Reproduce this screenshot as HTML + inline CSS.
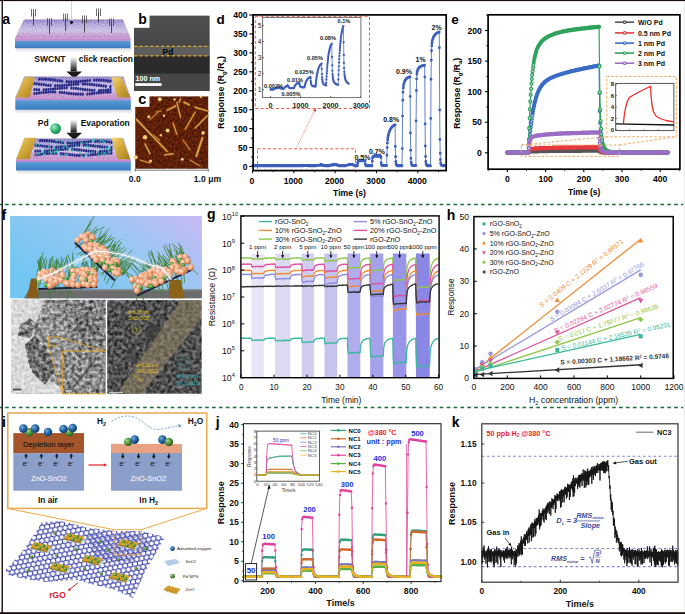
<!DOCTYPE html>
<html><head><meta charset="utf-8"><style>
html,body{margin:0;padding:0;background:#fff;}
svg{display:block;}
text{font-family:"Liberation Sans",sans-serif;}
</style></head><body>
<svg width="685" height="614" viewBox="0 0 685 614">
<defs><filter id="nzl" x="0" y="0" width="1" height="1" color-interpolation-filters="sRGB"><feTurbulence type="fractalNoise" baseFrequency="0.9" numOctaves="1" seed="4" result="n"/><feColorMatrix in="n" result="g" values="0.5 0 0 0 0.25  0.5 0 0 0 0.25  0.5 0 0 0 0.25  0 0 0 0 1"/><feBlend in="g" in2="SourceGraphic" mode="overlay" result="b"/><feComposite in="b" in2="SourceGraphic" operator="in"/></filter><linearGradient id="slabtop" x1="0" y1="0" x2="0" y2="1"><stop offset="0" stop-color="#9686cc"/><stop offset="0.3" stop-color="#b8acdc"/><stop offset="0.6" stop-color="#cec2e6"/><stop offset="0.85" stop-color="#c8a2d4"/><stop offset="1" stop-color="#c690cc"/></linearGradient><linearGradient id="blueface" x1="0" y1="0" x2="0" y2="1"><stop offset="0" stop-color="#5a9ad6"/><stop offset="1" stop-color="#3a7cc0"/></linearGradient><linearGradient id="arrowg" x1="0" y1="0" x2="0" y2="1"><stop offset="0" stop-color="#ffffff"/><stop offset="0.35" stop-color="#b0b0b0"/><stop offset="1" stop-color="#101010"/></linearGradient><linearGradient id="goldg" x1="0" y1="0" x2="1" y2="1"><stop offset="0" stop-color="#f2d878"/><stop offset="0.45" stop-color="#d4aa3c"/><stop offset="1" stop-color="#a88020"/></linearGradient><linearGradient id="shadow" x1="0" y1="0" x2="0" y2="1"><stop offset="0" stop-color="#d8d8de"/><stop offset="1" stop-color="#ffffff"/></linearGradient><radialGradient id="pdball" cx="0.35" cy="0.35" r="0.65"><stop offset="0" stop-color="#a8f0c8"/><stop offset="0.5" stop-color="#40c080"/><stop offset="1" stop-color="#1a8a50"/></radialGradient><radialGradient id="oxball" cx="0.35" cy="0.35" r="0.65"><stop offset="0" stop-color="#7ab0e0"/><stop offset="0.5" stop-color="#2a6aa8"/><stop offset="1" stop-color="#163e70"/></radialGradient><radialGradient id="grball" cx="0.35" cy="0.35" r="0.65"><stop offset="0" stop-color="#a8d890"/><stop offset="0.5" stop-color="#5a9a40"/><stop offset="1" stop-color="#2e5e20"/></radialGradient><radialGradient id="orball" cx="0.35" cy="0.35" r="0.65"><stop offset="0" stop-color="#ffe6d4"/><stop offset="0.55" stop-color="#f4aa80"/><stop offset="1" stop-color="#c87450"/></radialGradient><filter id="nzo" x="0" y="0" width="1" height="1" color-interpolation-filters="sRGB"><feTurbulence type="fractalNoise" baseFrequency="0.7" numOctaves="2" seed="3" result="n"/><feColorMatrix in="n" result="g" values="0.9 0 0 0 0.05  0.9 0 0 0 0.05  0.9 0 0 0 0.05  0 0 0 0 1"/><feBlend in="g" in2="SourceGraphic" mode="overlay" result="b"/><feComposite in="b" in2="SourceGraphic" operator="in"/></filter><filter id="nzs" x="0" y="0" width="1" height="1" color-interpolation-filters="sRGB"><feTurbulence type="fractalNoise" baseFrequency="0.5" numOctaves="3" seed="9" result="n"/><feColorMatrix in="n" result="g" values="0.75 0 0 0 0.12  0.75 0 0 0 0.12  0.75 0 0 0 0.12  0 0 0 0 1"/><feBlend in="g" in2="SourceGraphic" mode="overlay" result="b"/><feComposite in="b" in2="SourceGraphic" operator="in"/></filter><linearGradient id="bgr" x1="0" y1="0" x2="0" y2="1"><stop offset="0" stop-color="#505050"/><stop offset="1" stop-color="#464646"/></linearGradient><filter id="soft" x="-10%" y="-10%" width="120%" height="120%"><feGaussianBlur stdDeviation="0.45"/></filter><linearGradient id="fsky" x1="0" y1="0.6" x2="1" y2="0"><stop offset="0" stop-color="#72c6f2"/><stop offset="0.55" stop-color="#98c8f2"/><stop offset="1" stop-color="#c8b8f4"/></linearGradient><filter id="nzh" x="0" y="0" width="1" height="1" color-interpolation-filters="sRGB"><feTurbulence type="fractalNoise" baseFrequency="0.28" numOctaves="3" seed="5" result="n"/><feColorMatrix in="n" result="g" values="1.1 0 0 0 -0.05  1.1 0 0 0 -0.05  1.1 0 0 0 -0.05  0 0 0 0 1"/><feBlend in="g" in2="SourceGraphic" mode="overlay" result="b"/><feComposite in="b" in2="SourceGraphic" operator="in"/></filter><pattern id="hex" width="5.0" height="8.66" patternUnits="userSpaceOnUse" patternTransform="rotate(-10)"><path d="M0 1.443 L2.5 0 L5 1.443 L5 4.33 L2.5 5.774 L0 4.33 Z M2.5 5.774 L2.5 8.66" fill="none" stroke="#3238a6" stroke-width="1.05"/></pattern></defs>
<text x="216.5" y="24.3" font-size="13.5" font-weight="bold" fill="#000" text-anchor="start" >d</text>
<line x1="249.30" y1="166.50" x2="253.10" y2="166.50" stroke="#000" stroke-width="1.1" />
<text x="247.5" y="169.5" font-size="8.6" font-weight="bold" fill="#000" text-anchor="end" >0</text>
<line x1="249.30" y1="147.56" x2="253.10" y2="147.56" stroke="#000" stroke-width="1.1" />
<text x="247.5" y="150.6" font-size="8.6" font-weight="bold" fill="#000" text-anchor="end" >50</text>
<line x1="249.30" y1="128.62" x2="253.10" y2="128.62" stroke="#000" stroke-width="1.1" />
<text x="247.5" y="131.6" font-size="8.6" font-weight="bold" fill="#000" text-anchor="end" >100</text>
<line x1="249.30" y1="109.69" x2="253.10" y2="109.69" stroke="#000" stroke-width="1.1" />
<text x="247.5" y="112.7" font-size="8.6" font-weight="bold" fill="#000" text-anchor="end" >150</text>
<line x1="249.30" y1="90.75" x2="253.10" y2="90.75" stroke="#000" stroke-width="1.1" />
<text x="247.5" y="93.8" font-size="8.6" font-weight="bold" fill="#000" text-anchor="end" >200</text>
<line x1="249.30" y1="71.81" x2="253.10" y2="71.81" stroke="#000" stroke-width="1.1" />
<text x="247.5" y="74.8" font-size="8.6" font-weight="bold" fill="#000" text-anchor="end" >250</text>
<line x1="249.30" y1="52.88" x2="253.10" y2="52.88" stroke="#000" stroke-width="1.1" />
<text x="247.5" y="55.9" font-size="8.6" font-weight="bold" fill="#000" text-anchor="end" >300</text>
<line x1="249.30" y1="33.94" x2="253.10" y2="33.94" stroke="#000" stroke-width="1.1" />
<text x="247.5" y="36.9" font-size="8.6" font-weight="bold" fill="#000" text-anchor="end" >350</text>
<line x1="249.30" y1="15.00" x2="253.10" y2="15.00" stroke="#000" stroke-width="1.1" />
<text x="247.5" y="18.0" font-size="8.6" font-weight="bold" fill="#000" text-anchor="end" >400</text>
<line x1="251.00" y1="157.03" x2="253.10" y2="157.03" stroke="#000" stroke-width="0.9" />
<line x1="251.00" y1="138.09" x2="253.10" y2="138.09" stroke="#000" stroke-width="0.9" />
<line x1="251.00" y1="119.16" x2="253.10" y2="119.16" stroke="#000" stroke-width="0.9" />
<line x1="251.00" y1="100.22" x2="253.10" y2="100.22" stroke="#000" stroke-width="0.9" />
<line x1="251.00" y1="81.28" x2="253.10" y2="81.28" stroke="#000" stroke-width="0.9" />
<line x1="251.00" y1="62.34" x2="253.10" y2="62.34" stroke="#000" stroke-width="0.9" />
<line x1="251.00" y1="43.41" x2="253.10" y2="43.41" stroke="#000" stroke-width="0.9" />
<line x1="251.00" y1="24.47" x2="253.10" y2="24.47" stroke="#000" stroke-width="0.9" />
<line x1="252.60" y1="170.60" x2="252.60" y2="173.20" stroke="#000" stroke-width="1" />
<text x="252.0" y="183.5" font-size="8.6" font-weight="bold" fill="#000" text-anchor="middle" >0</text>
<line x1="293.90" y1="170.60" x2="293.90" y2="173.20" stroke="#000" stroke-width="1" />
<text x="293.3" y="183.5" font-size="8.6" font-weight="bold" fill="#000" text-anchor="middle" >1000</text>
<line x1="335.20" y1="170.60" x2="335.20" y2="173.20" stroke="#000" stroke-width="1" />
<text x="334.6" y="183.5" font-size="8.6" font-weight="bold" fill="#000" text-anchor="middle" >2000</text>
<line x1="376.50" y1="170.60" x2="376.50" y2="173.20" stroke="#000" stroke-width="1" />
<text x="375.9" y="183.5" font-size="8.6" font-weight="bold" fill="#000" text-anchor="middle" >3000</text>
<line x1="417.80" y1="170.60" x2="417.80" y2="173.20" stroke="#000" stroke-width="1" />
<text x="417.2" y="183.5" font-size="8.6" font-weight="bold" fill="#000" text-anchor="middle" >4000</text>
<line x1="273.25" y1="170.60" x2="273.25" y2="172.10" stroke="#000" stroke-width="0.9" />
<line x1="314.55" y1="170.60" x2="314.55" y2="172.10" stroke="#000" stroke-width="0.9" />
<line x1="355.85" y1="170.60" x2="355.85" y2="172.10" stroke="#000" stroke-width="0.9" />
<line x1="397.15" y1="170.60" x2="397.15" y2="172.10" stroke="#000" stroke-width="0.9" />
<line x1="438.45" y1="170.60" x2="438.45" y2="172.10" stroke="#000" stroke-width="0.9" />
<text x="349.5" y="195.6" font-size="8.6" font-weight="bold" fill="#000" text-anchor="middle" >Time (s)</text>
<text transform="translate(223.6,92.4) rotate(-90)" font-size="8.8" font-weight="bold" fill="#000" text-anchor="middle">Response (R<tspan font-size="6" dy="2">g</tspan><tspan dy="-2">/R</tspan><tspan font-size="6" dy="2">a</tspan><tspan dy="-2">)</tspan></text>
<polyline points="252.6,165.9 252.8,165.9 253.1,165.9 253.3,165.9 253.6,165.9 253.8,165.9 254.1,165.9 254.3,165.9 254.6,165.9 254.8,165.9 255.1,165.9 255.3,165.9 255.6,165.9 255.8,165.9 256.1,165.9 256.3,165.9 256.6,165.9 256.8,165.9 257.1,165.9 257.3,165.9 257.6,165.9 257.8,165.9 258.1,165.9 258.3,165.9 258.5,165.9 258.8,165.9 259.0,165.9 259.3,165.9 259.5,165.9 259.8,165.9 260.0,165.9 260.3,165.9 260.5,165.9 260.8,165.9 261.0,165.9 261.3,165.9 261.5,165.9 261.8,165.9 262.0,165.9 262.3,165.9 262.5,165.9 262.8,165.9 263.0,165.9 263.3,165.9 263.5,165.9 263.8,165.9 264.0,165.9 264.2,165.9 264.5,165.9 264.7,165.8 265.0,165.8 265.2,165.8 265.5,165.8 265.7,165.8 266.0,165.8 266.2,165.8 266.5,165.9 266.7,165.9 267.0,165.9 267.2,165.9 267.5,165.9 267.7,165.9 268.0,165.9 268.2,165.9 268.5,165.9 268.7,165.9 269.0,165.9 269.2,165.9 269.5,165.9 269.7,165.9 269.9,165.9 270.2,165.9 270.4,165.9 270.7,165.9 270.9,165.9 271.2,165.9 271.4,165.9 271.7,165.9 271.9,165.8 272.2,165.8 272.4,165.8 272.7,165.8 272.9,165.8 273.2,165.8 273.4,165.8 273.7,165.8 273.9,165.8 274.2,165.8 274.4,165.8 274.7,165.8 274.9,165.8 275.1,165.8 275.4,165.8 275.6,165.8 275.9,165.8 276.1,165.8 276.4,165.8 276.6,165.8 276.9,165.8 277.1,165.8 277.4,165.8 277.6,165.8 277.9,165.8 278.1,165.8 278.4,165.9 278.6,165.9 278.9,165.9 279.1,165.9 279.4,165.9 279.6,165.9 279.9,165.9 280.1,165.9 280.4,165.9 280.6,165.9 280.8,165.9 281.1,165.9 281.3,165.9 281.6,165.9 281.8,165.9 282.1,165.9 282.3,165.9 282.6,165.9 282.8,165.9 283.1,165.9 283.3,165.9 283.6,165.9 283.8,165.9 284.1,165.9 284.3,165.9 284.6,165.9 284.8,165.9 285.1,165.8 285.3,165.8 285.6,165.8 285.8,165.8 286.1,165.8 286.3,165.8 286.5,165.8 286.8,165.8 287.0,165.8 287.3,165.8 287.5,165.8 287.8,165.8 288.0,165.8 288.3,165.8 288.5,165.8 288.8,165.8 289.0,165.8 289.3,165.7 289.5,165.7 289.8,165.7 290.0,165.7 290.3,165.7 290.5,165.7 290.8,165.7 291.0,165.7 291.3,165.7 291.5,165.7 291.8,165.7 292.0,165.7 292.2,165.7 292.5,165.8 292.7,165.8 293.0,165.8 293.2,165.8 293.5,165.8 293.7,165.8 294.0,165.8 294.2,165.8 294.5,165.8 294.7,165.8 295.0,165.8 295.2,165.8 295.5,165.8 295.7,165.8 296.0,165.8 296.2,165.8 296.5,165.8 296.7,165.8 297.0,165.8 297.2,165.8 297.5,165.8 297.7,165.8 297.9,165.8 298.2,165.8 298.4,165.8 298.7,165.8 298.9,165.8 299.2,165.8 299.4,165.8 299.7,165.8 299.9,165.8 300.2,165.8 300.4,165.8 300.7,165.7 300.9,165.7 301.2,165.7 301.4,165.7 301.7,165.7 301.9,165.7 302.2,165.7 302.4,165.7 302.7,165.7 302.9,165.7 303.2,165.7 303.4,165.6 303.6,165.6 303.9,165.6 304.1,165.6 304.4,165.6 304.6,165.6 304.9,165.6 305.1,165.6 305.4,165.6 305.6,165.6 305.9,165.6 306.1,165.6 306.4,165.6 306.6,165.6 306.9,165.6 307.1,165.6 307.4,165.6 307.6,165.6 307.9,165.7 308.1,165.7 308.4,165.8 308.6,165.8 308.9,165.8 309.1,165.8 309.3,165.8 309.6,165.8 309.8,165.8 310.1,165.8 310.3,165.8 310.6,165.8 310.8,165.8 311.1,165.8 311.3,165.8 311.6,165.8 311.8,165.8 312.1,165.8 312.3,165.8 312.6,165.8 312.8,165.8 313.1,165.8 313.3,165.8 313.6,165.8 313.8,165.8 314.1,165.8 314.3,165.8 314.6,165.8 314.8,165.8 315.0,165.7 315.3,165.7 315.5,165.7 315.8,165.6 316.0,165.6 316.3,165.6 316.5,165.5 316.8,165.5 317.0,165.5 317.3,165.5 317.5,165.5 317.8,165.4 318.0,165.4 318.3,165.4 318.5,165.4 318.8,165.4 319.0,165.4 319.3,165.4 319.5,165.4 319.8,165.3 320.0,165.3 320.2,165.3 320.5,165.3 320.7,165.3 321.0,165.3 321.2,165.3 321.5,165.3 321.7,165.3 322.0,165.3 322.2,165.3 322.5,165.3 322.7,165.3 323.0,165.4 323.2,165.5 323.5,165.6 323.7,165.7 324.0,165.7 324.2,165.7 324.5,165.7 324.7,165.7 325.0,165.7 325.2,165.8 325.5,165.8 325.7,165.8 325.9,165.8 326.2,165.8 326.4,165.8 326.7,165.8 326.9,165.8 327.2,165.8 327.4,165.8 327.7,165.8 327.9,165.8 328.2,165.8 328.4,165.8 328.7,165.8 328.9,165.8 329.2,165.7 329.4,165.7 329.7,165.6 329.9,165.5 330.2,165.4 330.4,165.4 330.7,165.3 330.9,165.3 331.2,165.2 331.4,165.2 331.6,165.2 331.9,165.1 332.1,165.1 332.4,165.1 332.6,165.0 332.9,165.0 333.1,165.0 333.4,165.0 333.6,165.0 333.9,164.9 334.1,164.9 334.4,164.9 334.6,164.9 334.9,164.9 335.1,164.9 335.4,164.9 335.6,164.8 335.9,164.8 336.1,164.8 336.4,164.8 336.6,164.8 336.9,164.8 337.1,165.1 337.3,165.3 337.6,165.4 337.8,165.5 338.1,165.6 338.3,165.6 338.6,165.6 338.8,165.7 339.1,165.7 339.3,165.7 339.6,165.7 339.8,165.7 340.1,165.7 340.3,165.7 340.6,165.7 340.8,165.7 341.1,165.7 341.3,165.7 341.6,165.8 341.8,165.8 342.1,165.8 342.3,165.8 342.6,165.8 342.8,165.8 343.0,165.8 343.3,165.8 343.5,165.8 343.8,165.8 344.0,165.8 344.3,165.8 344.5,165.8 344.8,165.8 345.0,165.8 345.3,165.8 345.5,165.8 345.8,165.7 346.0,165.5 346.3,165.4 346.5,165.3 346.8,165.3 347.0,165.2 347.3,165.1 347.5,165.0 347.8,165.0 348.0,164.9 348.3,164.9 348.5,164.8 348.7,164.8 349.0,164.7 349.2,164.7 349.5,164.7 349.7,164.6 350.0,164.6 350.2,164.6 350.5,164.5 350.7,164.5 351.0,164.5 351.2,164.5 351.5,164.5 351.7,164.4 352.0,164.4 352.2,164.4 352.5,164.4 352.7,164.4 353.0,164.8 353.2,165.1 353.5,165.3 353.7,165.4 354.0,165.5 354.2,165.5 354.4,165.6 354.7,165.6 354.9,165.6 355.2,165.6 355.4,165.7 355.7,165.7 355.9,165.7 356.2,165.7 356.4,165.7 356.7,165.7 356.9,165.7 357.2,165.7 357.4,165.7 357.7,163.3 357.9,161.7 358.2,161.2 358.4,160.9 358.7,160.9 358.9,160.8 359.2,160.8 359.4,160.8 359.6,160.8 359.9,160.8 360.1,160.8 360.4,160.8 360.6,160.8 360.9,160.8 361.1,160.8 361.4,160.8 361.6,160.8 361.9,160.8 362.1,160.8 362.4,160.8 362.6,160.8 362.9,160.8 363.1,160.9 363.4,160.9 363.6,160.9 363.9,160.9 364.1,160.9 364.4,160.9 364.6,160.9 364.9,160.9 365.1,160.9 365.3,164.0 365.6,165.2 365.8,165.6 366.1,165.7 366.3,165.8 366.6,165.8 366.8,165.8 367.1,165.8 367.3,165.8 367.6,165.8 367.8,165.9 368.1,165.9 368.3,165.9 368.6,165.9 368.8,165.9 369.1,165.9 369.3,165.9 369.6,165.9 369.8,165.9 370.1,165.9 370.3,165.9 370.6,165.9 370.8,165.9 371.0,165.8 371.3,165.8 371.5,165.8 371.8,165.8 372.0,165.8 372.3,161.2 372.5,158.2 372.8,157.0 373.0,156.6 373.3,156.4 373.5,156.4 373.8,156.4 374.0,156.3 374.3,156.3 374.5,156.3 374.8,156.3 375.0,156.3 375.3,156.3 375.5,156.3 375.8,156.3 376.0,156.3 376.3,156.3 376.5,156.3 376.7,156.3 377.0,156.3 377.2,156.3 377.5,156.3 377.7,156.3 378.0,156.3 378.2,156.2 378.5,156.2 378.7,156.2 379.0,156.2 379.2,156.2 379.5,156.2 379.7,156.2 380.0,156.2 380.2,156.2 380.5,156.2 380.7,156.2 381.0,157.6 381.2,162.7 381.5,164.6 381.7,165.3 382.0,165.5 382.2,165.6 382.4,165.6 382.7,165.6 382.9,165.6 383.2,165.6 383.4,165.6 383.7,165.6 383.9,165.6 384.2,165.6 384.4,165.6 384.7,165.6 384.9,165.6 385.2,165.6 385.4,165.6 385.7,165.6 385.9,165.6 386.2,165.6 386.4,165.6 386.7,165.6 386.9,155.3 387.2,147.6 387.4,142.9 387.7,139.9 387.9,137.8 388.1,136.3 388.4,135.1 388.6,134.1 388.9,133.2 389.1,132.4 389.4,131.8 389.6,131.1 389.9,130.6 390.1,130.0 390.4,129.5 390.6,129.1 390.9,128.7 391.1,128.3 391.4,127.9 391.6,127.6 391.9,127.3 392.1,127.0 392.4,126.8 392.6,126.5 392.9,126.3 393.1,126.1 393.4,125.9 393.6,125.7 393.8,125.5 394.1,125.4 394.3,125.2 394.6,125.1 394.8,125.0 395.1,124.9 395.3,146.5 395.6,156.7 395.8,161.5 396.1,163.8 396.3,164.9 396.6,165.4 396.8,165.6 397.1,165.7 397.3,165.8 397.6,165.8 397.8,165.8 398.1,165.8 398.3,165.8 398.6,165.8 398.8,165.8 399.0,165.9 399.3,165.9 399.5,165.9 399.8,165.9 400.0,165.9 400.3,165.9 400.5,165.9 400.8,165.9 401.0,165.9 401.3,165.9 401.5,165.9 401.8,165.9 402.0,165.9 402.3,148.6 402.5,116.1 402.8,100.3 403.0,92.3 403.3,88.1 403.5,85.7 403.8,84.2 404.0,83.2 404.3,82.4 404.5,81.8 404.7,81.2 405.0,80.8 405.2,80.3 405.5,80.0 405.7,79.6 406.0,79.3 406.2,79.0 406.5,78.8 406.7,78.5 407.0,78.3 407.2,78.1 407.5,78.0 407.7,77.8 408.0,77.7 408.2,77.5 408.5,77.4 408.7,77.3 409.0,77.2 409.2,77.1 409.5,77.0 409.7,77.0 410.0,76.9 410.2,96.5 410.4,133.0 410.7,150.3 410.9,158.4 411.2,162.2 411.4,164.0 411.7,164.9 411.9,165.3 412.2,165.5 412.4,165.6 412.7,165.6 412.9,165.6 413.2,165.6 413.4,165.6 413.7,165.6 413.9,165.6 414.2,165.6 414.4,165.6 414.7,165.6 414.9,165.6 415.2,165.6 415.4,165.6 415.7,165.6 415.9,165.6 416.1,120.9 416.4,90.5 416.6,78.9 416.9,74.2 417.1,72.1 417.4,70.9 417.6,70.2 417.9,69.6 418.1,69.1 418.4,68.7 418.6,68.4 418.9,68.0 419.1,67.7 419.4,67.5 419.6,67.2 419.9,67.0 420.1,66.8 420.4,66.6 420.6,66.5 420.9,66.3 421.1,66.2 421.4,66.1 421.6,66.0 421.8,65.9 422.1,65.8 422.3,65.7 422.6,65.7 422.8,65.6 423.1,65.6 423.3,65.5 423.6,65.5 423.8,65.4 424.1,65.4 424.3,65.4 424.6,65.3 424.8,77.1 425.1,123.9 425.3,146.0 425.6,156.4 425.8,161.4 426.1,163.7 426.3,164.8 426.6,165.3 426.8,165.6 427.1,165.7 427.3,165.8 427.5,165.8 427.8,165.8 428.0,165.8 428.3,165.8 428.5,165.8 428.8,165.8 429.0,165.8 429.3,165.8 429.5,165.8 429.8,165.8 430.0,165.9 430.3,165.9 430.5,165.9 430.8,118.4 431.0,79.3 431.3,60.3 431.5,50.7 431.8,45.8 432.0,43.0 432.3,41.3 432.5,40.1 432.8,39.3 433.0,38.5 433.2,37.9 433.5,37.3 433.7,36.8 434.0,36.4 434.2,36.0 434.5,35.6 434.7,35.2 435.0,34.9 435.2,34.6 435.5,34.4 435.7,34.1 436.0,33.9 436.2,33.7 436.5,33.5 436.7,33.3 437.0,33.1 437.2,33.0 437.5,32.8 437.7,32.7 438.0,32.6 438.2,32.5 438.5,32.4 438.7,32.3 438.9,32.2 439.2,32.1 439.4,47.8 439.7,110.0 439.9,139.4 440.2,153.3 440.4,159.8 440.7,162.9 440.9,164.4 441.2,165.1 441.4,165.4 441.7,165.6 441.9,165.6 442.2,165.7 442.4,165.7 442.7,165.7 442.9,165.7 443.2,165.7 443.4,165.7 443.7,165.7 443.9,165.7 444.1,165.6 444.4,165.6 444.6,165.6 444.9,165.6" fill="none" stroke="#3d5fba" stroke-width="0.8" stroke-linejoin="round" />
<path d="M252.6 165.9h0M252.8 165.9h0M253.1 165.9h0M253.3 165.9h0M253.6 165.9h0M253.8 165.9h0M254.1 165.9h0M254.3 165.9h0M254.6 165.9h0M254.8 165.9h0M255.1 165.9h0M255.3 165.9h0M255.6 165.9h0M255.8 165.9h0M256.1 165.9h0M256.3 165.9h0M256.6 165.9h0M256.8 165.9h0M257.1 165.9h0M257.3 165.9h0M257.6 165.9h0M257.8 165.9h0M258.1 165.9h0M258.3 165.9h0M258.5 165.9h0M258.8 165.9h0M259.0 165.9h0M259.3 165.9h0M259.5 165.9h0M259.8 165.9h0M260.0 165.9h0M260.3 165.9h0M260.5 165.9h0M260.8 165.9h0M261.0 165.9h0M261.3 165.9h0M261.5 165.9h0M261.8 165.9h0M262.0 165.9h0M262.3 165.9h0M262.5 165.9h0M262.8 165.9h0M263.0 165.9h0M263.3 165.9h0M263.5 165.9h0M263.8 165.9h0M264.0 165.9h0M264.2 165.9h0M264.5 165.9h0M264.7 165.8h0M265.0 165.8h0M265.2 165.8h0M265.5 165.8h0M265.7 165.8h0M266.0 165.8h0M266.2 165.8h0M266.5 165.9h0M266.7 165.9h0M267.0 165.9h0M267.2 165.9h0M267.5 165.9h0M267.7 165.9h0M268.0 165.9h0M268.2 165.9h0M268.5 165.9h0M268.7 165.9h0M269.0 165.9h0M269.2 165.9h0M269.5 165.9h0M269.7 165.9h0M269.9 165.9h0M270.2 165.9h0M270.4 165.9h0M270.7 165.9h0M270.9 165.9h0M271.2 165.9h0M271.4 165.9h0M271.7 165.9h0M271.9 165.8h0M272.2 165.8h0M272.4 165.8h0M272.7 165.8h0M272.9 165.8h0M273.2 165.8h0M273.4 165.8h0M273.7 165.8h0M273.9 165.8h0M274.2 165.8h0M274.4 165.8h0M274.7 165.8h0M274.9 165.8h0M275.1 165.8h0M275.4 165.8h0M275.6 165.8h0M275.9 165.8h0M276.1 165.8h0M276.4 165.8h0M276.6 165.8h0M276.9 165.8h0M277.1 165.8h0M277.4 165.8h0M277.6 165.8h0M277.9 165.8h0M278.1 165.8h0M278.4 165.9h0M278.6 165.9h0M278.9 165.9h0M279.1 165.9h0M279.4 165.9h0M279.6 165.9h0M279.9 165.9h0M280.1 165.9h0M280.4 165.9h0M280.6 165.9h0M280.8 165.9h0M281.1 165.9h0M281.3 165.9h0M281.6 165.9h0M281.8 165.9h0M282.1 165.9h0M282.3 165.9h0M282.6 165.9h0M282.8 165.9h0M283.1 165.9h0M283.3 165.9h0M283.6 165.9h0M283.8 165.9h0M284.1 165.9h0M284.3 165.9h0M284.6 165.9h0M284.8 165.9h0M285.1 165.8h0M285.3 165.8h0M285.6 165.8h0M285.8 165.8h0M286.1 165.8h0M286.3 165.8h0M286.5 165.8h0M286.8 165.8h0M287.0 165.8h0M287.3 165.8h0M287.5 165.8h0M287.8 165.8h0M288.0 165.8h0M288.3 165.8h0M288.5 165.8h0M288.8 165.8h0M289.0 165.8h0M289.3 165.7h0M289.5 165.7h0M289.8 165.7h0M290.0 165.7h0M290.3 165.7h0M290.5 165.7h0M290.8 165.7h0M291.0 165.7h0M291.3 165.7h0M291.5 165.7h0M291.8 165.7h0M292.0 165.7h0M292.2 165.7h0M292.5 165.8h0M292.7 165.8h0M293.0 165.8h0M293.2 165.8h0M293.5 165.8h0M293.7 165.8h0M294.0 165.8h0M294.2 165.8h0M294.5 165.8h0M294.7 165.8h0M295.0 165.8h0M295.2 165.8h0M295.5 165.8h0M295.7 165.8h0M296.0 165.8h0M296.2 165.8h0M296.5 165.8h0M296.7 165.8h0M297.0 165.8h0M297.2 165.8h0M297.5 165.8h0M297.7 165.8h0M297.9 165.8h0M298.2 165.8h0M298.4 165.8h0M298.7 165.8h0M298.9 165.8h0M299.2 165.8h0M299.4 165.8h0M299.7 165.8h0M299.9 165.8h0M300.2 165.8h0M300.4 165.8h0M300.7 165.7h0M300.9 165.7h0M301.2 165.7h0M301.4 165.7h0M301.7 165.7h0M301.9 165.7h0M302.2 165.7h0M302.4 165.7h0M302.7 165.7h0M302.9 165.7h0M303.2 165.7h0M303.4 165.6h0M303.6 165.6h0M303.9 165.6h0M304.1 165.6h0M304.4 165.6h0M304.6 165.6h0M304.9 165.6h0M305.1 165.6h0M305.4 165.6h0M305.6 165.6h0M305.9 165.6h0M306.1 165.6h0M306.4 165.6h0M306.6 165.6h0M306.9 165.6h0M307.1 165.6h0M307.4 165.6h0M307.6 165.6h0M307.9 165.7h0M308.1 165.7h0M308.4 165.8h0M308.6 165.8h0M308.9 165.8h0M309.1 165.8h0M309.3 165.8h0M309.6 165.8h0M309.8 165.8h0M310.1 165.8h0M310.3 165.8h0M310.6 165.8h0M310.8 165.8h0M311.1 165.8h0M311.3 165.8h0M311.6 165.8h0M311.8 165.8h0M312.1 165.8h0M312.3 165.8h0M312.6 165.8h0M312.8 165.8h0M313.1 165.8h0M313.3 165.8h0M313.6 165.8h0M313.8 165.8h0M314.1 165.8h0M314.3 165.8h0M314.6 165.8h0M314.8 165.8h0M315.0 165.7h0M315.3 165.7h0M315.5 165.7h0M315.8 165.6h0M316.0 165.6h0M316.3 165.6h0M316.5 165.5h0M316.8 165.5h0M317.0 165.5h0M317.3 165.5h0M317.5 165.5h0M317.8 165.4h0M318.0 165.4h0M318.3 165.4h0M318.5 165.4h0M318.8 165.4h0M319.0 165.4h0M319.3 165.4h0M319.5 165.4h0M319.8 165.3h0M320.0 165.3h0M320.2 165.3h0M320.5 165.3h0M320.7 165.3h0M321.0 165.3h0M321.2 165.3h0M321.5 165.3h0M321.7 165.3h0M322.0 165.3h0M322.2 165.3h0M322.5 165.3h0M322.7 165.3h0M323.0 165.4h0M323.2 165.5h0M323.5 165.6h0M323.7 165.7h0M324.0 165.7h0M324.2 165.7h0M324.5 165.7h0M324.7 165.7h0M325.0 165.7h0M325.2 165.8h0M325.5 165.8h0M325.7 165.8h0M325.9 165.8h0M326.2 165.8h0M326.4 165.8h0M326.7 165.8h0M326.9 165.8h0M327.2 165.8h0M327.4 165.8h0M327.7 165.8h0M327.9 165.8h0M328.2 165.8h0M328.4 165.8h0M328.7 165.8h0M328.9 165.8h0M329.2 165.7h0M329.4 165.7h0M329.7 165.6h0M329.9 165.5h0M330.2 165.4h0M330.4 165.4h0M330.7 165.3h0M330.9 165.3h0M331.2 165.2h0M331.4 165.2h0M331.6 165.2h0M331.9 165.1h0M332.1 165.1h0M332.4 165.1h0M332.6 165.0h0M332.9 165.0h0M333.1 165.0h0M333.4 165.0h0M333.6 165.0h0M333.9 164.9h0M334.1 164.9h0M334.4 164.9h0M334.6 164.9h0M334.9 164.9h0M335.1 164.9h0M335.4 164.9h0M335.6 164.8h0M335.9 164.8h0M336.1 164.8h0M336.4 164.8h0M336.6 164.8h0M336.9 164.8h0M337.1 165.1h0M337.3 165.3h0M337.6 165.4h0M337.8 165.5h0M338.1 165.6h0M338.3 165.6h0M338.6 165.6h0M338.8 165.7h0M339.1 165.7h0M339.3 165.7h0M339.6 165.7h0M339.8 165.7h0M340.1 165.7h0M340.3 165.7h0M340.6 165.7h0M340.8 165.7h0M341.1 165.7h0M341.3 165.7h0M341.6 165.8h0M341.8 165.8h0M342.1 165.8h0M342.3 165.8h0M342.6 165.8h0M342.8 165.8h0M343.0 165.8h0M343.3 165.8h0M343.5 165.8h0M343.8 165.8h0M344.0 165.8h0M344.3 165.8h0M344.5 165.8h0M344.8 165.8h0M345.0 165.8h0M345.3 165.8h0M345.5 165.8h0M345.8 165.7h0M346.0 165.5h0M346.3 165.4h0M346.5 165.3h0M346.8 165.3h0M347.0 165.2h0M347.3 165.1h0M347.5 165.0h0M347.8 165.0h0M348.0 164.9h0M348.3 164.9h0M348.5 164.8h0M348.7 164.8h0M349.0 164.7h0M349.2 164.7h0M349.5 164.7h0M349.7 164.6h0M350.0 164.6h0M350.2 164.6h0M350.5 164.5h0M350.7 164.5h0M351.0 164.5h0M351.2 164.5h0M351.5 164.5h0M351.7 164.4h0M352.0 164.4h0M352.2 164.4h0M352.5 164.4h0M352.7 164.4h0M353.0 164.8h0M353.2 165.1h0M353.5 165.3h0M353.7 165.4h0M354.0 165.5h0M354.2 165.5h0M354.4 165.6h0M354.7 165.6h0M354.9 165.6h0M355.2 165.6h0M355.4 165.7h0M355.7 165.7h0M355.9 165.7h0M356.2 165.7h0M356.4 165.7h0M356.7 165.7h0M356.9 165.7h0M357.2 165.7h0M357.4 165.7h0M357.7 163.3h0M357.9 161.7h0M358.2 161.2h0M358.4 160.9h0M358.7 160.9h0M358.9 160.8h0M359.2 160.8h0M359.4 160.8h0M359.6 160.8h0M359.9 160.8h0M360.1 160.8h0M360.4 160.8h0M360.6 160.8h0M360.9 160.8h0M361.1 160.8h0M361.4 160.8h0M361.6 160.8h0M361.9 160.8h0M362.1 160.8h0M362.4 160.8h0M362.6 160.8h0M362.9 160.8h0M363.1 160.9h0M363.4 160.9h0M363.6 160.9h0M363.9 160.9h0M364.1 160.9h0M364.4 160.9h0M364.6 160.9h0M364.9 160.9h0M365.1 160.9h0M365.3 164.0h0M365.6 165.2h0M365.8 165.6h0M366.1 165.7h0M366.3 165.8h0M366.6 165.8h0M366.8 165.8h0M367.1 165.8h0M367.3 165.8h0M367.6 165.8h0M367.8 165.9h0M368.1 165.9h0M368.3 165.9h0M368.6 165.9h0M368.8 165.9h0M369.1 165.9h0M369.3 165.9h0M369.6 165.9h0M369.8 165.9h0M370.1 165.9h0M370.3 165.9h0M370.6 165.9h0M370.8 165.9h0M371.0 165.8h0M371.3 165.8h0M371.5 165.8h0M371.8 165.8h0M372.0 165.8h0M372.3 161.2h0M372.5 158.2h0M372.8 157.0h0M373.0 156.6h0M373.3 156.4h0M373.5 156.4h0M373.8 156.4h0M374.0 156.3h0M374.3 156.3h0M374.5 156.3h0M374.8 156.3h0M375.0 156.3h0M375.3 156.3h0M375.5 156.3h0M375.8 156.3h0M376.0 156.3h0M376.3 156.3h0M376.5 156.3h0M376.7 156.3h0M377.0 156.3h0M377.2 156.3h0M377.5 156.3h0M377.7 156.3h0M378.0 156.3h0M378.2 156.2h0M378.5 156.2h0M378.7 156.2h0M379.0 156.2h0M379.2 156.2h0M379.5 156.2h0M379.7 156.2h0M380.0 156.2h0M380.2 156.2h0M380.5 156.2h0M380.7 156.2h0M381.0 157.6h0M381.2 162.7h0M381.5 164.6h0M381.7 165.3h0M382.0 165.5h0M382.2 165.6h0M382.4 165.6h0M382.7 165.6h0M382.9 165.6h0M383.2 165.6h0M383.4 165.6h0M383.7 165.6h0M383.9 165.6h0M384.2 165.6h0M384.4 165.6h0M384.7 165.6h0M384.9 165.6h0M385.2 165.6h0M385.4 165.6h0M385.7 165.6h0M385.9 165.6h0M386.2 165.6h0M386.4 165.6h0M386.7 165.6h0M386.9 155.3h0M387.2 147.6h0M387.4 142.9h0M387.7 139.9h0M387.9 137.8h0M388.1 136.3h0M388.4 135.1h0M388.6 134.1h0M388.9 133.2h0M389.1 132.4h0M389.4 131.8h0M389.6 131.1h0M389.9 130.6h0M390.1 130.0h0M390.4 129.5h0M390.6 129.1h0M390.9 128.7h0M391.1 128.3h0M391.4 127.9h0M391.6 127.6h0M391.9 127.3h0M392.1 127.0h0M392.4 126.8h0M392.6 126.5h0M392.9 126.3h0M393.1 126.1h0M393.4 125.9h0M393.6 125.7h0M393.8 125.5h0M394.1 125.4h0M394.3 125.2h0M394.6 125.1h0M394.8 125.0h0M395.1 124.9h0M395.3 146.5h0M395.6 156.7h0M395.8 161.5h0M396.1 163.8h0M396.3 164.9h0M396.6 165.4h0M396.8 165.6h0M397.1 165.7h0M397.3 165.8h0M397.6 165.8h0M397.8 165.8h0M398.1 165.8h0M398.3 165.8h0M398.6 165.8h0M398.8 165.8h0M399.0 165.9h0M399.3 165.9h0M399.5 165.9h0M399.8 165.9h0M400.0 165.9h0M400.3 165.9h0M400.5 165.9h0M400.8 165.9h0M401.0 165.9h0M401.3 165.9h0M401.5 165.9h0M401.8 165.9h0M402.0 165.9h0M402.3 148.6h0M402.5 116.1h0M402.8 100.3h0M403.0 92.3h0M403.3 88.1h0M403.5 85.7h0M403.8 84.2h0M404.0 83.2h0M404.3 82.4h0M404.5 81.8h0M404.7 81.2h0M405.0 80.8h0M405.2 80.3h0M405.5 80.0h0M405.7 79.6h0M406.0 79.3h0M406.2 79.0h0M406.5 78.8h0M406.7 78.5h0M407.0 78.3h0M407.2 78.1h0M407.5 78.0h0M407.7 77.8h0M408.0 77.7h0M408.2 77.5h0M408.5 77.4h0M408.7 77.3h0M409.0 77.2h0M409.2 77.1h0M409.5 77.0h0M409.7 77.0h0M410.0 76.9h0M410.2 96.5h0M410.4 133.0h0M410.7 150.3h0M410.9 158.4h0M411.2 162.2h0M411.4 164.0h0M411.7 164.9h0M411.9 165.3h0M412.2 165.5h0M412.4 165.6h0M412.7 165.6h0M412.9 165.6h0M413.2 165.6h0M413.4 165.6h0M413.7 165.6h0M413.9 165.6h0M414.2 165.6h0M414.4 165.6h0M414.7 165.6h0M414.9 165.6h0M415.2 165.6h0M415.4 165.6h0M415.7 165.6h0M415.9 165.6h0M416.1 120.9h0M416.4 90.5h0M416.6 78.9h0M416.9 74.2h0M417.1 72.1h0M417.4 70.9h0M417.6 70.2h0M417.9 69.6h0M418.1 69.1h0M418.4 68.7h0M418.6 68.4h0M418.9 68.0h0M419.1 67.7h0M419.4 67.5h0M419.6 67.2h0M419.9 67.0h0M420.1 66.8h0M420.4 66.6h0M420.6 66.5h0M420.9 66.3h0M421.1 66.2h0M421.4 66.1h0M421.6 66.0h0M421.8 65.9h0M422.1 65.8h0M422.3 65.7h0M422.6 65.7h0M422.8 65.6h0M423.1 65.6h0M423.3 65.5h0M423.6 65.5h0M423.8 65.4h0M424.1 65.4h0M424.3 65.4h0M424.6 65.3h0M424.8 77.1h0M425.1 123.9h0M425.3 146.0h0M425.6 156.4h0M425.8 161.4h0M426.1 163.7h0M426.3 164.8h0M426.6 165.3h0M426.8 165.6h0M427.1 165.7h0M427.3 165.8h0M427.5 165.8h0M427.8 165.8h0M428.0 165.8h0M428.3 165.8h0M428.5 165.8h0M428.8 165.8h0M429.0 165.8h0M429.3 165.8h0M429.5 165.8h0M429.8 165.8h0M430.0 165.9h0M430.3 165.9h0M430.5 165.9h0M430.8 118.4h0M431.0 79.3h0M431.3 60.3h0M431.5 50.7h0M431.8 45.8h0M432.0 43.0h0M432.3 41.3h0M432.5 40.1h0M432.8 39.3h0M433.0 38.5h0M433.2 37.9h0M433.5 37.3h0M433.7 36.8h0M434.0 36.4h0M434.2 36.0h0M434.5 35.6h0M434.7 35.2h0M435.0 34.9h0M435.2 34.6h0M435.5 34.4h0M435.7 34.1h0M436.0 33.9h0M436.2 33.7h0M436.5 33.5h0M436.7 33.3h0M437.0 33.1h0M437.2 33.0h0M437.5 32.8h0M437.7 32.7h0M438.0 32.6h0M438.2 32.5h0M438.5 32.4h0M438.7 32.3h0M438.9 32.2h0M439.2 32.1h0M439.4 47.8h0M439.7 110.0h0M439.9 139.4h0M440.2 153.3h0M440.4 159.8h0M440.7 162.9h0M440.9 164.4h0M441.2 165.1h0M441.4 165.4h0M441.7 165.6h0M441.9 165.6h0M442.2 165.7h0M442.4 165.7h0M442.7 165.7h0M442.9 165.7h0M443.2 165.7h0M443.4 165.7h0M443.7 165.7h0M443.9 165.7h0M444.1 165.6h0M444.4 165.6h0M444.6 165.6h0M444.9 165.6h0" stroke="#3d5fba" stroke-width="2.90" stroke-linecap="round" fill="none" />
<text x="354.5" y="160.3" font-size="7" font-weight="bold" fill="#111" text-anchor="start" >0.5%</text>
<text x="369.0" y="154.4" font-size="7" font-weight="bold" fill="#111" text-anchor="start" >0.7%</text>
<text x="383.2" y="121.5" font-size="7" font-weight="bold" fill="#111" text-anchor="start" >0.8%</text>
<text x="396.0" y="73.8" font-size="7" font-weight="bold" fill="#111" text-anchor="start" >0.9%</text>
<text x="415.6" y="62.1" font-size="7" font-weight="bold" fill="#111" text-anchor="start" >1%</text>
<text x="431.5" y="30.0" font-size="7" font-weight="bold" fill="#111" text-anchor="start" >2%</text>
<rect x="257.50" y="148.80" width="97.90" height="21.40" fill="none" stroke="#e8483a" stroke-width="0.9" stroke-dasharray="3 2.2"/>
<rect x="255.30" y="16.70" width="114.20" height="91.80" fill="none" stroke="#e8483a" stroke-width="0.9" stroke-dasharray="3 2.2"/>
<line x1="296.00" y1="148.80" x2="314.60" y2="110.80" stroke="#e8483a" stroke-width="0.9" stroke-dasharray="1 1.5"/>
<polygon points="316.00,108.30 312.80,110.60 315.90,112.00" fill="#e8483a" stroke="none" stroke-width="1" />
<rect x="262.60" y="17.40" width="98.30" height="80.20" fill="#fff" stroke="#666" stroke-width="0.9" />
<line x1="262.60" y1="89.70" x2="264.10" y2="89.70" stroke="#444" stroke-width="0.8" />
<text x="261.6" y="92.1" font-size="6.8" font-weight="normal" fill="#222" text-anchor="end" >1</text>
<line x1="262.60" y1="73.63" x2="264.10" y2="73.63" stroke="#444" stroke-width="0.8" />
<text x="261.6" y="76.0" font-size="6.8" font-weight="normal" fill="#222" text-anchor="end" >2</text>
<line x1="262.60" y1="57.56" x2="264.10" y2="57.56" stroke="#444" stroke-width="0.8" />
<text x="261.6" y="60.0" font-size="6.8" font-weight="normal" fill="#222" text-anchor="end" >3</text>
<line x1="262.60" y1="41.49" x2="264.10" y2="41.49" stroke="#444" stroke-width="0.8" />
<text x="261.6" y="43.9" font-size="6.8" font-weight="normal" fill="#222" text-anchor="end" >4</text>
<line x1="262.60" y1="25.42" x2="264.10" y2="25.42" stroke="#444" stroke-width="0.8" />
<text x="261.6" y="27.8" font-size="6.8" font-weight="normal" fill="#222" text-anchor="end" >5</text>
<line x1="270.50" y1="97.60" x2="270.50" y2="96.10" stroke="#444" stroke-width="0.8" />
<text x="270.5" y="108.3" font-size="7.2" font-weight="bold" fill="#222" text-anchor="middle" >0</text>
<line x1="300.57" y1="97.60" x2="300.57" y2="96.10" stroke="#444" stroke-width="0.8" />
<text x="300.6" y="108.3" font-size="7.2" font-weight="bold" fill="#222" text-anchor="middle" >1000</text>
<line x1="330.64" y1="97.60" x2="330.64" y2="96.10" stroke="#444" stroke-width="0.8" />
<text x="330.6" y="108.3" font-size="7.2" font-weight="bold" fill="#222" text-anchor="middle" >2000</text>
<line x1="360.71" y1="97.60" x2="360.71" y2="96.10" stroke="#444" stroke-width="0.8" />
<text x="360.7" y="108.3" font-size="7.2" font-weight="bold" fill="#222" text-anchor="middle" >3000</text>
<polyline points="270.5,89.7 270.7,89.7 270.9,89.7 271.0,89.7 271.2,89.7 271.4,89.6 271.6,89.6 271.8,89.6 271.9,89.6 272.1,89.6 272.3,89.6 272.5,89.6 272.7,89.6 272.8,89.5 273.0,89.5 273.2,89.5 273.4,89.5 273.6,89.4 273.7,89.3 273.9,89.2 274.1,89.1 274.3,89.0 274.5,88.9 274.6,88.8 274.8,88.7 275.0,88.6 275.2,88.6 275.4,88.5 275.6,88.5 275.7,88.4 275.9,88.4 276.1,88.3 276.3,88.3 276.5,88.2 276.6,88.2 276.8,88.2 277.0,88.1 277.2,88.1 277.4,88.1 277.5,88.0 277.7,88.0 277.9,88.0 278.1,88.0 278.3,87.9 278.4,87.9 278.6,87.9 278.8,87.9 279.0,87.9 279.2,87.9 279.3,87.8 279.5,87.8 279.7,87.8 279.9,87.8 280.1,87.8 280.2,87.8 280.4,87.7 280.6,88.1 280.8,88.4 281.0,88.5 281.1,88.6 281.3,88.7 281.5,88.7 281.7,88.7 281.9,88.8 282.0,88.8 282.2,88.8 282.4,88.8 282.6,88.8 282.8,88.8 282.9,88.8 283.1,88.8 283.3,88.8 283.5,88.8 283.7,88.7 283.9,88.7 284.0,88.7 284.2,88.4 284.4,88.1 284.6,87.8 284.8,87.6 284.9,87.4 285.1,87.2 285.3,87.0 285.5,86.9 285.7,86.7 285.8,86.6 286.0,86.5 286.2,86.4 286.4,86.3 286.6,86.2 286.7,86.2 286.9,86.1 287.1,86.0 287.3,86.0 287.5,85.9 287.6,85.9 287.8,85.8 288.0,85.8 288.2,85.8 288.4,86.4 288.5,87.0 288.7,87.4 288.9,87.6 289.1,87.8 289.3,87.9 289.4,88.0 289.6,88.0 289.8,88.1 290.0,88.1 290.2,88.1 290.3,88.1 290.5,88.1 290.7,88.1 290.9,88.1 291.1,88.1 291.2,88.2 291.4,88.2 291.6,88.1 291.8,88.1 292.0,88.1 292.2,88.1 292.3,88.1 292.5,88.1 292.7,88.1 292.9,88.1 293.1,88.1 293.2,88.1 293.4,88.1 293.6,88.1 293.8,88.1 294.0,88.1 294.1,87.6 294.3,87.2 294.5,86.8 294.7,86.4 294.9,86.1 295.0,85.8 295.2,85.5 295.4,85.2 295.6,85.0 295.8,84.8 295.9,84.6 296.1,84.4 296.3,84.2 296.5,84.0 296.7,83.9 296.8,83.7 297.0,83.6 297.2,83.5 297.4,83.4 297.6,83.3 297.7,83.2 297.9,83.1 298.1,83.0 298.3,82.9 298.5,82.9 298.6,82.8 298.8,82.7 299.0,82.7 299.2,82.6 299.4,82.6 299.5,84.2 299.7,85.2 299.9,85.9 300.1,86.3 300.3,86.6 300.4,86.8 300.6,86.9 300.8,87.0 301.0,87.0 301.2,87.1 301.4,87.1 301.5,87.2 301.7,87.2 301.9,87.2 302.1,87.3 302.3,87.3 302.4,87.3 302.6,87.3 302.8,87.3 303.0,87.3 303.2,87.3 303.3,87.3 303.5,87.3 303.7,87.3 303.9,87.3 304.1,87.3 304.2,87.3 304.4,87.3 304.6,86.7 304.8,86.0 305.0,85.2 305.1,84.6 305.3,83.9 305.5,83.4 305.7,82.8 305.9,82.3 306.0,81.9 306.2,81.5 306.4,81.1 306.6,80.7 306.8,80.4 306.9,80.1 307.1,79.8 307.3,79.5 307.5,79.3 307.7,79.0 307.8,78.8 308.0,78.6 308.2,78.5 308.4,78.3 308.6,78.1 308.7,78.0 308.9,77.8 309.1,77.7 309.3,77.6 309.5,77.5 309.7,77.4 309.8,77.3 310.0,77.2 310.2,77.1 310.4,77.0 310.6,78.2 310.7,80.9 310.9,82.6 311.1,83.7 311.3,84.4 311.5,84.9 311.6,85.2 311.8,85.5 312.0,85.7 312.2,85.8 312.4,85.9 312.5,86.0 312.7,86.1 312.9,86.1 313.1,86.2 313.3,86.2 313.4,86.3 313.6,86.3 313.8,86.3 314.0,86.4 314.2,86.4 314.3,86.4 314.5,86.4 314.7,86.4 314.9,86.4 315.1,86.5 315.2,86.5 315.4,86.5 315.6,86.5 315.8,84.5 316.0,82.7 316.1,81.1 316.3,79.5 316.5,78.1 316.7,76.9 316.9,75.7 317.0,74.6 317.2,73.6 317.4,72.7 317.6,71.9 317.8,71.1 318.0,70.4 318.1,69.7 318.3,69.1 318.5,68.6 318.7,68.1 318.9,67.6 319.0,67.2 319.2,66.8 319.4,66.4 319.6,66.1 319.8,65.8 319.9,65.5 320.1,65.2 320.3,65.0 320.5,64.8 320.7,64.6 320.8,64.4 321.0,64.2 321.2,64.0 321.4,63.9 321.6,63.7 321.7,68.8 321.9,74.1 322.1,77.4 322.3,79.6 322.5,81.0 322.6,81.9 322.8,82.6 323.0,83.1 323.2,83.5 323.4,83.8 323.5,84.1 323.7,84.3 323.9,84.4 324.1,84.6 324.3,84.7 324.4,84.8 324.6,84.9 324.8,85.0 325.0,85.1 325.2,85.2 325.3,85.2 325.5,85.3 325.7,85.3 325.9,85.4 326.1,85.4 326.2,83.0 326.4,79.5 326.6,76.4 326.8,73.5 327.0,70.8 327.2,68.3 327.3,66.1 327.5,64.0 327.7,62.1 327.9,60.4 328.1,58.8 328.2,57.3 328.4,56.0 328.6,54.7 328.8,53.6 329.0,52.5 329.1,51.6 329.3,50.7 329.5,49.9 329.7,49.1 329.9,48.4 330.0,47.8 330.2,47.2 330.4,46.7 330.6,46.2 330.8,45.8 330.9,45.3 331.1,45.0 331.3,44.6 331.5,44.3 331.7,44.0 331.8,43.7 332.0,57.0 332.2,65.4 332.4,70.7 332.6,74.2 332.7,76.5 332.9,78.1 333.1,79.3 333.3,80.1 333.5,80.8 333.6,81.3 333.8,81.8 334.0,82.1 334.2,82.4 334.4,82.7 334.5,83.0 334.7,83.2 334.9,83.4 335.1,83.5 335.3,83.7 335.5,83.8 335.6,84.0 335.8,84.1 336.0,84.2 336.2,84.3 336.4,84.3 336.5,84.4 336.7,84.5 336.9,84.5 337.1,84.6 337.3,84.6 337.4,84.6 337.6,84.7 337.8,84.7 338.0,84.7 338.2,84.8 338.3,79.5 338.5,74.7 338.7,70.3 338.9,66.3 339.1,62.5 339.2,59.1 339.4,56.0 339.6,53.1 339.8,50.5 340.0,48.0 340.1,45.8 340.3,43.8 340.5,41.9 340.7,40.2 340.9,38.6 341.0,37.1 341.2,35.8 341.4,34.6 341.6,33.4 341.8,32.4 341.9,31.4 342.1,30.6 342.3,29.8 342.5,29.0 342.7,28.3 342.8,27.7 343.0,27.1 343.2,26.6 343.4,26.1 343.6,42.2 343.8,54.9 343.9,62.9 344.1,68.2 344.3,71.7 344.5,74.1 344.7,75.8 344.8,77.0 345.0,78.0 345.2,78.8 345.4,79.4 345.6,80.0 345.7,80.4 345.9,80.8 346.1,81.2 346.3,81.5 346.5,81.8 346.6,82.1 346.8,82.3 347.0,82.5 347.2,82.7 347.4,82.9 347.5,83.1 347.7,83.2 347.9,83.3 348.1,83.4 348.3,83.6 348.4,83.6 348.6,83.7" fill="none" stroke="#3d5fba" stroke-width="0.7" stroke-linejoin="round" />
<path d="M270.5 89.7h0M270.7 89.7h0M270.9 89.7h0M271.0 89.7h0M271.2 89.7h0M271.4 89.6h0M271.6 89.6h0M271.8 89.6h0M271.9 89.6h0M272.1 89.6h0M272.3 89.6h0M272.5 89.6h0M272.7 89.6h0M272.8 89.5h0M273.0 89.5h0M273.2 89.5h0M273.4 89.5h0M273.6 89.4h0M273.7 89.3h0M273.9 89.2h0M274.1 89.1h0M274.3 89.0h0M274.5 88.9h0M274.6 88.8h0M274.8 88.7h0M275.0 88.6h0M275.2 88.6h0M275.4 88.5h0M275.6 88.5h0M275.7 88.4h0M275.9 88.4h0M276.1 88.3h0M276.3 88.3h0M276.5 88.2h0M276.6 88.2h0M276.8 88.2h0M277.0 88.1h0M277.2 88.1h0M277.4 88.1h0M277.5 88.0h0M277.7 88.0h0M277.9 88.0h0M278.1 88.0h0M278.3 87.9h0M278.4 87.9h0M278.6 87.9h0M278.8 87.9h0M279.0 87.9h0M279.2 87.9h0M279.3 87.8h0M279.5 87.8h0M279.7 87.8h0M279.9 87.8h0M280.1 87.8h0M280.2 87.8h0M280.4 87.7h0M280.6 88.1h0M280.8 88.4h0M281.0 88.5h0M281.1 88.6h0M281.3 88.7h0M281.5 88.7h0M281.7 88.7h0M281.9 88.8h0M282.0 88.8h0M282.2 88.8h0M282.4 88.8h0M282.6 88.8h0M282.8 88.8h0M282.9 88.8h0M283.1 88.8h0M283.3 88.8h0M283.5 88.8h0M283.7 88.7h0M283.9 88.7h0M284.0 88.7h0M284.2 88.4h0M284.4 88.1h0M284.6 87.8h0M284.8 87.6h0M284.9 87.4h0M285.1 87.2h0M285.3 87.0h0M285.5 86.9h0M285.7 86.7h0M285.8 86.6h0M286.0 86.5h0M286.2 86.4h0M286.4 86.3h0M286.6 86.2h0M286.7 86.2h0M286.9 86.1h0M287.1 86.0h0M287.3 86.0h0M287.5 85.9h0M287.6 85.9h0M287.8 85.8h0M288.0 85.8h0M288.2 85.8h0M288.4 86.4h0M288.5 87.0h0M288.7 87.4h0M288.9 87.6h0M289.1 87.8h0M289.3 87.9h0M289.4 88.0h0M289.6 88.0h0M289.8 88.1h0M290.0 88.1h0M290.2 88.1h0M290.3 88.1h0M290.5 88.1h0M290.7 88.1h0M290.9 88.1h0M291.1 88.1h0M291.2 88.2h0M291.4 88.2h0M291.6 88.1h0M291.8 88.1h0M292.0 88.1h0M292.2 88.1h0M292.3 88.1h0M292.5 88.1h0M292.7 88.1h0M292.9 88.1h0M293.1 88.1h0M293.2 88.1h0M293.4 88.1h0M293.6 88.1h0M293.8 88.1h0M294.0 88.1h0M294.1 87.6h0M294.3 87.2h0M294.5 86.8h0M294.7 86.4h0M294.9 86.1h0M295.0 85.8h0M295.2 85.5h0M295.4 85.2h0M295.6 85.0h0M295.8 84.8h0M295.9 84.6h0M296.1 84.4h0M296.3 84.2h0M296.5 84.0h0M296.7 83.9h0M296.8 83.7h0M297.0 83.6h0M297.2 83.5h0M297.4 83.4h0M297.6 83.3h0M297.7 83.2h0M297.9 83.1h0M298.1 83.0h0M298.3 82.9h0M298.5 82.9h0M298.6 82.8h0M298.8 82.7h0M299.0 82.7h0M299.2 82.6h0M299.4 82.6h0M299.5 84.2h0M299.7 85.2h0M299.9 85.9h0M300.1 86.3h0M300.3 86.6h0M300.4 86.8h0M300.6 86.9h0M300.8 87.0h0M301.0 87.0h0M301.2 87.1h0M301.4 87.1h0M301.5 87.2h0M301.7 87.2h0M301.9 87.2h0M302.1 87.3h0M302.3 87.3h0M302.4 87.3h0M302.6 87.3h0M302.8 87.3h0M303.0 87.3h0M303.2 87.3h0M303.3 87.3h0M303.5 87.3h0M303.7 87.3h0M303.9 87.3h0M304.1 87.3h0M304.2 87.3h0M304.4 87.3h0M304.6 86.7h0M304.8 86.0h0M305.0 85.2h0M305.1 84.6h0M305.3 83.9h0M305.5 83.4h0M305.7 82.8h0M305.9 82.3h0M306.0 81.9h0M306.2 81.5h0M306.4 81.1h0M306.6 80.7h0M306.8 80.4h0M306.9 80.1h0M307.1 79.8h0M307.3 79.5h0M307.5 79.3h0M307.7 79.0h0M307.8 78.8h0M308.0 78.6h0M308.2 78.5h0M308.4 78.3h0M308.6 78.1h0M308.7 78.0h0M308.9 77.8h0M309.1 77.7h0M309.3 77.6h0M309.5 77.5h0M309.7 77.4h0M309.8 77.3h0M310.0 77.2h0M310.2 77.1h0M310.4 77.0h0M310.6 78.2h0M310.7 80.9h0M310.9 82.6h0M311.1 83.7h0M311.3 84.4h0M311.5 84.9h0M311.6 85.2h0M311.8 85.5h0M312.0 85.7h0M312.2 85.8h0M312.4 85.9h0M312.5 86.0h0M312.7 86.1h0M312.9 86.1h0M313.1 86.2h0M313.3 86.2h0M313.4 86.3h0M313.6 86.3h0M313.8 86.3h0M314.0 86.4h0M314.2 86.4h0M314.3 86.4h0M314.5 86.4h0M314.7 86.4h0M314.9 86.4h0M315.1 86.5h0M315.2 86.5h0M315.4 86.5h0M315.6 86.5h0M315.8 84.5h0M316.0 82.7h0M316.1 81.1h0M316.3 79.5h0M316.5 78.1h0M316.7 76.9h0M316.9 75.7h0M317.0 74.6h0M317.2 73.6h0M317.4 72.7h0M317.6 71.9h0M317.8 71.1h0M318.0 70.4h0M318.1 69.7h0M318.3 69.1h0M318.5 68.6h0M318.7 68.1h0M318.9 67.6h0M319.0 67.2h0M319.2 66.8h0M319.4 66.4h0M319.6 66.1h0M319.8 65.8h0M319.9 65.5h0M320.1 65.2h0M320.3 65.0h0M320.5 64.8h0M320.7 64.6h0M320.8 64.4h0M321.0 64.2h0M321.2 64.0h0M321.4 63.9h0M321.6 63.7h0M321.7 68.8h0M321.9 74.1h0M322.1 77.4h0M322.3 79.6h0M322.5 81.0h0M322.6 81.9h0M322.8 82.6h0M323.0 83.1h0M323.2 83.5h0M323.4 83.8h0M323.5 84.1h0M323.7 84.3h0M323.9 84.4h0M324.1 84.6h0M324.3 84.7h0M324.4 84.8h0M324.6 84.9h0M324.8 85.0h0M325.0 85.1h0M325.2 85.2h0M325.3 85.2h0M325.5 85.3h0M325.7 85.3h0M325.9 85.4h0M326.1 85.4h0M326.2 83.0h0M326.4 79.5h0M326.6 76.4h0M326.8 73.5h0M327.0 70.8h0M327.2 68.3h0M327.3 66.1h0M327.5 64.0h0M327.7 62.1h0M327.9 60.4h0M328.1 58.8h0M328.2 57.3h0M328.4 56.0h0M328.6 54.7h0M328.8 53.6h0M329.0 52.5h0M329.1 51.6h0M329.3 50.7h0M329.5 49.9h0M329.7 49.1h0M329.9 48.4h0M330.0 47.8h0M330.2 47.2h0M330.4 46.7h0M330.6 46.2h0M330.8 45.8h0M330.9 45.3h0M331.1 45.0h0M331.3 44.6h0M331.5 44.3h0M331.7 44.0h0M331.8 43.7h0M332.0 57.0h0M332.2 65.4h0M332.4 70.7h0M332.6 74.2h0M332.7 76.5h0M332.9 78.1h0M333.1 79.3h0M333.3 80.1h0M333.5 80.8h0M333.6 81.3h0M333.8 81.8h0M334.0 82.1h0M334.2 82.4h0M334.4 82.7h0M334.5 83.0h0M334.7 83.2h0M334.9 83.4h0M335.1 83.5h0M335.3 83.7h0M335.5 83.8h0M335.6 84.0h0M335.8 84.1h0M336.0 84.2h0M336.2 84.3h0M336.4 84.3h0M336.5 84.4h0M336.7 84.5h0M336.9 84.5h0M337.1 84.6h0M337.3 84.6h0M337.4 84.6h0M337.6 84.7h0M337.8 84.7h0M338.0 84.7h0M338.2 84.8h0M338.3 79.5h0M338.5 74.7h0M338.7 70.3h0M338.9 66.3h0M339.1 62.5h0M339.2 59.1h0M339.4 56.0h0M339.6 53.1h0M339.8 50.5h0M340.0 48.0h0M340.1 45.8h0M340.3 43.8h0M340.5 41.9h0M340.7 40.2h0M340.9 38.6h0M341.0 37.1h0M341.2 35.8h0M341.4 34.6h0M341.6 33.4h0M341.8 32.4h0M341.9 31.4h0M342.1 30.6h0M342.3 29.8h0M342.5 29.0h0M342.7 28.3h0M342.8 27.7h0M343.0 27.1h0M343.2 26.6h0M343.4 26.1h0M343.6 42.2h0M343.8 54.9h0M343.9 62.9h0M344.1 68.2h0M344.3 71.7h0M344.5 74.1h0M344.7 75.8h0M344.8 77.0h0M345.0 78.0h0M345.2 78.8h0M345.4 79.4h0M345.6 80.0h0M345.7 80.4h0M345.9 80.8h0M346.1 81.2h0M346.3 81.5h0M346.5 81.8h0M346.6 82.1h0M346.8 82.3h0M347.0 82.5h0M347.2 82.7h0M347.4 82.9h0M347.5 83.1h0M347.7 83.2h0M347.9 83.3h0M348.1 83.4h0M348.3 83.6h0M348.4 83.6h0M348.6 83.7h0" stroke="#3d5fba" stroke-width="2.30" stroke-linecap="round" fill="none" />
<text x="264.0" y="87.8" font-size="5.6" font-weight="bold" fill="#222" text-anchor="start" >0.002%</text>
<text x="281.5" y="96.1" font-size="5.6" font-weight="bold" fill="#222" text-anchor="start" >0.005%</text>
<text x="287.1" y="82.4" font-size="5.6" font-weight="bold" fill="#222" text-anchor="start" >0.01%</text>
<text x="294.7" y="73.7" font-size="5.6" font-weight="bold" fill="#222" text-anchor="start" >0.025%</text>
<text x="307.0" y="59.7" font-size="5.6" font-weight="bold" fill="#222" text-anchor="start" >0.05%</text>
<text x="320.0" y="40.4" font-size="5.6" font-weight="bold" fill="#222" text-anchor="start" >0.08%</text>
<text x="337.6" y="23.4" font-size="5.6" font-weight="bold" fill="#222" text-anchor="start" >0.1%</text>
<rect x="253.10" y="14.90" width="193.10" height="155.70" fill="none" stroke="#000" stroke-width="1.7" />
<text x="451.2" y="24.3" font-size="13.5" font-weight="bold" fill="#000" text-anchor="start" >e</text>
<line x1="484.90" y1="152.80" x2="488.10" y2="152.80" stroke="#000" stroke-width="1.1" />
<text x="481.8" y="155.8" font-size="8.6" font-weight="bold" fill="#000" text-anchor="end" >0</text>
<line x1="484.90" y1="122.23" x2="488.10" y2="122.23" stroke="#000" stroke-width="1.1" />
<text x="481.8" y="125.2" font-size="8.6" font-weight="bold" fill="#000" text-anchor="end" >50</text>
<line x1="484.90" y1="91.65" x2="488.10" y2="91.65" stroke="#000" stroke-width="1.1" />
<text x="481.8" y="94.7" font-size="8.6" font-weight="bold" fill="#000" text-anchor="end" >100</text>
<line x1="484.90" y1="61.08" x2="488.10" y2="61.08" stroke="#000" stroke-width="1.1" />
<text x="481.8" y="64.1" font-size="8.6" font-weight="bold" fill="#000" text-anchor="end" >150</text>
<line x1="484.90" y1="30.50" x2="488.10" y2="30.50" stroke="#000" stroke-width="1.1" />
<text x="481.8" y="33.5" font-size="8.6" font-weight="bold" fill="#000" text-anchor="end" >200</text>
<line x1="486.30" y1="137.51" x2="488.10" y2="137.51" stroke="#000" stroke-width="0.9" />
<line x1="486.30" y1="106.94" x2="488.10" y2="106.94" stroke="#000" stroke-width="0.9" />
<line x1="486.30" y1="76.36" x2="488.10" y2="76.36" stroke="#000" stroke-width="0.9" />
<line x1="486.30" y1="45.79" x2="488.10" y2="45.79" stroke="#000" stroke-width="0.9" />
<line x1="486.30" y1="15.21" x2="488.10" y2="15.21" stroke="#000" stroke-width="0.9" />
<line x1="507.40" y1="169.20" x2="507.40" y2="172.00" stroke="#000" stroke-width="1.1" />
<text x="507.4" y="182.3" font-size="8.6" font-weight="bold" fill="#000" text-anchor="middle" >0</text>
<line x1="545.60" y1="169.20" x2="545.60" y2="172.00" stroke="#000" stroke-width="1.1" />
<text x="545.6" y="182.3" font-size="8.6" font-weight="bold" fill="#000" text-anchor="middle" >100</text>
<line x1="583.80" y1="169.20" x2="583.80" y2="172.00" stroke="#000" stroke-width="1.1" />
<text x="583.8" y="182.3" font-size="8.6" font-weight="bold" fill="#000" text-anchor="middle" >200</text>
<line x1="622.00" y1="169.20" x2="622.00" y2="172.00" stroke="#000" stroke-width="1.1" />
<text x="622.0" y="182.3" font-size="8.6" font-weight="bold" fill="#000" text-anchor="middle" >300</text>
<line x1="660.20" y1="169.20" x2="660.20" y2="172.00" stroke="#000" stroke-width="1.1" />
<text x="660.2" y="182.3" font-size="8.6" font-weight="bold" fill="#000" text-anchor="middle" >400</text>
<line x1="488.30" y1="169.20" x2="488.30" y2="170.80" stroke="#000" stroke-width="0.9" />
<line x1="526.50" y1="169.20" x2="526.50" y2="170.80" stroke="#000" stroke-width="0.9" />
<line x1="564.70" y1="169.20" x2="564.70" y2="170.80" stroke="#000" stroke-width="0.9" />
<line x1="602.90" y1="169.20" x2="602.90" y2="170.80" stroke="#000" stroke-width="0.9" />
<line x1="641.10" y1="169.20" x2="641.10" y2="170.80" stroke="#000" stroke-width="0.9" />
<line x1="679.30" y1="169.20" x2="679.30" y2="170.80" stroke="#000" stroke-width="0.9" />
<text x="584.2" y="195.3" font-size="8.5" font-weight="bold" fill="#000" text-anchor="middle" >Time (s)</text>
<text transform="translate(460.0,93.3) rotate(-90)" font-size="8.6" font-weight="bold" fill="#000" text-anchor="middle">Response (R<tspan font-size="6" dy="2">g</tspan><tspan dy="-2">/R</tspan><tspan font-size="6" dy="2">a</tspan><tspan dy="-2">)</tspan></text>
<polyline points="507.4,152.6 507.8,152.6 508.2,152.6 508.5,152.6 508.9,152.6 509.3,152.6 509.7,152.6 510.1,152.6 510.5,152.6 510.8,152.6 511.2,152.6 511.6,152.6 512.0,152.6 512.4,152.6 512.7,152.6 513.1,152.6 513.5,152.6 513.9,152.6 514.3,152.6 514.7,152.6 515.0,152.6 515.4,152.6 515.8,152.6 516.2,152.6 516.6,152.6 516.9,152.6 517.3,152.6 517.7,152.6 518.1,152.6 518.5,152.6 518.9,152.6 519.2,152.6 519.6,152.6 520.0,152.6 520.4,152.6 520.8,152.6 521.2,152.6 521.5,152.6 521.9,152.6 522.3,152.6 522.7,152.6 523.1,152.6 523.4,152.6 523.8,152.6 524.2,152.6 524.6,152.6 525.0,152.6 525.4,152.6 525.7,152.6 526.1,152.6 526.5,152.6 526.9,152.6 527.3,152.6 527.6,152.6 528.0,152.6 528.4,152.6 528.8,152.4 529.2,152.2 529.6,152.0 529.9,151.8 530.3,151.7 530.7,151.7 531.1,151.6 531.5,151.5 531.8,151.5 532.2,151.5 532.6,151.5 533.0,151.4 533.4,151.4 533.8,151.4 534.1,151.4 534.5,151.4 534.9,151.4 535.3,151.3 535.7,151.3 536.0,151.3 536.4,151.3 536.8,151.3 537.2,151.3 537.6,151.3 538.0,151.3 538.3,151.3 538.7,151.2 539.1,151.2 539.5,151.2 539.9,151.2 540.3,151.2 540.6,151.2 541.0,151.2 541.4,151.2 541.8,151.2 542.2,151.2 542.5,151.2 542.9,151.1 543.3,151.1 543.7,151.1 544.1,151.1 544.5,151.1 544.8,151.1 545.2,151.1 545.6,151.1 546.0,151.1 546.4,151.1 546.7,151.1 547.1,151.1 547.5,151.1 547.9,151.1 548.3,151.0 548.7,151.0 549.0,151.0 549.4,151.0 549.8,151.0 550.2,151.0 550.6,151.0 550.9,151.0 551.3,151.0 551.7,151.0 552.1,151.0 552.5,151.0 552.9,151.0 553.2,151.0 553.6,151.0 554.0,151.0 554.4,151.0 554.8,151.0 555.1,150.9 555.5,150.9 555.9,150.9 556.3,150.9 556.7,150.9 557.1,150.9 557.4,150.9 557.8,150.9 558.2,150.9 558.6,150.9 559.0,150.9 559.4,150.9 559.7,150.9 560.1,150.9 560.5,150.9 560.9,150.9 561.3,150.9 561.6,150.9 562.0,150.9 562.4,150.9 562.8,150.9 563.2,150.9 563.6,150.9 563.9,150.9 564.3,150.9 564.7,150.8 565.1,150.8 565.5,150.8 565.8,150.8 566.2,150.8 566.6,150.8 567.0,150.8 567.4,150.8 567.8,150.8 568.1,150.8 568.5,150.8 568.9,150.8 569.3,150.8 569.7,150.8 570.0,150.8 570.4,150.8 570.8,150.8 571.2,150.8 571.6,150.8 572.0,150.8 572.3,150.8 572.7,150.8 573.1,150.8 573.5,150.8 573.9,150.8 574.2,150.8 574.6,150.8 575.0,150.8 575.4,150.8 575.8,150.8 576.2,150.8 576.5,150.8 576.9,150.8 577.3,150.8 577.7,150.8 578.1,150.8 578.5,150.8 578.8,150.8 579.2,150.8 579.6,150.8 580.0,150.8 580.4,150.8 580.7,150.8 581.1,150.8 581.5,150.8 581.9,150.7 582.3,150.7 582.7,150.7 583.0,150.7 583.4,150.7 583.8,150.7 584.2,150.7 584.6,150.7 584.9,150.7 585.3,150.7 585.7,150.7 586.1,150.7 586.5,150.7 586.9,150.7 587.2,150.7 587.6,150.7 588.0,150.7 588.4,150.7 588.8,150.7 589.1,150.7 589.5,150.7 589.9,150.7 590.3,150.7 590.7,150.7 591.1,150.7 591.4,150.7 591.8,150.7 592.2,150.7 592.6,150.7 593.0,150.7 593.4,150.7 593.7,150.7 594.1,150.7 594.5,150.7 594.9,150.7 595.3,150.7 595.6,150.7 596.0,150.7 596.4,150.7 596.8,150.7 597.2,150.7 597.6,150.7 597.9,150.7 598.3,150.7 598.7,150.7 599.1,150.7 599.5,151.2 599.8,151.6 600.2,151.9 600.6,152.1 601.0,152.2 601.4,152.3 601.8,152.4 602.1,152.4 602.5,152.5 602.9,152.5 603.3,152.5 603.7,152.5 604.0,152.5 604.4,152.5 604.8,152.6 605.2,152.6 605.6,152.6 606.0,152.6 606.3,152.6 606.7,152.6 607.1,152.6 607.5,152.6 607.9,152.6 608.2,152.6 608.6,152.6 609.0,152.6 609.4,152.6 609.8,152.6 610.2,152.6 610.5,152.6 610.9,152.6 611.3,152.6 611.7,152.6 612.1,152.6 612.4,152.6 612.8,152.6 613.2,152.6 613.6,152.6 614.0,152.6 614.4,152.6 614.7,152.6 615.1,152.6 615.5,152.6 615.9,152.6 616.3,152.6 616.7,152.6 617.0,152.6 617.4,152.6 617.8,152.6 618.2,152.6 618.6,152.6 618.9,152.6 619.3,152.6 619.7,152.6 620.1,152.6 620.5,152.6 620.9,152.6 621.2,152.6 621.6,152.6 622.0,152.6 622.4,152.6 622.8,152.6 623.1,152.6 623.5,152.6 623.9,152.6 624.3,152.6 624.7,152.6 625.1,152.6 625.4,152.6 625.8,152.6 626.2,152.6 626.6,152.6 627.0,152.6 627.3,152.6 627.7,152.6 628.1,152.6 628.5,152.6 628.9,152.6 629.3,152.6 629.6,152.6 630.0,152.6 630.4,152.6 630.8,152.6 631.2,152.6 631.5,152.6 631.9,152.6 632.3,152.6 632.7,152.6 633.1,152.6 633.5,152.6 633.8,152.6 634.2,152.6 634.6,152.6 635.0,152.6 635.4,152.6 635.8,152.6 636.1,152.6 636.5,152.6 636.9,152.6 637.3,152.6 637.7,152.6 638.0,152.6 638.4,152.6 638.8,152.6 639.2,152.6 639.6,152.6 640.0,152.6 640.3,152.6 640.7,152.6 641.1,152.6 641.5,152.6 641.9,152.6 642.2,152.6 642.6,152.6 643.0,152.6 643.4,152.6 643.8,152.6 644.2,152.6 644.5,152.6 644.9,152.6 645.3,152.6 645.7,152.6 646.1,152.6 646.4,152.6 646.8,152.6 647.2,152.6 647.6,152.6 648.0,152.6 648.4,152.6 648.7,152.6 649.1,152.6 649.5,152.6 649.9,152.6 650.3,152.6 650.6,152.6 651.0,152.6 651.4,152.6 651.8,152.6 652.2,152.6 652.6,152.6 652.9,152.6 653.3,152.6 653.7,152.6 654.1,152.6 654.5,152.6 654.9,152.6 655.2,152.6 655.6,152.6 656.0,152.6 656.4,152.6 656.8,152.6 657.1,152.6 657.5,152.6 657.9,152.6 658.3,152.6 658.7,152.6 659.1,152.6 659.4,152.6 659.8,152.6 660.2,152.6 660.6,152.6 661.0,152.6 661.3,152.6 661.7,152.6 662.1,152.6 662.5,152.6 662.9,152.6 663.3,152.6 663.6,152.6 664.0,152.6 664.4,152.6 664.8,152.6 665.2,152.6 665.5,152.6 665.9,152.6 666.3,152.6 666.7,152.6 667.1,152.6 667.5,152.6 667.8,152.6" fill="none" stroke="#555555" stroke-width="1.2" stroke-linejoin="round" />
<path d="M507.4 152.6h0M507.8 152.6h0M508.2 152.6h0M508.5 152.6h0M508.9 152.6h0M509.3 152.6h0M509.7 152.6h0M510.1 152.6h0M510.5 152.6h0M510.8 152.6h0M511.2 152.6h0M511.6 152.6h0M512.0 152.6h0M512.4 152.6h0M512.7 152.6h0M513.1 152.6h0M513.5 152.6h0M513.9 152.6h0M514.3 152.6h0M514.7 152.6h0M515.0 152.6h0M515.4 152.6h0M515.8 152.6h0M516.2 152.6h0M516.6 152.6h0M516.9 152.6h0M517.3 152.6h0M517.7 152.6h0M518.1 152.6h0M518.5 152.6h0M518.9 152.6h0M519.2 152.6h0M519.6 152.6h0M520.0 152.6h0M520.4 152.6h0M520.8 152.6h0M521.2 152.6h0M521.5 152.6h0M521.9 152.6h0M522.3 152.6h0M522.7 152.6h0M523.1 152.6h0M523.4 152.6h0M523.8 152.6h0M524.2 152.6h0M524.6 152.6h0M525.0 152.6h0M525.4 152.6h0M525.7 152.6h0M526.1 152.6h0M526.5 152.6h0M526.9 152.6h0M527.3 152.6h0M527.6 152.6h0M528.0 152.6h0M528.4 152.6h0M528.8 152.4h0M529.2 152.2h0M529.6 152.0h0M529.9 151.8h0M530.3 151.7h0M530.7 151.7h0M531.1 151.6h0M531.5 151.5h0M531.8 151.5h0M532.2 151.5h0M532.6 151.5h0M533.0 151.4h0M533.4 151.4h0M533.8 151.4h0M534.1 151.4h0M534.5 151.4h0M534.9 151.4h0M535.3 151.3h0M535.7 151.3h0M536.0 151.3h0M536.4 151.3h0M536.8 151.3h0M537.2 151.3h0M537.6 151.3h0M538.0 151.3h0M538.3 151.3h0M538.7 151.2h0M539.1 151.2h0M539.5 151.2h0M539.9 151.2h0M540.3 151.2h0M540.6 151.2h0M541.0 151.2h0M541.4 151.2h0M541.8 151.2h0M542.2 151.2h0M542.5 151.2h0M542.9 151.1h0M543.3 151.1h0M543.7 151.1h0M544.1 151.1h0M544.5 151.1h0M544.8 151.1h0M545.2 151.1h0M545.6 151.1h0M546.0 151.1h0M546.4 151.1h0M546.7 151.1h0M547.1 151.1h0M547.5 151.1h0M547.9 151.1h0M548.3 151.0h0M548.7 151.0h0M549.0 151.0h0M549.4 151.0h0M549.8 151.0h0M550.2 151.0h0M550.6 151.0h0M550.9 151.0h0M551.3 151.0h0M551.7 151.0h0M552.1 151.0h0M552.5 151.0h0M552.9 151.0h0M553.2 151.0h0M553.6 151.0h0M554.0 151.0h0M554.4 151.0h0M554.8 151.0h0M555.1 150.9h0M555.5 150.9h0M555.9 150.9h0M556.3 150.9h0M556.7 150.9h0M557.1 150.9h0M557.4 150.9h0M557.8 150.9h0M558.2 150.9h0M558.6 150.9h0M559.0 150.9h0M559.4 150.9h0M559.7 150.9h0M560.1 150.9h0M560.5 150.9h0M560.9 150.9h0M561.3 150.9h0M561.6 150.9h0M562.0 150.9h0M562.4 150.9h0M562.8 150.9h0M563.2 150.9h0M563.6 150.9h0M563.9 150.9h0M564.3 150.9h0M564.7 150.8h0M565.1 150.8h0M565.5 150.8h0M565.8 150.8h0M566.2 150.8h0M566.6 150.8h0M567.0 150.8h0M567.4 150.8h0M567.8 150.8h0M568.1 150.8h0M568.5 150.8h0M568.9 150.8h0M569.3 150.8h0M569.7 150.8h0M570.0 150.8h0M570.4 150.8h0M570.8 150.8h0M571.2 150.8h0M571.6 150.8h0M572.0 150.8h0M572.3 150.8h0M572.7 150.8h0M573.1 150.8h0M573.5 150.8h0M573.9 150.8h0M574.2 150.8h0M574.6 150.8h0M575.0 150.8h0M575.4 150.8h0M575.8 150.8h0M576.2 150.8h0M576.5 150.8h0M576.9 150.8h0M577.3 150.8h0M577.7 150.8h0M578.1 150.8h0M578.5 150.8h0M578.8 150.8h0M579.2 150.8h0M579.6 150.8h0M580.0 150.8h0M580.4 150.8h0M580.7 150.8h0M581.1 150.8h0M581.5 150.8h0M581.9 150.7h0M582.3 150.7h0M582.7 150.7h0M583.0 150.7h0M583.4 150.7h0M583.8 150.7h0M584.2 150.7h0M584.6 150.7h0M584.9 150.7h0M585.3 150.7h0M585.7 150.7h0M586.1 150.7h0M586.5 150.7h0M586.9 150.7h0M587.2 150.7h0M587.6 150.7h0M588.0 150.7h0M588.4 150.7h0M588.8 150.7h0M589.1 150.7h0M589.5 150.7h0M589.9 150.7h0M590.3 150.7h0M590.7 150.7h0M591.1 150.7h0M591.4 150.7h0M591.8 150.7h0M592.2 150.7h0M592.6 150.7h0M593.0 150.7h0M593.4 150.7h0M593.7 150.7h0M594.1 150.7h0M594.5 150.7h0M594.9 150.7h0M595.3 150.7h0M595.6 150.7h0M596.0 150.7h0M596.4 150.7h0M596.8 150.7h0M597.2 150.7h0M597.6 150.7h0M597.9 150.7h0M598.3 150.7h0M598.7 150.7h0M599.1 150.7h0M599.5 151.2h0M599.8 151.6h0M600.2 151.9h0M600.6 152.1h0M601.0 152.2h0M601.4 152.3h0M601.8 152.4h0M602.1 152.4h0M602.5 152.5h0M602.9 152.5h0M603.3 152.5h0M603.7 152.5h0M604.0 152.5h0M604.4 152.5h0M604.8 152.6h0M605.2 152.6h0M605.6 152.6h0M606.0 152.6h0M606.3 152.6h0M606.7 152.6h0M607.1 152.6h0M607.5 152.6h0M607.9 152.6h0M608.2 152.6h0M608.6 152.6h0M609.0 152.6h0M609.4 152.6h0M609.8 152.6h0M610.2 152.6h0M610.5 152.6h0M610.9 152.6h0M611.3 152.6h0M611.7 152.6h0M612.1 152.6h0M612.4 152.6h0M612.8 152.6h0M613.2 152.6h0M613.6 152.6h0M614.0 152.6h0M614.4 152.6h0M614.7 152.6h0M615.1 152.6h0M615.5 152.6h0M615.9 152.6h0M616.3 152.6h0M616.7 152.6h0M617.0 152.6h0M617.4 152.6h0M617.8 152.6h0M618.2 152.6h0M618.6 152.6h0M618.9 152.6h0M619.3 152.6h0M619.7 152.6h0M620.1 152.6h0M620.5 152.6h0M620.9 152.6h0M621.2 152.6h0M621.6 152.6h0M622.0 152.6h0M622.4 152.6h0M622.8 152.6h0M623.1 152.6h0M623.5 152.6h0M623.9 152.6h0M624.3 152.6h0M624.7 152.6h0M625.1 152.6h0M625.4 152.6h0M625.8 152.6h0M626.2 152.6h0M626.6 152.6h0M627.0 152.6h0M627.3 152.6h0M627.7 152.6h0M628.1 152.6h0M628.5 152.6h0M628.9 152.6h0M629.3 152.6h0M629.6 152.6h0M630.0 152.6h0M630.4 152.6h0M630.8 152.6h0M631.2 152.6h0M631.5 152.6h0M631.9 152.6h0M632.3 152.6h0M632.7 152.6h0M633.1 152.6h0M633.5 152.6h0M633.8 152.6h0M634.2 152.6h0M634.6 152.6h0M635.0 152.6h0M635.4 152.6h0M635.8 152.6h0M636.1 152.6h0M636.5 152.6h0M636.9 152.6h0M637.3 152.6h0M637.7 152.6h0M638.0 152.6h0M638.4 152.6h0M638.8 152.6h0M639.2 152.6h0M639.6 152.6h0M640.0 152.6h0M640.3 152.6h0M640.7 152.6h0M641.1 152.6h0M641.5 152.6h0M641.9 152.6h0M642.2 152.6h0M642.6 152.6h0M643.0 152.6h0M643.4 152.6h0M643.8 152.6h0M644.2 152.6h0M644.5 152.6h0M644.9 152.6h0M645.3 152.6h0M645.7 152.6h0M646.1 152.6h0M646.4 152.6h0M646.8 152.6h0M647.2 152.6h0M647.6 152.6h0M648.0 152.6h0M648.4 152.6h0M648.7 152.6h0M649.1 152.6h0M649.5 152.6h0M649.9 152.6h0M650.3 152.6h0M650.6 152.6h0M651.0 152.6h0M651.4 152.6h0M651.8 152.6h0M652.2 152.6h0M652.6 152.6h0M652.9 152.6h0M653.3 152.6h0M653.7 152.6h0M654.1 152.6h0M654.5 152.6h0M654.9 152.6h0M655.2 152.6h0M655.6 152.6h0M656.0 152.6h0M656.4 152.6h0M656.8 152.6h0M657.1 152.6h0M657.5 152.6h0M657.9 152.6h0M658.3 152.6h0M658.7 152.6h0M659.1 152.6h0M659.4 152.6h0M659.8 152.6h0M660.2 152.6h0M660.6 152.6h0M661.0 152.6h0M661.3 152.6h0M661.7 152.6h0M662.1 152.6h0M662.5 152.6h0M662.9 152.6h0M663.3 152.6h0M663.6 152.6h0M664.0 152.6h0M664.4 152.6h0M664.8 152.6h0M665.2 152.6h0M665.5 152.6h0M665.9 152.6h0M666.3 152.6h0M666.7 152.6h0M667.1 152.6h0M667.5 152.6h0M667.8 152.6h0" stroke="#555555" stroke-width="4.20" stroke-linecap="round" fill="none" />
<path d="" stroke="#e4e8e4" stroke-width="1.60" stroke-linecap="round" fill="none" />
<polyline points="507.4,152.6 507.8,152.6 508.2,152.6 508.5,152.6 508.9,152.6 509.3,152.6 509.7,152.6 510.1,152.6 510.5,152.6 510.8,152.6 511.2,152.6 511.6,152.6 512.0,152.6 512.4,152.6 512.7,152.6 513.1,152.6 513.5,152.6 513.9,152.6 514.3,152.6 514.7,152.6 515.0,152.6 515.4,152.6 515.8,152.6 516.2,152.6 516.6,152.6 516.9,152.6 517.3,152.6 517.7,152.6 518.1,152.6 518.5,152.6 518.9,152.6 519.2,152.6 519.6,152.6 520.0,152.6 520.4,152.6 520.8,152.6 521.2,152.6 521.5,152.6 521.9,152.6 522.3,152.6 522.7,152.6 523.1,152.6 523.4,152.6 523.8,152.6 524.2,152.6 524.6,152.6 525.0,152.6 525.4,152.6 525.7,152.6 526.1,152.6 526.5,152.6 526.9,152.6 527.3,152.6 527.6,152.6 528.0,152.6 528.4,152.6 528.8,151.7 529.2,151.0 529.6,150.4 529.9,150.0 530.3,149.7 530.7,149.5 531.1,149.3 531.5,149.2 531.8,149.1 532.2,149.0 532.6,148.9 533.0,148.9 533.4,148.8 533.8,148.8 534.1,148.7 534.5,148.7 534.9,148.7 535.3,148.7 535.7,148.6 536.0,148.6 536.4,148.6 536.8,148.6 537.2,148.5 537.6,148.5 538.0,148.5 538.3,148.5 538.7,148.5 539.1,148.4 539.5,148.4 539.9,148.4 540.3,148.4 540.6,148.4 541.0,148.4 541.4,148.3 541.8,148.3 542.2,148.3 542.5,148.3 542.9,148.3 543.3,148.3 543.7,148.2 544.1,148.2 544.5,148.2 544.8,148.2 545.2,148.2 545.6,148.2 546.0,148.1 546.4,148.1 546.7,148.1 547.1,148.1 547.5,148.1 547.9,148.1 548.3,148.1 548.7,148.1 549.0,148.0 549.4,148.0 549.8,148.0 550.2,148.0 550.6,148.0 550.9,148.0 551.3,148.0 551.7,148.0 552.1,147.9 552.5,147.9 552.9,147.9 553.2,147.9 553.6,147.9 554.0,147.9 554.4,147.9 554.8,147.9 555.1,147.9 555.5,147.9 555.9,147.8 556.3,147.8 556.7,147.8 557.1,147.8 557.4,147.8 557.8,147.8 558.2,147.8 558.6,147.8 559.0,147.8 559.4,147.8 559.7,147.8 560.1,147.8 560.5,147.7 560.9,147.7 561.3,147.7 561.6,147.7 562.0,147.7 562.4,147.7 562.8,147.7 563.2,147.7 563.6,147.7 563.9,147.7 564.3,147.7 564.7,147.7 565.1,147.7 565.5,147.7 565.8,147.7 566.2,147.6 566.6,147.6 567.0,147.6 567.4,147.6 567.8,147.6 568.1,147.6 568.5,147.6 568.9,147.6 569.3,147.6 569.7,147.6 570.0,147.6 570.4,147.6 570.8,147.6 571.2,147.6 571.6,147.6 572.0,147.6 572.3,147.6 572.7,147.6 573.1,147.6 573.5,147.6 573.9,147.5 574.2,147.5 574.6,147.5 575.0,147.5 575.4,147.5 575.8,147.5 576.2,147.5 576.5,147.5 576.9,147.5 577.3,147.5 577.7,147.5 578.1,147.5 578.5,147.5 578.8,147.5 579.2,147.5 579.6,147.5 580.0,147.5 580.4,147.5 580.7,147.5 581.1,147.5 581.5,147.5 581.9,147.5 582.3,147.5 582.7,147.5 583.0,147.5 583.4,147.5 583.8,147.5 584.2,147.5 584.6,147.5 584.9,147.5 585.3,147.4 585.7,147.4 586.1,147.4 586.5,147.4 586.9,147.4 587.2,147.4 587.6,147.4 588.0,147.4 588.4,147.4 588.8,147.4 589.1,147.4 589.5,147.4 589.9,147.4 590.3,147.4 590.7,147.4 591.1,147.4 591.4,147.4 591.8,147.4 592.2,147.4 592.6,147.4 593.0,147.4 593.4,147.4 593.7,147.4 594.1,147.4 594.5,147.4 594.9,147.4 595.3,147.4 595.6,147.4 596.0,147.4 596.4,147.4 596.8,147.4 597.2,147.4 597.6,147.4 597.9,147.4 598.3,147.4 598.7,147.4 599.1,147.4 599.5,148.9 599.8,150.0 600.2,150.8 600.6,151.3 601.0,151.6 601.4,151.8 601.8,152.0 602.1,152.1 602.5,152.2 602.9,152.3 603.3,152.3 603.7,152.4 604.0,152.4 604.4,152.4 604.8,152.4 605.2,152.5 605.6,152.5 606.0,152.5 606.3,152.5 606.7,152.5 607.1,152.5 607.5,152.5 607.9,152.6 608.2,152.6 608.6,152.6 609.0,152.6 609.4,152.6 609.8,152.6 610.2,152.6 610.5,152.6 610.9,152.6 611.3,152.6 611.7,152.6 612.1,152.6 612.4,152.6 612.8,152.6 613.2,152.6 613.6,152.6 614.0,152.6 614.4,152.6 614.7,152.6 615.1,152.6 615.5,152.6 615.9,152.6 616.3,152.6 616.7,152.6 617.0,152.6 617.4,152.6 617.8,152.6 618.2,152.6 618.6,152.6 618.9,152.6 619.3,152.6 619.7,152.6 620.1,152.6 620.5,152.6 620.9,152.6 621.2,152.6 621.6,152.6 622.0,152.6 622.4,152.6 622.8,152.6 623.1,152.6 623.5,152.6 623.9,152.6 624.3,152.6 624.7,152.6 625.1,152.6 625.4,152.6 625.8,152.6 626.2,152.6 626.6,152.6 627.0,152.6 627.3,152.6 627.7,152.6 628.1,152.6 628.5,152.6 628.9,152.6 629.3,152.6 629.6,152.6 630.0,152.6 630.4,152.6 630.8,152.6 631.2,152.6 631.5,152.6 631.9,152.6 632.3,152.6 632.7,152.6 633.1,152.6 633.5,152.6 633.8,152.6 634.2,152.6 634.6,152.6 635.0,152.6 635.4,152.6 635.8,152.6 636.1,152.6 636.5,152.6 636.9,152.6 637.3,152.6 637.7,152.6 638.0,152.6 638.4,152.6 638.8,152.6 639.2,152.6 639.6,152.6 640.0,152.6 640.3,152.6 640.7,152.6 641.1,152.6 641.5,152.6 641.9,152.6 642.2,152.6 642.6,152.6 643.0,152.6 643.4,152.6 643.8,152.6 644.2,152.6 644.5,152.6 644.9,152.6 645.3,152.6 645.7,152.6 646.1,152.6 646.4,152.6 646.8,152.6 647.2,152.6 647.6,152.6 648.0,152.6 648.4,152.6 648.7,152.6 649.1,152.6 649.5,152.6 649.9,152.6 650.3,152.6 650.6,152.6 651.0,152.6 651.4,152.6 651.8,152.6 652.2,152.6 652.6,152.6 652.9,152.6 653.3,152.6 653.7,152.6 654.1,152.6 654.5,152.6 654.9,152.6 655.2,152.6 655.6,152.6 656.0,152.6 656.4,152.6 656.8,152.6 657.1,152.6 657.5,152.6 657.9,152.6 658.3,152.6 658.7,152.6 659.1,152.6 659.4,152.6 659.8,152.6 660.2,152.6 660.6,152.6 661.0,152.6 661.3,152.6 661.7,152.6 662.1,152.6 662.5,152.6 662.9,152.6 663.3,152.6 663.6,152.6 664.0,152.6 664.4,152.6 664.8,152.6 665.2,152.6 665.5,152.6 665.9,152.6 666.3,152.6 666.7,152.6 667.1,152.6 667.5,152.6 667.8,152.6" fill="none" stroke="#e83a3e" stroke-width="1.2" stroke-linejoin="round" />
<path d="M507.4 152.6h0M507.8 152.6h0M508.2 152.6h0M508.5 152.6h0M508.9 152.6h0M509.3 152.6h0M509.7 152.6h0M510.1 152.6h0M510.5 152.6h0M510.8 152.6h0M511.2 152.6h0M511.6 152.6h0M512.0 152.6h0M512.4 152.6h0M512.7 152.6h0M513.1 152.6h0M513.5 152.6h0M513.9 152.6h0M514.3 152.6h0M514.7 152.6h0M515.0 152.6h0M515.4 152.6h0M515.8 152.6h0M516.2 152.6h0M516.6 152.6h0M516.9 152.6h0M517.3 152.6h0M517.7 152.6h0M518.1 152.6h0M518.5 152.6h0M518.9 152.6h0M519.2 152.6h0M519.6 152.6h0M520.0 152.6h0M520.4 152.6h0M520.8 152.6h0M521.2 152.6h0M521.5 152.6h0M521.9 152.6h0M522.3 152.6h0M522.7 152.6h0M523.1 152.6h0M523.4 152.6h0M523.8 152.6h0M524.2 152.6h0M524.6 152.6h0M525.0 152.6h0M525.4 152.6h0M525.7 152.6h0M526.1 152.6h0M526.5 152.6h0M526.9 152.6h0M527.3 152.6h0M527.6 152.6h0M528.0 152.6h0M528.4 152.6h0M528.8 151.7h0M529.2 151.0h0M529.6 150.4h0M529.9 150.0h0M530.3 149.7h0M530.7 149.5h0M531.1 149.3h0M531.5 149.2h0M531.8 149.1h0M532.2 149.0h0M532.6 148.9h0M533.0 148.9h0M533.4 148.8h0M533.8 148.8h0M534.1 148.7h0M534.5 148.7h0M534.9 148.7h0M535.3 148.7h0M535.7 148.6h0M536.0 148.6h0M536.4 148.6h0M536.8 148.6h0M537.2 148.5h0M537.6 148.5h0M538.0 148.5h0M538.3 148.5h0M538.7 148.5h0M539.1 148.4h0M539.5 148.4h0M539.9 148.4h0M540.3 148.4h0M540.6 148.4h0M541.0 148.4h0M541.4 148.3h0M541.8 148.3h0M542.2 148.3h0M542.5 148.3h0M542.9 148.3h0M543.3 148.3h0M543.7 148.2h0M544.1 148.2h0M544.5 148.2h0M544.8 148.2h0M545.2 148.2h0M545.6 148.2h0M546.0 148.1h0M546.4 148.1h0M546.7 148.1h0M547.1 148.1h0M547.5 148.1h0M547.9 148.1h0M548.3 148.1h0M548.7 148.1h0M549.0 148.0h0M549.4 148.0h0M549.8 148.0h0M550.2 148.0h0M550.6 148.0h0M550.9 148.0h0M551.3 148.0h0M551.7 148.0h0M552.1 147.9h0M552.5 147.9h0M552.9 147.9h0M553.2 147.9h0M553.6 147.9h0M554.0 147.9h0M554.4 147.9h0M554.8 147.9h0M555.1 147.9h0M555.5 147.9h0M555.9 147.8h0M556.3 147.8h0M556.7 147.8h0M557.1 147.8h0M557.4 147.8h0M557.8 147.8h0M558.2 147.8h0M558.6 147.8h0M559.0 147.8h0M559.4 147.8h0M559.7 147.8h0M560.1 147.8h0M560.5 147.7h0M560.9 147.7h0M561.3 147.7h0M561.6 147.7h0M562.0 147.7h0M562.4 147.7h0M562.8 147.7h0M563.2 147.7h0M563.6 147.7h0M563.9 147.7h0M564.3 147.7h0M564.7 147.7h0M565.1 147.7h0M565.5 147.7h0M565.8 147.7h0M566.2 147.6h0M566.6 147.6h0M567.0 147.6h0M567.4 147.6h0M567.8 147.6h0M568.1 147.6h0M568.5 147.6h0M568.9 147.6h0M569.3 147.6h0M569.7 147.6h0M570.0 147.6h0M570.4 147.6h0M570.8 147.6h0M571.2 147.6h0M571.6 147.6h0M572.0 147.6h0M572.3 147.6h0M572.7 147.6h0M573.1 147.6h0M573.5 147.6h0M573.9 147.5h0M574.2 147.5h0M574.6 147.5h0M575.0 147.5h0M575.4 147.5h0M575.8 147.5h0M576.2 147.5h0M576.5 147.5h0M576.9 147.5h0M577.3 147.5h0M577.7 147.5h0M578.1 147.5h0M578.5 147.5h0M578.8 147.5h0M579.2 147.5h0M579.6 147.5h0M580.0 147.5h0M580.4 147.5h0M580.7 147.5h0M581.1 147.5h0M581.5 147.5h0M581.9 147.5h0M582.3 147.5h0M582.7 147.5h0M583.0 147.5h0M583.4 147.5h0M583.8 147.5h0M584.2 147.5h0M584.6 147.5h0M584.9 147.5h0M585.3 147.4h0M585.7 147.4h0M586.1 147.4h0M586.5 147.4h0M586.9 147.4h0M587.2 147.4h0M587.6 147.4h0M588.0 147.4h0M588.4 147.4h0M588.8 147.4h0M589.1 147.4h0M589.5 147.4h0M589.9 147.4h0M590.3 147.4h0M590.7 147.4h0M591.1 147.4h0M591.4 147.4h0M591.8 147.4h0M592.2 147.4h0M592.6 147.4h0M593.0 147.4h0M593.4 147.4h0M593.7 147.4h0M594.1 147.4h0M594.5 147.4h0M594.9 147.4h0M595.3 147.4h0M595.6 147.4h0M596.0 147.4h0M596.4 147.4h0M596.8 147.4h0M597.2 147.4h0M597.6 147.4h0M597.9 147.4h0M598.3 147.4h0M598.7 147.4h0M599.1 147.4h0M599.5 148.9h0M599.8 150.0h0M600.2 150.8h0M600.6 151.3h0M601.0 151.6h0M601.4 151.8h0M601.8 152.0h0M602.1 152.1h0M602.5 152.2h0M602.9 152.3h0M603.3 152.3h0M603.7 152.4h0M604.0 152.4h0M604.4 152.4h0M604.8 152.4h0M605.2 152.5h0M605.6 152.5h0M606.0 152.5h0M606.3 152.5h0M606.7 152.5h0M607.1 152.5h0M607.5 152.5h0M607.9 152.6h0M608.2 152.6h0M608.6 152.6h0M609.0 152.6h0M609.4 152.6h0M609.8 152.6h0M610.2 152.6h0M610.5 152.6h0M610.9 152.6h0M611.3 152.6h0M611.7 152.6h0M612.1 152.6h0M612.4 152.6h0M612.8 152.6h0M613.2 152.6h0M613.6 152.6h0M614.0 152.6h0M614.4 152.6h0M614.7 152.6h0M615.1 152.6h0M615.5 152.6h0M615.9 152.6h0M616.3 152.6h0M616.7 152.6h0M617.0 152.6h0M617.4 152.6h0M617.8 152.6h0M618.2 152.6h0M618.6 152.6h0M618.9 152.6h0M619.3 152.6h0M619.7 152.6h0M620.1 152.6h0M620.5 152.6h0M620.9 152.6h0M621.2 152.6h0M621.6 152.6h0M622.0 152.6h0M622.4 152.6h0M622.8 152.6h0M623.1 152.6h0M623.5 152.6h0M623.9 152.6h0M624.3 152.6h0M624.7 152.6h0M625.1 152.6h0M625.4 152.6h0M625.8 152.6h0M626.2 152.6h0M626.6 152.6h0M627.0 152.6h0M627.3 152.6h0M627.7 152.6h0M628.1 152.6h0M628.5 152.6h0M628.9 152.6h0M629.3 152.6h0M629.6 152.6h0M630.0 152.6h0M630.4 152.6h0M630.8 152.6h0M631.2 152.6h0M631.5 152.6h0M631.9 152.6h0M632.3 152.6h0M632.7 152.6h0M633.1 152.6h0M633.5 152.6h0M633.8 152.6h0M634.2 152.6h0M634.6 152.6h0M635.0 152.6h0M635.4 152.6h0M635.8 152.6h0M636.1 152.6h0M636.5 152.6h0M636.9 152.6h0M637.3 152.6h0M637.7 152.6h0M638.0 152.6h0M638.4 152.6h0M638.8 152.6h0M639.2 152.6h0M639.6 152.6h0M640.0 152.6h0M640.3 152.6h0M640.7 152.6h0M641.1 152.6h0M641.5 152.6h0M641.9 152.6h0M642.2 152.6h0M642.6 152.6h0M643.0 152.6h0M643.4 152.6h0M643.8 152.6h0M644.2 152.6h0M644.5 152.6h0M644.9 152.6h0M645.3 152.6h0M645.7 152.6h0M646.1 152.6h0M646.4 152.6h0M646.8 152.6h0M647.2 152.6h0M647.6 152.6h0M648.0 152.6h0M648.4 152.6h0M648.7 152.6h0M649.1 152.6h0M649.5 152.6h0M649.9 152.6h0M650.3 152.6h0M650.6 152.6h0M651.0 152.6h0M651.4 152.6h0M651.8 152.6h0M652.2 152.6h0M652.6 152.6h0M652.9 152.6h0M653.3 152.6h0M653.7 152.6h0M654.1 152.6h0M654.5 152.6h0M654.9 152.6h0M655.2 152.6h0M655.6 152.6h0M656.0 152.6h0M656.4 152.6h0M656.8 152.6h0M657.1 152.6h0M657.5 152.6h0M657.9 152.6h0M658.3 152.6h0M658.7 152.6h0M659.1 152.6h0M659.4 152.6h0M659.8 152.6h0M660.2 152.6h0M660.6 152.6h0M661.0 152.6h0M661.3 152.6h0M661.7 152.6h0M662.1 152.6h0M662.5 152.6h0M662.9 152.6h0M663.3 152.6h0M663.6 152.6h0M664.0 152.6h0M664.4 152.6h0M664.8 152.6h0M665.2 152.6h0M665.5 152.6h0M665.9 152.6h0M666.3 152.6h0M666.7 152.6h0M667.1 152.6h0M667.5 152.6h0M667.8 152.6h0" stroke="#e83a3e" stroke-width="4.20" stroke-linecap="round" fill="none" />
<path d="" stroke="#e4e8e4" stroke-width="1.60" stroke-linecap="round" fill="none" />
<polyline points="507.4,152.6 507.8,152.6 508.2,152.6 508.5,152.6 508.9,152.6 509.3,152.6 509.7,152.6 510.1,152.6 510.5,152.6 510.8,152.6 511.2,152.6 511.6,152.6 512.0,152.6 512.4,152.6 512.7,152.6 513.1,152.6 513.5,152.6 513.9,152.6 514.3,152.6 514.7,152.6 515.0,152.6 515.4,152.6 515.8,152.6 516.2,152.6 516.6,152.6 516.9,152.6 517.3,152.6 517.7,152.6 518.1,152.6 518.5,152.6 518.9,152.6 519.2,152.6 519.6,152.6 520.0,152.6 520.4,152.6 520.8,152.6 521.2,152.6 521.5,152.6 521.9,152.6 522.3,152.6 522.7,152.6 523.1,152.6 523.4,152.6 523.8,152.6 524.2,152.6 524.6,152.6 525.0,152.6 525.4,152.6 525.7,152.6 526.1,152.6 526.5,152.6 526.9,152.6 527.3,152.6 527.6,152.6 528.0,152.6 528.4,152.6 528.8,147.8 529.2,143.1 529.6,138.8 529.9,134.8 530.3,131.0 530.7,127.5 531.1,124.3 531.5,121.3 531.8,118.5 532.2,115.9 532.6,113.4 533.0,111.2 533.4,109.0 533.8,107.1 534.1,105.2 534.5,103.5 534.9,101.9 535.3,100.4 535.7,99.0 536.0,97.7 536.4,96.5 536.8,95.3 537.2,94.2 537.6,93.2 538.0,92.3 538.3,91.4 538.7,90.6 539.1,89.8 539.5,89.0 539.9,88.3 540.3,87.7 540.6,87.1 541.0,86.5 541.4,85.9 541.8,85.4 542.2,84.9 542.5,84.4 542.9,84.0 543.3,83.6 543.7,83.2 544.1,82.8 544.5,82.4 544.8,82.1 545.2,81.7 545.6,81.4 546.0,81.1 546.4,80.8 546.7,80.5 547.1,80.3 547.5,80.0 547.9,79.7 548.3,79.5 548.7,79.3 549.0,79.0 549.4,78.8 549.8,78.6 550.2,78.4 550.6,78.2 550.9,78.0 551.3,77.8 551.7,77.6 552.1,77.5 552.5,77.3 552.9,77.1 553.2,77.0 553.6,76.8 554.0,76.6 554.4,76.5 554.8,76.3 555.1,76.2 555.5,76.0 555.9,75.9 556.3,75.8 556.7,75.6 557.1,75.5 557.4,75.3 557.8,75.2 558.2,75.1 558.6,75.0 559.0,74.8 559.4,74.7 559.7,74.6 560.1,74.5 560.5,74.3 560.9,74.2 561.3,74.1 561.6,74.0 562.0,73.9 562.4,73.8 562.8,73.7 563.2,73.5 563.6,73.4 563.9,73.3 564.3,73.2 564.7,73.1 565.1,73.0 565.5,72.9 565.8,72.8 566.2,72.7 566.6,72.6 567.0,72.5 567.4,72.4 567.8,72.3 568.1,72.2 568.5,72.1 568.9,72.0 569.3,71.9 569.7,71.8 570.0,71.7 570.4,71.6 570.8,71.5 571.2,71.4 571.6,71.3 572.0,71.2 572.3,71.1 572.7,71.0 573.1,71.0 573.5,70.9 573.9,70.8 574.2,70.7 574.6,70.6 575.0,70.5 575.4,70.4 575.8,70.3 576.2,70.2 576.5,70.2 576.9,70.1 577.3,70.0 577.7,69.9 578.1,69.8 578.5,69.7 578.8,69.6 579.2,69.6 579.6,69.5 580.0,69.4 580.4,69.3 580.7,69.2 581.1,69.2 581.5,69.1 581.9,69.0 582.3,68.9 582.7,68.8 583.0,68.7 583.4,68.7 583.8,68.6 584.2,68.5 584.6,68.4 584.9,68.4 585.3,68.3 585.7,68.2 586.1,68.1 586.5,68.0 586.9,68.0 587.2,67.9 587.6,67.8 588.0,67.7 588.4,67.7 588.8,67.6 589.1,67.5 589.5,67.4 589.9,67.4 590.3,67.3 590.7,67.2 591.1,67.1 591.4,67.1 591.8,67.0 592.2,66.9 592.6,66.8 593.0,66.8 593.4,66.7 593.7,66.6 594.1,66.5 594.5,66.5 594.9,66.4 595.3,66.3 595.6,66.3 596.0,66.2 596.4,66.1 596.8,66.0 597.2,66.0 597.6,65.9 597.9,65.8 598.3,65.8 598.7,65.7 599.1,65.6 599.5,93.0 599.8,110.9 600.2,122.8 600.6,130.7 601.0,136.1 601.4,139.8 601.8,142.5 602.1,144.4 602.5,145.8 602.9,146.9 603.3,147.7 603.7,148.4 604.0,149.0 604.4,149.5 604.8,149.9 605.2,150.2 605.6,150.5 606.0,150.8 606.3,151.0 606.7,151.2 607.1,151.3 607.5,151.5 607.9,151.6 608.2,151.7 608.6,151.8 609.0,151.9 609.4,152.0 609.8,152.1 610.2,152.2 610.5,152.2 610.9,152.3 611.3,152.3 611.7,152.3 612.1,152.4 612.4,152.4 612.8,152.4 613.2,152.4 613.6,152.5 614.0,152.5 614.4,152.5 614.7,152.5 615.1,152.5 615.5,152.5 615.9,152.5 616.3,152.6 616.7,152.6 617.0,152.6 617.4,152.6 617.8,152.6 618.2,152.6 618.6,152.6 618.9,152.6 619.3,152.6 619.7,152.6 620.1,152.6 620.5,152.6 620.9,152.6 621.2,152.6 621.6,152.6 622.0,152.6 622.4,152.6 622.8,152.6 623.1,152.6 623.5,152.6 623.9,152.6 624.3,152.6 624.7,152.6 625.1,152.6 625.4,152.6 625.8,152.6 626.2,152.6 626.6,152.6 627.0,152.6 627.3,152.6 627.7,152.6 628.1,152.6 628.5,152.6 628.9,152.6 629.3,152.6 629.6,152.6 630.0,152.6 630.4,152.6 630.8,152.6 631.2,152.6 631.5,152.6 631.9,152.6 632.3,152.6 632.7,152.6 633.1,152.6 633.5,152.6 633.8,152.6 634.2,152.6 634.6,152.6 635.0,152.6 635.4,152.6 635.8,152.6 636.1,152.6 636.5,152.6 636.9,152.6 637.3,152.6 637.7,152.6 638.0,152.6 638.4,152.6 638.8,152.6 639.2,152.6 639.6,152.6 640.0,152.6 640.3,152.6 640.7,152.6 641.1,152.6 641.5,152.6 641.9,152.6 642.2,152.6 642.6,152.6 643.0,152.6 643.4,152.6 643.8,152.6 644.2,152.6 644.5,152.6 644.9,152.6 645.3,152.6 645.7,152.6 646.1,152.6 646.4,152.6 646.8,152.6 647.2,152.6 647.6,152.6 648.0,152.6 648.4,152.6 648.7,152.6 649.1,152.6 649.5,152.6 649.9,152.6 650.3,152.6 650.6,152.6 651.0,152.6 651.4,152.6 651.8,152.6 652.2,152.6 652.6,152.6 652.9,152.6 653.3,152.6 653.7,152.6 654.1,152.6 654.5,152.6 654.9,152.6 655.2,152.6 655.6,152.6 656.0,152.6 656.4,152.6 656.8,152.6 657.1,152.6 657.5,152.6 657.9,152.6 658.3,152.6 658.7,152.6 659.1,152.6 659.4,152.6 659.8,152.6 660.2,152.6 660.6,152.6 661.0,152.6 661.3,152.6 661.7,152.6 662.1,152.6 662.5,152.6 662.9,152.6 663.3,152.6 663.6,152.6 664.0,152.6 664.4,152.6 664.8,152.6 665.2,152.6 665.5,152.6 665.9,152.6 666.3,152.6 666.7,152.6 667.1,152.6 667.5,152.6 667.8,152.6" fill="none" stroke="#3a6cc6" stroke-width="1.2" stroke-linejoin="round" />
<path d="M507.4 152.6h0M507.8 152.6h0M508.2 152.6h0M508.5 152.6h0M508.9 152.6h0M509.3 152.6h0M509.7 152.6h0M510.1 152.6h0M510.5 152.6h0M510.8 152.6h0M511.2 152.6h0M511.6 152.6h0M512.0 152.6h0M512.4 152.6h0M512.7 152.6h0M513.1 152.6h0M513.5 152.6h0M513.9 152.6h0M514.3 152.6h0M514.7 152.6h0M515.0 152.6h0M515.4 152.6h0M515.8 152.6h0M516.2 152.6h0M516.6 152.6h0M516.9 152.6h0M517.3 152.6h0M517.7 152.6h0M518.1 152.6h0M518.5 152.6h0M518.9 152.6h0M519.2 152.6h0M519.6 152.6h0M520.0 152.6h0M520.4 152.6h0M520.8 152.6h0M521.2 152.6h0M521.5 152.6h0M521.9 152.6h0M522.3 152.6h0M522.7 152.6h0M523.1 152.6h0M523.4 152.6h0M523.8 152.6h0M524.2 152.6h0M524.6 152.6h0M525.0 152.6h0M525.4 152.6h0M525.7 152.6h0M526.1 152.6h0M526.5 152.6h0M526.9 152.6h0M527.3 152.6h0M527.6 152.6h0M528.0 152.6h0M528.4 152.6h0M528.8 147.8h0M529.2 143.1h0M529.6 138.8h0M529.9 134.8h0M530.3 131.0h0M530.7 127.5h0M531.1 124.3h0M531.5 121.3h0M531.8 118.5h0M532.2 115.9h0M532.6 113.4h0M533.0 111.2h0M533.4 109.0h0M533.8 107.1h0M534.1 105.2h0M534.5 103.5h0M534.9 101.9h0M535.3 100.4h0M535.7 99.0h0M536.0 97.7h0M536.4 96.5h0M536.8 95.3h0M537.2 94.2h0M537.6 93.2h0M538.0 92.3h0M538.3 91.4h0M538.7 90.6h0M539.1 89.8h0M539.5 89.0h0M539.9 88.3h0M540.3 87.7h0M540.6 87.1h0M541.0 86.5h0M541.4 85.9h0M541.8 85.4h0M542.2 84.9h0M542.5 84.4h0M542.9 84.0h0M543.3 83.6h0M543.7 83.2h0M544.1 82.8h0M544.5 82.4h0M544.8 82.1h0M545.2 81.7h0M545.6 81.4h0M546.0 81.1h0M546.4 80.8h0M546.7 80.5h0M547.1 80.3h0M547.5 80.0h0M547.9 79.7h0M548.3 79.5h0M548.7 79.3h0M549.0 79.0h0M549.4 78.8h0M549.8 78.6h0M550.2 78.4h0M550.6 78.2h0M550.9 78.0h0M551.3 77.8h0M551.7 77.6h0M552.1 77.5h0M552.5 77.3h0M552.9 77.1h0M553.2 77.0h0M553.6 76.8h0M554.0 76.6h0M554.4 76.5h0M554.8 76.3h0M555.1 76.2h0M555.5 76.0h0M555.9 75.9h0M556.3 75.8h0M556.7 75.6h0M557.1 75.5h0M557.4 75.3h0M557.8 75.2h0M558.2 75.1h0M558.6 75.0h0M559.0 74.8h0M559.4 74.7h0M559.7 74.6h0M560.1 74.5h0M560.5 74.3h0M560.9 74.2h0M561.3 74.1h0M561.6 74.0h0M562.0 73.9h0M562.4 73.8h0M562.8 73.7h0M563.2 73.5h0M563.6 73.4h0M563.9 73.3h0M564.3 73.2h0M564.7 73.1h0M565.1 73.0h0M565.5 72.9h0M565.8 72.8h0M566.2 72.7h0M566.6 72.6h0M567.0 72.5h0M567.4 72.4h0M567.8 72.3h0M568.1 72.2h0M568.5 72.1h0M568.9 72.0h0M569.3 71.9h0M569.7 71.8h0M570.0 71.7h0M570.4 71.6h0M570.8 71.5h0M571.2 71.4h0M571.6 71.3h0M572.0 71.2h0M572.3 71.1h0M572.7 71.0h0M573.1 71.0h0M573.5 70.9h0M573.9 70.8h0M574.2 70.7h0M574.6 70.6h0M575.0 70.5h0M575.4 70.4h0M575.8 70.3h0M576.2 70.2h0M576.5 70.2h0M576.9 70.1h0M577.3 70.0h0M577.7 69.9h0M578.1 69.8h0M578.5 69.7h0M578.8 69.6h0M579.2 69.6h0M579.6 69.5h0M580.0 69.4h0M580.4 69.3h0M580.7 69.2h0M581.1 69.2h0M581.5 69.1h0M581.9 69.0h0M582.3 68.9h0M582.7 68.8h0M583.0 68.7h0M583.4 68.7h0M583.8 68.6h0M584.2 68.5h0M584.6 68.4h0M584.9 68.4h0M585.3 68.3h0M585.7 68.2h0M586.1 68.1h0M586.5 68.0h0M586.9 68.0h0M587.2 67.9h0M587.6 67.8h0M588.0 67.7h0M588.4 67.7h0M588.8 67.6h0M589.1 67.5h0M589.5 67.4h0M589.9 67.4h0M590.3 67.3h0M590.7 67.2h0M591.1 67.1h0M591.4 67.1h0M591.8 67.0h0M592.2 66.9h0M592.6 66.8h0M593.0 66.8h0M593.4 66.7h0M593.7 66.6h0M594.1 66.5h0M594.5 66.5h0M594.9 66.4h0M595.3 66.3h0M595.6 66.3h0M596.0 66.2h0M596.4 66.1h0M596.8 66.0h0M597.2 66.0h0M597.6 65.9h0M597.9 65.8h0M598.3 65.8h0M598.7 65.7h0M599.1 65.6h0M599.5 93.0h0M599.8 110.9h0M600.2 122.8h0M600.6 130.7h0M601.0 136.1h0M601.4 139.8h0M601.8 142.5h0M602.1 144.4h0M602.5 145.8h0M602.9 146.9h0M603.3 147.7h0M603.7 148.4h0M604.0 149.0h0M604.4 149.5h0M604.8 149.9h0M605.2 150.2h0M605.6 150.5h0M606.0 150.8h0M606.3 151.0h0M606.7 151.2h0M607.1 151.3h0M607.5 151.5h0M607.9 151.6h0M608.2 151.7h0M608.6 151.8h0M609.0 151.9h0M609.4 152.0h0M609.8 152.1h0M610.2 152.2h0M610.5 152.2h0M610.9 152.3h0M611.3 152.3h0M611.7 152.3h0M612.1 152.4h0M612.4 152.4h0M612.8 152.4h0M613.2 152.4h0M613.6 152.5h0M614.0 152.5h0M614.4 152.5h0M614.7 152.5h0M615.1 152.5h0M615.5 152.5h0M615.9 152.5h0M616.3 152.6h0M616.7 152.6h0M617.0 152.6h0M617.4 152.6h0M617.8 152.6h0M618.2 152.6h0M618.6 152.6h0M618.9 152.6h0M619.3 152.6h0M619.7 152.6h0M620.1 152.6h0M620.5 152.6h0M620.9 152.6h0M621.2 152.6h0M621.6 152.6h0M622.0 152.6h0M622.4 152.6h0M622.8 152.6h0M623.1 152.6h0M623.5 152.6h0M623.9 152.6h0M624.3 152.6h0M624.7 152.6h0M625.1 152.6h0M625.4 152.6h0M625.8 152.6h0M626.2 152.6h0M626.6 152.6h0M627.0 152.6h0M627.3 152.6h0M627.7 152.6h0M628.1 152.6h0M628.5 152.6h0M628.9 152.6h0M629.3 152.6h0M629.6 152.6h0M630.0 152.6h0M630.4 152.6h0M630.8 152.6h0M631.2 152.6h0M631.5 152.6h0M631.9 152.6h0M632.3 152.6h0M632.7 152.6h0M633.1 152.6h0M633.5 152.6h0M633.8 152.6h0M634.2 152.6h0M634.6 152.6h0M635.0 152.6h0M635.4 152.6h0M635.8 152.6h0M636.1 152.6h0M636.5 152.6h0M636.9 152.6h0M637.3 152.6h0M637.7 152.6h0M638.0 152.6h0M638.4 152.6h0M638.8 152.6h0M639.2 152.6h0M639.6 152.6h0M640.0 152.6h0M640.3 152.6h0M640.7 152.6h0M641.1 152.6h0M641.5 152.6h0M641.9 152.6h0M642.2 152.6h0M642.6 152.6h0M643.0 152.6h0M643.4 152.6h0M643.8 152.6h0M644.2 152.6h0M644.5 152.6h0M644.9 152.6h0M645.3 152.6h0M645.7 152.6h0M646.1 152.6h0M646.4 152.6h0M646.8 152.6h0M647.2 152.6h0M647.6 152.6h0M648.0 152.6h0M648.4 152.6h0M648.7 152.6h0M649.1 152.6h0M649.5 152.6h0M649.9 152.6h0M650.3 152.6h0M650.6 152.6h0M651.0 152.6h0M651.4 152.6h0M651.8 152.6h0M652.2 152.6h0M652.6 152.6h0M652.9 152.6h0M653.3 152.6h0M653.7 152.6h0M654.1 152.6h0M654.5 152.6h0M654.9 152.6h0M655.2 152.6h0M655.6 152.6h0M656.0 152.6h0M656.4 152.6h0M656.8 152.6h0M657.1 152.6h0M657.5 152.6h0M657.9 152.6h0M658.3 152.6h0M658.7 152.6h0M659.1 152.6h0M659.4 152.6h0M659.8 152.6h0M660.2 152.6h0M660.6 152.6h0M661.0 152.6h0M661.3 152.6h0M661.7 152.6h0M662.1 152.6h0M662.5 152.6h0M662.9 152.6h0M663.3 152.6h0M663.6 152.6h0M664.0 152.6h0M664.4 152.6h0M664.8 152.6h0M665.2 152.6h0M665.5 152.6h0M665.9 152.6h0M666.3 152.6h0M666.7 152.6h0M667.1 152.6h0M667.5 152.6h0M667.8 152.6h0" stroke="#3a6cc6" stroke-width="4.20" stroke-linecap="round" fill="none" />
<path d="M528.8 147.8h0M529.2 143.1h0M529.6 138.8h0M529.9 134.8h0M530.3 131.0h0M530.7 127.5h0M531.1 124.3h0M531.5 121.3h0M531.8 118.5h0M532.2 115.9h0M599.5 93.0h0M599.8 110.9h0M600.2 122.8h0M600.6 130.7h0M601.0 136.1h0M601.4 139.8h0M601.8 142.5h0" stroke="#e4e8e4" stroke-width="1.60" stroke-linecap="round" fill="none" />
<polyline points="507.4,152.6 507.8,152.6 508.2,152.6 508.5,152.6 508.9,152.6 509.3,152.6 509.7,152.6 510.1,152.6 510.5,152.6 510.8,152.6 511.2,152.6 511.6,152.6 512.0,152.6 512.4,152.6 512.7,152.6 513.1,152.6 513.5,152.6 513.9,152.6 514.3,152.6 514.7,152.6 515.0,152.6 515.4,152.6 515.8,152.6 516.2,152.6 516.6,152.6 516.9,152.6 517.3,152.6 517.7,152.6 518.1,152.6 518.5,152.6 518.9,152.6 519.2,152.6 519.6,152.6 520.0,152.6 520.4,152.6 520.8,152.6 521.2,152.6 521.5,152.6 521.9,152.6 522.3,152.6 522.7,152.6 523.1,152.6 523.4,152.6 523.8,152.6 524.2,152.6 524.6,152.6 525.0,152.6 525.4,152.6 525.7,152.6 526.1,152.6 526.5,152.6 526.9,152.6 527.3,152.6 527.6,152.6 528.0,152.6 528.4,152.6 528.8,139.7 529.2,128.2 529.6,118.1 529.9,109.3 530.3,101.6 530.7,94.8 531.1,88.8 531.5,83.6 531.8,79.0 532.2,74.9 532.6,71.3 533.0,68.1 533.4,65.2 533.8,62.7 534.1,60.5 534.5,58.4 534.9,56.6 535.3,55.0 535.7,53.5 536.0,52.2 536.4,51.0 536.8,49.9 537.2,48.9 537.6,48.0 538.0,47.2 538.3,46.4 538.7,45.7 539.1,45.0 539.5,44.4 539.9,43.8 540.3,43.3 540.6,42.8 541.0,42.3 541.4,41.9 541.8,41.5 542.2,41.1 542.5,40.7 542.9,40.3 543.3,40.0 543.7,39.6 544.1,39.3 544.5,39.0 544.8,38.7 545.2,38.5 545.6,38.2 546.0,37.9 546.4,37.7 546.7,37.4 547.1,37.2 547.5,37.0 547.9,36.8 548.3,36.6 548.7,36.4 549.0,36.2 549.4,36.0 549.8,35.8 550.2,35.6 550.6,35.4 550.9,35.3 551.3,35.1 551.7,34.9 552.1,34.8 552.5,34.6 552.9,34.5 553.2,34.3 553.6,34.2 554.0,34.1 554.4,33.9 554.8,33.8 555.1,33.7 555.5,33.5 555.9,33.4 556.3,33.3 556.7,33.2 557.1,33.1 557.4,33.0 557.8,32.8 558.2,32.7 558.6,32.6 559.0,32.5 559.4,32.4 559.7,32.3 560.1,32.2 560.5,32.1 560.9,32.1 561.3,32.0 561.6,31.9 562.0,31.8 562.4,31.7 562.8,31.6 563.2,31.5 563.6,31.5 563.9,31.4 564.3,31.3 564.7,31.2 565.1,31.2 565.5,31.1 565.8,31.0 566.2,30.9 566.6,30.9 567.0,30.8 567.4,30.7 567.8,30.7 568.1,30.6 568.5,30.5 568.9,30.5 569.3,30.4 569.7,30.3 570.0,30.3 570.4,30.2 570.8,30.2 571.2,30.1 571.6,30.0 572.0,30.0 572.3,29.9 572.7,29.9 573.1,29.8 573.5,29.8 573.9,29.7 574.2,29.7 574.6,29.6 575.0,29.6 575.4,29.5 575.8,29.4 576.2,29.4 576.5,29.3 576.9,29.3 577.3,29.2 577.7,29.2 578.1,29.1 578.5,29.1 578.8,29.1 579.2,29.0 579.6,29.0 580.0,28.9 580.4,28.9 580.7,28.8 581.1,28.8 581.5,28.7 581.9,28.7 582.3,28.6 582.7,28.6 583.0,28.5 583.4,28.5 583.8,28.5 584.2,28.4 584.6,28.4 584.9,28.3 585.3,28.3 585.7,28.2 586.1,28.2 586.5,28.2 586.9,28.1 587.2,28.1 587.6,28.0 588.0,28.0 588.4,27.9 588.8,27.9 589.1,27.9 589.5,27.8 589.9,27.8 590.3,27.7 590.7,27.7 591.1,27.7 591.4,27.6 591.8,27.6 592.2,27.5 592.6,27.5 593.0,27.5 593.4,27.4 593.7,27.4 594.1,27.3 594.5,27.3 594.9,27.3 595.3,27.2 595.6,27.2 596.0,27.1 596.4,27.1 596.8,27.1 597.2,27.0 597.6,27.0 597.9,26.9 598.3,26.9 598.7,26.9 599.1,26.8 599.5,66.4 599.8,92.4 600.2,109.5 600.6,121.0 601.0,128.7 601.4,134.1 601.8,137.9 602.1,140.7 602.5,142.8 602.9,144.3 603.3,145.6 603.7,146.6 604.0,147.4 604.4,148.1 604.8,148.6 605.2,149.1 605.6,149.6 606.0,149.9 606.3,150.3 606.7,150.5 607.1,150.8 607.5,151.0 607.9,151.2 608.2,151.4 608.6,151.5 609.0,151.6 609.4,151.8 609.8,151.9 610.2,151.9 610.5,152.0 610.9,152.1 611.3,152.2 611.7,152.2 612.1,152.3 612.4,152.3 612.8,152.3 613.2,152.4 613.6,152.4 614.0,152.4 614.4,152.4 614.7,152.5 615.1,152.5 615.5,152.5 615.9,152.5 616.3,152.5 616.7,152.5 617.0,152.5 617.4,152.6 617.8,152.6 618.2,152.6 618.6,152.6 618.9,152.6 619.3,152.6 619.7,152.6 620.1,152.6 620.5,152.6 620.9,152.6 621.2,152.6 621.6,152.6 622.0,152.6 622.4,152.6 622.8,152.6 623.1,152.6 623.5,152.6 623.9,152.6 624.3,152.6 624.7,152.6 625.1,152.6 625.4,152.6 625.8,152.6 626.2,152.6 626.6,152.6 627.0,152.6 627.3,152.6 627.7,152.6 628.1,152.6 628.5,152.6 628.9,152.6 629.3,152.6 629.6,152.6 630.0,152.6 630.4,152.6 630.8,152.6 631.2,152.6 631.5,152.6 631.9,152.6 632.3,152.6 632.7,152.6 633.1,152.6 633.5,152.6 633.8,152.6 634.2,152.6 634.6,152.6 635.0,152.6 635.4,152.6 635.8,152.6 636.1,152.6 636.5,152.6 636.9,152.6 637.3,152.6 637.7,152.6 638.0,152.6 638.4,152.6 638.8,152.6 639.2,152.6 639.6,152.6 640.0,152.6 640.3,152.6 640.7,152.6 641.1,152.6 641.5,152.6 641.9,152.6 642.2,152.6 642.6,152.6 643.0,152.6 643.4,152.6 643.8,152.6 644.2,152.6 644.5,152.6 644.9,152.6 645.3,152.6 645.7,152.6 646.1,152.6 646.4,152.6 646.8,152.6 647.2,152.6 647.6,152.6 648.0,152.6 648.4,152.6 648.7,152.6 649.1,152.6 649.5,152.6 649.9,152.6 650.3,152.6 650.6,152.6 651.0,152.6 651.4,152.6 651.8,152.6 652.2,152.6 652.6,152.6 652.9,152.6 653.3,152.6 653.7,152.6 654.1,152.6 654.5,152.6 654.9,152.6 655.2,152.6 655.6,152.6 656.0,152.6 656.4,152.6 656.8,152.6 657.1,152.6 657.5,152.6 657.9,152.6 658.3,152.6 658.7,152.6 659.1,152.6 659.4,152.6 659.8,152.6 660.2,152.6 660.6,152.6 661.0,152.6 661.3,152.6 661.7,152.6 662.1,152.6 662.5,152.6 662.9,152.6 663.3,152.6 663.6,152.6 664.0,152.6 664.4,152.6 664.8,152.6 665.2,152.6 665.5,152.6 665.9,152.6 666.3,152.6 666.7,152.6 667.1,152.6 667.5,152.6 667.8,152.6" fill="none" stroke="#2fa35e" stroke-width="1.2" stroke-linejoin="round" />
<path d="M507.4 152.6h0M507.8 152.6h0M508.2 152.6h0M508.5 152.6h0M508.9 152.6h0M509.3 152.6h0M509.7 152.6h0M510.1 152.6h0M510.5 152.6h0M510.8 152.6h0M511.2 152.6h0M511.6 152.6h0M512.0 152.6h0M512.4 152.6h0M512.7 152.6h0M513.1 152.6h0M513.5 152.6h0M513.9 152.6h0M514.3 152.6h0M514.7 152.6h0M515.0 152.6h0M515.4 152.6h0M515.8 152.6h0M516.2 152.6h0M516.6 152.6h0M516.9 152.6h0M517.3 152.6h0M517.7 152.6h0M518.1 152.6h0M518.5 152.6h0M518.9 152.6h0M519.2 152.6h0M519.6 152.6h0M520.0 152.6h0M520.4 152.6h0M520.8 152.6h0M521.2 152.6h0M521.5 152.6h0M521.9 152.6h0M522.3 152.6h0M522.7 152.6h0M523.1 152.6h0M523.4 152.6h0M523.8 152.6h0M524.2 152.6h0M524.6 152.6h0M525.0 152.6h0M525.4 152.6h0M525.7 152.6h0M526.1 152.6h0M526.5 152.6h0M526.9 152.6h0M527.3 152.6h0M527.6 152.6h0M528.0 152.6h0M528.4 152.6h0M528.8 139.7h0M529.2 128.2h0M529.6 118.1h0M529.9 109.3h0M530.3 101.6h0M530.7 94.8h0M531.1 88.8h0M531.5 83.6h0M531.8 79.0h0M532.2 74.9h0M532.6 71.3h0M533.0 68.1h0M533.4 65.2h0M533.8 62.7h0M534.1 60.5h0M534.5 58.4h0M534.9 56.6h0M535.3 55.0h0M535.7 53.5h0M536.0 52.2h0M536.4 51.0h0M536.8 49.9h0M537.2 48.9h0M537.6 48.0h0M538.0 47.2h0M538.3 46.4h0M538.7 45.7h0M539.1 45.0h0M539.5 44.4h0M539.9 43.8h0M540.3 43.3h0M540.6 42.8h0M541.0 42.3h0M541.4 41.9h0M541.8 41.5h0M542.2 41.1h0M542.5 40.7h0M542.9 40.3h0M543.3 40.0h0M543.7 39.6h0M544.1 39.3h0M544.5 39.0h0M544.8 38.7h0M545.2 38.5h0M545.6 38.2h0M546.0 37.9h0M546.4 37.7h0M546.7 37.4h0M547.1 37.2h0M547.5 37.0h0M547.9 36.8h0M548.3 36.6h0M548.7 36.4h0M549.0 36.2h0M549.4 36.0h0M549.8 35.8h0M550.2 35.6h0M550.6 35.4h0M550.9 35.3h0M551.3 35.1h0M551.7 34.9h0M552.1 34.8h0M552.5 34.6h0M552.9 34.5h0M553.2 34.3h0M553.6 34.2h0M554.0 34.1h0M554.4 33.9h0M554.8 33.8h0M555.1 33.7h0M555.5 33.5h0M555.9 33.4h0M556.3 33.3h0M556.7 33.2h0M557.1 33.1h0M557.4 33.0h0M557.8 32.8h0M558.2 32.7h0M558.6 32.6h0M559.0 32.5h0M559.4 32.4h0M559.7 32.3h0M560.1 32.2h0M560.5 32.1h0M560.9 32.1h0M561.3 32.0h0M561.6 31.9h0M562.0 31.8h0M562.4 31.7h0M562.8 31.6h0M563.2 31.5h0M563.6 31.5h0M563.9 31.4h0M564.3 31.3h0M564.7 31.2h0M565.1 31.2h0M565.5 31.1h0M565.8 31.0h0M566.2 30.9h0M566.6 30.9h0M567.0 30.8h0M567.4 30.7h0M567.8 30.7h0M568.1 30.6h0M568.5 30.5h0M568.9 30.5h0M569.3 30.4h0M569.7 30.3h0M570.0 30.3h0M570.4 30.2h0M570.8 30.2h0M571.2 30.1h0M571.6 30.0h0M572.0 30.0h0M572.3 29.9h0M572.7 29.9h0M573.1 29.8h0M573.5 29.8h0M573.9 29.7h0M574.2 29.7h0M574.6 29.6h0M575.0 29.6h0M575.4 29.5h0M575.8 29.4h0M576.2 29.4h0M576.5 29.3h0M576.9 29.3h0M577.3 29.2h0M577.7 29.2h0M578.1 29.1h0M578.5 29.1h0M578.8 29.1h0M579.2 29.0h0M579.6 29.0h0M580.0 28.9h0M580.4 28.9h0M580.7 28.8h0M581.1 28.8h0M581.5 28.7h0M581.9 28.7h0M582.3 28.6h0M582.7 28.6h0M583.0 28.5h0M583.4 28.5h0M583.8 28.5h0M584.2 28.4h0M584.6 28.4h0M584.9 28.3h0M585.3 28.3h0M585.7 28.2h0M586.1 28.2h0M586.5 28.2h0M586.9 28.1h0M587.2 28.1h0M587.6 28.0h0M588.0 28.0h0M588.4 27.9h0M588.8 27.9h0M589.1 27.9h0M589.5 27.8h0M589.9 27.8h0M590.3 27.7h0M590.7 27.7h0M591.1 27.7h0M591.4 27.6h0M591.8 27.6h0M592.2 27.5h0M592.6 27.5h0M593.0 27.5h0M593.4 27.4h0M593.7 27.4h0M594.1 27.3h0M594.5 27.3h0M594.9 27.3h0M595.3 27.2h0M595.6 27.2h0M596.0 27.1h0M596.4 27.1h0M596.8 27.1h0M597.2 27.0h0M597.6 27.0h0M597.9 26.9h0M598.3 26.9h0M598.7 26.9h0M599.1 26.8h0M599.5 66.4h0M599.8 92.4h0M600.2 109.5h0M600.6 121.0h0M601.0 128.7h0M601.4 134.1h0M601.8 137.9h0M602.1 140.7h0M602.5 142.8h0M602.9 144.3h0M603.3 145.6h0M603.7 146.6h0M604.0 147.4h0M604.4 148.1h0M604.8 148.6h0M605.2 149.1h0M605.6 149.6h0M606.0 149.9h0M606.3 150.3h0M606.7 150.5h0M607.1 150.8h0M607.5 151.0h0M607.9 151.2h0M608.2 151.4h0M608.6 151.5h0M609.0 151.6h0M609.4 151.8h0M609.8 151.9h0M610.2 151.9h0M610.5 152.0h0M610.9 152.1h0M611.3 152.2h0M611.7 152.2h0M612.1 152.3h0M612.4 152.3h0M612.8 152.3h0M613.2 152.4h0M613.6 152.4h0M614.0 152.4h0M614.4 152.4h0M614.7 152.5h0M615.1 152.5h0M615.5 152.5h0M615.9 152.5h0M616.3 152.5h0M616.7 152.5h0M617.0 152.5h0M617.4 152.6h0M617.8 152.6h0M618.2 152.6h0M618.6 152.6h0M618.9 152.6h0M619.3 152.6h0M619.7 152.6h0M620.1 152.6h0M620.5 152.6h0M620.9 152.6h0M621.2 152.6h0M621.6 152.6h0M622.0 152.6h0M622.4 152.6h0M622.8 152.6h0M623.1 152.6h0M623.5 152.6h0M623.9 152.6h0M624.3 152.6h0M624.7 152.6h0M625.1 152.6h0M625.4 152.6h0M625.8 152.6h0M626.2 152.6h0M626.6 152.6h0M627.0 152.6h0M627.3 152.6h0M627.7 152.6h0M628.1 152.6h0M628.5 152.6h0M628.9 152.6h0M629.3 152.6h0M629.6 152.6h0M630.0 152.6h0M630.4 152.6h0M630.8 152.6h0M631.2 152.6h0M631.5 152.6h0M631.9 152.6h0M632.3 152.6h0M632.7 152.6h0M633.1 152.6h0M633.5 152.6h0M633.8 152.6h0M634.2 152.6h0M634.6 152.6h0M635.0 152.6h0M635.4 152.6h0M635.8 152.6h0M636.1 152.6h0M636.5 152.6h0M636.9 152.6h0M637.3 152.6h0M637.7 152.6h0M638.0 152.6h0M638.4 152.6h0M638.8 152.6h0M639.2 152.6h0M639.6 152.6h0M640.0 152.6h0M640.3 152.6h0M640.7 152.6h0M641.1 152.6h0M641.5 152.6h0M641.9 152.6h0M642.2 152.6h0M642.6 152.6h0M643.0 152.6h0M643.4 152.6h0M643.8 152.6h0M644.2 152.6h0M644.5 152.6h0M644.9 152.6h0M645.3 152.6h0M645.7 152.6h0M646.1 152.6h0M646.4 152.6h0M646.8 152.6h0M647.2 152.6h0M647.6 152.6h0M648.0 152.6h0M648.4 152.6h0M648.7 152.6h0M649.1 152.6h0M649.5 152.6h0M649.9 152.6h0M650.3 152.6h0M650.6 152.6h0M651.0 152.6h0M651.4 152.6h0M651.8 152.6h0M652.2 152.6h0M652.6 152.6h0M652.9 152.6h0M653.3 152.6h0M653.7 152.6h0M654.1 152.6h0M654.5 152.6h0M654.9 152.6h0M655.2 152.6h0M655.6 152.6h0M656.0 152.6h0M656.4 152.6h0M656.8 152.6h0M657.1 152.6h0M657.5 152.6h0M657.9 152.6h0M658.3 152.6h0M658.7 152.6h0M659.1 152.6h0M659.4 152.6h0M659.8 152.6h0M660.2 152.6h0M660.6 152.6h0M661.0 152.6h0M661.3 152.6h0M661.7 152.6h0M662.1 152.6h0M662.5 152.6h0M662.9 152.6h0M663.3 152.6h0M663.6 152.6h0M664.0 152.6h0M664.4 152.6h0M664.8 152.6h0M665.2 152.6h0M665.5 152.6h0M665.9 152.6h0M666.3 152.6h0M666.7 152.6h0M667.1 152.6h0M667.5 152.6h0M667.8 152.6h0" stroke="#2fa35e" stroke-width="4.20" stroke-linecap="round" fill="none" />
<path d="M528.8 139.7h0M529.2 128.2h0M529.6 118.1h0M529.9 109.3h0M530.3 101.6h0M530.7 94.8h0M531.1 88.8h0M531.5 83.6h0M531.8 79.0h0M532.2 74.9h0M532.6 71.3h0M533.0 68.1h0M533.4 65.2h0M599.5 66.4h0M599.8 92.4h0M600.2 109.5h0M600.6 121.0h0M601.0 128.7h0M601.4 134.1h0M601.8 137.9h0M602.1 140.7h0" stroke="#e4e8e4" stroke-width="1.60" stroke-linecap="round" fill="none" />
<polyline points="507.4,152.6 507.8,152.6 508.2,152.6 508.5,152.6 508.9,152.6 509.3,152.6 509.7,152.6 510.1,152.6 510.5,152.6 510.8,152.6 511.2,152.6 511.6,152.6 512.0,152.6 512.4,152.6 512.7,152.6 513.1,152.6 513.5,152.6 513.9,152.6 514.3,152.6 514.7,152.6 515.0,152.6 515.4,152.6 515.8,152.6 516.2,152.6 516.6,152.6 516.9,152.6 517.3,152.6 517.7,152.6 518.1,152.6 518.5,152.6 518.9,152.6 519.2,152.6 519.6,152.6 520.0,152.6 520.4,152.6 520.8,152.6 521.2,152.6 521.5,152.6 521.9,152.6 522.3,152.6 522.7,152.6 523.1,152.6 523.4,152.6 523.8,152.6 524.2,152.6 524.6,152.6 525.0,152.6 525.4,152.6 525.7,152.6 526.1,152.6 526.5,152.6 526.9,152.6 527.3,152.6 527.6,152.6 528.0,152.6 528.4,152.6 528.8,148.4 529.2,145.2 529.6,142.8 529.9,141.2 530.3,139.9 530.7,139.0 531.1,138.4 531.5,137.9 531.8,137.5 532.2,137.2 532.6,136.9 533.0,136.8 533.4,136.6 533.8,136.5 534.1,136.4 534.5,136.3 534.9,136.2 535.3,136.1 535.7,136.0 536.0,135.9 536.4,135.9 536.8,135.8 537.2,135.7 537.6,135.7 538.0,135.6 538.3,135.6 538.7,135.5 539.1,135.5 539.5,135.4 539.9,135.4 540.3,135.3 540.6,135.3 541.0,135.2 541.4,135.2 541.8,135.1 542.2,135.1 542.5,135.0 542.9,135.0 543.3,134.9 543.7,134.9 544.1,134.9 544.5,134.8 544.8,134.8 545.2,134.7 545.6,134.7 546.0,134.7 546.4,134.6 546.7,134.6 547.1,134.6 547.5,134.5 547.9,134.5 548.3,134.5 548.7,134.4 549.0,134.4 549.4,134.4 549.8,134.3 550.2,134.3 550.6,134.3 550.9,134.2 551.3,134.2 551.7,134.2 552.1,134.2 552.5,134.1 552.9,134.1 553.2,134.1 553.6,134.1 554.0,134.0 554.4,134.0 554.8,134.0 555.1,134.0 555.5,133.9 555.9,133.9 556.3,133.9 556.7,133.9 557.1,133.9 557.4,133.8 557.8,133.8 558.2,133.8 558.6,133.8 559.0,133.8 559.4,133.7 559.7,133.7 560.1,133.7 560.5,133.7 560.9,133.7 561.3,133.6 561.6,133.6 562.0,133.6 562.4,133.6 562.8,133.6 563.2,133.6 563.6,133.5 563.9,133.5 564.3,133.5 564.7,133.5 565.1,133.5 565.5,133.5 565.8,133.4 566.2,133.4 566.6,133.4 567.0,133.4 567.4,133.4 567.8,133.4 568.1,133.4 568.5,133.3 568.9,133.3 569.3,133.3 569.7,133.3 570.0,133.3 570.4,133.3 570.8,133.3 571.2,133.2 571.6,133.2 572.0,133.2 572.3,133.2 572.7,133.2 573.1,133.2 573.5,133.2 573.9,133.2 574.2,133.1 574.6,133.1 575.0,133.1 575.4,133.1 575.8,133.1 576.2,133.1 576.5,133.1 576.9,133.1 577.3,133.1 577.7,133.0 578.1,133.0 578.5,133.0 578.8,133.0 579.2,133.0 579.6,133.0 580.0,133.0 580.4,133.0 580.7,133.0 581.1,132.9 581.5,132.9 581.9,132.9 582.3,132.9 582.7,132.9 583.0,132.9 583.4,132.9 583.8,132.9 584.2,132.9 584.6,132.9 584.9,132.8 585.3,132.8 585.7,132.8 586.1,132.8 586.5,132.8 586.9,132.8 587.2,132.8 587.6,132.8 588.0,132.8 588.4,132.8 588.8,132.8 589.1,132.7 589.5,132.7 589.9,132.7 590.3,132.7 590.7,132.7 591.1,132.7 591.4,132.7 591.8,132.7 592.2,132.7 592.6,132.7 593.0,132.7 593.4,132.6 593.7,132.6 594.1,132.6 594.5,132.6 594.9,132.6 595.3,132.6 595.6,132.6 596.0,132.6 596.4,132.6 596.8,132.6 597.2,132.6 597.6,132.6 597.9,132.5 598.3,132.5 598.7,132.5 599.1,132.5 599.5,138.7 599.8,142.9 600.2,145.7 600.6,147.5 601.0,148.8 601.4,149.6 601.8,150.3 602.1,150.7 602.5,151.0 602.9,151.3 603.3,151.5 603.7,151.6 604.0,151.8 604.4,151.9 604.8,152.0 605.2,152.1 605.6,152.1 606.0,152.2 606.3,152.2 606.7,152.3 607.1,152.3 607.5,152.4 607.9,152.4 608.2,152.4 608.6,152.4 609.0,152.5 609.4,152.5 609.8,152.5 610.2,152.5 610.5,152.5 610.9,152.5 611.3,152.5 611.7,152.6 612.1,152.6 612.4,152.6 612.8,152.6 613.2,152.6 613.6,152.6 614.0,152.6 614.4,152.6 614.7,152.6 615.1,152.6 615.5,152.6 615.9,152.6 616.3,152.6 616.7,152.6 617.0,152.6 617.4,152.6 617.8,152.6 618.2,152.6 618.6,152.6 618.9,152.6 619.3,152.6 619.7,152.6 620.1,152.6 620.5,152.6 620.9,152.6 621.2,152.6 621.6,152.6 622.0,152.6 622.4,152.6 622.8,152.6 623.1,152.6 623.5,152.6 623.9,152.6 624.3,152.6 624.7,152.6 625.1,152.6 625.4,152.6 625.8,152.6 626.2,152.6 626.6,152.6 627.0,152.6 627.3,152.6 627.7,152.6 628.1,152.6 628.5,152.6 628.9,152.6 629.3,152.6 629.6,152.6 630.0,152.6 630.4,152.6 630.8,152.6 631.2,152.6 631.5,152.6 631.9,152.6 632.3,152.6 632.7,152.6 633.1,152.6 633.5,152.6 633.8,152.6 634.2,152.6 634.6,152.6 635.0,152.6 635.4,152.6 635.8,152.6 636.1,152.6 636.5,152.6 636.9,152.6 637.3,152.6 637.7,152.6 638.0,152.6 638.4,152.6 638.8,152.6 639.2,152.6 639.6,152.6 640.0,152.6 640.3,152.6 640.7,152.6 641.1,152.6 641.5,152.6 641.9,152.6 642.2,152.6 642.6,152.6 643.0,152.6 643.4,152.6 643.8,152.6 644.2,152.6 644.5,152.6 644.9,152.6 645.3,152.6 645.7,152.6 646.1,152.6 646.4,152.6 646.8,152.6 647.2,152.6 647.6,152.6 648.0,152.6 648.4,152.6 648.7,152.6 649.1,152.6 649.5,152.6 649.9,152.6 650.3,152.6 650.6,152.6 651.0,152.6 651.4,152.6 651.8,152.6 652.2,152.6 652.6,152.6 652.9,152.6 653.3,152.6 653.7,152.6 654.1,152.6 654.5,152.6 654.9,152.6 655.2,152.6 655.6,152.6 656.0,152.6 656.4,152.6 656.8,152.6 657.1,152.6 657.5,152.6 657.9,152.6 658.3,152.6 658.7,152.6 659.1,152.6 659.4,152.6 659.8,152.6 660.2,152.6 660.6,152.6 661.0,152.6 661.3,152.6 661.7,152.6 662.1,152.6 662.5,152.6 662.9,152.6 663.3,152.6 663.6,152.6 664.0,152.6 664.4,152.6 664.8,152.6 665.2,152.6 665.5,152.6 665.9,152.6 666.3,152.6 666.7,152.6 667.1,152.6 667.5,152.6 667.8,152.6" fill="none" stroke="#9b6dc4" stroke-width="1.2" stroke-linejoin="round" />
<path d="M507.4 152.6h0M507.8 152.6h0M508.2 152.6h0M508.5 152.6h0M508.9 152.6h0M509.3 152.6h0M509.7 152.6h0M510.1 152.6h0M510.5 152.6h0M510.8 152.6h0M511.2 152.6h0M511.6 152.6h0M512.0 152.6h0M512.4 152.6h0M512.7 152.6h0M513.1 152.6h0M513.5 152.6h0M513.9 152.6h0M514.3 152.6h0M514.7 152.6h0M515.0 152.6h0M515.4 152.6h0M515.8 152.6h0M516.2 152.6h0M516.6 152.6h0M516.9 152.6h0M517.3 152.6h0M517.7 152.6h0M518.1 152.6h0M518.5 152.6h0M518.9 152.6h0M519.2 152.6h0M519.6 152.6h0M520.0 152.6h0M520.4 152.6h0M520.8 152.6h0M521.2 152.6h0M521.5 152.6h0M521.9 152.6h0M522.3 152.6h0M522.7 152.6h0M523.1 152.6h0M523.4 152.6h0M523.8 152.6h0M524.2 152.6h0M524.6 152.6h0M525.0 152.6h0M525.4 152.6h0M525.7 152.6h0M526.1 152.6h0M526.5 152.6h0M526.9 152.6h0M527.3 152.6h0M527.6 152.6h0M528.0 152.6h0M528.4 152.6h0M528.8 148.4h0M529.2 145.2h0M529.6 142.8h0M529.9 141.2h0M530.3 139.9h0M530.7 139.0h0M531.1 138.4h0M531.5 137.9h0M531.8 137.5h0M532.2 137.2h0M532.6 136.9h0M533.0 136.8h0M533.4 136.6h0M533.8 136.5h0M534.1 136.4h0M534.5 136.3h0M534.9 136.2h0M535.3 136.1h0M535.7 136.0h0M536.0 135.9h0M536.4 135.9h0M536.8 135.8h0M537.2 135.7h0M537.6 135.7h0M538.0 135.6h0M538.3 135.6h0M538.7 135.5h0M539.1 135.5h0M539.5 135.4h0M539.9 135.4h0M540.3 135.3h0M540.6 135.3h0M541.0 135.2h0M541.4 135.2h0M541.8 135.1h0M542.2 135.1h0M542.5 135.0h0M542.9 135.0h0M543.3 134.9h0M543.7 134.9h0M544.1 134.9h0M544.5 134.8h0M544.8 134.8h0M545.2 134.7h0M545.6 134.7h0M546.0 134.7h0M546.4 134.6h0M546.7 134.6h0M547.1 134.6h0M547.5 134.5h0M547.9 134.5h0M548.3 134.5h0M548.7 134.4h0M549.0 134.4h0M549.4 134.4h0M549.8 134.3h0M550.2 134.3h0M550.6 134.3h0M550.9 134.2h0M551.3 134.2h0M551.7 134.2h0M552.1 134.2h0M552.5 134.1h0M552.9 134.1h0M553.2 134.1h0M553.6 134.1h0M554.0 134.0h0M554.4 134.0h0M554.8 134.0h0M555.1 134.0h0M555.5 133.9h0M555.9 133.9h0M556.3 133.9h0M556.7 133.9h0M557.1 133.9h0M557.4 133.8h0M557.8 133.8h0M558.2 133.8h0M558.6 133.8h0M559.0 133.8h0M559.4 133.7h0M559.7 133.7h0M560.1 133.7h0M560.5 133.7h0M560.9 133.7h0M561.3 133.6h0M561.6 133.6h0M562.0 133.6h0M562.4 133.6h0M562.8 133.6h0M563.2 133.6h0M563.6 133.5h0M563.9 133.5h0M564.3 133.5h0M564.7 133.5h0M565.1 133.5h0M565.5 133.5h0M565.8 133.4h0M566.2 133.4h0M566.6 133.4h0M567.0 133.4h0M567.4 133.4h0M567.8 133.4h0M568.1 133.4h0M568.5 133.3h0M568.9 133.3h0M569.3 133.3h0M569.7 133.3h0M570.0 133.3h0M570.4 133.3h0M570.8 133.3h0M571.2 133.2h0M571.6 133.2h0M572.0 133.2h0M572.3 133.2h0M572.7 133.2h0M573.1 133.2h0M573.5 133.2h0M573.9 133.2h0M574.2 133.1h0M574.6 133.1h0M575.0 133.1h0M575.4 133.1h0M575.8 133.1h0M576.2 133.1h0M576.5 133.1h0M576.9 133.1h0M577.3 133.1h0M577.7 133.0h0M578.1 133.0h0M578.5 133.0h0M578.8 133.0h0M579.2 133.0h0M579.6 133.0h0M580.0 133.0h0M580.4 133.0h0M580.7 133.0h0M581.1 132.9h0M581.5 132.9h0M581.9 132.9h0M582.3 132.9h0M582.7 132.9h0M583.0 132.9h0M583.4 132.9h0M583.8 132.9h0M584.2 132.9h0M584.6 132.9h0M584.9 132.8h0M585.3 132.8h0M585.7 132.8h0M586.1 132.8h0M586.5 132.8h0M586.9 132.8h0M587.2 132.8h0M587.6 132.8h0M588.0 132.8h0M588.4 132.8h0M588.8 132.8h0M589.1 132.7h0M589.5 132.7h0M589.9 132.7h0M590.3 132.7h0M590.7 132.7h0M591.1 132.7h0M591.4 132.7h0M591.8 132.7h0M592.2 132.7h0M592.6 132.7h0M593.0 132.7h0M593.4 132.6h0M593.7 132.6h0M594.1 132.6h0M594.5 132.6h0M594.9 132.6h0M595.3 132.6h0M595.6 132.6h0M596.0 132.6h0M596.4 132.6h0M596.8 132.6h0M597.2 132.6h0M597.6 132.6h0M597.9 132.5h0M598.3 132.5h0M598.7 132.5h0M599.1 132.5h0M599.5 138.7h0M599.8 142.9h0M600.2 145.7h0M600.6 147.5h0M601.0 148.8h0M601.4 149.6h0M601.8 150.3h0M602.1 150.7h0M602.5 151.0h0M602.9 151.3h0M603.3 151.5h0M603.7 151.6h0M604.0 151.8h0M604.4 151.9h0M604.8 152.0h0M605.2 152.1h0M605.6 152.1h0M606.0 152.2h0M606.3 152.2h0M606.7 152.3h0M607.1 152.3h0M607.5 152.4h0M607.9 152.4h0M608.2 152.4h0M608.6 152.4h0M609.0 152.5h0M609.4 152.5h0M609.8 152.5h0M610.2 152.5h0M610.5 152.5h0M610.9 152.5h0M611.3 152.5h0M611.7 152.6h0M612.1 152.6h0M612.4 152.6h0M612.8 152.6h0M613.2 152.6h0M613.6 152.6h0M614.0 152.6h0M614.4 152.6h0M614.7 152.6h0M615.1 152.6h0M615.5 152.6h0M615.9 152.6h0M616.3 152.6h0M616.7 152.6h0M617.0 152.6h0M617.4 152.6h0M617.8 152.6h0M618.2 152.6h0M618.6 152.6h0M618.9 152.6h0M619.3 152.6h0M619.7 152.6h0M620.1 152.6h0M620.5 152.6h0M620.9 152.6h0M621.2 152.6h0M621.6 152.6h0M622.0 152.6h0M622.4 152.6h0M622.8 152.6h0M623.1 152.6h0M623.5 152.6h0M623.9 152.6h0M624.3 152.6h0M624.7 152.6h0M625.1 152.6h0M625.4 152.6h0M625.8 152.6h0M626.2 152.6h0M626.6 152.6h0M627.0 152.6h0M627.3 152.6h0M627.7 152.6h0M628.1 152.6h0M628.5 152.6h0M628.9 152.6h0M629.3 152.6h0M629.6 152.6h0M630.0 152.6h0M630.4 152.6h0M630.8 152.6h0M631.2 152.6h0M631.5 152.6h0M631.9 152.6h0M632.3 152.6h0M632.7 152.6h0M633.1 152.6h0M633.5 152.6h0M633.8 152.6h0M634.2 152.6h0M634.6 152.6h0M635.0 152.6h0M635.4 152.6h0M635.8 152.6h0M636.1 152.6h0M636.5 152.6h0M636.9 152.6h0M637.3 152.6h0M637.7 152.6h0M638.0 152.6h0M638.4 152.6h0M638.8 152.6h0M639.2 152.6h0M639.6 152.6h0M640.0 152.6h0M640.3 152.6h0M640.7 152.6h0M641.1 152.6h0M641.5 152.6h0M641.9 152.6h0M642.2 152.6h0M642.6 152.6h0M643.0 152.6h0M643.4 152.6h0M643.8 152.6h0M644.2 152.6h0M644.5 152.6h0M644.9 152.6h0M645.3 152.6h0M645.7 152.6h0M646.1 152.6h0M646.4 152.6h0M646.8 152.6h0M647.2 152.6h0M647.6 152.6h0M648.0 152.6h0M648.4 152.6h0M648.7 152.6h0M649.1 152.6h0M649.5 152.6h0M649.9 152.6h0M650.3 152.6h0M650.6 152.6h0M651.0 152.6h0M651.4 152.6h0M651.8 152.6h0M652.2 152.6h0M652.6 152.6h0M652.9 152.6h0M653.3 152.6h0M653.7 152.6h0M654.1 152.6h0M654.5 152.6h0M654.9 152.6h0M655.2 152.6h0M655.6 152.6h0M656.0 152.6h0M656.4 152.6h0M656.8 152.6h0M657.1 152.6h0M657.5 152.6h0M657.9 152.6h0M658.3 152.6h0M658.7 152.6h0M659.1 152.6h0M659.4 152.6h0M659.8 152.6h0M660.2 152.6h0M660.6 152.6h0M661.0 152.6h0M661.3 152.6h0M661.7 152.6h0M662.1 152.6h0M662.5 152.6h0M662.9 152.6h0M663.3 152.6h0M663.6 152.6h0M664.0 152.6h0M664.4 152.6h0M664.8 152.6h0M665.2 152.6h0M665.5 152.6h0M665.9 152.6h0M666.3 152.6h0M666.7 152.6h0M667.1 152.6h0M667.5 152.6h0M667.8 152.6h0" stroke="#9b6dc4" stroke-width="4.20" stroke-linecap="round" fill="none" />
<path d="M528.8 148.4h0M529.2 145.2h0M599.5 138.7h0M599.8 142.9h0M600.2 145.7h0" stroke="#e4e8e4" stroke-width="1.60" stroke-linecap="round" fill="none" />
<rect x="521.30" y="145.00" width="98.20" height="11.40" fill="none" stroke="#f0a050" stroke-width="0.9" stroke-dasharray="2.6 1.8"/>
<line x1="521.30" y1="145.00" x2="606.80" y2="136.80" stroke="#f0a050" stroke-width="0.9" stroke-dasharray="2.6 1.8"/>
<line x1="619.50" y1="145.00" x2="676.40" y2="136.80" stroke="#f0a050" stroke-width="0.9" stroke-dasharray="2.6 1.8"/>
<rect x="606.80" y="76.50" width="69.60" height="60.30" fill="#fff" stroke="#f0a050" stroke-width="0.9" stroke-dasharray="2.6 1.8"/>
<rect x="615.70" y="83.40" width="58.20" height="47.20" fill="#fff" stroke="#444" stroke-width="0.9" />
<text x="614.2" y="132.0" font-size="6" font-weight="bold" fill="#111" text-anchor="end" >0</text>
<line x1="615.70" y1="129.80" x2="617.00" y2="129.80" stroke="#444" stroke-width="0.7" />
<text x="614.2" y="120.6" font-size="6" font-weight="bold" fill="#111" text-anchor="end" >2</text>
<line x1="615.70" y1="118.40" x2="617.00" y2="118.40" stroke="#444" stroke-width="0.7" />
<text x="614.2" y="109.2" font-size="6" font-weight="bold" fill="#111" text-anchor="end" >4</text>
<line x1="615.70" y1="107.00" x2="617.00" y2="107.00" stroke="#444" stroke-width="0.7" />
<text x="614.2" y="97.8" font-size="6" font-weight="bold" fill="#111" text-anchor="end" >6</text>
<line x1="615.70" y1="95.60" x2="617.00" y2="95.60" stroke="#444" stroke-width="0.7" />
<text x="614.2" y="86.4" font-size="6" font-weight="bold" fill="#111" text-anchor="end" >8</text>
<line x1="615.70" y1="84.20" x2="617.00" y2="84.20" stroke="#444" stroke-width="0.7" />
<line x1="629.50" y1="130.60" x2="629.50" y2="129.30" stroke="#444" stroke-width="0.7" />
<line x1="643.50" y1="130.60" x2="643.50" y2="129.30" stroke="#444" stroke-width="0.7" />
<line x1="658.00" y1="130.60" x2="658.00" y2="129.30" stroke="#444" stroke-width="0.7" />
<polyline points="623.4,123.6 624.2,116.0 625.5,108.0 627.5,101.0 629.5,97.5 633.0,95.3 640.0,91.5 646.0,88.5 650.6,86.3 651.0,95.0 652.0,105.0 653.5,112.0 656.0,116.0 660.0,118.5 666.0,120.5 673.5,121.8" fill="none" stroke="#ee2a2a" stroke-width="1.3" stroke-linejoin="round" />
<line x1="615.70" y1="123.80" x2="673.90" y2="125.00" stroke="#111" stroke-width="1.3" />
<line x1="615.00" y1="22.20" x2="634.10" y2="22.20" stroke="#555555" stroke-width="1.6" />
<circle cx="624.70" cy="22.20" r="1.90" fill="#555555" stroke="none" stroke-width="1" />
<circle cx="624.70" cy="22.20" r="0.80" fill="#eee" stroke="none" stroke-width="1" />
<text x="637.9" y="24.8" font-size="7" font-weight="bold" fill="#111" text-anchor="start" >W/O Pd</text>
<line x1="615.00" y1="32.90" x2="634.10" y2="32.90" stroke="#e83a3e" stroke-width="1.6" />
<circle cx="624.70" cy="32.90" r="1.90" fill="#e83a3e" stroke="none" stroke-width="1" />
<circle cx="624.70" cy="32.90" r="0.80" fill="#eee" stroke="none" stroke-width="1" />
<text x="637.9" y="35.5" font-size="7" font-weight="bold" fill="#111" text-anchor="start" >0.5 nm Pd</text>
<line x1="615.00" y1="43.10" x2="634.10" y2="43.10" stroke="#3a6cc6" stroke-width="1.6" />
<circle cx="624.70" cy="43.10" r="1.90" fill="#3a6cc6" stroke="none" stroke-width="1" />
<circle cx="624.70" cy="43.10" r="0.80" fill="#eee" stroke="none" stroke-width="1" />
<text x="637.9" y="45.7" font-size="7" font-weight="bold" fill="#111" text-anchor="start" >1 nm Pd</text>
<line x1="615.00" y1="53.10" x2="634.10" y2="53.10" stroke="#2fa35e" stroke-width="1.6" />
<circle cx="624.70" cy="53.10" r="1.90" fill="#2fa35e" stroke="none" stroke-width="1" />
<circle cx="624.70" cy="53.10" r="0.80" fill="#eee" stroke="none" stroke-width="1" />
<text x="637.9" y="55.7" font-size="7" font-weight="bold" fill="#111" text-anchor="start" >2 nm Pd</text>
<line x1="615.00" y1="63.20" x2="634.10" y2="63.20" stroke="#9b6dc4" stroke-width="1.6" />
<circle cx="624.70" cy="63.20" r="1.90" fill="#9b6dc4" stroke="none" stroke-width="1" />
<circle cx="624.70" cy="63.20" r="0.80" fill="#eee" stroke="none" stroke-width="1" />
<text x="637.9" y="65.8" font-size="7" font-weight="bold" fill="#111" text-anchor="start" >3 nm Pd</text>
<rect x="488.10" y="14.80" width="191.80" height="154.40" fill="none" stroke="#000" stroke-width="1.7" />
<text x="207.0" y="219.4" font-size="14" font-weight="bold" fill="#000" text-anchor="start" >g</text>
<rect x="251.40" y="253.50" width="12.50" height="124.20" fill="#e8e6f6" stroke="none" stroke-width="1" />
<rect x="275.09" y="253.50" width="15.13" height="124.20" fill="#dcdaf3" stroke="none" stroke-width="1" />
<rect x="301.74" y="253.50" width="12.17" height="124.20" fill="#d0cdf1" stroke="none" stroke-width="1" />
<rect x="324.44" y="253.50" width="12.83" height="124.20" fill="#c6c3ef" stroke="none" stroke-width="1" />
<rect x="347.47" y="253.50" width="12.83" height="124.20" fill="#b1adec" stroke="none" stroke-width="1" />
<rect x="370.17" y="253.50" width="13.16" height="124.20" fill="#a5a1ea" stroke="none" stroke-width="1" />
<rect x="392.87" y="253.50" width="13.49" height="124.20" fill="#9995e9" stroke="none" stroke-width="1" />
<rect x="415.90" y="253.50" width="13.82" height="124.20" fill="#8a86e6" stroke="none" stroke-width="1" />
<polyline points="241.2,258.1 241.6,258.0 242.0,258.1 242.4,257.9 242.8,257.9 243.2,258.2 243.6,258.3 244.0,257.8 244.4,258.1 244.8,258.1 245.1,257.7 245.5,258.0 245.9,257.8 246.3,258.0 246.7,257.9 247.1,258.2 247.5,257.9 247.9,257.8 248.3,258.0 248.7,257.9 249.1,257.9 249.5,258.2 249.9,257.9 250.3,257.9 250.7,258.1 251.1,258.2 251.5,258.1 251.9,259.0 252.3,259.0 252.6,258.9 253.0,259.0 253.4,258.8 253.8,259.1 254.2,258.9 254.6,259.0 255.0,258.8 255.4,258.8 255.8,259.2 256.2,259.2 256.6,259.1 257.0,258.7 257.4,259.0 257.8,258.9 258.2,259.1 258.6,259.0 259.0,259.0 259.4,259.0 259.8,258.9 260.2,258.9 260.5,258.7 260.9,258.9 261.3,258.7 261.7,258.8 262.1,258.7 262.5,258.9 262.9,259.1 263.3,258.8 263.7,258.7 264.1,258.4 264.5,258.4 264.9,258.2 265.3,258.4 265.7,258.0 266.1,258.1 266.5,258.3 266.9,258.4 267.3,257.9 267.7,257.8 268.0,258.3 268.4,257.9 268.8,258.1 269.2,258.2 269.6,258.1 270.0,257.9 270.4,257.8 270.8,258.3 271.2,258.0 271.6,258.3 272.0,257.9 272.4,258.1 272.8,257.8 273.2,257.7 273.6,258.0 274.0,257.7 274.4,258.1 274.8,258.2 275.2,258.3 275.5,259.5 275.9,259.5 276.3,259.4 276.7,259.3 277.1,259.5 277.5,259.5 277.9,259.0 278.3,259.3 278.7,259.0 279.1,259.0 279.5,259.3 279.9,259.2 280.3,259.2 280.7,259.1 281.1,259.1 281.5,259.1 281.9,259.1 282.3,258.9 282.7,259.2 283.0,259.2 283.4,259.0 283.8,259.3 284.2,259.3 284.6,258.9 285.0,259.1 285.4,259.1 285.8,259.4 286.2,259.2 286.6,259.1 287.0,259.4 287.4,259.1 287.8,259.1 288.2,259.4 288.6,259.1 289.0,259.2 289.4,259.1 289.8,259.2 290.2,259.0 290.5,258.5 290.9,258.7 291.3,258.6 291.7,258.2 292.1,258.0 292.5,258.3 292.9,258.2 293.3,258.1 293.7,258.2 294.1,258.2 294.5,258.2 294.9,258.1 295.3,258.0 295.7,258.2 296.1,258.1 296.5,257.9 296.9,258.3 297.3,258.0 297.7,257.9 298.1,258.1 298.4,258.2 298.8,257.8 299.2,258.1 299.6,258.2 300.0,258.0 300.4,257.9 300.8,258.2 301.2,258.1 301.6,258.1 302.0,259.3 302.4,260.0 302.8,259.9 303.2,260.2 303.6,260.0 304.0,259.8 304.4,259.7 304.8,259.9 305.2,260.0 305.6,260.0 305.9,259.8 306.3,259.9 306.7,259.6 307.1,259.6 307.5,259.9 307.9,259.9 308.3,259.6 308.7,259.7 309.1,259.6 309.5,259.8 309.9,259.9 310.3,259.9 310.7,259.6 311.1,259.9 311.5,259.8 311.9,259.8 312.3,259.8 312.7,259.8 313.1,259.5 313.4,259.9 313.8,260.0 314.2,258.8 314.6,258.5 315.0,258.3 315.4,258.5 315.8,258.1 316.2,258.1 316.6,258.4 317.0,258.1 317.4,258.0 317.8,258.1 318.2,258.1 318.6,258.2 319.0,258.2 319.4,258.2 319.8,258.3 320.2,258.0 320.6,258.2 320.9,257.9 321.3,258.3 321.7,257.8 322.1,257.9 322.5,257.8 322.9,257.8 323.3,257.8 323.7,258.0 324.1,258.3 324.5,258.7 324.9,261.1 325.3,261.3 325.7,261.1 326.1,261.1 326.5,261.1 326.9,260.7 327.3,260.8 327.7,260.9 328.1,261.0 328.5,260.6 328.8,260.8 329.2,260.6 329.6,260.8 330.0,260.9 330.4,260.7 330.8,260.6 331.2,260.9 331.6,260.6 332.0,260.5 332.4,260.5 332.8,260.5 333.2,261.0 333.6,260.6 334.0,260.5 334.4,260.9 334.8,260.8 335.2,260.8 335.6,260.7 336.0,260.7 336.3,260.7 336.7,260.6 337.1,261.0 337.5,259.9 337.9,259.4 338.3,259.1 338.7,258.9 339.1,258.3 339.5,258.3 339.9,258.7 340.3,258.4 340.7,258.4 341.1,258.4 341.5,258.3 341.9,258.1 342.3,258.1 342.7,258.2 343.1,258.3 343.5,258.2 343.8,258.3 344.2,258.0 344.6,257.9 345.0,258.1 345.4,258.3 345.8,258.2 346.2,258.1 346.6,258.0 347.0,257.9 347.4,258.1 347.8,265.4 348.2,267.6 348.6,268.1 349.0,268.1 349.4,268.0 349.8,267.8 350.2,267.9 350.6,267.7 351.0,267.8 351.3,267.9 351.7,267.7 352.1,267.6 352.5,268.0 352.9,267.8 353.3,267.7 353.7,267.5 354.1,267.5 354.5,267.8 354.9,267.5 355.3,267.5 355.7,267.8 356.1,267.7 356.5,267.9 356.9,267.5 357.3,267.6 357.7,267.5 358.1,267.5 358.5,267.6 358.9,267.6 359.2,267.6 359.6,267.9 360.0,267.6 360.4,265.6 360.8,263.0 361.2,261.5 361.6,261.1 362.0,260.7 362.4,260.3 362.8,259.6 363.2,259.7 363.6,259.6 364.0,258.9 364.4,259.2 364.8,258.6 365.2,258.6 365.6,258.4 366.0,258.3 366.4,258.4 366.7,258.2 367.1,258.6 367.5,258.1 367.9,258.2 368.3,258.1 368.7,258.4 369.1,258.0 369.5,257.9 369.9,258.3 370.3,263.4 370.7,269.3 371.1,270.3 371.5,270.8 371.9,270.8 372.3,270.6 372.7,270.3 373.1,270.2 373.5,270.3 373.9,270.3 374.2,270.3 374.6,270.3 375.0,270.2 375.4,270.4 375.8,270.1 376.2,269.9 376.6,270.2 377.0,270.0 377.4,270.3 377.8,270.0 378.2,270.0 378.6,270.0 379.0,270.1 379.4,270.1 379.8,270.0 380.2,269.9 380.6,270.3 381.0,270.3 381.4,270.0 381.7,269.9 382.1,270.1 382.5,270.1 382.9,270.0 383.3,270.3 383.7,265.0 384.1,263.1 384.5,261.8 384.9,261.3 385.3,260.9 385.7,260.2 386.1,259.8 386.5,259.8 386.9,259.4 387.3,259.3 387.7,258.9 388.1,258.9 388.5,258.9 388.9,258.8 389.2,258.8 389.6,258.5 390.0,258.5 390.4,258.5 390.8,258.4 391.2,258.3 391.6,258.1 392.0,258.4 392.4,257.9 392.8,258.1 393.2,275.0 393.6,279.9 394.0,280.6 394.4,280.5 394.8,280.5 395.2,280.4 395.6,280.2 396.0,280.0 396.4,280.1 396.8,279.9 397.1,279.7 397.5,279.9 397.9,280.0 398.3,280.0 398.7,279.7 399.1,279.7 399.5,279.6 399.9,279.6 400.3,279.9 400.7,280.0 401.1,279.9 401.5,280.0 401.9,279.7 402.3,279.6 402.7,279.6 403.1,279.9 403.5,279.6 403.9,279.9 404.3,279.8 404.6,279.7 405.0,280.0 405.4,280.0 405.8,279.6 406.2,279.9 406.6,272.2 407.0,267.7 407.4,265.4 407.8,264.4 408.2,263.3 408.6,262.5 409.0,261.8 409.4,261.4 409.8,260.8 410.2,260.2 410.6,260.1 411.0,259.7 411.4,259.7 411.8,259.4 412.1,259.0 412.5,259.1 412.9,258.6 413.3,258.4 413.7,258.8 414.1,258.2 414.5,258.5 414.9,258.2 415.3,258.1 415.7,258.3 416.1,274.9 416.5,286.1 416.9,288.0 417.3,288.5 417.7,288.0 418.1,287.7 418.5,287.7 418.9,287.6 419.3,287.7 419.6,287.4 420.0,287.4 420.4,287.1 420.8,287.1 421.2,287.1 421.6,287.3 422.0,287.0 422.4,287.0 422.8,287.2 423.2,286.9 423.6,287.0 424.0,287.2 424.4,286.8 424.8,287.2 425.2,287.1 425.6,286.9 426.0,287.0 426.4,287.0 426.8,287.0 427.2,287.1 427.5,287.1 427.9,287.2 428.3,287.3 428.7,286.9 429.1,286.9 429.5,287.0 429.9,278.3 430.3,271.8 430.7,268.5 431.1,266.5 431.5,264.9 431.9,264.3 432.3,263.2 432.7,262.6 433.1,261.7 433.5,261.4 433.9,260.9 434.3,260.5 434.7,260.0 435.0,259.6 435.4,259.6 435.8,259.1 436.2,259.3 436.6,259.0 437.0,259.0 437.4,258.8 437.8,258.4 438.2,258.3 438.6,258.5" fill="none" stroke="#8dc74a" stroke-width="1.3" stroke-linejoin="round" />
<polyline points="241.2,264.3 241.6,264.4 242.0,264.2 242.4,264.4 242.8,264.4 243.2,264.2 243.6,264.0 244.0,264.0 244.4,264.0 244.8,264.3 245.1,264.2 245.5,264.3 245.9,264.4 246.3,264.4 246.7,264.3 247.1,264.0 247.5,264.0 247.9,264.0 248.3,264.0 248.7,264.3 249.1,264.3 249.5,264.1 249.9,264.1 250.3,264.0 250.7,264.0 251.1,264.4 251.5,264.8 251.9,266.6 252.3,266.9 252.6,267.1 253.0,266.8 253.4,267.0 253.8,266.5 254.2,266.5 254.6,266.6 255.0,266.7 255.4,266.4 255.8,266.5 256.2,266.3 256.6,266.4 257.0,266.5 257.4,266.6 257.8,266.5 258.2,266.6 258.6,266.7 259.0,266.6 259.4,266.3 259.8,266.8 260.2,266.8 260.5,266.4 260.9,266.6 261.3,266.5 261.7,266.5 262.1,266.6 262.5,266.2 262.9,266.7 263.3,266.6 263.7,266.7 264.1,265.7 264.5,265.4 264.9,265.0 265.3,264.7 265.7,264.8 266.1,264.6 266.5,264.3 266.9,264.7 267.3,264.7 267.7,264.6 268.0,264.2 268.4,264.3 268.8,264.5 269.2,264.4 269.6,264.5 270.0,264.3 270.4,264.5 270.8,264.1 271.2,264.0 271.6,264.0 272.0,264.1 272.4,264.0 272.8,264.5 273.2,264.3 273.6,263.9 274.0,264.0 274.4,264.2 274.8,263.9 275.2,265.0 275.5,267.1 275.9,267.7 276.3,267.8 276.7,267.5 277.1,267.6 277.5,267.4 277.9,267.0 278.3,267.3 278.7,267.5 279.1,267.4 279.5,267.3 279.9,267.0 280.3,267.2 280.7,267.2 281.1,267.3 281.5,266.8 281.9,267.1 282.3,267.3 282.7,267.3 283.0,267.3 283.4,267.3 283.8,267.0 284.2,267.3 284.6,267.3 285.0,267.1 285.4,267.2 285.8,266.8 286.2,267.3 286.6,267.1 287.0,266.9 287.4,267.1 287.8,266.8 288.2,267.1 288.6,267.2 289.0,267.1 289.4,267.3 289.8,267.1 290.2,267.2 290.5,265.7 290.9,265.2 291.3,265.1 291.7,265.2 292.1,264.9 292.5,264.9 292.9,264.8 293.3,264.7 293.7,264.3 294.1,264.7 294.5,264.7 294.9,264.2 295.3,264.3 295.7,264.1 296.1,264.4 296.5,264.1 296.9,264.2 297.3,264.1 297.7,264.1 298.1,264.2 298.4,264.4 298.8,264.4 299.2,264.0 299.6,264.0 300.0,264.0 300.4,264.3 300.8,264.1 301.2,264.0 301.6,264.1 302.0,268.9 302.4,270.9 302.8,271.0 303.2,270.8 303.6,270.8 304.0,270.3 304.4,270.2 304.8,270.6 305.2,270.0 305.6,270.0 305.9,270.1 306.3,270.4 306.7,269.9 307.1,270.3 307.5,269.8 307.9,270.0 308.3,270.3 308.7,270.2 309.1,269.9 309.5,270.0 309.9,269.9 310.3,269.8 310.7,270.2 311.1,270.3 311.5,269.8 311.9,270.3 312.3,269.8 312.7,270.2 313.1,269.8 313.4,269.8 313.8,269.8 314.2,267.5 314.6,266.3 315.0,266.2 315.4,265.6 315.8,265.5 316.2,265.0 316.6,264.9 317.0,265.0 317.4,264.8 317.8,265.0 318.2,264.9 318.6,264.5 319.0,264.5 319.4,264.3 319.8,264.4 320.2,264.6 320.6,264.4 320.9,264.2 321.3,264.3 321.7,264.5 322.1,264.1 322.5,264.1 322.9,264.5 323.3,264.2 323.7,264.3 324.1,264.0 324.5,266.4 324.9,271.6 325.3,272.2 325.7,271.9 326.1,272.1 326.5,271.9 326.9,271.5 327.3,271.2 327.7,271.3 328.1,271.3 328.5,271.0 328.8,271.0 329.2,271.3 329.6,270.9 330.0,271.2 330.4,271.1 330.8,270.8 331.2,271.0 331.6,270.8 332.0,271.2 332.4,270.8 332.8,271.1 333.2,271.2 333.6,271.0 334.0,271.0 334.4,270.9 334.8,270.7 335.2,270.8 335.6,271.2 336.0,271.1 336.3,270.9 336.7,271.0 337.1,270.8 337.5,268.4 337.9,267.3 338.3,266.5 338.7,265.8 339.1,265.8 339.5,265.3 339.9,265.0 340.3,265.0 340.7,264.9 341.1,264.8 341.5,264.9 341.9,264.4 342.3,264.6 342.7,264.3 343.1,264.6 343.5,264.2 343.8,264.2 344.2,264.3 344.6,264.4 345.0,264.5 345.4,264.1 345.8,264.3 346.2,264.2 346.6,264.4 347.0,264.4 347.4,264.4 347.8,275.3 348.2,278.9 348.6,279.1 349.0,279.4 349.4,279.2 349.8,279.2 350.2,278.9 350.6,279.2 351.0,278.9 351.3,278.6 351.7,279.0 352.1,278.7 352.5,278.9 352.9,278.9 353.3,279.0 353.7,279.0 354.1,278.5 354.5,278.5 354.9,278.6 355.3,278.5 355.7,278.5 356.1,278.9 356.5,278.7 356.9,278.7 357.3,278.7 357.7,278.5 358.1,278.6 358.5,278.5 358.9,278.9 359.2,278.6 359.6,278.6 360.0,278.6 360.4,275.2 360.8,271.2 361.2,269.7 361.6,268.3 362.0,267.9 362.4,267.2 362.8,266.6 363.2,266.4 363.6,266.2 364.0,266.0 364.4,265.7 364.8,265.4 365.2,265.0 365.6,264.9 366.0,265.0 366.4,264.9 366.7,264.6 367.1,264.8 367.5,264.6 367.9,264.8 368.3,264.6 368.7,264.4 369.1,264.3 369.5,264.3 369.9,264.4 370.3,272.4 370.7,282.3 371.1,284.4 371.5,284.7 371.9,284.1 372.3,283.9 372.7,283.8 373.1,283.9 373.5,283.9 373.9,284.0 374.2,283.9 374.6,283.8 375.0,283.4 375.4,283.4 375.8,283.5 376.2,283.8 376.6,283.7 377.0,283.7 377.4,283.3 377.8,283.7 378.2,283.4 378.6,283.5 379.0,283.5 379.4,283.3 379.8,283.7 380.2,283.5 380.6,283.7 381.0,283.8 381.4,283.8 381.7,283.6 382.1,283.7 382.5,283.8 382.9,283.3 383.3,283.7 383.7,274.9 384.1,271.9 384.5,270.3 384.9,269.3 385.3,268.3 385.7,267.7 386.1,267.3 386.5,266.9 386.9,266.4 387.3,266.1 387.7,265.9 388.1,265.7 388.5,265.6 388.9,265.1 389.2,265.1 389.6,265.2 390.0,265.0 390.4,264.5 390.8,264.8 391.2,264.6 391.6,264.4 392.0,264.3 392.4,264.5 392.8,264.4 393.2,288.9 393.6,296.1 394.0,296.8 394.4,297.3 394.8,296.5 395.2,296.7 395.6,296.5 396.0,296.0 396.4,295.9 396.8,296.1 397.1,295.9 397.5,295.9 397.9,295.7 398.3,295.9 398.7,295.6 399.1,295.4 399.5,295.6 399.9,295.5 400.3,295.4 400.7,295.7 401.1,295.5 401.5,295.5 401.9,295.6 402.3,295.9 402.7,295.6 403.1,295.4 403.5,295.7 403.9,295.6 404.3,295.4 404.6,295.6 405.0,295.9 405.4,295.6 405.8,295.8 406.2,295.5 406.6,284.5 407.0,278.4 407.4,274.8 407.8,273.0 408.2,271.8 408.6,270.4 409.0,269.5 409.4,268.7 409.8,268.0 410.2,267.6 410.6,267.1 411.0,266.7 411.4,266.3 411.8,265.8 412.1,265.8 412.5,265.7 412.9,265.2 413.3,265.1 413.7,265.0 414.1,264.8 414.5,264.9 414.9,264.8 415.3,264.8 415.7,264.3 416.1,285.3 416.5,299.3 416.9,302.2 417.3,301.9 417.7,301.7 418.1,301.6 418.5,301.7 418.9,301.0 419.3,301.0 419.6,300.8 420.0,301.1 420.4,300.6 420.8,300.9 421.2,300.6 421.6,300.8 422.0,300.6 422.4,300.3 422.8,300.4 423.2,300.3 423.6,300.6 424.0,300.6 424.4,300.4 424.8,300.7 425.2,300.5 425.6,300.2 426.0,300.3 426.4,300.3 426.8,300.6 427.2,300.4 427.5,300.3 427.9,300.4 428.3,300.5 428.7,300.7 429.1,300.7 429.5,300.3 429.9,289.4 430.3,281.4 430.7,277.0 431.1,274.8 431.5,273.0 431.9,271.6 432.3,270.8 432.7,269.7 433.1,269.1 433.5,268.3 433.9,268.0 434.3,267.3 434.7,266.9 435.0,266.2 435.4,266.3 435.8,265.6 436.2,265.7 436.6,265.1 437.0,265.3 437.4,265.2 437.8,265.0 438.2,264.5 438.6,264.5" fill="none" stroke="#dd4fa0" stroke-width="1.3" stroke-linejoin="round" />
<polyline points="241.2,270.3 241.6,270.2 242.0,270.2 242.4,270.1 242.8,270.2 243.2,270.1 243.6,270.6 244.0,270.4 244.4,270.1 244.8,270.3 245.1,270.2 245.5,270.6 245.9,270.4 246.3,270.5 246.7,270.3 247.1,270.3 247.5,270.6 247.9,270.5 248.3,270.5 248.7,270.1 249.1,270.2 249.5,270.6 249.9,270.2 250.3,270.6 250.7,270.3 251.1,270.6 251.5,271.6 251.9,273.5 252.3,274.2 252.6,274.2 253.0,273.6 253.4,273.6 253.8,273.9 254.2,273.4 254.6,273.6 255.0,273.5 255.4,273.7 255.8,273.3 256.2,273.4 256.6,273.3 257.0,273.3 257.4,273.6 257.8,273.6 258.2,273.7 258.6,273.7 259.0,273.7 259.4,273.6 259.8,273.4 260.2,273.7 260.5,273.4 260.9,273.6 261.3,273.6 261.7,273.3 262.1,273.5 262.5,273.6 262.9,273.5 263.3,273.4 263.7,273.7 264.1,272.2 264.5,272.0 264.9,271.3 265.3,271.0 265.7,271.3 266.1,270.8 266.5,271.0 266.9,270.8 267.3,271.0 267.7,270.9 268.0,270.8 268.4,270.4 268.8,270.7 269.2,270.4 269.6,270.3 270.0,270.2 270.4,270.5 270.8,270.5 271.2,270.4 271.6,270.3 272.0,270.6 272.4,270.3 272.8,270.2 273.2,270.2 273.6,270.6 274.0,270.1 274.4,270.6 274.8,270.5 275.2,271.3 275.5,273.7 275.9,274.4 276.3,274.0 276.7,274.1 277.1,274.1 277.5,274.0 277.9,274.1 278.3,274.1 278.7,274.0 279.1,273.7 279.5,273.5 279.9,273.9 280.3,274.0 280.7,273.4 281.1,273.7 281.5,273.7 281.9,273.8 282.3,273.6 282.7,273.5 283.0,273.7 283.4,273.7 283.8,273.9 284.2,273.4 284.6,273.9 285.0,273.7 285.4,273.5 285.8,273.9 286.2,273.5 286.6,273.4 287.0,273.6 287.4,273.5 287.8,273.9 288.2,273.7 288.6,273.8 289.0,273.5 289.4,273.8 289.8,273.7 290.2,273.4 290.5,272.1 290.9,271.5 291.3,271.4 291.7,271.2 292.1,271.0 292.5,271.0 292.9,271.0 293.3,270.9 293.7,270.9 294.1,270.8 294.5,270.4 294.9,270.4 295.3,270.5 295.7,270.5 296.1,270.6 296.5,270.7 296.9,270.6 297.3,270.3 297.7,270.2 298.1,270.5 298.4,270.3 298.8,270.3 299.2,270.3 299.6,270.3 300.0,270.2 300.4,270.5 300.8,270.3 301.2,270.5 301.6,270.4 302.0,275.1 302.4,277.0 302.8,277.4 303.2,276.8 303.6,276.8 304.0,276.7 304.4,276.9 304.8,276.5 305.2,276.6 305.6,276.3 305.9,276.4 306.3,276.1 306.7,276.2 307.1,276.1 307.5,276.3 307.9,276.1 308.3,276.1 308.7,276.0 309.1,276.3 309.5,276.0 309.9,276.0 310.3,276.1 310.7,275.9 311.1,275.9 311.5,276.2 311.9,276.2 312.3,276.4 312.7,276.0 313.1,275.9 313.4,276.2 313.8,276.1 314.2,273.6 314.6,272.6 315.0,272.4 315.4,271.7 315.8,271.6 316.2,271.3 316.6,271.3 317.0,271.1 317.4,270.9 317.8,270.9 318.2,270.7 318.6,271.0 319.0,270.9 319.4,270.7 319.8,270.5 320.2,270.7 320.6,270.4 320.9,270.4 321.3,270.7 321.7,270.5 322.1,270.6 322.5,270.7 322.9,270.6 323.3,270.5 323.7,270.6 324.1,270.6 324.5,272.7 324.9,277.6 325.3,278.5 325.7,278.3 326.1,278.1 326.5,278.0 326.9,277.5 327.3,277.9 327.7,277.6 328.1,277.5 328.5,277.4 328.8,277.5 329.2,277.1 329.6,277.3 330.0,277.5 330.4,277.1 330.8,277.4 331.2,277.2 331.6,277.3 332.0,277.1 332.4,276.9 332.8,277.0 333.2,277.2 333.6,277.0 334.0,277.1 334.4,277.2 334.8,277.3 335.2,277.1 335.6,277.1 336.0,276.9 336.3,276.9 336.7,277.1 337.1,277.2 337.5,274.4 337.9,273.5 338.3,272.8 338.7,272.1 339.1,271.8 339.5,271.8 339.9,271.4 340.3,271.1 340.7,271.2 341.1,271.1 341.5,271.1 341.9,271.0 342.3,270.5 342.7,270.8 343.1,270.4 343.5,270.4 343.8,270.5 344.2,270.7 344.6,270.2 345.0,270.5 345.4,270.5 345.8,270.5 346.2,270.2 346.6,270.4 347.0,270.5 347.4,270.4 347.8,282.8 348.2,286.1 348.6,286.8 349.0,286.9 349.4,286.5 349.8,286.4 350.2,286.7 350.6,286.3 351.0,286.4 351.3,286.0 351.7,286.1 352.1,286.3 352.5,286.3 352.9,286.3 353.3,285.9 353.7,286.2 354.1,286.1 354.5,286.1 354.9,286.0 355.3,286.1 355.7,286.0 356.1,286.3 356.5,286.0 356.9,286.2 357.3,286.1 357.7,286.2 358.1,286.2 358.5,286.1 358.9,286.1 359.2,286.2 359.6,286.0 360.0,286.1 360.4,282.6 360.8,278.4 361.2,276.3 361.6,274.9 362.0,274.1 362.4,273.7 362.8,273.5 363.2,272.7 363.6,272.5 364.0,272.2 364.4,271.8 364.8,271.6 365.2,271.5 365.6,271.1 366.0,271.3 366.4,271.1 366.7,270.8 367.1,271.0 367.5,270.9 367.9,270.5 368.3,270.9 368.7,270.4 369.1,270.5 369.5,270.6 369.9,270.6 370.3,279.3 370.7,289.5 371.1,291.9 371.5,291.9 371.9,291.7 372.3,291.6 372.7,291.6 373.1,291.5 373.5,291.2 373.9,291.0 374.2,291.4 374.6,291.2 375.0,290.9 375.4,290.9 375.8,290.9 376.2,291.2 376.6,290.9 377.0,290.7 377.4,290.7 377.8,290.8 378.2,291.2 378.6,290.8 379.0,291.1 379.4,290.9 379.8,290.7 380.2,290.8 380.6,291.1 381.0,291.0 381.4,290.7 381.7,291.1 382.1,290.9 382.5,291.0 382.9,291.1 383.3,290.9 383.7,282.2 384.1,278.9 384.5,277.0 384.9,276.1 385.3,275.2 385.7,274.3 386.1,273.6 386.5,273.1 386.9,273.1 387.3,272.6 387.7,272.3 388.1,271.9 388.5,271.7 388.9,271.3 389.2,271.4 389.6,271.4 390.0,271.0 390.4,271.1 390.8,270.8 391.2,270.8 391.6,270.5 392.0,270.6 392.4,270.5 392.8,270.7 393.2,300.6 393.6,309.5 394.0,310.7 394.4,310.8 394.8,310.7 395.2,310.3 395.6,310.0 396.0,309.7 396.4,309.8 396.8,309.4 397.1,309.3 397.5,309.6 397.9,309.2 398.3,309.5 398.7,309.4 399.1,309.1 399.5,309.3 399.9,308.9 400.3,309.1 400.7,309.2 401.1,309.0 401.5,309.4 401.9,309.0 402.3,309.3 402.7,309.3 403.1,308.9 403.5,309.0 403.9,309.2 404.3,309.3 404.6,308.8 405.0,309.0 405.4,308.9 405.8,309.3 406.2,309.0 406.6,295.6 407.0,287.8 407.4,283.8 407.8,281.2 408.2,279.7 408.6,278.3 409.0,277.3 409.4,276.0 409.8,275.3 410.2,274.5 410.6,274.1 411.0,273.3 411.4,273.0 411.8,272.6 412.1,272.3 412.5,271.9 412.9,271.8 413.3,271.8 413.7,271.6 414.1,271.4 414.5,271.3 414.9,270.7 415.3,270.9 415.7,270.6 416.1,296.2 416.5,312.6 416.9,315.5 417.3,315.9 417.7,315.7 418.1,315.3 418.5,315.2 418.9,315.0 419.3,314.8 419.6,314.5 420.0,314.4 420.4,314.0 420.8,314.4 421.2,314.2 421.6,314.2 422.0,314.2 422.4,314.1 422.8,314.1 423.2,314.0 423.6,314.2 424.0,313.7 424.4,314.0 424.8,313.7 425.2,313.8 425.6,313.8 426.0,313.9 426.4,313.7 426.8,314.1 427.2,313.8 427.5,314.0 427.9,313.8 428.3,313.8 428.7,314.1 429.1,314.1 429.5,314.2 429.9,301.1 430.3,291.1 430.7,286.0 431.1,282.8 431.5,281.1 431.9,279.6 432.3,278.2 432.7,277.2 433.1,276.0 433.5,275.2 433.9,274.8 434.3,274.1 434.7,273.4 435.0,272.8 435.4,272.5 435.8,272.3 436.2,271.7 436.6,272.0 437.0,271.8 437.4,271.2 437.8,271.2 438.2,271.3 438.6,270.9" fill="none" stroke="#f08c34" stroke-width="1.3" stroke-linejoin="round" />
<polyline points="241.2,274.2 241.6,274.2 242.0,274.4 242.4,274.5 242.8,274.7 243.2,274.3 243.6,274.4 244.0,274.3 244.4,274.5 244.8,274.3 245.1,274.5 245.5,274.2 245.9,274.3 246.3,274.5 246.7,274.4 247.1,274.3 247.5,274.6 247.9,274.4 248.3,274.2 248.7,274.5 249.1,274.2 249.5,274.3 249.9,274.2 250.3,274.5 250.7,274.6 251.1,274.2 251.5,275.3 251.9,278.2 252.3,278.7 252.6,278.7 253.0,278.3 253.4,278.4 253.8,278.0 254.2,278.1 254.6,278.2 255.0,278.0 255.4,278.1 255.8,277.8 256.2,277.7 256.6,277.9 257.0,277.9 257.4,277.8 257.8,277.8 258.2,277.7 258.6,278.2 259.0,278.0 259.4,277.8 259.8,278.0 260.2,277.8 260.5,278.1 260.9,277.7 261.3,277.9 261.7,278.1 262.1,277.8 262.5,278.0 262.9,278.1 263.3,277.9 263.7,278.1 264.1,276.9 264.5,275.8 264.9,275.5 265.3,275.6 265.7,275.1 266.1,275.3 266.5,275.1 266.9,274.7 267.3,274.8 267.7,274.9 268.0,274.8 268.4,274.7 268.8,274.8 269.2,274.3 269.6,274.8 270.0,274.6 270.4,274.4 270.8,274.5 271.2,274.2 271.6,274.6 272.0,274.2 272.4,274.2 272.8,274.3 273.2,274.2 273.6,274.5 274.0,274.2 274.4,274.3 274.8,274.4 275.2,275.7 275.5,278.8 275.9,279.5 276.3,279.6 276.7,279.1 277.1,279.3 277.5,279.0 277.9,278.8 278.3,279.1 278.7,279.1 279.1,279.0 279.5,278.7 279.9,278.8 280.3,278.9 280.7,278.7 281.1,278.5 281.5,278.8 281.9,278.7 282.3,278.5 282.7,278.6 283.0,278.8 283.4,278.7 283.8,278.7 284.2,278.9 284.6,278.7 285.0,278.8 285.4,278.5 285.8,278.8 286.2,278.6 286.6,278.4 287.0,278.4 287.4,278.7 287.8,278.6 288.2,278.8 288.6,278.7 289.0,278.7 289.4,278.5 289.8,278.4 290.2,278.8 290.5,277.2 290.9,276.2 291.3,276.0 291.7,275.8 292.1,275.2 292.5,275.4 292.9,275.0 293.3,275.0 293.7,274.7 294.1,274.6 294.5,275.0 294.9,274.9 295.3,274.4 295.7,274.6 296.1,274.6 296.5,274.4 296.9,274.4 297.3,274.5 297.7,274.5 298.1,274.7 298.4,274.5 298.8,274.6 299.2,274.4 299.6,274.4 300.0,274.6 300.4,274.3 300.8,274.6 301.2,274.6 301.6,274.3 302.0,280.3 302.4,282.3 302.8,282.6 303.2,282.4 303.6,282.4 304.0,281.9 304.4,282.1 304.8,281.7 305.2,281.5 305.6,281.4 305.9,281.4 306.3,281.6 306.7,281.4 307.1,281.3 307.5,281.6 307.9,281.2 308.3,281.2 308.7,281.4 309.1,281.3 309.5,281.4 309.9,281.5 310.3,281.3 310.7,281.6 311.1,281.2 311.5,281.1 311.9,281.5 312.3,281.1 312.7,281.6 313.1,281.2 313.4,281.5 313.8,281.1 314.2,278.5 314.6,277.0 315.0,276.8 315.4,276.4 315.8,275.7 316.2,275.6 316.6,275.5 317.0,275.6 317.4,275.4 317.8,275.2 318.2,275.2 318.6,274.6 319.0,274.7 319.4,274.5 319.8,274.6 320.2,274.7 320.6,274.8 320.9,274.4 321.3,274.8 321.7,274.5 322.1,274.5 322.5,274.5 322.9,274.7 323.3,274.7 323.7,274.4 324.1,274.7 324.5,277.1 324.9,283.9 325.3,284.8 325.7,284.8 326.1,284.3 326.5,284.2 326.9,284.0 327.3,283.9 327.7,283.6 328.1,283.3 328.5,283.4 328.8,283.5 329.2,283.4 329.6,283.4 330.0,283.2 330.4,283.0 330.8,283.1 331.2,283.3 331.6,283.2 332.0,283.2 332.4,283.2 332.8,283.2 333.2,282.9 333.6,283.1 334.0,283.0 334.4,283.0 334.8,283.0 335.2,283.0 335.6,283.2 336.0,283.0 336.3,282.9 336.7,283.3 337.1,283.0 337.5,279.9 337.9,278.4 338.3,277.5 338.7,276.6 339.1,276.6 339.5,275.9 339.9,276.0 340.3,275.7 340.7,275.7 341.1,275.3 341.5,275.0 341.9,275.2 342.3,274.9 342.7,274.6 343.1,274.9 343.5,274.7 343.8,274.5 344.2,274.4 344.6,274.8 345.0,274.5 345.4,274.7 345.8,274.7 346.2,274.2 346.6,274.7 347.0,274.2 347.4,274.3 347.8,287.5 348.2,291.3 348.6,292.0 349.0,292.2 349.4,292.0 349.8,292.0 350.2,291.5 350.6,291.5 351.0,291.4 351.3,291.7 351.7,291.4 352.1,291.6 352.5,291.3 352.9,291.3 353.3,291.1 353.7,291.3 354.1,291.3 354.5,291.2 354.9,291.6 355.3,291.3 355.7,291.6 356.1,291.4 356.5,291.6 356.9,291.1 357.3,291.6 357.7,291.1 358.1,291.1 358.5,291.4 358.9,291.2 359.2,291.6 359.6,291.5 360.0,291.6 360.4,287.5 360.8,283.1 361.2,280.5 361.6,279.7 362.0,278.6 362.4,278.2 362.8,277.7 363.2,277.1 363.6,276.9 364.0,276.1 364.4,276.2 364.8,275.8 365.2,275.6 365.6,275.4 366.0,275.3 366.4,275.3 366.7,275.2 367.1,274.7 367.5,275.0 367.9,274.8 368.3,274.6 368.7,274.6 369.1,274.4 369.5,274.4 369.9,274.5 370.3,284.2 370.7,294.8 371.1,297.0 371.5,297.0 371.9,297.0 372.3,296.8 372.7,296.6 373.1,296.6 373.5,296.3 373.9,296.2 374.2,296.6 374.6,296.1 375.0,296.1 375.4,296.1 375.8,296.3 376.2,296.4 376.6,296.4 377.0,296.3 377.4,296.0 377.8,296.3 378.2,296.5 378.6,296.3 379.0,296.4 379.4,296.1 379.8,296.0 380.2,296.0 380.6,296.4 381.0,296.2 381.4,296.4 381.7,296.0 382.1,296.0 382.5,296.2 382.9,295.9 383.3,296.2 383.7,286.6 384.1,283.3 384.5,281.5 384.9,279.9 385.3,279.1 385.7,278.6 386.1,277.8 386.5,277.4 386.9,276.9 387.3,276.9 387.7,276.6 388.1,276.3 388.5,275.8 388.9,275.5 389.2,275.6 389.6,275.3 390.0,275.4 390.4,274.9 390.8,274.8 391.2,275.1 391.6,274.5 392.0,274.6 392.4,274.9 392.8,274.7 393.2,299.3 393.6,306.0 394.0,307.1 394.4,307.4 394.8,307.2 395.2,306.7 395.6,306.4 396.0,306.3 396.4,306.3 396.8,306.4 397.1,306.1 397.5,306.1 397.9,305.9 398.3,305.9 398.7,305.8 399.1,305.7 399.5,305.8 399.9,305.7 400.3,306.0 400.7,306.2 401.1,305.7 401.5,306.1 401.9,305.6 402.3,305.9 402.7,306.1 403.1,306.0 403.5,305.7 403.9,305.9 404.3,305.8 404.6,306.1 405.0,305.7 405.4,305.9 405.8,305.7 406.2,306.1 406.6,294.8 407.0,288.5 407.4,285.3 407.8,283.5 408.2,281.9 408.6,280.6 409.0,280.1 409.4,279.1 409.8,278.7 410.2,277.6 410.6,277.1 411.0,276.9 411.4,276.6 411.8,276.5 412.1,276.2 412.5,275.6 412.9,275.4 413.3,275.1 413.7,275.0 414.1,275.1 414.5,275.1 414.9,274.8 415.3,274.9 415.7,274.7 416.1,295.5 416.5,309.6 416.9,311.9 417.3,312.3 417.7,312.4 418.1,311.7 418.5,311.5 418.9,311.4 419.3,311.5 419.6,310.9 420.0,311.0 420.4,310.9 420.8,311.1 421.2,311.1 421.6,311.1 422.0,310.9 422.4,310.9 422.8,310.9 423.2,311.0 423.6,310.6 424.0,310.6 424.4,310.5 424.8,310.9 425.2,310.6 425.6,310.6 426.0,310.9 426.4,310.5 426.8,310.8 427.2,310.9 427.5,310.9 427.9,310.5 428.3,310.8 428.7,310.8 429.1,310.7 429.5,310.8 429.9,299.8 430.3,291.7 430.7,287.4 431.1,284.9 431.5,283.2 431.9,281.9 432.3,281.0 432.7,279.9 433.1,278.9 433.5,278.5 433.9,277.8 434.3,277.2 434.7,277.1 435.0,276.7 435.4,276.0 435.8,276.1 436.2,275.8 436.6,275.6 437.0,275.1 437.4,275.2 437.8,274.9 438.2,275.1 438.6,275.0" fill="none" stroke="#8c8ce0" stroke-width="1.3" stroke-linejoin="round" />
<polyline points="241.2,286.9 241.6,287.0 242.0,286.7 242.4,287.0 242.8,286.7 243.2,286.8 243.6,287.0 244.0,286.7 244.4,287.0 244.8,286.8 245.1,286.9 245.5,286.9 245.9,286.7 246.3,286.5 246.7,286.9 247.1,286.8 247.5,286.6 247.9,286.4 248.3,286.6 248.7,286.7 249.1,286.4 249.5,286.9 249.9,286.4 250.3,286.7 250.7,286.8 251.1,286.8 251.5,286.7 251.9,286.4 252.3,286.8 252.6,286.5 253.0,286.5 253.4,286.6 253.8,286.5 254.2,286.8 254.6,286.8 255.0,286.7 255.4,286.4 255.8,286.6 256.2,286.6 256.6,286.5 257.0,286.5 257.4,286.6 257.8,286.3 258.2,286.4 258.6,286.6 259.0,286.4 259.4,286.5 259.8,286.3 260.2,286.3 260.5,286.6 260.9,286.2 261.3,286.7 261.7,286.5 262.1,286.3 262.5,286.6 262.9,286.4 263.3,286.7 263.7,286.3 264.1,286.3 264.5,286.4 264.9,286.2 265.3,286.5 265.7,286.3 266.1,286.3 266.5,286.3 266.9,286.4 267.3,286.2 267.7,286.1 268.0,286.4 268.4,286.2 268.8,286.6 269.2,286.2 269.6,286.2 270.0,286.0 270.4,286.1 270.8,286.4 271.2,286.3 271.6,286.2 272.0,286.5 272.4,286.3 272.8,286.4 273.2,286.5 273.6,286.5 274.0,286.1 274.4,286.4 274.8,286.4 275.2,286.3 275.5,286.0 275.9,286.4 276.3,286.2 276.7,286.2 277.1,286.0 277.5,286.0 277.9,286.0 278.3,286.3 278.7,286.2 279.1,286.2 279.5,285.9 279.9,285.9 280.3,286.3 280.7,286.3 281.1,286.3 281.5,286.3 281.9,286.1 282.3,286.1 282.7,286.2 283.0,286.4 283.4,286.1 283.8,286.2 284.2,286.0 284.6,285.8 285.0,286.0 285.4,286.0 285.8,286.0 286.2,285.9 286.6,286.3 287.0,285.8 287.4,285.9 287.8,285.8 288.2,285.8 288.6,286.1 289.0,286.1 289.4,286.2 289.8,285.9 290.2,286.2 290.5,286.2 290.9,286.1 291.3,286.1 291.7,286.0 292.1,286.2 292.5,286.2 292.9,286.1 293.3,286.1 293.7,286.0 294.1,286.2 294.5,285.7 294.9,285.8 295.3,286.1 295.7,286.0 296.1,286.0 296.5,285.9 296.9,286.1 297.3,285.7 297.7,285.6 298.1,285.9 298.4,285.9 298.8,286.1 299.2,286.0 299.6,285.9 300.0,285.9 300.4,285.6 300.8,286.0 301.2,286.1 301.6,285.5 302.0,286.1 302.4,286.4 302.8,286.2 303.2,286.5 303.6,286.2 304.0,285.9 304.4,286.0 304.8,286.0 305.2,286.3 305.6,286.2 305.9,286.3 306.3,286.0 306.7,286.1 307.1,285.9 307.5,286.2 307.9,286.2 308.3,285.9 308.7,285.8 309.1,285.9 309.5,285.9 309.9,285.9 310.3,285.9 310.7,286.2 311.1,286.0 311.5,286.1 311.9,286.3 312.3,286.3 312.7,286.1 313.1,286.1 313.4,285.9 313.8,285.7 314.2,285.8 314.6,285.5 315.0,285.4 315.4,285.4 315.8,285.7 316.2,285.8 316.6,285.8 317.0,285.8 317.4,285.7 317.8,285.5 318.2,285.3 318.6,285.4 319.0,285.5 319.4,285.4 319.8,285.3 320.2,285.7 320.6,285.4 320.9,285.3 321.3,285.3 321.7,285.3 322.1,285.5 322.5,285.6 322.9,285.3 323.3,285.5 323.7,285.3 324.1,285.2 324.5,285.8 324.9,286.5 325.3,286.3 325.7,286.4 326.1,286.7 326.5,286.7 326.9,286.6 327.3,286.2 327.7,286.2 328.1,286.6 328.5,286.2 328.8,286.1 329.2,286.2 329.6,286.4 330.0,286.3 330.4,286.5 330.8,286.5 331.2,286.0 331.6,286.2 332.0,286.3 332.4,286.0 332.8,286.3 333.2,286.0 333.6,286.1 334.0,286.4 334.4,286.4 334.8,286.3 335.2,286.3 335.6,286.2 336.0,286.3 336.3,286.2 336.7,286.4 337.1,286.0 337.5,285.9 337.9,285.6 338.3,285.5 338.7,285.2 339.1,285.4 339.5,285.1 339.9,285.3 340.3,285.3 340.7,285.3 341.1,285.5 341.5,285.3 341.9,285.4 342.3,285.5 342.7,285.0 343.1,285.3 343.5,285.2 343.8,285.0 344.2,285.1 344.6,285.2 345.0,285.1 345.4,285.1 345.8,284.9 346.2,285.3 346.6,285.0 347.0,285.2 347.4,285.2 347.8,290.5 348.2,292.3 348.6,292.6 349.0,292.4 349.4,292.3 349.8,292.5 350.2,292.4 350.6,292.4 351.0,292.3 351.3,292.2 351.7,292.3 352.1,292.3 352.5,292.3 352.9,292.0 353.3,292.1 353.7,292.0 354.1,292.0 354.5,292.3 354.9,292.2 355.3,291.9 355.7,292.0 356.1,292.4 356.5,292.4 356.9,292.2 357.3,292.4 357.7,292.3 358.1,292.4 358.5,292.0 358.9,292.0 359.2,291.9 359.6,292.3 360.0,292.0 360.4,290.3 360.8,288.6 361.2,287.3 361.6,286.7 362.0,286.8 362.4,286.1 362.8,286.2 363.2,285.9 363.6,285.5 364.0,285.4 364.4,285.7 364.8,285.4 365.2,285.3 365.6,285.3 366.0,285.3 366.4,285.2 366.7,284.9 367.1,285.2 367.5,284.9 367.9,284.9 368.3,285.1 368.7,284.9 369.1,284.7 369.5,284.8 369.9,285.0 370.3,288.7 370.7,293.6 371.1,294.4 371.5,295.0 371.9,294.8 372.3,294.9 372.7,294.4 373.1,294.6 373.5,294.6 373.9,294.4 374.2,294.2 374.6,294.2 375.0,294.5 375.4,294.5 375.8,294.1 376.2,294.2 376.6,294.2 377.0,294.5 377.4,294.5 377.8,294.1 378.2,294.3 378.6,294.4 379.0,294.0 379.4,294.1 379.8,294.0 380.2,294.4 380.6,294.0 381.0,294.4 381.4,294.0 381.7,294.2 382.1,294.2 382.5,294.1 382.9,293.9 383.3,294.3 383.7,290.1 384.1,288.4 384.5,287.7 384.9,287.2 385.3,286.8 385.7,286.5 386.1,286.2 386.5,285.9 386.9,285.7 387.3,285.3 387.7,285.4 388.1,285.1 388.5,285.2 388.9,285.0 389.2,285.1 389.6,284.9 390.0,284.9 390.4,284.5 390.8,284.5 391.2,284.7 391.6,284.5 392.0,284.2 392.4,284.6 392.8,284.2 393.2,299.5 393.6,303.8 394.0,304.3 394.4,304.5 394.8,304.3 395.2,304.1 395.6,303.8 396.0,304.0 396.4,303.7 396.8,303.7 397.1,303.7 397.5,303.8 397.9,303.8 398.3,303.9 398.7,303.8 399.1,303.8 399.5,303.5 399.9,303.7 400.3,303.7 400.7,303.8 401.1,303.4 401.5,303.3 401.9,303.4 402.3,303.6 402.7,303.6 403.1,303.6 403.5,303.5 403.9,303.7 404.3,303.5 404.6,303.6 405.0,303.2 405.4,303.2 405.8,303.4 406.2,303.6 406.6,296.4 407.0,292.8 407.4,290.8 407.8,289.8 408.2,288.7 408.6,288.0 409.0,287.4 409.4,287.1 409.8,286.5 410.2,286.4 410.6,286.0 411.0,285.8 411.4,285.4 411.8,285.4 412.1,285.2 412.5,284.9 412.9,284.8 413.3,284.5 413.7,284.4 414.1,284.2 414.5,284.2 414.9,284.1 415.3,284.0 415.7,284.2 416.1,294.7 416.5,301.3 416.9,303.0 417.3,302.8 417.7,302.7 418.1,302.9 418.5,302.3 418.9,302.2 419.3,302.2 419.6,302.1 420.0,302.0 420.4,302.3 420.8,302.1 421.2,302.1 421.6,301.9 422.0,301.8 422.4,301.8 422.8,301.9 423.2,301.8 423.6,301.9 424.0,301.8 424.4,302.1 424.8,302.2 425.2,302.1 425.6,302.0 426.0,302.1 426.4,301.7 426.8,301.9 427.2,301.8 427.5,301.8 427.9,301.8 428.3,301.9 428.7,302.1 429.1,301.7 429.5,301.7 429.9,296.4 430.3,292.2 430.7,290.1 431.1,289.2 431.5,288.0 431.9,287.6 432.3,287.1 432.7,286.6 433.1,285.9 433.5,285.8 433.9,285.3 434.3,284.9 434.7,284.9 435.0,284.8 435.4,284.5 435.8,284.3 436.2,284.1 436.6,284.1 437.0,284.0 437.4,284.2 437.8,284.1 438.2,284.0 438.6,283.6" fill="none" stroke="#333333" stroke-width="1.3" stroke-linejoin="round" />
<polyline points="241.2,338.3 241.6,337.9 242.0,338.4 242.4,338.0 242.8,338.4 243.2,338.3 243.6,337.9 244.0,338.3 244.4,338.1 244.8,338.2 245.1,338.2 245.5,338.2 245.9,338.3 246.3,338.0 246.7,338.4 247.1,338.3 247.5,338.4 247.9,338.3 248.3,338.2 248.7,337.9 249.1,338.2 249.5,338.4 249.9,338.3 250.3,337.9 250.7,338.4 251.1,338.1 251.5,338.8 251.9,340.1 252.3,340.5 252.6,340.3 253.0,340.4 253.4,340.2 253.8,340.0 254.2,340.2 254.6,340.4 255.0,340.4 255.4,339.9 255.8,340.2 256.2,340.3 256.6,339.9 257.0,340.1 257.4,340.0 257.8,339.9 258.2,340.2 258.6,340.2 259.0,339.9 259.4,340.3 259.8,340.0 260.2,340.3 260.5,340.0 260.9,340.0 261.3,339.9 261.7,339.9 262.1,340.1 262.5,340.3 262.9,340.3 263.3,340.1 263.7,340.1 264.1,339.7 264.5,338.8 264.9,338.8 265.3,338.6 265.7,338.8 266.1,338.7 266.5,338.7 266.9,338.5 267.3,338.5 267.7,338.4 268.0,338.4 268.4,338.1 268.8,338.1 269.2,338.4 269.6,338.3 270.0,338.4 270.4,338.1 270.8,338.0 271.2,338.4 271.6,338.0 272.0,338.3 272.4,338.4 272.8,338.0 273.2,338.3 273.6,338.3 274.0,338.2 274.4,338.3 274.8,338.2 275.2,338.9 275.5,340.7 275.9,340.9 276.3,341.0 276.7,341.0 277.1,341.0 277.5,340.9 277.9,340.6 278.3,340.7 278.7,340.4 279.1,340.6 279.5,340.4 279.9,340.3 280.3,340.8 280.7,340.8 281.1,340.7 281.5,340.6 281.9,340.5 282.3,340.4 282.7,340.6 283.0,340.2 283.4,340.8 283.8,340.3 284.2,340.6 284.6,340.3 285.0,340.7 285.4,340.2 285.8,340.3 286.2,340.2 286.6,340.4 287.0,340.7 287.4,340.2 287.8,340.5 288.2,340.7 288.6,340.4 289.0,340.5 289.4,340.5 289.8,340.7 290.2,340.7 290.5,339.5 290.9,339.1 291.3,339.1 291.7,338.8 292.1,338.5 292.5,338.5 292.9,338.5 293.3,338.5 293.7,338.5 294.1,338.5 294.5,338.5 294.9,338.3 295.3,338.5 295.7,338.2 296.1,338.1 296.5,338.2 296.9,338.5 297.3,338.3 297.7,338.2 298.1,338.4 298.4,337.9 298.8,338.0 299.2,338.2 299.6,338.1 300.0,338.3 300.4,338.3 300.8,338.1 301.2,338.0 301.6,338.1 302.0,341.7 302.4,342.6 302.8,342.5 303.2,342.5 303.6,342.3 304.0,342.2 304.4,342.5 304.8,342.4 305.2,342.2 305.6,341.9 305.9,342.2 306.3,341.9 306.7,341.9 307.1,342.1 307.5,342.0 307.9,341.8 308.3,341.9 308.7,342.2 309.1,341.9 309.5,342.2 309.9,342.1 310.3,341.8 310.7,341.8 311.1,342.1 311.5,342.1 311.9,342.0 312.3,341.8 312.7,341.9 313.1,341.8 313.4,341.9 313.8,341.9 314.2,340.4 314.6,339.8 315.0,339.4 315.4,339.2 315.8,339.0 316.2,338.7 316.6,338.9 317.0,338.9 317.4,338.5 317.8,338.7 318.2,338.5 318.6,338.6 319.0,338.2 319.4,338.5 319.8,338.4 320.2,338.1 320.6,338.3 320.9,338.4 321.3,338.0 321.7,338.3 322.1,338.3 322.5,337.9 322.9,338.0 323.3,338.0 323.7,338.3 324.1,338.0 324.5,339.6 324.9,343.2 325.3,344.0 325.7,343.7 326.1,343.5 326.5,343.6 326.9,343.3 327.3,343.2 327.7,343.0 328.1,343.0 328.5,343.0 328.8,343.3 329.2,343.0 329.6,343.0 330.0,343.3 330.4,343.1 330.8,342.8 331.2,342.8 331.6,342.8 332.0,343.2 332.4,343.0 332.8,342.8 333.2,342.9 333.6,343.1 334.0,343.2 334.4,342.8 334.8,342.8 335.2,342.9 335.6,343.1 336.0,342.8 336.3,342.8 336.7,342.9 337.1,342.9 337.5,341.3 337.9,340.3 338.3,339.8 338.7,339.5 339.1,339.2 339.5,339.3 339.9,338.8 340.3,338.9 340.7,338.9 341.1,338.8 341.5,338.6 341.9,338.5 342.3,338.3 342.7,338.6 343.1,338.5 343.5,338.4 343.8,338.5 344.2,338.1 344.6,338.5 345.0,338.5 345.4,338.2 345.8,338.1 346.2,338.0 346.6,338.2 347.0,338.3 347.4,338.0 347.8,349.3 348.2,352.7 348.6,353.3 349.0,353.0 349.4,352.9 349.8,352.8 350.2,353.2 350.6,353.0 351.0,352.9 351.3,353.0 351.7,352.7 352.1,353.0 352.5,352.5 352.9,352.7 353.3,352.7 353.7,352.8 354.1,352.5 354.5,352.7 354.9,352.5 355.3,352.5 355.7,352.6 356.1,352.4 356.5,352.7 356.9,352.8 357.3,352.5 357.7,352.7 358.1,352.8 358.5,352.6 358.9,352.7 359.2,352.9 359.6,352.5 360.0,352.7 360.4,349.0 360.8,345.4 361.2,343.3 361.6,342.6 362.0,342.0 362.4,341.3 362.8,340.7 363.2,340.3 363.6,340.0 364.0,340.0 364.4,339.7 364.8,339.6 365.2,339.3 365.6,338.8 366.0,339.0 366.4,338.7 366.7,338.6 367.1,338.8 367.5,338.4 367.9,338.7 368.3,338.6 368.7,338.3 369.1,338.5 369.5,338.1 369.9,338.3 370.3,346.1 370.7,355.0 371.1,357.2 371.5,356.9 371.9,357.3 372.3,356.8 372.7,356.7 373.1,356.4 373.5,356.7 373.9,356.3 374.2,356.4 374.6,356.5 375.0,356.6 375.4,356.5 375.8,356.4 376.2,356.4 376.6,356.4 377.0,356.2 377.4,356.4 377.8,356.2 378.2,356.6 378.6,356.5 379.0,356.2 379.4,356.1 379.8,356.4 380.2,356.6 380.6,356.4 381.0,356.4 381.4,356.4 381.7,356.3 382.1,356.4 382.5,356.2 382.9,356.2 383.3,356.2 383.7,348.3 384.1,345.5 384.5,344.1 384.9,342.8 385.3,342.4 385.7,341.5 386.1,341.2 386.5,340.7 386.9,340.4 387.3,340.0 387.7,339.9 388.1,339.5 388.5,339.2 388.9,339.2 389.2,339.0 389.6,338.9 390.0,338.8 390.4,338.7 390.8,338.6 391.2,338.4 391.6,338.6 392.0,338.6 392.4,338.2 392.8,338.5 393.2,357.0 393.6,362.4 394.0,363.6 394.4,363.4 394.8,363.4 395.2,362.9 395.6,363.1 396.0,363.0 396.4,362.9 396.8,362.5 397.1,362.7 397.5,362.6 397.9,362.2 398.3,362.3 398.7,362.3 399.1,362.4 399.5,362.3 399.9,362.6 400.3,362.2 400.7,362.5 401.1,362.2 401.5,362.4 401.9,362.1 402.3,362.6 402.7,362.1 403.1,362.6 403.5,362.3 403.9,362.4 404.3,362.1 404.6,362.2 405.0,362.1 405.4,362.1 405.8,362.4 406.2,362.5 406.6,354.1 407.0,348.9 407.4,346.3 407.8,344.9 408.2,344.0 408.6,343.0 409.0,342.3 409.4,341.9 409.8,341.2 410.2,341.0 410.6,340.7 411.0,340.4 411.4,339.8 411.8,339.5 412.1,339.5 412.5,339.2 412.9,338.9 413.3,339.0 413.7,338.8 414.1,338.6 414.5,338.6 414.9,338.7 415.3,338.3 415.7,338.3 416.1,354.7 416.5,365.0 416.9,367.0 417.3,367.1 417.7,366.9 418.1,366.9 418.5,366.6 418.9,366.6 419.3,366.3 419.6,366.5 420.0,366.3 420.4,366.2 420.8,365.9 421.2,366.0 421.6,365.9 422.0,365.9 422.4,365.8 422.8,366.0 423.2,365.9 423.6,366.0 424.0,366.1 424.4,365.8 424.8,365.9 425.2,366.2 425.6,366.1 426.0,366.1 426.4,365.9 426.8,365.9 427.2,366.1 427.5,365.9 427.9,365.9 428.3,366.1 428.7,366.0 429.1,365.7 429.5,366.2 429.9,357.8 430.3,351.2 430.7,347.9 431.1,346.0 431.5,345.0 431.9,343.8 432.3,343.3 432.7,342.5 433.1,341.6 433.5,341.2 433.9,340.9 434.3,340.4 434.7,340.1 435.0,339.8 435.4,339.4 435.8,339.1 436.2,339.3 436.6,338.9 437.0,338.7 437.4,338.7 437.8,338.7 438.2,338.7 438.6,338.5" fill="none" stroke="#3ab8a0" stroke-width="1.3" stroke-linejoin="round" />
<text x="257.6" y="249.4" font-size="6.2" font-weight="normal" fill="#111" text-anchor="middle" >1 ppm</text>
<line x1="257.65" y1="251.00" x2="257.65" y2="256.50" stroke="#000" stroke-width="0.8" />
<polygon points="256.15,255.30 259.15,255.30 257.65,258.20" fill="#000" stroke="none" stroke-width="1" />
<text x="282.7" y="249.4" font-size="6.2" font-weight="normal" fill="#111" text-anchor="middle" >2 ppm</text>
<line x1="282.65" y1="251.00" x2="282.65" y2="256.50" stroke="#000" stroke-width="0.8" />
<polygon points="281.15,255.30 284.15,255.30 282.65,258.20" fill="#000" stroke="none" stroke-width="1" />
<text x="307.8" y="249.4" font-size="6.2" font-weight="normal" fill="#111" text-anchor="middle" >5 ppm</text>
<line x1="307.82" y1="251.00" x2="307.82" y2="256.50" stroke="#000" stroke-width="0.8" />
<polygon points="306.32,255.30 309.32,255.30 307.82,258.20" fill="#000" stroke="none" stroke-width="1" />
<text x="330.9" y="249.4" font-size="6.2" font-weight="normal" fill="#111" text-anchor="middle" >10 ppm</text>
<line x1="330.85" y1="251.00" x2="330.85" y2="256.50" stroke="#000" stroke-width="0.8" />
<polygon points="329.35,255.30 332.35,255.30 330.85,258.20" fill="#000" stroke="none" stroke-width="1" />
<text x="353.9" y="249.4" font-size="6.2" font-weight="normal" fill="#111" text-anchor="middle" >50 ppm</text>
<line x1="353.88" y1="251.00" x2="353.88" y2="256.50" stroke="#000" stroke-width="0.8" />
<polygon points="352.38,255.30 355.38,255.30 353.88,258.20" fill="#000" stroke="none" stroke-width="1" />
<text x="376.7" y="249.4" font-size="6.2" font-weight="normal" fill="#111" text-anchor="middle" >100 ppm</text>
<line x1="376.75" y1="251.00" x2="376.75" y2="256.50" stroke="#000" stroke-width="0.8" />
<polygon points="375.25,255.30 378.25,255.30 376.75,258.20" fill="#000" stroke="none" stroke-width="1" />
<text x="399.6" y="249.4" font-size="6.2" font-weight="normal" fill="#111" text-anchor="middle" >500 ppm</text>
<line x1="399.61" y1="251.00" x2="399.61" y2="256.50" stroke="#000" stroke-width="0.8" />
<polygon points="398.11,255.30 401.11,255.30 399.61,258.20" fill="#000" stroke="none" stroke-width="1" />
<text x="422.8" y="249.4" font-size="6.2" font-weight="normal" fill="#111" text-anchor="middle" >1000 ppm</text>
<line x1="422.81" y1="251.00" x2="422.81" y2="256.50" stroke="#000" stroke-width="0.8" />
<polygon points="421.31,255.30 424.31,255.30 422.81,258.20" fill="#000" stroke="none" stroke-width="1" />
<line x1="240.90" y1="377.70" x2="244.20" y2="377.70" stroke="#000" stroke-width="1" />
<text x="231.6" y="381.0" font-size="8.7" font-weight="normal" fill="#111" text-anchor="end" >10</text>
<text x="231.8" y="377.3" font-size="5.6" font-weight="normal" fill="#111" text-anchor="start" >4</text>
<line x1="240.90" y1="350.80" x2="244.20" y2="350.80" stroke="#000" stroke-width="1" />
<text x="231.6" y="354.1" font-size="8.7" font-weight="normal" fill="#111" text-anchor="end" >10</text>
<text x="231.8" y="350.4" font-size="5.6" font-weight="normal" fill="#111" text-anchor="start" >5</text>
<line x1="240.90" y1="323.90" x2="244.20" y2="323.90" stroke="#000" stroke-width="1" />
<text x="231.6" y="327.2" font-size="8.7" font-weight="normal" fill="#111" text-anchor="end" >10</text>
<text x="231.8" y="323.5" font-size="5.6" font-weight="normal" fill="#111" text-anchor="start" >6</text>
<line x1="240.90" y1="297.00" x2="244.20" y2="297.00" stroke="#000" stroke-width="1" />
<text x="231.6" y="300.3" font-size="8.7" font-weight="normal" fill="#111" text-anchor="end" >10</text>
<text x="231.8" y="296.6" font-size="5.6" font-weight="normal" fill="#111" text-anchor="start" >7</text>
<line x1="240.90" y1="270.10" x2="244.20" y2="270.10" stroke="#000" stroke-width="1" />
<text x="231.6" y="273.4" font-size="8.7" font-weight="normal" fill="#111" text-anchor="end" >10</text>
<text x="231.8" y="269.7" font-size="5.6" font-weight="normal" fill="#111" text-anchor="start" >8</text>
<line x1="240.90" y1="243.20" x2="244.20" y2="243.20" stroke="#000" stroke-width="1" />
<text x="231.6" y="246.5" font-size="8.7" font-weight="normal" fill="#111" text-anchor="end" >10</text>
<text x="231.8" y="242.8" font-size="5.6" font-weight="normal" fill="#111" text-anchor="start" >9</text>
<line x1="240.90" y1="216.30" x2="244.20" y2="216.30" stroke="#000" stroke-width="1" />
<text x="231.6" y="219.6" font-size="8.7" font-weight="normal" fill="#111" text-anchor="end" >10</text>
<text x="231.8" y="215.9" font-size="5.6" font-weight="normal" fill="#111" text-anchor="start" >10</text>
<line x1="241.20" y1="377.70" x2="241.20" y2="374.70" stroke="#000" stroke-width="1" />
<text x="241.2" y="389.7" font-size="8.2" font-weight="normal" fill="#111" text-anchor="middle" >0</text>
<line x1="274.10" y1="377.70" x2="274.10" y2="374.70" stroke="#000" stroke-width="1" />
<text x="274.1" y="389.7" font-size="8.2" font-weight="normal" fill="#111" text-anchor="middle" >10</text>
<line x1="307.00" y1="377.70" x2="307.00" y2="374.70" stroke="#000" stroke-width="1" />
<text x="307.0" y="389.7" font-size="8.2" font-weight="normal" fill="#111" text-anchor="middle" >20</text>
<line x1="339.90" y1="377.70" x2="339.90" y2="374.70" stroke="#000" stroke-width="1" />
<text x="339.9" y="389.7" font-size="8.2" font-weight="normal" fill="#111" text-anchor="middle" >30</text>
<line x1="372.80" y1="377.70" x2="372.80" y2="374.70" stroke="#000" stroke-width="1" />
<text x="372.8" y="389.7" font-size="8.2" font-weight="normal" fill="#111" text-anchor="middle" >40</text>
<line x1="405.70" y1="377.70" x2="405.70" y2="374.70" stroke="#000" stroke-width="1" />
<text x="405.7" y="389.7" font-size="8.2" font-weight="normal" fill="#111" text-anchor="middle" >50</text>
<line x1="438.60" y1="377.70" x2="438.60" y2="374.70" stroke="#000" stroke-width="1" />
<text x="438.6" y="389.7" font-size="8.2" font-weight="normal" fill="#111" text-anchor="middle" >60</text>
<text x="341.3" y="403.3" font-size="8.5" font-weight="normal" fill="#111" text-anchor="middle" >Time (min)</text>
<text transform="translate(214.7,297.1) rotate(-90)" font-size="8.8" fill="#111" text-anchor="middle">Resistance (Ω)</text>
<line x1="258.80" y1="221.60" x2="272.10" y2="221.60" stroke="#3ab8a0" stroke-width="1.4" />
<text x="275.0" y="224.2" font-size="7.3" font-weight="normal" fill="#111" text-anchor="start" >rGO-SnO<tspan font-size="4.5" dy="1.5">2</tspan></text>
<line x1="258.80" y1="230.40" x2="272.10" y2="230.40" stroke="#f08c34" stroke-width="1.4" />
<text x="275.0" y="233.0" font-size="7.3" font-weight="normal" fill="#111" text-anchor="start" >10% rGO-SnO<tspan font-size="4.5" dy="1.5">2</tspan><tspan dy="-1.5">-ZnO</tspan></text>
<line x1="258.80" y1="239.10" x2="272.10" y2="239.10" stroke="#8dc74a" stroke-width="1.4" />
<text x="275.0" y="241.7" font-size="7.3" font-weight="normal" fill="#111" text-anchor="start" >30% rGO-SnO<tspan font-size="4.5" dy="1.5">2</tspan><tspan dy="-1.5">-ZnO</tspan></text>
<line x1="353.70" y1="221.60" x2="367.00" y2="221.60" stroke="#8c8ce0" stroke-width="1.4" />
<text x="369.9" y="224.2" font-size="7.3" font-weight="normal" fill="#111" text-anchor="start" >5% rGO-SnO<tspan font-size="4.5" dy="1.5">2</tspan><tspan dy="-1.5">-ZnO</tspan></text>
<line x1="353.70" y1="230.40" x2="367.00" y2="230.40" stroke="#dd4fa0" stroke-width="1.4" />
<text x="369.9" y="233.0" font-size="7.3" font-weight="normal" fill="#111" text-anchor="start" >20% rGO-SnO<tspan font-size="4.5" dy="1.5">2</tspan><tspan dy="-1.5">-ZnO</tspan></text>
<line x1="353.70" y1="239.10" x2="367.00" y2="239.10" stroke="#333333" stroke-width="1.4" />
<text x="369.9" y="241.7" font-size="7.3" font-weight="normal" fill="#111" text-anchor="start" >rGO-ZnO</text>
<rect x="240.90" y="215.90" width="198.20" height="161.80" fill="none" stroke="#000" stroke-width="1.4" />
<text x="446.8" y="220.3" font-size="14" font-weight="bold" fill="#000" text-anchor="start" >h</text>
<line x1="473.90" y1="378.40" x2="476.90" y2="378.40" stroke="#000" stroke-width="1" />
<text x="469.0" y="381.4" font-size="8.5" font-weight="normal" fill="#111" text-anchor="end" >0</text>
<line x1="473.90" y1="346.04" x2="476.90" y2="346.04" stroke="#000" stroke-width="1" />
<text x="469.0" y="349.0" font-size="8.5" font-weight="normal" fill="#111" text-anchor="end" >10</text>
<line x1="473.90" y1="313.68" x2="476.90" y2="313.68" stroke="#000" stroke-width="1" />
<text x="469.0" y="316.7" font-size="8.5" font-weight="normal" fill="#111" text-anchor="end" >20</text>
<line x1="473.90" y1="281.32" x2="476.90" y2="281.32" stroke="#000" stroke-width="1" />
<text x="469.0" y="284.3" font-size="8.5" font-weight="normal" fill="#111" text-anchor="end" >30</text>
<line x1="473.90" y1="248.96" x2="476.90" y2="248.96" stroke="#000" stroke-width="1" />
<text x="469.0" y="252.0" font-size="8.5" font-weight="normal" fill="#111" text-anchor="end" >40</text>
<line x1="473.90" y1="216.60" x2="476.90" y2="216.60" stroke="#000" stroke-width="1" />
<text x="469.0" y="219.6" font-size="8.5" font-weight="normal" fill="#111" text-anchor="end" >50</text>
<line x1="473.90" y1="378.40" x2="473.90" y2="375.40" stroke="#000" stroke-width="1" />
<text x="473.9" y="390.0" font-size="8.5" font-weight="normal" fill="#111" text-anchor="middle" >0</text>
<line x1="507.26" y1="378.40" x2="507.26" y2="375.40" stroke="#000" stroke-width="1" />
<text x="507.3" y="390.0" font-size="8.5" font-weight="normal" fill="#111" text-anchor="middle" >200</text>
<line x1="540.62" y1="378.40" x2="540.62" y2="375.40" stroke="#000" stroke-width="1" />
<text x="540.6" y="390.0" font-size="8.5" font-weight="normal" fill="#111" text-anchor="middle" >400</text>
<line x1="573.98" y1="378.40" x2="573.98" y2="375.40" stroke="#000" stroke-width="1" />
<text x="574.0" y="390.0" font-size="8.5" font-weight="normal" fill="#111" text-anchor="middle" >600</text>
<line x1="607.34" y1="378.40" x2="607.34" y2="375.40" stroke="#000" stroke-width="1" />
<text x="607.3" y="390.0" font-size="8.5" font-weight="normal" fill="#111" text-anchor="middle" >800</text>
<line x1="640.70" y1="378.40" x2="640.70" y2="375.40" stroke="#000" stroke-width="1" />
<text x="640.7" y="390.0" font-size="8.5" font-weight="normal" fill="#111" text-anchor="middle" >1000</text>
<line x1="674.06" y1="378.40" x2="674.06" y2="375.40" stroke="#000" stroke-width="1" />
<text x="674.1" y="390.0" font-size="8.5" font-weight="normal" fill="#111" text-anchor="middle" >1200</text>
<text x="573.6" y="403.4" font-size="8.7" fill="#111" text-anchor="middle">H<tspan font-size="5.5" dy="1.7">2</tspan><tspan dy="-1.7"> concentration (ppm)</tspan></text>
<text transform="translate(454.3,297) rotate(-90)" font-size="8.2" fill="#111" text-anchor="middle">Response</text>
<line x1="473.90" y1="371.53" x2="640.70" y2="239.18" stroke="#f08c34" stroke-width="1.3" />
<polygon points="472.93,372.23 478.21,372.23 475.57,367.67" fill="#f08c34" stroke="none" stroke-width="1" />
<polygon points="479.60,365.76 484.88,365.76 482.24,361.20" fill="#f08c34" stroke="none" stroke-width="1" />
<polygon points="487.94,359.61 493.22,359.61 490.58,355.05" fill="#f08c34" stroke="none" stroke-width="1" />
<polygon points="554.66,302.01 559.94,302.01 557.30,297.45" fill="#f08c34" stroke="none" stroke-width="1" />
<polygon points="638.06,242.47 643.34,242.47 640.70,237.91" fill="#f08c34" stroke="none" stroke-width="1" />
<text transform="translate(541.6,307.5) rotate(-38.4)" font-size="6.5" font-weight="normal" fill="#f08c34">S = 0.0409 C + 2.1229 R<tspan font-size="4" dy="-2.5">2</tspan><tspan dy="2.5"> = 0.99571</tspan></text>
<line x1="473.90" y1="369.97" x2="640.70" y2="269.85" stroke="#9a98d8" stroke-width="1.3" />
<circle cx="475.57" cy="369.34" r="2.28" fill="#9a98d8" stroke="none" stroke-width="1" />
<circle cx="482.24" cy="362.22" r="2.28" fill="#9a98d8" stroke="none" stroke-width="1" />
<circle cx="490.58" cy="353.81" r="2.28" fill="#9a98d8" stroke="none" stroke-width="1" />
<circle cx="557.30" cy="311.74" r="2.28" fill="#9a98d8" stroke="none" stroke-width="1" />
<circle cx="640.70" cy="274.85" r="2.28" fill="#9a98d8" stroke="none" stroke-width="1" />
<text transform="translate(551.5,321.5) rotate(-31.0)" font-size="6.5" font-weight="normal" fill="#9a98d8">S = 0.03094 C + 2.6037 R<tspan font-size="4" dy="-2.5">2</tspan><tspan dy="2.5"> = 0.97768</tspan></text>
<line x1="473.90" y1="371.84" x2="640.70" y2="297.60" stroke="#e0559a" stroke-width="1.3" />
<polygon points="472.93,369.36 478.21,369.36 475.57,373.92" fill="#e0559a" stroke="none" stroke-width="1" />
<polygon points="479.60,362.89 484.88,362.89 482.24,367.45" fill="#e0559a" stroke="none" stroke-width="1" />
<polygon points="487.94,358.68 493.22,358.68 490.58,363.24" fill="#e0559a" stroke="none" stroke-width="1" />
<polygon points="554.66,330.53 559.94,330.53 557.30,335.09" fill="#e0559a" stroke="none" stroke-width="1" />
<polygon points="638.06,298.82 643.34,298.82 640.70,303.38" fill="#e0559a" stroke="none" stroke-width="1" />
<text transform="translate(555.4,333.0) rotate(-24.0)" font-size="6.5" font-weight="normal" fill="#e0559a">S = 0.02294 C + 2.02774 R<tspan font-size="4" dy="-2.5">2</tspan><tspan dy="2.5"> = 0.98559</tspan></text>
<line x1="473.90" y1="372.73" x2="640.70" y2="317.72" stroke="#8dc74a" stroke-width="1.3" />
<polygon points="472.93,371.93 475.57,369.29 478.21,371.93 475.57,374.57" fill="#8dc74a" stroke="none" stroke-width="1" />
<polygon points="479.60,367.07 482.24,364.43 484.88,367.07 482.24,369.71" fill="#8dc74a" stroke="none" stroke-width="1" />
<polygon points="487.94,363.84 490.58,361.20 493.22,363.84 490.58,366.48" fill="#8dc74a" stroke="none" stroke-width="1" />
<polygon points="554.66,342.16 557.30,339.52 559.94,342.16 557.30,344.80" fill="#8dc74a" stroke="none" stroke-width="1" />
<polygon points="638.06,319.50 640.70,316.86 643.34,319.50 640.70,322.14" fill="#8dc74a" stroke="none" stroke-width="1" />
<text transform="translate(559.0,341.3) rotate(-18.3)" font-size="6.5" font-weight="normal" fill="#8dc74a">S = 0.017 C + 1.75077 R<tspan font-size="4" dy="-2.5">2</tspan><tspan dy="2.5"> = 0.98635</tspan></text>
<line x1="473.90" y1="371.39" x2="640.70" y2="334.37" stroke="#3ab89a" stroke-width="1.3" />
<rect x="473.53" y="369.89" width="4.08" height="4.08" fill="#3ab89a" stroke="none" stroke-width="1" />
<rect x="480.20" y="366.65" width="4.08" height="4.08" fill="#3ab89a" stroke="none" stroke-width="1" />
<rect x="488.54" y="364.06" width="4.08" height="4.08" fill="#3ab89a" stroke="none" stroke-width="1" />
<rect x="555.26" y="347.88" width="4.08" height="4.08" fill="#3ab89a" stroke="none" stroke-width="1" />
<rect x="638.66" y="334.29" width="4.08" height="4.08" fill="#3ab89a" stroke="none" stroke-width="1" />
<text transform="translate(561.7,350.6) rotate(-12.5)" font-size="6.5" font-weight="normal" fill="#3ab89a">S = 0.01144 C + 2.16535 R<tspan font-size="4" dy="-2.5">2</tspan><tspan dy="2.5"> = 0.95231</tspan></text>
<line x1="473.90" y1="374.55" x2="640.70" y2="364.75" stroke="#333333" stroke-width="1.3" />
<polygon points="477.49,372.52 477.49,377.80 472.93,375.16" fill="#333333" stroke="none" stroke-width="1" />
<polygon points="484.16,371.88 484.16,377.16 479.60,374.52" fill="#333333" stroke="none" stroke-width="1" />
<polygon points="492.50,370.91 492.50,376.19 487.94,373.55" fill="#333333" stroke="none" stroke-width="1" />
<polygon points="559.22,367.35 559.22,372.63 554.66,369.99" fill="#333333" stroke="none" stroke-width="1" />
<polygon points="642.62,362.82 642.62,368.10 638.06,365.46" fill="#333333" stroke="none" stroke-width="1" />
<text transform="translate(560.6,364.6) rotate(-3.4)" font-size="6.5" font-weight="bold" fill="#333333">S = 0.00303 C + 1.18662 R<tspan font-size="4" dy="-2.5">2</tspan><tspan dy="2.5"> = 0.9746</tspan></text>
<rect x="482.37" y="222.37" width="3.06" height="3.06" fill="#3ab89a" stroke="none" stroke-width="1" />
<text x="489.7" y="226.4" font-size="7" font-weight="normal" fill="#111" text-anchor="start" >rGO-SnO<tspan font-size="4.5" dy="1.5">2</tspan></text>
<circle cx="483.90" cy="233.50" r="1.71" fill="#9a98d8" stroke="none" stroke-width="1" />
<text x="489.7" y="236.0" font-size="7" font-weight="normal" fill="#111" text-anchor="start" >5% rGO-SnO<tspan font-size="4.5" dy="1.5">2</tspan><tspan dy="-1.5">-ZnO</tspan></text>
<polygon points="481.92,244.54 485.88,244.54 483.90,241.12" fill="#f08c34" stroke="none" stroke-width="1" />
<text x="489.7" y="245.6" font-size="7" font-weight="normal" fill="#111" text-anchor="start" >10% rGO-SnO<tspan font-size="4.5" dy="1.5">2</tspan><tspan dy="-1.5">-ZnO</tspan></text>
<polygon points="481.92,251.26 485.88,251.26 483.90,254.68" fill="#e0559a" stroke="none" stroke-width="1" />
<text x="489.7" y="255.2" font-size="7" font-weight="normal" fill="#111" text-anchor="start" >20% rGO-SnO<tspan font-size="4.5" dy="1.5">2</tspan><tspan dy="-1.5">-ZnO</tspan></text>
<polygon points="481.92,262.30 483.90,260.32 485.88,262.30 483.90,264.28" fill="#8dc74a" stroke="none" stroke-width="1" />
<text x="489.7" y="264.8" font-size="7" font-weight="normal" fill="#111" text-anchor="start" >30% rGO-SnO<tspan font-size="4.5" dy="1.5">2</tspan><tspan dy="-1.5">-ZnO</tspan></text>
<polygon points="485.34,269.92 485.34,273.88 481.92,271.90" fill="#333333" stroke="none" stroke-width="1" />
<text x="489.7" y="274.4" font-size="7" font-weight="normal" fill="#111" text-anchor="start" >rGO-ZnO</text>
<rect x="473.90" y="216.60" width="199.30" height="161.80" fill="none" stroke="#000" stroke-width="1.5" />
<text x="215.8" y="427.3" font-size="14" font-weight="bold" fill="#000" text-anchor="start" >j</text>
<line x1="241.30" y1="580.80" x2="243.50" y2="580.80" stroke="#222" stroke-width="1" />
<text x="238.8" y="583.9" font-size="8.7" font-weight="bold" fill="#111" text-anchor="end" >0</text>
<line x1="241.30" y1="561.27" x2="243.50" y2="561.27" stroke="#222" stroke-width="1" />
<text x="238.8" y="564.4" font-size="8.7" font-weight="bold" fill="#111" text-anchor="end" >5</text>
<line x1="241.30" y1="541.75" x2="243.50" y2="541.75" stroke="#222" stroke-width="1" />
<text x="238.8" y="544.9" font-size="8.7" font-weight="bold" fill="#111" text-anchor="end" >10</text>
<line x1="241.30" y1="522.22" x2="243.50" y2="522.22" stroke="#222" stroke-width="1" />
<text x="238.8" y="525.3" font-size="8.7" font-weight="bold" fill="#111" text-anchor="end" >15</text>
<line x1="241.30" y1="502.70" x2="243.50" y2="502.70" stroke="#222" stroke-width="1" />
<text x="238.8" y="505.8" font-size="8.7" font-weight="bold" fill="#111" text-anchor="end" >20</text>
<line x1="241.30" y1="483.17" x2="243.50" y2="483.17" stroke="#222" stroke-width="1" />
<text x="238.8" y="486.3" font-size="8.7" font-weight="bold" fill="#111" text-anchor="end" >25</text>
<line x1="241.30" y1="463.65" x2="243.50" y2="463.65" stroke="#222" stroke-width="1" />
<text x="238.8" y="466.8" font-size="8.7" font-weight="bold" fill="#111" text-anchor="end" >30</text>
<line x1="241.30" y1="444.12" x2="243.50" y2="444.12" stroke="#222" stroke-width="1" />
<text x="238.8" y="447.2" font-size="8.7" font-weight="bold" fill="#111" text-anchor="end" >35</text>
<line x1="241.30" y1="424.60" x2="243.50" y2="424.60" stroke="#222" stroke-width="1" />
<text x="238.8" y="427.7" font-size="8.7" font-weight="bold" fill="#111" text-anchor="end" >40</text>
<line x1="242.20" y1="571.04" x2="243.50" y2="571.04" stroke="#222" stroke-width="0.8" />
<line x1="242.20" y1="551.51" x2="243.50" y2="551.51" stroke="#222" stroke-width="0.8" />
<line x1="242.20" y1="531.99" x2="243.50" y2="531.99" stroke="#222" stroke-width="0.8" />
<line x1="242.20" y1="512.46" x2="243.50" y2="512.46" stroke="#222" stroke-width="0.8" />
<line x1="242.20" y1="492.94" x2="243.50" y2="492.94" stroke="#222" stroke-width="0.8" />
<line x1="242.20" y1="473.41" x2="243.50" y2="473.41" stroke="#222" stroke-width="0.8" />
<line x1="242.20" y1="453.89" x2="243.50" y2="453.89" stroke="#222" stroke-width="0.8" />
<line x1="242.20" y1="434.36" x2="243.50" y2="434.36" stroke="#222" stroke-width="0.8" />
<line x1="267.54" y1="581.60" x2="267.54" y2="583.80" stroke="#222" stroke-width="1" />
<text x="267.5" y="594.4" font-size="8.7" font-weight="bold" fill="#111" text-anchor="middle" >200</text>
<line x1="315.38" y1="581.60" x2="315.38" y2="583.80" stroke="#222" stroke-width="1" />
<text x="315.4" y="594.4" font-size="8.7" font-weight="bold" fill="#111" text-anchor="middle" >400</text>
<line x1="363.22" y1="581.60" x2="363.22" y2="583.80" stroke="#222" stroke-width="1" />
<text x="363.2" y="594.4" font-size="8.7" font-weight="bold" fill="#111" text-anchor="middle" >600</text>
<line x1="411.06" y1="581.60" x2="411.06" y2="583.80" stroke="#222" stroke-width="1" />
<text x="411.1" y="594.4" font-size="8.7" font-weight="bold" fill="#111" text-anchor="middle" >800</text>
<line x1="243.62" y1="581.60" x2="243.62" y2="582.90" stroke="#222" stroke-width="0.8" />
<line x1="291.46" y1="581.60" x2="291.46" y2="582.90" stroke="#222" stroke-width="0.8" />
<line x1="339.30" y1="581.60" x2="339.30" y2="582.90" stroke="#222" stroke-width="0.8" />
<line x1="387.14" y1="581.60" x2="387.14" y2="582.90" stroke="#222" stroke-width="0.8" />
<line x1="434.98" y1="581.60" x2="434.98" y2="582.90" stroke="#222" stroke-width="0.8" />
<text x="340.5" y="606.2" font-size="9" font-weight="bold" fill="#111" text-anchor="middle" >Time/s</text>
<text transform="translate(223.6,502.7) rotate(-90)" font-size="9" font-weight="bold" fill="#111" text-anchor="middle">Response</text>
<polyline points="243.6,576.9 244.2,576.9 244.8,576.9 245.4,576.9 246.0,576.9 246.6,576.9 247.2,576.9 247.8,576.9 248.4,576.9 249.0,576.9 249.6,576.9 250.2,576.9 250.8,576.9 251.4,576.9 252.0,576.9 252.6,576.9 253.2,576.9 253.8,576.9 254.4,576.9 255.0,576.9 255.6,576.9 256.2,576.9 256.8,576.9 257.4,576.9 258.0,576.9 258.6,576.9 259.2,576.9 259.8,576.9 260.4,576.9 261.0,576.9 261.6,576.9 262.2,561.3 262.8,558.1 263.4,557.4 264.0,557.3 264.6,557.3 265.1,557.3 265.7,557.3 266.3,557.3 266.9,557.3 267.5,557.3 268.1,557.4 268.7,557.4 269.3,557.4 269.9,557.4 270.5,557.4 271.1,557.4 271.7,557.5 272.3,557.5 272.9,557.5 273.5,557.5 274.1,557.5 274.7,557.6 275.3,561.2 275.9,571.1 276.5,574.8 277.1,576.1 277.7,576.6 278.3,576.8 278.9,576.9 279.5,576.9 280.1,576.9 280.7,576.9 281.3,576.9 281.9,576.9 282.5,576.9 283.1,576.9 283.7,576.9 284.3,576.9 284.9,576.9 285.5,576.9 286.1,576.9 286.7,576.9 287.3,576.9 287.9,576.9 288.5,576.9 289.1,576.9 289.7,576.9 290.3,576.9 290.9,576.9 291.5,576.9 292.1,576.9 292.7,576.9 293.3,576.9 293.9,576.9 294.4,576.9 295.0,576.9 295.6,576.9 296.2,576.9 296.8,576.9 297.4,576.9 298.0,576.9 298.6,576.9 299.2,576.9 299.8,576.9 300.4,576.9 301.0,576.9 301.6,555.1 302.2,550.6 302.8,549.6 303.4,549.5 304.0,549.4 304.6,549.5 305.2,549.5 305.8,549.5 306.4,549.5 307.0,549.6 307.6,549.6 308.2,549.6 308.8,549.7 309.4,549.7 310.0,549.7 310.6,549.7 311.2,549.8 311.8,549.8 312.4,549.8 313.0,564.9 313.6,572.5 314.2,575.3 314.8,576.3 315.4,576.7 316.0,576.8 316.6,576.9 317.2,576.9 317.8,576.9 318.4,576.9 319.0,576.9 319.6,576.9 320.2,576.9 320.8,576.9 321.4,576.9 322.0,576.9 322.6,576.9 323.2,576.9 323.8,576.9 324.3,576.9 324.9,576.9 325.5,576.9 326.1,576.9 326.7,576.9 327.3,576.9 327.9,576.9 328.5,576.9 329.1,576.9 329.7,576.9 330.3,576.9 330.9,576.9 331.5,576.9 332.1,576.9 332.7,576.9 333.3,576.9 333.9,576.9 334.5,576.9 335.1,576.9 335.7,576.9 336.3,576.9 336.9,576.9 337.5,576.9 338.1,576.9 338.7,576.9 339.3,550.2 339.9,541.7 340.5,540.0 341.1,539.7 341.7,539.6 342.3,539.6 342.9,539.7 343.5,539.7 344.1,539.7 344.7,539.8 345.3,539.8 345.9,539.8 346.5,539.9 347.1,539.9 347.7,539.9 348.3,540.0 348.9,540.0 349.5,540.0 350.1,540.1 350.7,540.1 351.3,540.1 351.9,547.1 352.5,565.9 353.1,572.9 353.7,575.4 354.2,576.3 354.8,576.7 355.4,576.8 356.0,576.9 356.6,576.9 357.2,576.9 357.8,576.9 358.4,576.9 359.0,576.9 359.6,576.9 360.2,576.9 360.8,576.9 361.4,576.9 362.0,576.9 362.6,576.9 363.2,576.9 363.8,576.9 364.4,576.9 365.0,576.9 365.6,576.9 366.2,576.9 366.8,576.9 367.4,576.9 368.0,576.9 368.6,576.9 369.2,576.9 369.8,576.9 370.4,576.9 371.0,576.9 371.6,576.9 372.2,551.0 372.8,537.8 373.4,535.1 374.0,534.6 374.6,534.5 375.2,534.5 375.8,534.5 376.4,534.6 377.0,534.6 377.6,534.6 378.2,534.7 378.8,534.7 379.4,534.8 380.0,534.8 380.6,534.8 381.2,534.9 381.8,534.9 382.4,534.9 383.0,535.0 383.6,535.0 384.1,535.0 384.7,535.1 385.3,535.1 385.9,549.2 386.5,566.7 387.1,573.1 387.7,575.5 388.3,576.4 388.9,576.7 389.5,576.8 390.1,576.9 390.7,576.9 391.3,576.9 391.9,576.9 392.5,576.9 393.1,576.9 393.7,576.9 394.3,576.9 394.9,576.9 395.5,576.9 396.1,576.9 396.7,576.9 397.3,576.9 397.9,576.9 398.5,576.9 399.1,576.9 399.7,576.9 400.3,576.9 400.9,576.9 401.5,576.9 402.1,576.9 402.7,576.9 403.3,576.9 403.9,576.9 404.5,576.9 405.1,576.9 405.7,576.9 406.3,576.9 406.9,576.9 407.5,576.9 408.1,576.9 408.7,576.9 409.3,576.9 409.9,576.9 410.5,548.6 411.1,534.2 411.7,531.2 412.3,530.6 412.9,530.5 413.5,530.6 414.0,530.6 414.6,530.6 415.2,530.6 415.8,530.7 416.4,530.7 417.0,530.7 417.6,530.8 418.2,530.8 418.8,530.8 419.4,530.9 420.0,530.9 420.6,531.0 421.2,531.0 421.8,531.0 422.4,531.1 423.0,531.1 423.6,531.1 424.2,531.2 424.8,531.2 425.4,531.2 426.0,531.3 426.6,546.6 427.2,565.8 427.8,572.8 428.4,575.4 429.0,576.3 429.6,576.7 430.2,576.8 430.8,576.9 431.4,576.9 432.0,576.9 432.6,576.9 433.2,576.9 433.8,576.9 434.4,576.9 435.0,576.9 435.6,576.9 436.2,576.9 436.8,576.9 437.4,576.9 438.0,576.9 438.6,576.9 439.2,576.9 439.8,576.9 440.4,576.9 441.0,576.9" fill="none" stroke="#2fa27e" stroke-width="0.8" stroke-linejoin="round" />
<path d="M243.6 576.9h0M244.2 576.9h0M244.8 576.9h0M245.4 576.9h0M246.0 576.9h0M246.6 576.9h0M247.2 576.9h0M247.8 576.9h0M248.4 576.9h0M249.0 576.9h0M249.6 576.9h0M250.2 576.9h0M250.8 576.9h0M251.4 576.9h0M252.0 576.9h0M252.6 576.9h0M253.2 576.9h0M253.8 576.9h0M254.4 576.9h0M255.0 576.9h0M255.6 576.9h0M256.2 576.9h0M256.8 576.9h0M257.4 576.9h0M258.0 576.9h0M258.6 576.9h0M259.2 576.9h0M259.8 576.9h0M260.4 576.9h0M261.0 576.9h0M261.6 576.9h0M262.2 561.3h0M262.8 558.1h0M263.4 557.4h0M264.0 557.3h0M264.6 557.3h0M265.1 557.3h0M265.7 557.3h0M266.3 557.3h0M266.9 557.3h0M267.5 557.3h0M268.1 557.4h0M268.7 557.4h0M269.3 557.4h0M269.9 557.4h0M270.5 557.4h0M271.1 557.4h0M271.7 557.5h0M272.3 557.5h0M272.9 557.5h0M273.5 557.5h0M274.1 557.5h0M274.7 557.6h0M275.3 561.2h0M275.9 571.1h0M276.5 574.8h0M277.1 576.1h0M277.7 576.6h0M278.3 576.8h0M278.9 576.9h0M279.5 576.9h0M280.1 576.9h0M280.7 576.9h0M281.3 576.9h0M281.9 576.9h0M282.5 576.9h0M283.1 576.9h0M283.7 576.9h0M284.3 576.9h0M284.9 576.9h0M285.5 576.9h0M286.1 576.9h0M286.7 576.9h0M287.3 576.9h0M287.9 576.9h0M288.5 576.9h0M289.1 576.9h0M289.7 576.9h0M290.3 576.9h0M290.9 576.9h0M291.5 576.9h0M292.1 576.9h0M292.7 576.9h0M293.3 576.9h0M293.9 576.9h0M294.4 576.9h0M295.0 576.9h0M295.6 576.9h0M296.2 576.9h0M296.8 576.9h0M297.4 576.9h0M298.0 576.9h0M298.6 576.9h0M299.2 576.9h0M299.8 576.9h0M300.4 576.9h0M301.0 576.9h0M301.6 555.1h0M302.2 550.6h0M302.8 549.6h0M303.4 549.5h0M304.0 549.4h0M304.6 549.5h0M305.2 549.5h0M305.8 549.5h0M306.4 549.5h0M307.0 549.6h0M307.6 549.6h0M308.2 549.6h0M308.8 549.7h0M309.4 549.7h0M310.0 549.7h0M310.6 549.7h0M311.2 549.8h0M311.8 549.8h0M312.4 549.8h0M313.0 564.9h0M313.6 572.5h0M314.2 575.3h0M314.8 576.3h0M315.4 576.7h0M316.0 576.8h0M316.6 576.9h0M317.2 576.9h0M317.8 576.9h0M318.4 576.9h0M319.0 576.9h0M319.6 576.9h0M320.2 576.9h0M320.8 576.9h0M321.4 576.9h0M322.0 576.9h0M322.6 576.9h0M323.2 576.9h0M323.8 576.9h0M324.3 576.9h0M324.9 576.9h0M325.5 576.9h0M326.1 576.9h0M326.7 576.9h0M327.3 576.9h0M327.9 576.9h0M328.5 576.9h0M329.1 576.9h0M329.7 576.9h0M330.3 576.9h0M330.9 576.9h0M331.5 576.9h0M332.1 576.9h0M332.7 576.9h0M333.3 576.9h0M333.9 576.9h0M334.5 576.9h0M335.1 576.9h0M335.7 576.9h0M336.3 576.9h0M336.9 576.9h0M337.5 576.9h0M338.1 576.9h0M338.7 576.9h0M339.3 550.2h0M339.9 541.7h0M340.5 540.0h0M341.1 539.7h0M341.7 539.6h0M342.3 539.6h0M342.9 539.7h0M343.5 539.7h0M344.1 539.7h0M344.7 539.8h0M345.3 539.8h0M345.9 539.8h0M346.5 539.9h0M347.1 539.9h0M347.7 539.9h0M348.3 540.0h0M348.9 540.0h0M349.5 540.0h0M350.1 540.1h0M350.7 540.1h0M351.3 540.1h0M351.9 547.1h0M352.5 565.9h0M353.1 572.9h0M353.7 575.4h0M354.2 576.3h0M354.8 576.7h0M355.4 576.8h0M356.0 576.9h0M356.6 576.9h0M357.2 576.9h0M357.8 576.9h0M358.4 576.9h0M359.0 576.9h0M359.6 576.9h0M360.2 576.9h0M360.8 576.9h0M361.4 576.9h0M362.0 576.9h0M362.6 576.9h0M363.2 576.9h0M363.8 576.9h0M364.4 576.9h0M365.0 576.9h0M365.6 576.9h0M366.2 576.9h0M366.8 576.9h0M367.4 576.9h0M368.0 576.9h0M368.6 576.9h0M369.2 576.9h0M369.8 576.9h0M370.4 576.9h0M371.0 576.9h0M371.6 576.9h0M372.2 551.0h0M372.8 537.8h0M373.4 535.1h0M374.0 534.6h0M374.6 534.5h0M375.2 534.5h0M375.8 534.5h0M376.4 534.6h0M377.0 534.6h0M377.6 534.6h0M378.2 534.7h0M378.8 534.7h0M379.4 534.8h0M380.0 534.8h0M380.6 534.8h0M381.2 534.9h0M381.8 534.9h0M382.4 534.9h0M383.0 535.0h0M383.6 535.0h0M384.1 535.0h0M384.7 535.1h0M385.3 535.1h0M385.9 549.2h0M386.5 566.7h0M387.1 573.1h0M387.7 575.5h0M388.3 576.4h0M388.9 576.7h0M389.5 576.8h0M390.1 576.9h0M390.7 576.9h0M391.3 576.9h0M391.9 576.9h0M392.5 576.9h0M393.1 576.9h0M393.7 576.9h0M394.3 576.9h0M394.9 576.9h0M395.5 576.9h0M396.1 576.9h0M396.7 576.9h0M397.3 576.9h0M397.9 576.9h0M398.5 576.9h0M399.1 576.9h0M399.7 576.9h0M400.3 576.9h0M400.9 576.9h0M401.5 576.9h0M402.1 576.9h0M402.7 576.9h0M403.3 576.9h0M403.9 576.9h0M404.5 576.9h0M405.1 576.9h0M405.7 576.9h0M406.3 576.9h0M406.9 576.9h0M407.5 576.9h0M408.1 576.9h0M408.7 576.9h0M409.3 576.9h0M409.9 576.9h0M410.5 548.6h0M411.1 534.2h0M411.7 531.2h0M412.3 530.6h0M412.9 530.5h0M413.5 530.6h0M414.0 530.6h0M414.6 530.6h0M415.2 530.6h0M415.8 530.7h0M416.4 530.7h0M417.0 530.7h0M417.6 530.8h0M418.2 530.8h0M418.8 530.8h0M419.4 530.9h0M420.0 530.9h0M420.6 531.0h0M421.2 531.0h0M421.8 531.0h0M422.4 531.1h0M423.0 531.1h0M423.6 531.1h0M424.2 531.2h0M424.8 531.2h0M425.4 531.2h0M426.0 531.3h0M426.6 546.6h0M427.2 565.8h0M427.8 572.8h0M428.4 575.4h0M429.0 576.3h0M429.6 576.7h0M430.2 576.8h0M430.8 576.9h0M431.4 576.9h0M432.0 576.9h0M432.6 576.9h0M433.2 576.9h0M433.8 576.9h0M434.4 576.9h0M435.0 576.9h0M435.6 576.9h0M436.2 576.9h0M436.8 576.9h0M437.4 576.9h0M438.0 576.9h0M438.6 576.9h0M439.2 576.9h0M439.8 576.9h0M440.4 576.9h0M441.0 576.9h0" stroke="#2fa27e" stroke-width="2.40" stroke-linecap="round" fill="none" />
<polyline points="243.6,576.9 244.2,576.9 244.8,576.9 245.4,576.9 246.0,576.9 246.6,576.9 247.2,576.9 247.8,576.9 248.4,576.9 249.0,576.9 249.6,576.9 250.2,576.9 250.8,576.9 251.4,576.9 252.0,576.9 252.6,576.9 253.2,576.9 253.8,576.9 254.4,576.9 255.0,576.9 255.6,576.9 256.2,576.9 256.8,576.9 257.4,576.9 258.0,576.9 258.6,576.9 259.2,576.9 259.8,576.9 260.4,576.9 261.0,576.9 261.6,576.9 262.2,570.4 262.8,569.0 263.4,568.7 264.0,568.7 264.6,568.7 265.1,568.7 265.7,568.7 266.3,568.7 266.9,568.7 267.5,568.7 268.1,568.7 268.7,568.7 269.3,568.7 269.9,568.7 270.5,568.7 271.1,568.7 271.7,568.7 272.3,568.7 272.9,568.7 273.5,568.8 274.1,568.8 274.7,568.8 275.3,570.3 275.9,574.5 276.5,576.0 277.1,576.6 277.7,576.8 278.3,576.9 278.9,576.9 279.5,576.9 280.1,576.9 280.7,576.9 281.3,576.9 281.9,576.9 282.5,576.9 283.1,576.9 283.7,576.9 284.3,576.9 284.9,576.9 285.5,576.9 286.1,576.9 286.7,576.9 287.3,576.9 287.9,576.9 288.5,576.9 289.1,576.9 289.7,576.9 290.3,576.9 290.9,576.9 291.5,576.9 292.1,576.9 292.7,576.9 293.3,576.9 293.9,576.9 294.4,576.9 295.0,576.9 295.6,576.9 296.2,576.9 296.8,576.9 297.4,576.9 298.0,576.9 298.6,576.9 299.2,576.9 299.8,576.9 300.4,576.9 301.0,576.9 301.6,562.9 302.2,560.0 302.8,559.4 303.4,559.3 304.0,559.2 304.6,559.3 305.2,559.3 305.8,559.3 306.4,559.3 307.0,559.3 307.6,559.3 308.2,559.4 308.8,559.4 309.4,559.4 310.0,559.4 310.6,559.4 311.2,559.5 311.8,559.5 312.4,559.5 313.0,569.2 313.6,574.0 314.2,575.8 314.8,576.5 315.4,576.8 316.0,576.8 316.6,576.9 317.2,576.9 317.8,576.9 318.4,576.9 319.0,576.9 319.6,576.9 320.2,576.9 320.8,576.9 321.4,576.9 322.0,576.9 322.6,576.9 323.2,576.9 323.8,576.9 324.3,576.9 324.9,576.9 325.5,576.9 326.1,576.9 326.7,576.9 327.3,576.9 327.9,576.9 328.5,576.9 329.1,576.9 329.7,576.9 330.3,576.9 330.9,576.9 331.5,576.9 332.1,576.9 332.7,576.9 333.3,576.9 333.9,576.9 334.5,576.9 335.1,576.9 335.7,576.9 336.3,576.9 336.9,576.9 337.5,576.9 338.1,576.9 338.7,576.9 339.3,557.2 339.9,551.0 340.5,549.7 341.1,549.5 341.7,549.4 342.3,549.4 342.9,549.5 343.5,549.5 344.1,549.5 344.7,549.5 345.3,549.6 345.9,549.6 346.5,549.6 347.1,549.6 347.7,549.7 348.3,549.7 348.9,549.7 349.5,549.7 350.1,549.8 350.7,549.8 351.3,549.8 351.9,555.0 352.5,568.8 353.1,573.9 353.7,575.8 354.2,576.5 354.8,576.7 355.4,576.8 356.0,576.9 356.6,576.9 357.2,576.9 357.8,576.9 358.4,576.9 359.0,576.9 359.6,576.9 360.2,576.9 360.8,576.9 361.4,576.9 362.0,576.9 362.6,576.9 363.2,576.9 363.8,576.9 364.4,576.9 365.0,576.9 365.6,576.9 366.2,576.9 366.8,576.9 367.4,576.9 368.0,576.9 368.6,576.9 369.2,576.9 369.8,576.9 370.4,576.9 371.0,576.9 371.6,576.9 372.2,554.1 372.8,542.5 373.4,540.2 374.0,539.7 374.6,539.6 375.2,539.6 375.8,539.6 376.4,539.7 377.0,539.7 377.6,539.7 378.2,539.8 378.8,539.8 379.4,539.8 380.0,539.9 380.6,539.9 381.2,539.9 381.8,540.0 382.4,540.0 383.0,540.0 383.6,540.1 384.1,540.1 384.7,540.1 385.3,540.1 385.9,552.5 386.5,567.9 387.1,573.6 387.7,575.7 388.3,576.4 388.9,576.7 389.5,576.8 390.1,576.9 390.7,576.9 391.3,576.9 391.9,576.9 392.5,576.9 393.1,576.9 393.7,576.9 394.3,576.9 394.9,576.9 395.5,576.9 396.1,576.9 396.7,576.9 397.3,576.9 397.9,576.9 398.5,576.9 399.1,576.9 399.7,576.9 400.3,576.9 400.9,576.9 401.5,576.9 402.1,576.9 402.7,576.9 403.3,576.9 403.9,576.9 404.5,576.9 405.1,576.9 405.7,576.9 406.3,576.9 406.9,576.9 407.5,576.9 408.1,576.9 408.7,576.9 409.3,576.9 409.9,576.9 410.5,549.3 411.1,535.3 411.7,532.4 412.3,531.8 412.9,531.7 413.5,531.7 414.0,531.8 414.6,531.8 415.2,531.8 415.8,531.9 416.4,531.9 417.0,531.9 417.6,532.0 418.2,532.0 418.8,532.0 419.4,532.1 420.0,532.1 420.6,532.1 421.2,532.2 421.8,532.2 422.4,532.2 423.0,532.3 423.6,532.3 424.2,532.3 424.8,532.4 425.4,532.4 426.0,532.4 426.6,547.4 427.2,566.0 427.8,572.9 428.4,575.4 429.0,576.4 429.6,576.7 430.2,576.8 430.8,576.9 431.4,576.9 432.0,576.9 432.6,576.9 433.2,576.9 433.8,576.9 434.4,576.9 435.0,576.9 435.6,576.9 436.2,576.9 436.8,576.9 437.4,576.9 438.0,576.9 438.6,576.9 439.2,576.9 439.8,576.9 440.4,576.9 441.0,576.9" fill="none" stroke="#d2682a" stroke-width="0.8" stroke-linejoin="round" />
<path d="M243.6 576.9h0M244.2 576.9h0M244.8 576.9h0M245.4 576.9h0M246.0 576.9h0M246.6 576.9h0M247.2 576.9h0M247.8 576.9h0M248.4 576.9h0M249.0 576.9h0M249.6 576.9h0M250.2 576.9h0M250.8 576.9h0M251.4 576.9h0M252.0 576.9h0M252.6 576.9h0M253.2 576.9h0M253.8 576.9h0M254.4 576.9h0M255.0 576.9h0M255.6 576.9h0M256.2 576.9h0M256.8 576.9h0M257.4 576.9h0M258.0 576.9h0M258.6 576.9h0M259.2 576.9h0M259.8 576.9h0M260.4 576.9h0M261.0 576.9h0M261.6 576.9h0M262.2 570.4h0M262.8 569.0h0M263.4 568.7h0M264.0 568.7h0M264.6 568.7h0M265.1 568.7h0M265.7 568.7h0M266.3 568.7h0M266.9 568.7h0M267.5 568.7h0M268.1 568.7h0M268.7 568.7h0M269.3 568.7h0M269.9 568.7h0M270.5 568.7h0M271.1 568.7h0M271.7 568.7h0M272.3 568.7h0M272.9 568.7h0M273.5 568.8h0M274.1 568.8h0M274.7 568.8h0M275.3 570.3h0M275.9 574.5h0M276.5 576.0h0M277.1 576.6h0M277.7 576.8h0M278.3 576.9h0M278.9 576.9h0M279.5 576.9h0M280.1 576.9h0M280.7 576.9h0M281.3 576.9h0M281.9 576.9h0M282.5 576.9h0M283.1 576.9h0M283.7 576.9h0M284.3 576.9h0M284.9 576.9h0M285.5 576.9h0M286.1 576.9h0M286.7 576.9h0M287.3 576.9h0M287.9 576.9h0M288.5 576.9h0M289.1 576.9h0M289.7 576.9h0M290.3 576.9h0M290.9 576.9h0M291.5 576.9h0M292.1 576.9h0M292.7 576.9h0M293.3 576.9h0M293.9 576.9h0M294.4 576.9h0M295.0 576.9h0M295.6 576.9h0M296.2 576.9h0M296.8 576.9h0M297.4 576.9h0M298.0 576.9h0M298.6 576.9h0M299.2 576.9h0M299.8 576.9h0M300.4 576.9h0M301.0 576.9h0M301.6 562.9h0M302.2 560.0h0M302.8 559.4h0M303.4 559.3h0M304.0 559.2h0M304.6 559.3h0M305.2 559.3h0M305.8 559.3h0M306.4 559.3h0M307.0 559.3h0M307.6 559.3h0M308.2 559.4h0M308.8 559.4h0M309.4 559.4h0M310.0 559.4h0M310.6 559.4h0M311.2 559.5h0M311.8 559.5h0M312.4 559.5h0M313.0 569.2h0M313.6 574.0h0M314.2 575.8h0M314.8 576.5h0M315.4 576.8h0M316.0 576.8h0M316.6 576.9h0M317.2 576.9h0M317.8 576.9h0M318.4 576.9h0M319.0 576.9h0M319.6 576.9h0M320.2 576.9h0M320.8 576.9h0M321.4 576.9h0M322.0 576.9h0M322.6 576.9h0M323.2 576.9h0M323.8 576.9h0M324.3 576.9h0M324.9 576.9h0M325.5 576.9h0M326.1 576.9h0M326.7 576.9h0M327.3 576.9h0M327.9 576.9h0M328.5 576.9h0M329.1 576.9h0M329.7 576.9h0M330.3 576.9h0M330.9 576.9h0M331.5 576.9h0M332.1 576.9h0M332.7 576.9h0M333.3 576.9h0M333.9 576.9h0M334.5 576.9h0M335.1 576.9h0M335.7 576.9h0M336.3 576.9h0M336.9 576.9h0M337.5 576.9h0M338.1 576.9h0M338.7 576.9h0M339.3 557.2h0M339.9 551.0h0M340.5 549.7h0M341.1 549.5h0M341.7 549.4h0M342.3 549.4h0M342.9 549.5h0M343.5 549.5h0M344.1 549.5h0M344.7 549.5h0M345.3 549.6h0M345.9 549.6h0M346.5 549.6h0M347.1 549.6h0M347.7 549.7h0M348.3 549.7h0M348.9 549.7h0M349.5 549.7h0M350.1 549.8h0M350.7 549.8h0M351.3 549.8h0M351.9 555.0h0M352.5 568.8h0M353.1 573.9h0M353.7 575.8h0M354.2 576.5h0M354.8 576.7h0M355.4 576.8h0M356.0 576.9h0M356.6 576.9h0M357.2 576.9h0M357.8 576.9h0M358.4 576.9h0M359.0 576.9h0M359.6 576.9h0M360.2 576.9h0M360.8 576.9h0M361.4 576.9h0M362.0 576.9h0M362.6 576.9h0M363.2 576.9h0M363.8 576.9h0M364.4 576.9h0M365.0 576.9h0M365.6 576.9h0M366.2 576.9h0M366.8 576.9h0M367.4 576.9h0M368.0 576.9h0M368.6 576.9h0M369.2 576.9h0M369.8 576.9h0M370.4 576.9h0M371.0 576.9h0M371.6 576.9h0M372.2 554.1h0M372.8 542.5h0M373.4 540.2h0M374.0 539.7h0M374.6 539.6h0M375.2 539.6h0M375.8 539.6h0M376.4 539.7h0M377.0 539.7h0M377.6 539.7h0M378.2 539.8h0M378.8 539.8h0M379.4 539.8h0M380.0 539.9h0M380.6 539.9h0M381.2 539.9h0M381.8 540.0h0M382.4 540.0h0M383.0 540.0h0M383.6 540.1h0M384.1 540.1h0M384.7 540.1h0M385.3 540.1h0M385.9 552.5h0M386.5 567.9h0M387.1 573.6h0M387.7 575.7h0M388.3 576.4h0M388.9 576.7h0M389.5 576.8h0M390.1 576.9h0M390.7 576.9h0M391.3 576.9h0M391.9 576.9h0M392.5 576.9h0M393.1 576.9h0M393.7 576.9h0M394.3 576.9h0M394.9 576.9h0M395.5 576.9h0M396.1 576.9h0M396.7 576.9h0M397.3 576.9h0M397.9 576.9h0M398.5 576.9h0M399.1 576.9h0M399.7 576.9h0M400.3 576.9h0M400.9 576.9h0M401.5 576.9h0M402.1 576.9h0M402.7 576.9h0M403.3 576.9h0M403.9 576.9h0M404.5 576.9h0M405.1 576.9h0M405.7 576.9h0M406.3 576.9h0M406.9 576.9h0M407.5 576.9h0M408.1 576.9h0M408.7 576.9h0M409.3 576.9h0M409.9 576.9h0M410.5 549.3h0M411.1 535.3h0M411.7 532.4h0M412.3 531.8h0M412.9 531.7h0M413.5 531.7h0M414.0 531.8h0M414.6 531.8h0M415.2 531.8h0M415.8 531.9h0M416.4 531.9h0M417.0 531.9h0M417.6 532.0h0M418.2 532.0h0M418.8 532.0h0M419.4 532.1h0M420.0 532.1h0M420.6 532.1h0M421.2 532.2h0M421.8 532.2h0M422.4 532.2h0M423.0 532.3h0M423.6 532.3h0M424.2 532.3h0M424.8 532.4h0M425.4 532.4h0M426.0 532.4h0M426.6 547.4h0M427.2 566.0h0M427.8 572.9h0M428.4 575.4h0M429.0 576.4h0M429.6 576.7h0M430.2 576.8h0M430.8 576.9h0M431.4 576.9h0M432.0 576.9h0M432.6 576.9h0M433.2 576.9h0M433.8 576.9h0M434.4 576.9h0M435.0 576.9h0M435.6 576.9h0M436.2 576.9h0M436.8 576.9h0M437.4 576.9h0M438.0 576.9h0M438.6 576.9h0M439.2 576.9h0M439.8 576.9h0M440.4 576.9h0M441.0 576.9h0" stroke="#d2682a" stroke-width="2.40" stroke-linecap="round" fill="none" />
<polyline points="243.6,576.9 244.2,576.9 244.8,576.9 245.4,576.9 246.0,576.9 246.6,576.9 247.2,576.9 247.8,576.9 248.4,576.9 249.0,576.9 249.6,576.9 250.2,576.9 250.8,576.9 251.4,576.9 252.0,576.9 252.6,576.9 253.2,576.9 253.8,576.9 254.4,576.9 255.0,576.9 255.6,576.9 256.2,576.9 256.8,576.9 257.4,576.9 258.0,576.9 258.6,576.9 259.2,576.9 259.8,576.9 260.4,576.9 261.0,576.9 261.6,576.9 262.2,571.9 262.8,570.9 263.4,570.7 264.0,570.6 264.6,570.6 265.1,570.6 265.7,570.6 266.3,570.6 266.9,570.6 267.5,570.6 268.1,570.6 268.7,570.7 269.3,570.7 269.9,570.7 270.5,570.7 271.1,570.7 271.7,570.7 272.3,570.7 272.9,570.7 273.5,570.7 274.1,570.7 274.7,570.7 275.3,571.4 275.9,573.5 276.5,574.6 277.1,575.2 277.7,575.6 278.3,575.8 278.9,576.0 279.5,576.1 280.1,576.3 280.7,576.4 281.3,576.4 281.9,576.5 282.5,576.6 283.1,576.6 283.7,576.7 284.3,576.7 284.9,576.7 285.5,576.8 286.1,576.8 286.7,576.8 287.3,576.8 287.9,576.8 288.5,576.8 289.1,576.8 289.7,576.9 290.3,576.9 290.9,576.9 291.5,576.9 292.1,576.9 292.7,576.9 293.3,576.9 293.9,576.9 294.4,576.9 295.0,576.9 295.6,576.9 296.2,576.9 296.8,576.9 297.4,576.9 298.0,576.9 298.6,576.9 299.2,576.9 299.8,576.9 300.4,576.9 301.0,576.9 301.6,569.4 302.2,567.9 302.8,567.5 303.4,567.5 304.0,567.5 304.6,567.5 305.2,567.5 305.8,567.5 306.4,567.5 307.0,567.5 307.6,567.5 308.2,567.5 308.8,567.6 309.4,567.6 310.0,567.6 310.6,567.6 311.2,567.6 311.8,567.6 312.4,567.6 313.0,570.9 313.6,572.9 314.2,574.1 314.8,574.7 315.4,575.1 316.0,575.5 316.6,575.7 317.2,575.9 317.8,576.0 318.4,576.2 319.0,576.3 319.6,576.4 320.2,576.5 320.8,576.5 321.4,576.6 322.0,576.6 322.6,576.7 323.2,576.7 323.8,576.7 324.3,576.8 324.9,576.8 325.5,576.8 326.1,576.8 326.7,576.8 327.3,576.9 327.9,576.9 328.5,576.9 329.1,576.9 329.7,576.9 330.3,576.9 330.9,576.9 331.5,576.9 332.1,576.9 332.7,576.9 333.3,576.9 333.9,576.9 334.5,576.9 335.1,576.9 335.7,576.9 336.3,576.9 336.9,576.9 337.5,576.9 338.1,576.9 338.7,576.9 339.3,567.9 339.9,565.1 340.5,564.5 341.1,564.4 341.7,564.3 342.3,564.3 342.9,564.4 343.5,564.4 344.1,564.4 344.7,564.4 345.3,564.4 345.9,564.4 346.5,564.4 347.1,564.4 347.7,564.4 348.3,564.5 348.9,564.5 349.5,564.5 350.1,564.5 350.7,564.5 351.3,564.5 351.9,565.9 352.5,570.2 353.1,572.3 353.7,573.5 354.2,574.2 354.8,574.7 355.4,575.1 356.0,575.4 356.6,575.6 357.2,575.8 357.8,576.0 358.4,576.1 359.0,576.3 359.6,576.4 360.2,576.4 360.8,576.5 361.4,576.6 362.0,576.6 362.6,576.7 363.2,576.7 363.8,576.7 364.4,576.8 365.0,576.8 365.6,576.8 366.2,576.9 366.8,576.9 367.4,576.9 368.0,576.9 368.6,576.9 369.2,576.9 369.8,576.9 370.4,576.9 371.0,576.9 371.6,576.9 372.2,567.8 372.8,563.2 373.4,562.2 374.0,562.0 374.6,562.0 375.2,562.0 375.8,562.0 376.4,562.0 377.0,562.0 377.6,562.0 378.2,562.0 378.8,562.1 379.4,562.1 380.0,562.1 380.6,562.1 381.2,562.1 381.8,562.1 382.4,562.1 383.0,562.1 383.6,562.2 384.1,562.2 384.7,562.2 385.3,562.2 385.9,565.2 386.5,569.6 387.1,571.8 387.7,573.1 388.3,573.9 388.9,574.4 389.5,574.9 390.1,575.2 390.7,575.5 391.3,575.7 391.9,575.9 392.5,576.0 393.1,576.2 393.7,576.3 394.3,576.4 394.9,576.4 395.5,576.5 396.1,576.6 396.7,576.6 397.3,576.7 397.9,576.7 398.5,576.7 399.1,576.8 399.7,576.8 400.3,576.9 400.9,576.9 401.5,576.9 402.1,576.9 402.7,576.9 403.3,576.9 403.9,576.9 404.5,576.9 405.1,576.9 405.7,576.9 406.3,576.9 406.9,576.9 407.5,576.9 408.1,576.9 408.7,576.9 409.3,576.9 409.9,576.9 410.5,566.8 411.1,561.7 411.7,560.6 412.3,560.4 412.9,560.4 413.5,560.4 414.0,560.4 414.6,560.4 415.2,560.4 415.8,560.4 416.4,560.5 417.0,560.5 417.6,560.5 418.2,560.5 418.8,560.5 419.4,560.5 420.0,560.5 420.6,560.5 421.2,560.6 421.8,560.6 422.4,560.6 423.0,560.6 423.6,560.6 424.2,560.6 424.8,560.6 425.4,560.6 426.0,560.7 426.6,564.0 427.2,568.8 427.8,571.3 428.4,572.7 429.0,573.6 429.6,574.2 430.2,574.6 430.8,575.0 431.4,575.3 432.0,575.5 432.6,575.8 433.2,575.9 433.8,576.1 434.4,576.2 435.0,576.3 435.6,576.4 436.2,576.5 436.8,576.5 437.4,576.6 438.0,576.6 438.6,576.7 439.2,576.7 439.8,576.7 440.4,576.8 441.0,576.9" fill="none" stroke="#7b78b8" stroke-width="0.8" stroke-linejoin="round" />
<path d="M243.6 576.9h0M244.2 576.9h0M244.8 576.9h0M245.4 576.9h0M246.0 576.9h0M246.6 576.9h0M247.2 576.9h0M247.8 576.9h0M248.4 576.9h0M249.0 576.9h0M249.6 576.9h0M250.2 576.9h0M250.8 576.9h0M251.4 576.9h0M252.0 576.9h0M252.6 576.9h0M253.2 576.9h0M253.8 576.9h0M254.4 576.9h0M255.0 576.9h0M255.6 576.9h0M256.2 576.9h0M256.8 576.9h0M257.4 576.9h0M258.0 576.9h0M258.6 576.9h0M259.2 576.9h0M259.8 576.9h0M260.4 576.9h0M261.0 576.9h0M261.6 576.9h0M262.2 571.9h0M262.8 570.9h0M263.4 570.7h0M264.0 570.6h0M264.6 570.6h0M265.1 570.6h0M265.7 570.6h0M266.3 570.6h0M266.9 570.6h0M267.5 570.6h0M268.1 570.6h0M268.7 570.7h0M269.3 570.7h0M269.9 570.7h0M270.5 570.7h0M271.1 570.7h0M271.7 570.7h0M272.3 570.7h0M272.9 570.7h0M273.5 570.7h0M274.1 570.7h0M274.7 570.7h0M275.3 571.4h0M275.9 573.5h0M276.5 574.6h0M277.1 575.2h0M277.7 575.6h0M278.3 575.8h0M278.9 576.0h0M279.5 576.1h0M280.1 576.3h0M280.7 576.4h0M281.3 576.4h0M281.9 576.5h0M282.5 576.6h0M283.1 576.6h0M283.7 576.7h0M284.3 576.7h0M284.9 576.7h0M285.5 576.8h0M286.1 576.8h0M286.7 576.8h0M287.3 576.8h0M287.9 576.8h0M288.5 576.8h0M289.1 576.8h0M289.7 576.9h0M290.3 576.9h0M290.9 576.9h0M291.5 576.9h0M292.1 576.9h0M292.7 576.9h0M293.3 576.9h0M293.9 576.9h0M294.4 576.9h0M295.0 576.9h0M295.6 576.9h0M296.2 576.9h0M296.8 576.9h0M297.4 576.9h0M298.0 576.9h0M298.6 576.9h0M299.2 576.9h0M299.8 576.9h0M300.4 576.9h0M301.0 576.9h0M301.6 569.4h0M302.2 567.9h0M302.8 567.5h0M303.4 567.5h0M304.0 567.5h0M304.6 567.5h0M305.2 567.5h0M305.8 567.5h0M306.4 567.5h0M307.0 567.5h0M307.6 567.5h0M308.2 567.5h0M308.8 567.6h0M309.4 567.6h0M310.0 567.6h0M310.6 567.6h0M311.2 567.6h0M311.8 567.6h0M312.4 567.6h0M313.0 570.9h0M313.6 572.9h0M314.2 574.1h0M314.8 574.7h0M315.4 575.1h0M316.0 575.5h0M316.6 575.7h0M317.2 575.9h0M317.8 576.0h0M318.4 576.2h0M319.0 576.3h0M319.6 576.4h0M320.2 576.5h0M320.8 576.5h0M321.4 576.6h0M322.0 576.6h0M322.6 576.7h0M323.2 576.7h0M323.8 576.7h0M324.3 576.8h0M324.9 576.8h0M325.5 576.8h0M326.1 576.8h0M326.7 576.8h0M327.3 576.9h0M327.9 576.9h0M328.5 576.9h0M329.1 576.9h0M329.7 576.9h0M330.3 576.9h0M330.9 576.9h0M331.5 576.9h0M332.1 576.9h0M332.7 576.9h0M333.3 576.9h0M333.9 576.9h0M334.5 576.9h0M335.1 576.9h0M335.7 576.9h0M336.3 576.9h0M336.9 576.9h0M337.5 576.9h0M338.1 576.9h0M338.7 576.9h0M339.3 567.9h0M339.9 565.1h0M340.5 564.5h0M341.1 564.4h0M341.7 564.3h0M342.3 564.3h0M342.9 564.4h0M343.5 564.4h0M344.1 564.4h0M344.7 564.4h0M345.3 564.4h0M345.9 564.4h0M346.5 564.4h0M347.1 564.4h0M347.7 564.4h0M348.3 564.5h0M348.9 564.5h0M349.5 564.5h0M350.1 564.5h0M350.7 564.5h0M351.3 564.5h0M351.9 565.9h0M352.5 570.2h0M353.1 572.3h0M353.7 573.5h0M354.2 574.2h0M354.8 574.7h0M355.4 575.1h0M356.0 575.4h0M356.6 575.6h0M357.2 575.8h0M357.8 576.0h0M358.4 576.1h0M359.0 576.3h0M359.6 576.4h0M360.2 576.4h0M360.8 576.5h0M361.4 576.6h0M362.0 576.6h0M362.6 576.7h0M363.2 576.7h0M363.8 576.7h0M364.4 576.8h0M365.0 576.8h0M365.6 576.8h0M366.2 576.9h0M366.8 576.9h0M367.4 576.9h0M368.0 576.9h0M368.6 576.9h0M369.2 576.9h0M369.8 576.9h0M370.4 576.9h0M371.0 576.9h0M371.6 576.9h0M372.2 567.8h0M372.8 563.2h0M373.4 562.2h0M374.0 562.0h0M374.6 562.0h0M375.2 562.0h0M375.8 562.0h0M376.4 562.0h0M377.0 562.0h0M377.6 562.0h0M378.2 562.0h0M378.8 562.1h0M379.4 562.1h0M380.0 562.1h0M380.6 562.1h0M381.2 562.1h0M381.8 562.1h0M382.4 562.1h0M383.0 562.1h0M383.6 562.2h0M384.1 562.2h0M384.7 562.2h0M385.3 562.2h0M385.9 565.2h0M386.5 569.6h0M387.1 571.8h0M387.7 573.1h0M388.3 573.9h0M388.9 574.4h0M389.5 574.9h0M390.1 575.2h0M390.7 575.5h0M391.3 575.7h0M391.9 575.9h0M392.5 576.0h0M393.1 576.2h0M393.7 576.3h0M394.3 576.4h0M394.9 576.4h0M395.5 576.5h0M396.1 576.6h0M396.7 576.6h0M397.3 576.7h0M397.9 576.7h0M398.5 576.7h0M399.1 576.8h0M399.7 576.8h0M400.3 576.9h0M400.9 576.9h0M401.5 576.9h0M402.1 576.9h0M402.7 576.9h0M403.3 576.9h0M403.9 576.9h0M404.5 576.9h0M405.1 576.9h0M405.7 576.9h0M406.3 576.9h0M406.9 576.9h0M407.5 576.9h0M408.1 576.9h0M408.7 576.9h0M409.3 576.9h0M409.9 576.9h0M410.5 566.8h0M411.1 561.7h0M411.7 560.6h0M412.3 560.4h0M412.9 560.4h0M413.5 560.4h0M414.0 560.4h0M414.6 560.4h0M415.2 560.4h0M415.8 560.4h0M416.4 560.5h0M417.0 560.5h0M417.6 560.5h0M418.2 560.5h0M418.8 560.5h0M419.4 560.5h0M420.0 560.5h0M420.6 560.5h0M421.2 560.6h0M421.8 560.6h0M422.4 560.6h0M423.0 560.6h0M423.6 560.6h0M424.2 560.6h0M424.8 560.6h0M425.4 560.6h0M426.0 560.7h0M426.6 564.0h0M427.2 568.8h0M427.8 571.3h0M428.4 572.7h0M429.0 573.6h0M429.6 574.2h0M430.2 574.6h0M430.8 575.0h0M431.4 575.3h0M432.0 575.5h0M432.6 575.8h0M433.2 575.9h0M433.8 576.1h0M434.4 576.2h0M435.0 576.3h0M435.6 576.4h0M436.2 576.5h0M436.8 576.5h0M437.4 576.6h0M438.0 576.6h0M438.6 576.7h0M439.2 576.7h0M439.8 576.7h0M440.4 576.8h0M441.0 576.9h0" stroke="#7b78b8" stroke-width="2.40" stroke-linecap="round" fill="none" />
<polyline points="243.6,576.9 244.2,576.9 244.8,576.9 245.4,576.9 246.0,576.9 246.6,576.9 247.2,576.9 247.8,576.9 248.4,576.9 249.0,576.9 249.6,576.9 250.2,576.9 250.8,576.9 251.4,576.9 252.0,576.9 252.6,576.9 253.2,576.9 253.8,576.9 254.4,576.9 255.0,576.9 255.6,576.9 256.2,576.9 256.8,576.9 257.4,576.9 258.0,576.9 258.6,576.9 259.2,576.9 259.8,576.9 260.4,576.9 261.0,576.9 261.6,576.9 262.2,550.7 262.8,545.3 263.4,544.2 264.0,543.9 264.6,543.9 265.1,543.9 265.7,544.0 266.3,544.0 266.9,544.0 267.5,544.1 268.1,544.1 268.7,544.1 269.3,544.1 269.9,544.2 270.5,544.2 271.1,544.2 271.7,544.3 272.3,544.3 272.9,544.3 273.5,544.3 274.1,544.4 274.7,544.4 275.3,550.6 275.9,567.2 276.5,573.3 277.1,575.6 277.7,576.4 278.3,576.7 278.9,576.8 279.5,576.9 280.1,576.9 280.7,576.9 281.3,576.9 281.9,576.9 282.5,576.9 283.1,576.9 283.7,576.9 284.3,576.9 284.9,576.9 285.5,576.9 286.1,576.9 286.7,576.9 287.3,576.9 287.9,576.9 288.5,576.9 289.1,576.9 289.7,576.9 290.3,576.9 290.9,576.9 291.5,576.9 292.1,576.9 292.7,576.9 293.3,576.9 293.9,576.9 294.4,576.9 295.0,576.9 295.6,576.9 296.2,576.9 296.8,576.9 297.4,576.9 298.0,576.9 298.6,576.9 299.2,576.9 299.8,576.9 300.4,576.9 301.0,576.9 301.6,529.2 302.2,519.3 302.8,517.3 303.4,516.9 304.0,516.9 304.6,516.9 305.2,517.0 305.8,517.0 306.4,517.1 307.0,517.2 307.6,517.2 308.2,517.3 308.8,517.4 309.4,517.4 310.0,517.5 310.6,517.5 311.2,517.6 311.8,517.7 312.4,517.7 313.0,550.6 313.6,567.2 314.2,573.3 314.8,575.6 315.4,576.4 316.0,576.7 316.6,576.8 317.2,576.9 317.8,576.9 318.4,576.9 319.0,576.9 319.6,576.9 320.2,576.9 320.8,576.9 321.4,576.9 322.0,576.9 322.6,576.9 323.2,576.9 323.8,576.9 324.3,576.9 324.9,576.9 325.5,576.9 326.1,576.9 326.7,576.9 327.3,576.9 327.9,576.9 328.5,576.9 329.1,576.9 329.7,576.9 330.3,576.9 330.9,576.9 331.5,576.9 332.1,576.9 332.7,576.9 333.3,576.9 333.9,576.9 334.5,576.9 335.1,576.9 335.7,576.9 336.3,576.9 336.9,576.9 337.5,576.9 338.1,576.9 338.7,576.9 339.3,514.7 339.9,495.1 340.5,491.0 341.1,490.3 341.7,490.2 342.3,490.2 342.9,490.3 343.5,490.4 344.1,490.4 344.7,490.5 345.3,490.6 345.9,490.7 346.5,490.8 347.1,490.8 347.7,490.9 348.3,491.0 348.9,491.1 349.5,491.2 350.1,491.2 350.7,491.3 351.3,491.4 351.9,507.7 352.5,551.4 353.1,567.5 353.7,573.4 354.2,575.6 354.8,576.4 355.4,576.7 356.0,576.8 356.6,576.9 357.2,576.9 357.8,576.9 358.4,576.9 359.0,576.9 359.6,576.9 360.2,576.9 360.8,576.9 361.4,576.9 362.0,576.9 362.6,576.9 363.2,576.9 363.8,576.9 364.4,576.9 365.0,576.9 365.6,576.9 366.2,576.9 366.8,576.9 367.4,576.9 368.0,576.9 368.6,576.9 369.2,576.9 369.8,576.9 370.4,576.9 371.0,576.9 371.6,576.9 372.2,508.3 372.8,473.5 373.4,466.3 374.0,464.8 374.6,464.6 375.2,464.7 375.8,464.7 376.4,464.8 377.0,464.9 377.6,465.0 378.2,465.1 378.8,465.2 379.4,465.3 380.0,465.4 380.6,465.5 381.2,465.6 381.8,465.7 382.4,465.8 383.0,465.9 383.6,466.0 384.1,466.1 384.7,466.2 385.3,466.3 385.9,503.5 386.5,549.9 387.1,567.0 387.7,573.2 388.3,575.6 388.9,576.4 389.5,576.7 390.1,576.8 390.7,576.9 391.3,576.9 391.9,576.9 392.5,576.9 393.1,576.9 393.7,576.9 394.3,576.9 394.9,576.9 395.5,576.9 396.1,576.9 396.7,576.9 397.3,576.9 397.9,576.9 398.5,576.9 399.1,576.9 399.7,576.9 400.3,576.9 400.9,576.9 401.5,576.9 402.1,576.9 402.7,576.9 403.3,576.9 403.9,576.9 404.5,576.9 405.1,576.9 405.7,576.9 406.3,576.9 406.9,576.9 407.5,512.8 408.1,454.4 408.7,442.3 409.3,439.8 409.9,439.4 410.5,439.3 411.1,439.4 411.7,439.5 412.3,439.6 412.9,439.7 413.5,439.7 414.0,439.8 414.6,439.9 415.2,440.0 415.8,440.1 416.4,440.2 417.0,440.3 417.6,440.3 418.2,440.4 418.8,440.5 419.4,440.6 420.0,440.7 420.6,440.8 421.2,440.9 421.8,440.9 422.4,441.0 423.0,441.1 423.6,441.2 424.2,441.3 424.8,441.4 425.4,441.5 426.0,441.5 426.6,487.1 427.2,543.9 427.8,564.7 428.4,572.4 429.0,575.3 429.6,576.3 430.2,576.7 430.8,576.8 431.4,576.9 432.0,576.9 432.6,576.9 433.2,576.9 433.8,576.9 434.4,576.9 435.0,576.9 435.6,576.9 436.2,576.9 436.8,576.9 437.4,576.9 438.0,576.9 438.6,576.9 439.2,576.9 439.8,576.9 440.4,576.9 441.0,576.9" fill="none" stroke="#e0409c" stroke-width="0.8" stroke-linejoin="round" />
<path d="M243.6 576.9h0M244.2 576.9h0M244.8 576.9h0M245.4 576.9h0M246.0 576.9h0M246.6 576.9h0M247.2 576.9h0M247.8 576.9h0M248.4 576.9h0M249.0 576.9h0M249.6 576.9h0M250.2 576.9h0M250.8 576.9h0M251.4 576.9h0M252.0 576.9h0M252.6 576.9h0M253.2 576.9h0M253.8 576.9h0M254.4 576.9h0M255.0 576.9h0M255.6 576.9h0M256.2 576.9h0M256.8 576.9h0M257.4 576.9h0M258.0 576.9h0M258.6 576.9h0M259.2 576.9h0M259.8 576.9h0M260.4 576.9h0M261.0 576.9h0M261.6 576.9h0M262.2 550.7h0M262.8 545.3h0M263.4 544.2h0M264.0 543.9h0M264.6 543.9h0M265.1 543.9h0M265.7 544.0h0M266.3 544.0h0M266.9 544.0h0M267.5 544.1h0M268.1 544.1h0M268.7 544.1h0M269.3 544.1h0M269.9 544.2h0M270.5 544.2h0M271.1 544.2h0M271.7 544.3h0M272.3 544.3h0M272.9 544.3h0M273.5 544.3h0M274.1 544.4h0M274.7 544.4h0M275.3 550.6h0M275.9 567.2h0M276.5 573.3h0M277.1 575.6h0M277.7 576.4h0M278.3 576.7h0M278.9 576.8h0M279.5 576.9h0M280.1 576.9h0M280.7 576.9h0M281.3 576.9h0M281.9 576.9h0M282.5 576.9h0M283.1 576.9h0M283.7 576.9h0M284.3 576.9h0M284.9 576.9h0M285.5 576.9h0M286.1 576.9h0M286.7 576.9h0M287.3 576.9h0M287.9 576.9h0M288.5 576.9h0M289.1 576.9h0M289.7 576.9h0M290.3 576.9h0M290.9 576.9h0M291.5 576.9h0M292.1 576.9h0M292.7 576.9h0M293.3 576.9h0M293.9 576.9h0M294.4 576.9h0M295.0 576.9h0M295.6 576.9h0M296.2 576.9h0M296.8 576.9h0M297.4 576.9h0M298.0 576.9h0M298.6 576.9h0M299.2 576.9h0M299.8 576.9h0M300.4 576.9h0M301.0 576.9h0M301.6 529.2h0M302.2 519.3h0M302.8 517.3h0M303.4 516.9h0M304.0 516.9h0M304.6 516.9h0M305.2 517.0h0M305.8 517.0h0M306.4 517.1h0M307.0 517.2h0M307.6 517.2h0M308.2 517.3h0M308.8 517.4h0M309.4 517.4h0M310.0 517.5h0M310.6 517.5h0M311.2 517.6h0M311.8 517.7h0M312.4 517.7h0M313.0 550.6h0M313.6 567.2h0M314.2 573.3h0M314.8 575.6h0M315.4 576.4h0M316.0 576.7h0M316.6 576.8h0M317.2 576.9h0M317.8 576.9h0M318.4 576.9h0M319.0 576.9h0M319.6 576.9h0M320.2 576.9h0M320.8 576.9h0M321.4 576.9h0M322.0 576.9h0M322.6 576.9h0M323.2 576.9h0M323.8 576.9h0M324.3 576.9h0M324.9 576.9h0M325.5 576.9h0M326.1 576.9h0M326.7 576.9h0M327.3 576.9h0M327.9 576.9h0M328.5 576.9h0M329.1 576.9h0M329.7 576.9h0M330.3 576.9h0M330.9 576.9h0M331.5 576.9h0M332.1 576.9h0M332.7 576.9h0M333.3 576.9h0M333.9 576.9h0M334.5 576.9h0M335.1 576.9h0M335.7 576.9h0M336.3 576.9h0M336.9 576.9h0M337.5 576.9h0M338.1 576.9h0M338.7 576.9h0M339.3 514.7h0M339.9 495.1h0M340.5 491.0h0M341.1 490.3h0M341.7 490.2h0M342.3 490.2h0M342.9 490.3h0M343.5 490.4h0M344.1 490.4h0M344.7 490.5h0M345.3 490.6h0M345.9 490.7h0M346.5 490.8h0M347.1 490.8h0M347.7 490.9h0M348.3 491.0h0M348.9 491.1h0M349.5 491.2h0M350.1 491.2h0M350.7 491.3h0M351.3 491.4h0M351.9 507.7h0M352.5 551.4h0M353.1 567.5h0M353.7 573.4h0M354.2 575.6h0M354.8 576.4h0M355.4 576.7h0M356.0 576.8h0M356.6 576.9h0M357.2 576.9h0M357.8 576.9h0M358.4 576.9h0M359.0 576.9h0M359.6 576.9h0M360.2 576.9h0M360.8 576.9h0M361.4 576.9h0M362.0 576.9h0M362.6 576.9h0M363.2 576.9h0M363.8 576.9h0M364.4 576.9h0M365.0 576.9h0M365.6 576.9h0M366.2 576.9h0M366.8 576.9h0M367.4 576.9h0M368.0 576.9h0M368.6 576.9h0M369.2 576.9h0M369.8 576.9h0M370.4 576.9h0M371.0 576.9h0M371.6 576.9h0M372.2 508.3h0M372.8 473.5h0M373.4 466.3h0M374.0 464.8h0M374.6 464.6h0M375.2 464.7h0M375.8 464.7h0M376.4 464.8h0M377.0 464.9h0M377.6 465.0h0M378.2 465.1h0M378.8 465.2h0M379.4 465.3h0M380.0 465.4h0M380.6 465.5h0M381.2 465.6h0M381.8 465.7h0M382.4 465.8h0M383.0 465.9h0M383.6 466.0h0M384.1 466.1h0M384.7 466.2h0M385.3 466.3h0M385.9 503.5h0M386.5 549.9h0M387.1 567.0h0M387.7 573.2h0M388.3 575.6h0M388.9 576.4h0M389.5 576.7h0M390.1 576.8h0M390.7 576.9h0M391.3 576.9h0M391.9 576.9h0M392.5 576.9h0M393.1 576.9h0M393.7 576.9h0M394.3 576.9h0M394.9 576.9h0M395.5 576.9h0M396.1 576.9h0M396.7 576.9h0M397.3 576.9h0M397.9 576.9h0M398.5 576.9h0M399.1 576.9h0M399.7 576.9h0M400.3 576.9h0M400.9 576.9h0M401.5 576.9h0M402.1 576.9h0M402.7 576.9h0M403.3 576.9h0M403.9 576.9h0M404.5 576.9h0M405.1 576.9h0M405.7 576.9h0M406.3 576.9h0M406.9 576.9h0M407.5 512.8h0M408.1 454.4h0M408.7 442.3h0M409.3 439.8h0M409.9 439.4h0M410.5 439.3h0M411.1 439.4h0M411.7 439.5h0M412.3 439.6h0M412.9 439.7h0M413.5 439.7h0M414.0 439.8h0M414.6 439.9h0M415.2 440.0h0M415.8 440.1h0M416.4 440.2h0M417.0 440.3h0M417.6 440.3h0M418.2 440.4h0M418.8 440.5h0M419.4 440.6h0M420.0 440.7h0M420.6 440.8h0M421.2 440.9h0M421.8 440.9h0M422.4 441.0h0M423.0 441.1h0M423.6 441.2h0M424.2 441.3h0M424.8 441.4h0M425.4 441.5h0M426.0 441.5h0M426.6 487.1h0M427.2 543.9h0M427.8 564.7h0M428.4 572.4h0M429.0 575.3h0M429.6 576.3h0M430.2 576.7h0M430.8 576.8h0M431.4 576.9h0M432.0 576.9h0M432.6 576.9h0M433.2 576.9h0M433.8 576.9h0M434.4 576.9h0M435.0 576.9h0M435.6 576.9h0M436.2 576.9h0M436.8 576.9h0M437.4 576.9h0M438.0 576.9h0M438.6 576.9h0M439.2 576.9h0M439.8 576.9h0M440.4 576.9h0M441.0 576.9h0" stroke="#e0409c" stroke-width="2.40" stroke-linecap="round" fill="none" />
<polyline points="243.6,576.9 244.2,576.9 244.8,576.9 245.4,576.9 246.0,576.9 246.6,576.9 247.2,576.9 247.8,576.9 248.4,576.9 249.0,576.9 249.6,576.9 250.2,576.9 250.8,576.9 251.4,576.9 252.0,576.9 252.6,576.9 253.2,576.9 253.8,576.9 254.4,576.9 255.0,576.9 255.6,576.9 256.2,576.9 256.8,576.9 257.4,576.9 258.0,576.9 258.6,576.9 259.2,576.9 259.8,576.9 260.4,576.9 261.0,576.9 261.6,576.9 262.2,574.1 262.8,573.5 263.4,573.4 264.0,573.4 264.6,573.4 265.1,573.4 265.7,573.4 266.3,573.4 266.9,573.4 267.5,573.4 268.1,573.4 268.7,573.4 269.3,573.4 269.9,573.4 270.5,573.4 271.1,573.4 271.7,573.4 272.3,573.4 272.9,573.4 273.5,573.4 274.1,573.4 274.7,573.4 275.3,573.8 275.9,575.0 276.5,575.6 277.1,575.9 277.7,576.1 278.3,576.3 278.9,576.4 279.5,576.5 280.1,576.5 280.7,576.6 281.3,576.6 281.9,576.7 282.5,576.7 283.1,576.7 283.7,576.8 284.3,576.8 284.9,576.8 285.5,576.8 286.1,576.8 286.7,576.8 287.3,576.8 287.9,576.9 288.5,576.9 289.1,576.9 289.7,576.9 290.3,576.9 290.9,576.9 291.5,576.9 292.1,576.9 292.7,576.9 293.3,576.9 293.9,576.9 294.4,576.9 295.0,576.9 295.6,576.9 296.2,576.9 296.8,576.9 297.4,576.9 298.0,576.9 298.6,576.9 299.2,576.9 299.8,576.9 300.4,576.9 301.0,576.9 301.6,571.9 302.2,570.9 302.8,570.7 303.4,570.6 304.0,570.6 304.6,570.6 305.2,570.6 305.8,570.6 306.4,570.6 307.0,570.6 307.6,570.7 308.2,570.7 308.8,570.7 309.4,570.7 310.0,570.7 310.6,570.7 311.2,570.7 311.8,570.7 312.4,570.7 313.0,572.9 313.6,574.3 314.2,575.0 314.8,575.4 315.4,575.7 316.0,575.9 316.6,576.1 317.2,576.2 317.8,576.3 318.4,576.4 319.0,576.5 319.6,576.6 320.2,576.6 320.8,576.6 321.4,576.7 322.0,576.7 322.6,576.7 323.2,576.8 323.8,576.8 324.3,576.8 324.9,576.8 325.5,576.8 326.1,576.8 326.7,576.8 327.3,576.9 327.9,576.9 328.5,576.9 329.1,576.9 329.7,576.9 330.3,576.9 330.9,576.9 331.5,576.9 332.1,576.9 332.7,576.9 333.3,576.9 333.9,576.9 334.5,576.9 335.1,576.9 335.7,576.9 336.3,576.9 336.9,576.9 337.5,576.9 338.1,576.9 338.7,576.9 339.3,571.3 339.9,569.5 340.5,569.1 341.1,569.1 341.7,569.0 342.3,569.0 342.9,569.1 343.5,569.1 344.1,569.1 344.7,569.1 345.3,569.1 345.9,569.1 346.5,569.1 347.1,569.1 347.7,569.1 348.3,569.1 348.9,569.1 349.5,569.1 350.1,569.1 350.7,569.2 351.3,569.2 351.9,570.0 352.5,572.7 353.1,574.0 353.7,574.8 354.2,575.2 354.8,575.5 355.4,575.8 356.0,576.0 356.6,576.1 357.2,576.2 357.8,576.3 358.4,576.4 359.0,576.5 359.6,576.6 360.2,576.6 360.8,576.7 361.4,576.7 362.0,576.7 362.6,576.7 363.2,576.8 363.8,576.8 364.4,576.8 365.0,576.8 365.6,576.8 366.2,576.9 366.8,576.9 367.4,576.9 368.0,576.9 368.6,576.9 369.2,576.9 369.8,576.9 370.4,576.9 371.0,576.9 371.6,576.9 372.2,570.7 372.8,567.5 373.4,566.8 374.0,566.7 374.6,566.7 375.2,566.7 375.8,566.7 376.4,566.7 377.0,566.7 377.6,566.7 378.2,566.7 378.8,566.7 379.4,566.8 380.0,566.8 380.6,566.8 381.2,566.8 381.8,566.8 382.4,566.8 383.0,566.8 383.6,566.8 384.1,566.8 384.7,566.8 385.3,566.8 385.9,568.9 386.5,571.9 387.1,573.4 387.7,574.3 388.3,574.8 388.9,575.2 389.5,575.5 390.1,575.7 390.7,575.9 391.3,576.1 391.9,576.2 392.5,576.3 393.1,576.4 393.7,576.5 394.3,576.5 394.9,576.6 395.5,576.6 396.1,576.7 396.7,576.7 397.3,576.7 397.9,576.8 398.5,576.8 399.1,576.8 399.7,576.8 400.3,576.9 400.9,576.9 401.5,576.9 402.1,576.9 402.7,576.9 403.3,576.9 403.9,576.9 404.5,576.9 405.1,576.9 405.7,576.9 406.3,576.9 406.9,576.9 407.5,576.9 408.1,576.9 408.7,576.9 409.3,576.9 409.9,576.9 410.5,569.7 411.1,566.0 411.7,565.3 412.3,565.1 412.9,565.1 413.5,565.1 414.0,565.1 414.6,565.1 415.2,565.1 415.8,565.1 416.4,565.2 417.0,565.2 417.6,565.2 418.2,565.2 418.8,565.2 419.4,565.2 420.0,565.2 420.6,565.2 421.2,565.2 421.8,565.2 422.4,565.2 423.0,565.2 423.6,565.3 424.2,565.3 424.8,565.3 425.4,565.3 426.0,565.3 426.6,567.7 427.2,571.1 427.8,572.9 428.4,573.9 429.0,574.5 429.6,575.0 430.2,575.3 430.8,575.5 431.4,575.8 432.0,575.9 432.6,576.1 433.2,576.2 433.8,576.3 434.4,576.4 435.0,576.5 435.6,576.5 436.2,576.6 436.8,576.6 437.4,576.7 438.0,576.7 438.6,576.7 439.2,576.8 439.8,576.8 440.4,576.8 441.0,576.9" fill="none" stroke="#56b048" stroke-width="0.8" stroke-linejoin="round" />
<path d="M243.6 576.9h0M244.2 576.9h0M244.8 576.9h0M245.4 576.9h0M246.0 576.9h0M246.6 576.9h0M247.2 576.9h0M247.8 576.9h0M248.4 576.9h0M249.0 576.9h0M249.6 576.9h0M250.2 576.9h0M250.8 576.9h0M251.4 576.9h0M252.0 576.9h0M252.6 576.9h0M253.2 576.9h0M253.8 576.9h0M254.4 576.9h0M255.0 576.9h0M255.6 576.9h0M256.2 576.9h0M256.8 576.9h0M257.4 576.9h0M258.0 576.9h0M258.6 576.9h0M259.2 576.9h0M259.8 576.9h0M260.4 576.9h0M261.0 576.9h0M261.6 576.9h0M262.2 574.1h0M262.8 573.5h0M263.4 573.4h0M264.0 573.4h0M264.6 573.4h0M265.1 573.4h0M265.7 573.4h0M266.3 573.4h0M266.9 573.4h0M267.5 573.4h0M268.1 573.4h0M268.7 573.4h0M269.3 573.4h0M269.9 573.4h0M270.5 573.4h0M271.1 573.4h0M271.7 573.4h0M272.3 573.4h0M272.9 573.4h0M273.5 573.4h0M274.1 573.4h0M274.7 573.4h0M275.3 573.8h0M275.9 575.0h0M276.5 575.6h0M277.1 575.9h0M277.7 576.1h0M278.3 576.3h0M278.9 576.4h0M279.5 576.5h0M280.1 576.5h0M280.7 576.6h0M281.3 576.6h0M281.9 576.7h0M282.5 576.7h0M283.1 576.7h0M283.7 576.8h0M284.3 576.8h0M284.9 576.8h0M285.5 576.8h0M286.1 576.8h0M286.7 576.8h0M287.3 576.8h0M287.9 576.9h0M288.5 576.9h0M289.1 576.9h0M289.7 576.9h0M290.3 576.9h0M290.9 576.9h0M291.5 576.9h0M292.1 576.9h0M292.7 576.9h0M293.3 576.9h0M293.9 576.9h0M294.4 576.9h0M295.0 576.9h0M295.6 576.9h0M296.2 576.9h0M296.8 576.9h0M297.4 576.9h0M298.0 576.9h0M298.6 576.9h0M299.2 576.9h0M299.8 576.9h0M300.4 576.9h0M301.0 576.9h0M301.6 571.9h0M302.2 570.9h0M302.8 570.7h0M303.4 570.6h0M304.0 570.6h0M304.6 570.6h0M305.2 570.6h0M305.8 570.6h0M306.4 570.6h0M307.0 570.6h0M307.6 570.7h0M308.2 570.7h0M308.8 570.7h0M309.4 570.7h0M310.0 570.7h0M310.6 570.7h0M311.2 570.7h0M311.8 570.7h0M312.4 570.7h0M313.0 572.9h0M313.6 574.3h0M314.2 575.0h0M314.8 575.4h0M315.4 575.7h0M316.0 575.9h0M316.6 576.1h0M317.2 576.2h0M317.8 576.3h0M318.4 576.4h0M319.0 576.5h0M319.6 576.6h0M320.2 576.6h0M320.8 576.6h0M321.4 576.7h0M322.0 576.7h0M322.6 576.7h0M323.2 576.8h0M323.8 576.8h0M324.3 576.8h0M324.9 576.8h0M325.5 576.8h0M326.1 576.8h0M326.7 576.8h0M327.3 576.9h0M327.9 576.9h0M328.5 576.9h0M329.1 576.9h0M329.7 576.9h0M330.3 576.9h0M330.9 576.9h0M331.5 576.9h0M332.1 576.9h0M332.7 576.9h0M333.3 576.9h0M333.9 576.9h0M334.5 576.9h0M335.1 576.9h0M335.7 576.9h0M336.3 576.9h0M336.9 576.9h0M337.5 576.9h0M338.1 576.9h0M338.7 576.9h0M339.3 571.3h0M339.9 569.5h0M340.5 569.1h0M341.1 569.1h0M341.7 569.0h0M342.3 569.0h0M342.9 569.1h0M343.5 569.1h0M344.1 569.1h0M344.7 569.1h0M345.3 569.1h0M345.9 569.1h0M346.5 569.1h0M347.1 569.1h0M347.7 569.1h0M348.3 569.1h0M348.9 569.1h0M349.5 569.1h0M350.1 569.1h0M350.7 569.2h0M351.3 569.2h0M351.9 570.0h0M352.5 572.7h0M353.1 574.0h0M353.7 574.8h0M354.2 575.2h0M354.8 575.5h0M355.4 575.8h0M356.0 576.0h0M356.6 576.1h0M357.2 576.2h0M357.8 576.3h0M358.4 576.4h0M359.0 576.5h0M359.6 576.6h0M360.2 576.6h0M360.8 576.7h0M361.4 576.7h0M362.0 576.7h0M362.6 576.7h0M363.2 576.8h0M363.8 576.8h0M364.4 576.8h0M365.0 576.8h0M365.6 576.8h0M366.2 576.9h0M366.8 576.9h0M367.4 576.9h0M368.0 576.9h0M368.6 576.9h0M369.2 576.9h0M369.8 576.9h0M370.4 576.9h0M371.0 576.9h0M371.6 576.9h0M372.2 570.7h0M372.8 567.5h0M373.4 566.8h0M374.0 566.7h0M374.6 566.7h0M375.2 566.7h0M375.8 566.7h0M376.4 566.7h0M377.0 566.7h0M377.6 566.7h0M378.2 566.7h0M378.8 566.7h0M379.4 566.8h0M380.0 566.8h0M380.6 566.8h0M381.2 566.8h0M381.8 566.8h0M382.4 566.8h0M383.0 566.8h0M383.6 566.8h0M384.1 566.8h0M384.7 566.8h0M385.3 566.8h0M385.9 568.9h0M386.5 571.9h0M387.1 573.4h0M387.7 574.3h0M388.3 574.8h0M388.9 575.2h0M389.5 575.5h0M390.1 575.7h0M390.7 575.9h0M391.3 576.1h0M391.9 576.2h0M392.5 576.3h0M393.1 576.4h0M393.7 576.5h0M394.3 576.5h0M394.9 576.6h0M395.5 576.6h0M396.1 576.7h0M396.7 576.7h0M397.3 576.7h0M397.9 576.8h0M398.5 576.8h0M399.1 576.8h0M399.7 576.8h0M400.3 576.9h0M400.9 576.9h0M401.5 576.9h0M402.1 576.9h0M402.7 576.9h0M403.3 576.9h0M403.9 576.9h0M404.5 576.9h0M405.1 576.9h0M405.7 576.9h0M406.3 576.9h0M406.9 576.9h0M407.5 576.9h0M408.1 576.9h0M408.7 576.9h0M409.3 576.9h0M409.9 576.9h0M410.5 569.7h0M411.1 566.0h0M411.7 565.3h0M412.3 565.1h0M412.9 565.1h0M413.5 565.1h0M414.0 565.1h0M414.6 565.1h0M415.2 565.1h0M415.8 565.1h0M416.4 565.2h0M417.0 565.2h0M417.6 565.2h0M418.2 565.2h0M418.8 565.2h0M419.4 565.2h0M420.0 565.2h0M420.6 565.2h0M421.2 565.2h0M421.8 565.2h0M422.4 565.2h0M423.0 565.2h0M423.6 565.3h0M424.2 565.3h0M424.8 565.3h0M425.4 565.3h0M426.0 565.3h0M426.6 567.7h0M427.2 571.1h0M427.8 572.9h0M428.4 573.9h0M429.0 574.5h0M429.6 575.0h0M430.2 575.3h0M430.8 575.5h0M431.4 575.8h0M432.0 575.9h0M432.6 576.1h0M433.2 576.2h0M433.8 576.3h0M434.4 576.4h0M435.0 576.5h0M435.6 576.5h0M436.2 576.6h0M436.8 576.6h0M437.4 576.7h0M438.0 576.7h0M438.6 576.7h0M439.2 576.8h0M439.8 576.8h0M440.4 576.8h0M441.0 576.9h0" stroke="#56b048" stroke-width="2.40" stroke-linecap="round" fill="none" />
<polyline points="243.6,576.9 244.2,576.9 244.8,576.9 245.4,576.9 246.0,576.9 246.6,576.9 247.2,576.9 247.8,576.9 248.4,576.9 249.0,576.9 249.6,576.9 250.2,576.9 250.8,576.9 251.4,576.9 252.0,576.9 252.6,576.9 253.2,576.9 253.8,576.9 254.4,576.9 255.0,576.9 255.6,576.9 256.2,576.9 256.8,576.9 257.4,576.9 258.0,576.9 258.6,576.9 259.2,576.9 259.8,576.9 260.4,576.9 261.0,576.9 261.6,576.9 262.2,573.2 262.8,572.4 263.4,572.2 264.0,572.2 264.6,572.2 265.1,572.2 265.7,572.2 266.3,572.2 266.9,572.2 267.5,572.2 268.1,572.2 268.7,572.2 269.3,572.2 269.9,572.2 270.5,572.2 271.1,572.2 271.7,572.2 272.3,572.2 272.9,572.2 273.5,572.2 274.1,572.2 274.7,572.3 275.3,572.8 275.9,574.4 276.5,575.2 277.1,575.6 277.7,575.9 278.3,576.1 278.9,576.2 279.5,576.3 280.1,576.4 280.7,576.5 281.3,576.6 281.9,576.6 282.5,576.7 283.1,576.7 283.7,576.7 284.3,576.7 284.9,576.8 285.5,576.8 286.1,576.8 286.7,576.8 287.3,576.8 287.9,576.8 288.5,576.8 289.1,576.9 289.7,576.9 290.3,576.9 290.9,576.9 291.5,576.9 292.1,576.9 292.7,576.9 293.3,576.9 293.9,576.9 294.4,576.9 295.0,576.9 295.6,576.9 296.2,576.9 296.8,576.9 297.4,576.9 298.0,576.9 298.6,576.9 299.2,576.9 299.8,576.9 300.4,576.9 301.0,576.9 301.6,570.7 302.2,569.4 302.8,569.1 303.4,569.1 304.0,569.1 304.6,569.1 305.2,569.1 305.8,569.1 306.4,569.1 307.0,569.1 307.6,569.1 308.2,569.1 308.8,569.1 309.4,569.1 310.0,569.1 310.6,569.1 311.2,569.1 311.8,569.2 312.4,569.2 313.0,571.9 313.6,573.6 314.2,574.5 314.8,575.1 315.4,575.4 316.0,575.7 316.6,575.9 317.2,576.1 317.8,576.2 318.4,576.3 319.0,576.4 319.6,576.5 320.2,576.5 320.8,576.6 321.4,576.6 322.0,576.7 322.6,576.7 323.2,576.7 323.8,576.8 324.3,576.8 324.9,576.8 325.5,576.8 326.1,576.8 326.7,576.8 327.3,576.9 327.9,576.9 328.5,576.9 329.1,576.9 329.7,576.9 330.3,576.9 330.9,576.9 331.5,576.9 332.1,576.9 332.7,576.9 333.3,576.9 333.9,576.9 334.5,576.9 335.1,576.9 335.7,576.9 336.3,576.9 336.9,576.9 337.5,576.9 338.1,576.9 338.7,576.9 339.3,569.6 339.9,567.3 340.5,566.8 341.1,566.7 341.7,566.7 342.3,566.7 342.9,566.7 343.5,566.7 344.1,566.7 344.7,566.7 345.3,566.7 345.9,566.8 346.5,566.8 347.1,566.8 347.7,566.8 348.3,566.8 348.9,566.8 349.5,566.8 350.1,566.8 350.7,566.8 351.3,566.8 351.9,568.0 352.5,571.4 353.1,573.2 353.7,574.1 354.2,574.7 354.8,575.1 355.4,575.4 356.0,575.7 356.6,575.9 357.2,576.0 357.8,576.2 358.4,576.3 359.0,576.4 359.6,576.5 360.2,576.5 360.8,576.6 361.4,576.6 362.0,576.7 362.6,576.7 363.2,576.7 363.8,576.8 364.4,576.8 365.0,576.8 365.6,576.8 366.2,576.9 366.8,576.9 367.4,576.9 368.0,576.9 368.6,576.9 369.2,576.9 369.8,576.9 370.4,576.9 371.0,576.9 371.6,576.9 372.2,569.0 372.8,565.0 373.4,564.1 374.0,564.0 374.6,563.9 375.2,563.9 375.8,564.0 376.4,564.0 377.0,564.0 377.6,564.0 378.2,564.0 378.8,564.0 379.4,564.0 380.0,564.0 380.6,564.0 381.2,564.1 381.8,564.1 382.4,564.1 383.0,564.1 383.6,564.1 384.1,564.1 384.7,564.1 385.3,564.1 385.9,566.7 386.5,570.5 387.1,572.5 387.7,573.6 388.3,574.3 388.9,574.8 389.5,575.1 390.1,575.4 390.7,575.6 391.3,575.8 391.9,576.0 392.5,576.1 393.1,576.3 393.7,576.4 394.3,576.4 394.9,576.5 395.5,576.6 396.1,576.6 396.7,576.7 397.3,576.7 397.9,576.7 398.5,576.8 399.1,576.8 399.7,576.8 400.3,576.9 400.9,576.9 401.5,576.9 402.1,576.9 402.7,576.9 403.3,576.9 403.9,576.9 404.5,576.9 405.1,576.9 405.7,576.9 406.3,576.9 406.9,576.9 407.5,576.9 408.1,576.9 408.7,576.9 409.3,576.9 409.9,576.9 410.5,568.3 411.1,563.9 411.7,563.0 412.3,562.8 412.9,562.8 413.5,562.8 414.0,562.8 414.6,562.8 415.2,562.8 415.8,562.8 416.4,562.8 417.0,562.8 417.6,562.8 418.2,562.8 418.8,562.8 419.4,562.9 420.0,562.9 420.6,562.9 421.2,562.9 421.8,562.9 422.4,562.9 423.0,562.9 423.6,562.9 424.2,562.9 424.8,563.0 425.4,563.0 426.0,563.0 426.6,565.8 427.2,570.0 427.8,572.1 428.4,573.3 429.0,574.0 429.6,574.6 430.2,575.0 430.8,575.3 431.4,575.5 432.0,575.7 432.6,575.9 433.2,576.1 433.8,576.2 434.4,576.3 435.0,576.4 435.6,576.5 436.2,576.5 436.8,576.6 437.4,576.6 438.0,576.7 438.6,576.7 439.2,576.7 439.8,576.8 440.4,576.8 441.0,576.9" fill="none" stroke="#e6b422" stroke-width="0.8" stroke-linejoin="round" />
<path d="M243.6 576.9h0M244.2 576.9h0M244.8 576.9h0M245.4 576.9h0M246.0 576.9h0M246.6 576.9h0M247.2 576.9h0M247.8 576.9h0M248.4 576.9h0M249.0 576.9h0M249.6 576.9h0M250.2 576.9h0M250.8 576.9h0M251.4 576.9h0M252.0 576.9h0M252.6 576.9h0M253.2 576.9h0M253.8 576.9h0M254.4 576.9h0M255.0 576.9h0M255.6 576.9h0M256.2 576.9h0M256.8 576.9h0M257.4 576.9h0M258.0 576.9h0M258.6 576.9h0M259.2 576.9h0M259.8 576.9h0M260.4 576.9h0M261.0 576.9h0M261.6 576.9h0M262.2 573.2h0M262.8 572.4h0M263.4 572.2h0M264.0 572.2h0M264.6 572.2h0M265.1 572.2h0M265.7 572.2h0M266.3 572.2h0M266.9 572.2h0M267.5 572.2h0M268.1 572.2h0M268.7 572.2h0M269.3 572.2h0M269.9 572.2h0M270.5 572.2h0M271.1 572.2h0M271.7 572.2h0M272.3 572.2h0M272.9 572.2h0M273.5 572.2h0M274.1 572.2h0M274.7 572.3h0M275.3 572.8h0M275.9 574.4h0M276.5 575.2h0M277.1 575.6h0M277.7 575.9h0M278.3 576.1h0M278.9 576.2h0M279.5 576.3h0M280.1 576.4h0M280.7 576.5h0M281.3 576.6h0M281.9 576.6h0M282.5 576.7h0M283.1 576.7h0M283.7 576.7h0M284.3 576.7h0M284.9 576.8h0M285.5 576.8h0M286.1 576.8h0M286.7 576.8h0M287.3 576.8h0M287.9 576.8h0M288.5 576.8h0M289.1 576.9h0M289.7 576.9h0M290.3 576.9h0M290.9 576.9h0M291.5 576.9h0M292.1 576.9h0M292.7 576.9h0M293.3 576.9h0M293.9 576.9h0M294.4 576.9h0M295.0 576.9h0M295.6 576.9h0M296.2 576.9h0M296.8 576.9h0M297.4 576.9h0M298.0 576.9h0M298.6 576.9h0M299.2 576.9h0M299.8 576.9h0M300.4 576.9h0M301.0 576.9h0M301.6 570.7h0M302.2 569.4h0M302.8 569.1h0M303.4 569.1h0M304.0 569.1h0M304.6 569.1h0M305.2 569.1h0M305.8 569.1h0M306.4 569.1h0M307.0 569.1h0M307.6 569.1h0M308.2 569.1h0M308.8 569.1h0M309.4 569.1h0M310.0 569.1h0M310.6 569.1h0M311.2 569.1h0M311.8 569.2h0M312.4 569.2h0M313.0 571.9h0M313.6 573.6h0M314.2 574.5h0M314.8 575.1h0M315.4 575.4h0M316.0 575.7h0M316.6 575.9h0M317.2 576.1h0M317.8 576.2h0M318.4 576.3h0M319.0 576.4h0M319.6 576.5h0M320.2 576.5h0M320.8 576.6h0M321.4 576.6h0M322.0 576.7h0M322.6 576.7h0M323.2 576.7h0M323.8 576.8h0M324.3 576.8h0M324.9 576.8h0M325.5 576.8h0M326.1 576.8h0M326.7 576.8h0M327.3 576.9h0M327.9 576.9h0M328.5 576.9h0M329.1 576.9h0M329.7 576.9h0M330.3 576.9h0M330.9 576.9h0M331.5 576.9h0M332.1 576.9h0M332.7 576.9h0M333.3 576.9h0M333.9 576.9h0M334.5 576.9h0M335.1 576.9h0M335.7 576.9h0M336.3 576.9h0M336.9 576.9h0M337.5 576.9h0M338.1 576.9h0M338.7 576.9h0M339.3 569.6h0M339.9 567.3h0M340.5 566.8h0M341.1 566.7h0M341.7 566.7h0M342.3 566.7h0M342.9 566.7h0M343.5 566.7h0M344.1 566.7h0M344.7 566.7h0M345.3 566.7h0M345.9 566.8h0M346.5 566.8h0M347.1 566.8h0M347.7 566.8h0M348.3 566.8h0M348.9 566.8h0M349.5 566.8h0M350.1 566.8h0M350.7 566.8h0M351.3 566.8h0M351.9 568.0h0M352.5 571.4h0M353.1 573.2h0M353.7 574.1h0M354.2 574.7h0M354.8 575.1h0M355.4 575.4h0M356.0 575.7h0M356.6 575.9h0M357.2 576.0h0M357.8 576.2h0M358.4 576.3h0M359.0 576.4h0M359.6 576.5h0M360.2 576.5h0M360.8 576.6h0M361.4 576.6h0M362.0 576.7h0M362.6 576.7h0M363.2 576.7h0M363.8 576.8h0M364.4 576.8h0M365.0 576.8h0M365.6 576.8h0M366.2 576.9h0M366.8 576.9h0M367.4 576.9h0M368.0 576.9h0M368.6 576.9h0M369.2 576.9h0M369.8 576.9h0M370.4 576.9h0M371.0 576.9h0M371.6 576.9h0M372.2 569.0h0M372.8 565.0h0M373.4 564.1h0M374.0 564.0h0M374.6 563.9h0M375.2 563.9h0M375.8 564.0h0M376.4 564.0h0M377.0 564.0h0M377.6 564.0h0M378.2 564.0h0M378.8 564.0h0M379.4 564.0h0M380.0 564.0h0M380.6 564.0h0M381.2 564.1h0M381.8 564.1h0M382.4 564.1h0M383.0 564.1h0M383.6 564.1h0M384.1 564.1h0M384.7 564.1h0M385.3 564.1h0M385.9 566.7h0M386.5 570.5h0M387.1 572.5h0M387.7 573.6h0M388.3 574.3h0M388.9 574.8h0M389.5 575.1h0M390.1 575.4h0M390.7 575.6h0M391.3 575.8h0M391.9 576.0h0M392.5 576.1h0M393.1 576.3h0M393.7 576.4h0M394.3 576.4h0M394.9 576.5h0M395.5 576.6h0M396.1 576.6h0M396.7 576.7h0M397.3 576.7h0M397.9 576.7h0M398.5 576.8h0M399.1 576.8h0M399.7 576.8h0M400.3 576.9h0M400.9 576.9h0M401.5 576.9h0M402.1 576.9h0M402.7 576.9h0M403.3 576.9h0M403.9 576.9h0M404.5 576.9h0M405.1 576.9h0M405.7 576.9h0M406.3 576.9h0M406.9 576.9h0M407.5 576.9h0M408.1 576.9h0M408.7 576.9h0M409.3 576.9h0M409.9 576.9h0M410.5 568.3h0M411.1 563.9h0M411.7 563.0h0M412.3 562.8h0M412.9 562.8h0M413.5 562.8h0M414.0 562.8h0M414.6 562.8h0M415.2 562.8h0M415.8 562.8h0M416.4 562.8h0M417.0 562.8h0M417.6 562.8h0M418.2 562.8h0M418.8 562.8h0M419.4 562.9h0M420.0 562.9h0M420.6 562.9h0M421.2 562.9h0M421.8 562.9h0M422.4 562.9h0M423.0 562.9h0M423.6 562.9h0M424.2 562.9h0M424.8 563.0h0M425.4 563.0h0M426.0 563.0h0M426.6 565.8h0M427.2 570.0h0M427.8 572.1h0M428.4 573.3h0M429.0 574.0h0M429.6 574.6h0M430.2 575.0h0M430.8 575.3h0M431.4 575.5h0M432.0 575.7h0M432.6 575.9h0M433.2 576.1h0M433.8 576.2h0M434.4 576.3h0M435.0 576.4h0M435.6 576.5h0M436.2 576.5h0M436.8 576.6h0M437.4 576.6h0M438.0 576.7h0M438.6 576.7h0M439.2 576.7h0M439.8 576.8h0M440.4 576.8h0M441.0 576.9h0" stroke="#e6b422" stroke-width="2.40" stroke-linecap="round" fill="none" />
<line x1="406.52" y1="576.89" x2="406.52" y2="444.12" stroke="#e0409c" stroke-width="0.7" />
<text x="268.6" y="538.7" font-size="7.6" font-weight="bold" fill="#2030e0" text-anchor="middle" >100</text>
<text x="309.5" y="512.0" font-size="7.6" font-weight="bold" fill="#2030e0" text-anchor="middle" >200</text>
<text x="347.1" y="486.8" font-size="7.6" font-weight="bold" fill="#2030e0" text-anchor="middle" >300</text>
<text x="379.9" y="461.3" font-size="7.6" font-weight="bold" fill="#2030e0" text-anchor="middle" >400</text>
<text x="417.5" y="436.1" font-size="7.6" font-weight="bold" fill="#2030e0" text-anchor="middle" >500</text>
<rect x="245.60" y="563.60" width="11.00" height="16.40" fill="none" stroke="#111" stroke-width="0.9" />
<text x="251.1" y="572.6" font-size="8" font-weight="bold" fill="#2030e0" text-anchor="middle" >50</text>
<line x1="251.20" y1="563.60" x2="269.00" y2="486.80" stroke="#111" stroke-width="0.7" />
<polygon points="269.60,484.30 267.40,488.70 270.50,488.80" fill="#111" stroke="none" stroke-width="1" />
<text x="367.8" y="434.9" font-size="7.1" font-weight="bold" fill="#ee2020" text-anchor="start" >@380 °C</text>
<text x="366.5" y="444.4" font-size="7.25" font-weight="bold" fill="#2030e0" text-anchor="start" >unit : ppm</text>
<line x1="330.70" y1="430.40" x2="346.00" y2="430.40" stroke="#2fa27e" stroke-width="1.2" />
<circle cx="338.30" cy="430.40" r="1.30" fill="#2fa27e" stroke="none" stroke-width="1" />
<text x="348.6" y="432.6" font-size="6.0" font-weight="bold" fill="#111" text-anchor="start" >NC0</text>
<line x1="330.70" y1="438.80" x2="346.00" y2="438.80" stroke="#d2682a" stroke-width="1.2" />
<circle cx="338.30" cy="438.80" r="1.30" fill="#d2682a" stroke="none" stroke-width="1" />
<text x="348.6" y="441.0" font-size="6.0" font-weight="bold" fill="#111" text-anchor="start" >NC1</text>
<line x1="330.70" y1="446.80" x2="346.00" y2="446.80" stroke="#7b78b8" stroke-width="1.2" />
<circle cx="338.30" cy="446.80" r="1.30" fill="#7b78b8" stroke="none" stroke-width="1" />
<text x="348.6" y="449.0" font-size="6.0" font-weight="bold" fill="#111" text-anchor="start" >NC2</text>
<line x1="330.70" y1="455.20" x2="346.00" y2="455.20" stroke="#e0409c" stroke-width="1.2" />
<circle cx="338.30" cy="455.20" r="1.30" fill="#e0409c" stroke="none" stroke-width="1" />
<text x="348.6" y="457.4" font-size="6.0" font-weight="bold" fill="#111" text-anchor="start" >NC3</text>
<line x1="330.70" y1="463.60" x2="346.00" y2="463.60" stroke="#56b048" stroke-width="1.2" />
<circle cx="338.30" cy="463.60" r="1.30" fill="#56b048" stroke="none" stroke-width="1" />
<text x="348.6" y="465.8" font-size="6.0" font-weight="bold" fill="#111" text-anchor="start" >NC4</text>
<line x1="330.70" y1="471.60" x2="346.00" y2="471.60" stroke="#e6b422" stroke-width="1.2" />
<circle cx="338.30" cy="471.60" r="1.30" fill="#e6b422" stroke="none" stroke-width="1" />
<text x="348.6" y="473.8" font-size="6.0" font-weight="bold" fill="#111" text-anchor="start" >NC5</text>
<rect x="256.80" y="431.10" width="62.80" height="50.10" fill="#fff" stroke="#333" stroke-width="0.8" />
<text x="256.0" y="482.7" font-size="4.2" font-weight="normal" fill="#333" text-anchor="end" >0</text>
<line x1="256.80" y1="481.20" x2="257.80" y2="481.20" stroke="#333" stroke-width="0.5" />
<text x="256.0" y="476.4" font-size="4.2" font-weight="normal" fill="#333" text-anchor="end" >1</text>
<line x1="256.80" y1="474.94" x2="257.80" y2="474.94" stroke="#333" stroke-width="0.5" />
<text x="256.0" y="470.2" font-size="4.2" font-weight="normal" fill="#333" text-anchor="end" >2</text>
<line x1="256.80" y1="468.68" x2="257.80" y2="468.68" stroke="#333" stroke-width="0.5" />
<text x="256.0" y="463.9" font-size="4.2" font-weight="normal" fill="#333" text-anchor="end" >3</text>
<line x1="256.80" y1="462.41" x2="257.80" y2="462.41" stroke="#333" stroke-width="0.5" />
<text x="256.0" y="457.6" font-size="4.2" font-weight="normal" fill="#333" text-anchor="end" >4</text>
<line x1="256.80" y1="456.15" x2="257.80" y2="456.15" stroke="#333" stroke-width="0.5" />
<text x="256.0" y="451.4" font-size="4.2" font-weight="normal" fill="#333" text-anchor="end" >5</text>
<line x1="256.80" y1="449.89" x2="257.80" y2="449.89" stroke="#333" stroke-width="0.5" />
<text x="256.0" y="445.1" font-size="4.2" font-weight="normal" fill="#333" text-anchor="end" >6</text>
<line x1="256.80" y1="443.62" x2="257.80" y2="443.62" stroke="#333" stroke-width="0.5" />
<text x="256.0" y="438.9" font-size="4.2" font-weight="normal" fill="#333" text-anchor="end" >7</text>
<line x1="256.80" y1="437.36" x2="257.80" y2="437.36" stroke="#333" stroke-width="0.5" />
<text x="256.0" y="432.6" font-size="4.2" font-weight="normal" fill="#333" text-anchor="end" >8</text>
<line x1="256.80" y1="431.10" x2="257.80" y2="431.10" stroke="#333" stroke-width="0.5" />
<text x="257.4" y="485.8" font-size="4.4" font-weight="normal" fill="#333" text-anchor="middle" >0</text>
<text x="266.2" y="485.8" font-size="4.4" font-weight="normal" fill="#333" text-anchor="middle" >20</text>
<text x="275.0" y="485.8" font-size="4.4" font-weight="normal" fill="#333" text-anchor="middle" >40</text>
<text x="283.8" y="485.8" font-size="4.4" font-weight="normal" fill="#333" text-anchor="middle" >60</text>
<text x="292.6" y="485.8" font-size="4.4" font-weight="normal" fill="#333" text-anchor="middle" >80</text>
<text x="301.4" y="485.8" font-size="4.4" font-weight="normal" fill="#333" text-anchor="middle" >100</text>
<text x="310.2" y="485.8" font-size="4.4" font-weight="normal" fill="#333" text-anchor="middle" >120</text>
<text x="319.0" y="485.8" font-size="4.4" font-weight="normal" fill="#333" text-anchor="middle" >140</text>
<text x="288.5" y="492.0" font-size="4.6" font-weight="normal" fill="#333" text-anchor="middle" >Time/s</text>
<text transform="translate(250.8,456.5) rotate(-90)" font-size="4.6" fill="#333" text-anchor="middle">Response</text>
<polyline points="257.4,474.9 257.8,474.9 258.3,474.9 258.7,474.9 259.2,474.9 259.6,474.9 260.0,474.9 260.5,474.9 260.9,474.9 261.4,474.9 261.8,474.9 262.2,474.9 262.7,474.9 263.1,474.9 263.6,474.9 264.0,474.9 264.4,474.9 264.9,474.9 265.3,474.9 265.8,474.9 266.2,474.9 266.6,465.6 267.1,461.6 267.5,459.7 268.0,458.9 268.4,458.5 268.8,458.3 269.3,458.1 269.7,458.0 270.2,457.9 270.6,457.8 271.0,457.7 271.5,457.7 271.9,457.6 272.4,457.5 272.8,457.4 273.2,457.3 273.7,457.2 274.1,457.2 274.6,457.1 275.0,457.0 275.4,456.9 275.9,456.8 276.3,456.7 276.8,456.7 277.2,456.6 277.6,456.5 278.1,456.4 278.5,456.3 279.0,456.2 279.4,456.2 279.8,456.2 280.3,456.2 280.7,456.2 281.2,456.2 281.6,456.2 282.0,456.2 282.5,456.2 282.9,456.2 283.4,456.2 283.8,456.2 284.2,456.2 284.7,456.2 285.1,456.2 285.6,456.2 286.0,456.1 286.4,456.1 286.9,456.1 287.3,456.1 287.8,456.1 288.2,456.1 288.6,456.1 289.1,456.1 289.5,456.1 290.0,456.1 290.4,456.1 290.8,456.1 291.3,456.1 291.7,456.1 292.2,459.0 292.6,461.5 293.0,463.5 293.5,465.3 293.9,466.8 294.4,468.0 294.8,469.1 295.2,470.0 295.7,470.7 296.1,471.4 296.6,471.9 297.0,472.4 297.4,472.8 297.9,473.1 298.3,473.4 298.8,473.6 299.2,473.8 299.6,474.0 300.1,474.1 300.5,474.3 301.0,474.4 301.4,474.5 301.8,474.5 302.3,474.6 302.7,474.6 303.2,474.7 303.6,474.7 304.0,474.8 304.5,474.8 304.9,474.8 305.4,474.8 305.8,474.8 306.2,474.9 306.7,474.9 307.1,474.9 307.6,474.9 308.0,474.9 308.4,474.9 308.9,474.9 309.3,474.9 309.8,474.9 310.2,474.9 310.6,474.9 311.1,474.9 311.5,474.9 312.0,474.9 312.4,474.9 312.8,474.9 313.3,474.9 313.7,474.9 314.2,474.9 314.6,474.9 315.0,474.9 315.5,474.9 315.9,474.9 316.4,474.9 316.8,474.9 317.2,474.9 317.7,474.9 318.1,474.9 318.6,474.9 319.0,474.9" fill="none" stroke="#2fa27e" stroke-width="0.8" stroke-linejoin="round" />
<path d="M257.4 474.9h0M258.7 474.9h0M260.0 474.9h0M261.4 474.9h0M262.7 474.9h0M264.0 474.9h0M265.3 474.9h0M266.6 465.6h0M268.0 458.9h0M269.3 458.1h0M270.6 457.8h0M271.9 457.6h0M273.2 457.3h0M274.6 457.1h0M275.9 456.8h0M277.2 456.6h0M278.5 456.3h0M279.8 456.2h0M281.2 456.2h0M282.5 456.2h0M283.8 456.2h0M285.1 456.2h0M286.4 456.1h0M287.8 456.1h0M289.1 456.1h0M290.4 456.1h0M291.7 456.1h0M293.0 463.5h0M294.4 468.0h0M295.7 470.7h0M297.0 472.4h0M298.3 473.4h0M299.6 474.0h0M301.0 474.4h0M302.3 474.6h0M303.6 474.7h0M304.9 474.8h0M306.2 474.9h0M307.6 474.9h0M308.9 474.9h0M310.2 474.9h0M311.5 474.9h0M312.8 474.9h0M314.2 474.9h0M315.5 474.9h0M316.8 474.9h0M318.1 474.9h0" stroke="#2fa27e" stroke-width="1.20" stroke-linecap="round" fill="none" />
<polyline points="257.4,474.9 257.8,474.9 258.3,474.9 258.7,474.9 259.2,474.9 259.6,474.9 260.0,474.9 260.5,474.9 260.9,474.9 261.4,474.9 261.8,474.9 262.2,474.9 262.7,474.9 263.1,474.9 263.6,474.9 264.0,474.9 264.4,474.9 264.9,474.9 265.3,474.9 265.8,474.9 266.2,474.9 266.6,472.2 267.1,470.8 267.5,470.1 268.0,469.7 268.4,469.5 268.8,469.4 269.3,469.4 269.7,469.3 270.2,469.3 270.6,469.3 271.0,469.3 271.5,469.3 271.9,469.3 272.4,469.3 272.8,469.3 273.2,469.3 273.7,469.3 274.1,469.3 274.6,469.3 275.0,469.3 275.4,469.3 275.9,469.3 276.3,469.3 276.8,469.3 277.2,469.3 277.6,469.3 278.1,469.3 278.5,469.3 279.0,469.3 279.4,469.3 279.8,469.3 280.3,469.3 280.7,469.3 281.2,469.3 281.6,469.3 282.0,469.3 282.5,469.3 282.9,469.3 283.4,469.3 283.8,469.3 284.2,469.3 284.7,469.3 285.1,469.3 285.6,469.3 286.0,469.3 286.4,469.3 286.9,469.3 287.3,469.3 287.8,469.3 288.2,469.3 288.6,469.3 289.1,469.3 289.5,469.3 290.0,469.3 290.4,469.3 290.8,469.3 291.3,469.3 291.7,469.3 292.2,470.2 292.6,470.9 293.0,471.5 293.5,472.0 293.9,472.5 294.4,472.9 294.8,473.2 295.2,473.5 295.7,473.7 296.1,473.9 296.6,474.0 297.0,474.2 297.4,474.3 297.9,474.4 298.3,474.5 298.8,474.5 299.2,474.6 299.6,474.7 300.1,474.7 300.5,474.7 301.0,474.8 301.4,474.8 301.8,474.8 302.3,474.8 302.7,474.9 303.2,474.9 303.6,474.9 304.0,474.9 304.5,474.9 304.9,474.9 305.4,474.9 305.8,474.9 306.2,474.9 306.7,474.9 307.1,474.9 307.6,474.9 308.0,474.9 308.4,474.9 308.9,474.9 309.3,474.9 309.8,474.9 310.2,474.9 310.6,474.9 311.1,474.9 311.5,474.9 312.0,474.9 312.4,474.9 312.8,474.9 313.3,474.9 313.7,474.9 314.2,474.9 314.6,474.9 315.0,474.9 315.5,474.9 315.9,474.9 316.4,474.9 316.8,474.9 317.2,474.9 317.7,474.9 318.1,474.9 318.6,474.9 319.0,474.9" fill="none" stroke="#d2682a" stroke-width="0.8" stroke-linejoin="round" />
<path d="M257.4 474.9h0M258.7 474.9h0M260.0 474.9h0M261.4 474.9h0M262.7 474.9h0M264.0 474.9h0M265.3 474.9h0M266.6 472.2h0M268.0 469.7h0M269.3 469.4h0M270.6 469.3h0M271.9 469.3h0M273.2 469.3h0M274.6 469.3h0M275.9 469.3h0M277.2 469.3h0M278.5 469.3h0M279.8 469.3h0M281.2 469.3h0M282.5 469.3h0M283.8 469.3h0M285.1 469.3h0M286.4 469.3h0M287.8 469.3h0M289.1 469.3h0M290.4 469.3h0M291.7 469.3h0M293.0 471.5h0M294.4 472.9h0M295.7 473.7h0M297.0 474.2h0M298.3 474.5h0M299.6 474.7h0M301.0 474.8h0M302.3 474.8h0M303.6 474.9h0M304.9 474.9h0M306.2 474.9h0M307.6 474.9h0M308.9 474.9h0M310.2 474.9h0M311.5 474.9h0M312.8 474.9h0M314.2 474.9h0M315.5 474.9h0M316.8 474.9h0M318.1 474.9h0" stroke="#d2682a" stroke-width="1.20" stroke-linecap="round" fill="none" />
<polyline points="257.4,474.9 257.8,474.9 258.3,474.9 258.7,474.9 259.2,474.9 259.6,474.9 260.0,474.9 260.5,474.9 260.9,474.9 261.4,474.9 261.8,474.9 262.2,474.9 262.7,474.9 263.1,474.9 263.6,474.9 264.0,474.9 264.4,474.9 264.9,474.9 265.3,474.9 265.8,474.9 266.2,474.9 266.6,473.6 267.1,472.9 267.5,472.5 268.0,472.3 268.4,472.2 268.8,472.2 269.3,472.1 269.7,472.1 270.2,472.1 270.6,472.1 271.0,472.1 271.5,472.1 271.9,472.1 272.4,472.1 272.8,472.1 273.2,472.1 273.7,472.1 274.1,472.1 274.6,472.1 275.0,472.1 275.4,472.1 275.9,472.1 276.3,472.1 276.8,472.1 277.2,472.1 277.6,472.1 278.1,472.1 278.5,472.1 279.0,472.1 279.4,472.1 279.8,472.1 280.3,472.1 280.7,472.1 281.2,472.1 281.6,472.1 282.0,472.1 282.5,472.1 282.9,472.1 283.4,472.1 283.8,472.1 284.2,472.1 284.7,472.1 285.1,472.1 285.6,472.1 286.0,472.1 286.4,472.1 286.9,472.1 287.3,472.1 287.8,472.1 288.2,472.1 288.6,472.1 289.1,472.1 289.5,472.1 290.0,472.1 290.4,472.1 290.8,472.1 291.3,472.1 291.7,472.1 292.2,472.6 292.6,472.9 293.0,473.2 293.5,473.5 293.9,473.7 294.4,473.9 294.8,474.1 295.2,474.2 295.7,474.3 296.1,474.4 296.6,474.5 297.0,474.6 297.4,474.6 297.9,474.7 298.3,474.7 298.8,474.7 299.2,474.8 299.6,474.8 300.1,474.8 300.5,474.8 301.0,474.9 301.4,474.9 301.8,474.9 302.3,474.9 302.7,474.9 303.2,474.9 303.6,474.9 304.0,474.9 304.5,474.9 304.9,474.9 305.4,474.9 305.8,474.9 306.2,474.9 306.7,474.9 307.1,474.9 307.6,474.9 308.0,474.9 308.4,474.9 308.9,474.9 309.3,474.9 309.8,474.9 310.2,474.9 310.6,474.9 311.1,474.9 311.5,474.9 312.0,474.9 312.4,474.9 312.8,474.9 313.3,474.9 313.7,474.9 314.2,474.9 314.6,474.9 315.0,474.9 315.5,474.9 315.9,474.9 316.4,474.9 316.8,474.9 317.2,474.9 317.7,474.9 318.1,474.9 318.6,474.9 319.0,474.9" fill="none" stroke="#7b78b8" stroke-width="0.8" stroke-linejoin="round" />
<path d="M257.4 474.9h0M258.7 474.9h0M260.0 474.9h0M261.4 474.9h0M262.7 474.9h0M264.0 474.9h0M265.3 474.9h0M266.6 473.6h0M268.0 472.3h0M269.3 472.1h0M270.6 472.1h0M271.9 472.1h0M273.2 472.1h0M274.6 472.1h0M275.9 472.1h0M277.2 472.1h0M278.5 472.1h0M279.8 472.1h0M281.2 472.1h0M282.5 472.1h0M283.8 472.1h0M285.1 472.1h0M286.4 472.1h0M287.8 472.1h0M289.1 472.1h0M290.4 472.1h0M291.7 472.1h0M293.0 473.2h0M294.4 473.9h0M295.7 474.3h0M297.0 474.6h0M298.3 474.7h0M299.6 474.8h0M301.0 474.9h0M302.3 474.9h0M303.6 474.9h0M304.9 474.9h0M306.2 474.9h0M307.6 474.9h0M308.9 474.9h0M310.2 474.9h0M311.5 474.9h0M312.8 474.9h0M314.2 474.9h0M315.5 474.9h0M316.8 474.9h0M318.1 474.9h0" stroke="#7b78b8" stroke-width="1.20" stroke-linecap="round" fill="none" />
<polyline points="257.4,474.9 257.8,474.9 258.3,474.9 258.7,474.9 259.2,474.9 259.6,474.9 260.0,474.9 260.5,474.9 260.9,474.9 261.4,474.9 261.8,474.9 262.2,474.9 262.7,474.9 263.1,474.9 263.6,474.9 264.0,474.9 264.4,474.9 264.9,474.9 265.3,474.9 265.8,474.9 266.2,474.9 266.6,457.1 267.1,449.3 267.5,446.0 268.0,444.6 268.4,444.0 268.8,443.7 269.3,443.6 269.7,443.6 270.2,443.6 270.6,443.6 271.0,443.7 271.5,443.7 271.9,443.7 272.4,443.8 272.8,443.8 273.2,443.8 273.7,443.9 274.1,443.9 274.6,443.9 275.0,444.0 275.4,444.0 275.9,444.0 276.3,444.1 276.8,444.1 277.2,444.1 277.6,444.2 278.1,444.2 278.5,444.2 279.0,444.3 279.4,444.3 279.8,444.3 280.3,444.3 280.7,444.4 281.2,444.4 281.6,444.4 282.0,444.5 282.5,444.5 282.9,444.5 283.4,444.6 283.8,444.6 284.2,444.6 284.7,444.7 285.1,444.7 285.6,444.7 286.0,444.8 286.4,444.8 286.9,444.8 287.3,444.9 287.8,444.9 288.2,444.9 288.6,445.0 289.1,445.0 289.5,445.0 290.0,445.1 290.4,445.1 290.8,445.1 291.3,445.2 291.7,445.2 292.2,451.5 292.6,456.7 293.0,460.7 293.5,463.9 293.9,466.3 294.4,468.2 294.8,469.7 295.2,470.9 295.7,471.8 296.1,472.5 296.6,473.0 297.0,473.4 297.4,473.8 297.9,474.0 298.3,474.2 298.8,474.4 299.2,474.5 299.6,474.6 300.1,474.7 300.5,474.7 301.0,474.8 301.4,474.8 301.8,474.8 302.3,474.9 302.7,474.9 303.2,474.9 303.6,474.9 304.0,474.9 304.5,474.9 304.9,474.9 305.4,474.9 305.8,474.9 306.2,474.9 306.7,474.9 307.1,474.9 307.6,474.9 308.0,474.9 308.4,474.9 308.9,474.9 309.3,474.9 309.8,474.9 310.2,474.9 310.6,474.9 311.1,474.9 311.5,474.9 312.0,474.9 312.4,474.9 312.8,474.9 313.3,474.9 313.7,474.9 314.2,474.9 314.6,474.9 315.0,474.9 315.5,474.9 315.9,474.9 316.4,474.9 316.8,474.9 317.2,474.9 317.7,474.9 318.1,474.9 318.6,474.9 319.0,474.9" fill="none" stroke="#e0409c" stroke-width="0.8" stroke-linejoin="round" />
<path d="M257.4 474.9h0M258.7 474.9h0M260.0 474.9h0M261.4 474.9h0M262.7 474.9h0M264.0 474.9h0M265.3 474.9h0M266.6 457.1h0M268.0 444.6h0M269.3 443.6h0M270.6 443.6h0M271.9 443.7h0M273.2 443.8h0M274.6 443.9h0M275.9 444.0h0M277.2 444.1h0M278.5 444.2h0M279.8 444.3h0M281.2 444.4h0M282.5 444.5h0M283.8 444.6h0M285.1 444.7h0M286.4 444.8h0M287.8 444.9h0M289.1 445.0h0M290.4 445.1h0M291.7 445.2h0M293.0 460.7h0M294.4 468.2h0M295.7 471.8h0M297.0 473.4h0M298.3 474.2h0M299.6 474.6h0M301.0 474.8h0M302.3 474.9h0M303.6 474.9h0M304.9 474.9h0M306.2 474.9h0M307.6 474.9h0M308.9 474.9h0M310.2 474.9h0M311.5 474.9h0M312.8 474.9h0M314.2 474.9h0M315.5 474.9h0M316.8 474.9h0M318.1 474.9h0" stroke="#e0409c" stroke-width="1.20" stroke-linecap="round" fill="none" />
<polyline points="257.4,474.9 257.8,474.9 258.3,474.9 258.7,474.9 259.2,474.9 259.6,474.9 260.0,474.9 260.5,474.9 260.9,474.9 261.4,474.9 261.8,474.9 262.2,474.9 262.7,474.9 263.1,474.9 263.6,474.9 264.0,474.9 264.4,474.9 264.9,474.9 265.3,474.9 265.8,474.9 266.2,474.9 266.6,474.0 267.1,473.6 267.5,473.3 268.0,473.2 268.4,473.1 268.8,473.1 269.3,473.1 269.7,473.1 270.2,473.1 270.6,473.1 271.0,473.1 271.5,473.1 271.9,473.1 272.4,473.1 272.8,473.1 273.2,473.1 273.7,473.1 274.1,473.1 274.6,473.1 275.0,473.1 275.4,473.1 275.9,473.1 276.3,473.1 276.8,473.1 277.2,473.1 277.6,473.1 278.1,473.1 278.5,473.1 279.0,473.1 279.4,473.1 279.8,473.1 280.3,473.1 280.7,473.1 281.2,473.1 281.6,473.1 282.0,473.1 282.5,473.1 282.9,473.1 283.4,473.1 283.8,473.1 284.2,473.1 284.7,473.1 285.1,473.1 285.6,473.1 286.0,473.1 286.4,473.1 286.9,473.1 287.3,473.1 287.8,473.1 288.2,473.1 288.6,473.1 289.1,473.1 289.5,473.1 290.0,473.1 290.4,473.1 290.8,473.1 291.3,473.1 291.7,473.1 292.2,473.3 292.6,473.6 293.0,473.8 293.5,474.0 293.9,474.1 294.4,474.2 294.8,474.4 295.2,474.4 295.7,474.5 296.1,474.6 296.6,474.6 297.0,474.7 297.4,474.7 297.9,474.8 298.3,474.8 298.8,474.8 299.2,474.8 299.6,474.8 300.1,474.9 300.5,474.9 301.0,474.9 301.4,474.9 301.8,474.9 302.3,474.9 302.7,474.9 303.2,474.9 303.6,474.9 304.0,474.9 304.5,474.9 304.9,474.9 305.4,474.9 305.8,474.9 306.2,474.9 306.7,474.9 307.1,474.9 307.6,474.9 308.0,474.9 308.4,474.9 308.9,474.9 309.3,474.9 309.8,474.9 310.2,474.9 310.6,474.9 311.1,474.9 311.5,474.9 312.0,474.9 312.4,474.9 312.8,474.9 313.3,474.9 313.7,474.9 314.2,474.9 314.6,474.9 315.0,474.9 315.5,474.9 315.9,474.9 316.4,474.9 316.8,474.9 317.2,474.9 317.7,474.9 318.1,474.9 318.6,474.9 319.0,474.9" fill="none" stroke="#56b048" stroke-width="0.8" stroke-linejoin="round" />
<path d="M257.4 474.9h0M258.7 474.9h0M260.0 474.9h0M261.4 474.9h0M262.7 474.9h0M264.0 474.9h0M265.3 474.9h0M266.6 474.0h0M268.0 473.2h0M269.3 473.1h0M270.6 473.1h0M271.9 473.1h0M273.2 473.1h0M274.6 473.1h0M275.9 473.1h0M277.2 473.1h0M278.5 473.1h0M279.8 473.1h0M281.2 473.1h0M282.5 473.1h0M283.8 473.1h0M285.1 473.1h0M286.4 473.1h0M287.8 473.1h0M289.1 473.1h0M290.4 473.1h0M291.7 473.1h0M293.0 473.8h0M294.4 474.2h0M295.7 474.5h0M297.0 474.7h0M298.3 474.8h0M299.6 474.8h0M301.0 474.9h0M302.3 474.9h0M303.6 474.9h0M304.9 474.9h0M306.2 474.9h0M307.6 474.9h0M308.9 474.9h0M310.2 474.9h0M311.5 474.9h0M312.8 474.9h0M314.2 474.9h0M315.5 474.9h0M316.8 474.9h0M318.1 474.9h0" stroke="#56b048" stroke-width="1.20" stroke-linecap="round" fill="none" />
<polyline points="257.4,474.9 257.8,474.9 258.3,474.9 258.7,474.9 259.2,474.9 259.6,474.9 260.0,474.9 260.5,474.9 260.9,474.9 261.4,474.9 261.8,474.9 262.2,474.9 262.7,474.9 263.1,474.9 263.6,474.9 264.0,474.9 264.4,474.9 264.9,474.9 265.3,474.9 265.8,474.9 266.2,474.9 266.6,473.4 267.1,472.6 267.5,472.2 268.0,472.0 268.4,471.9 268.8,471.9 269.3,471.8 269.7,471.8 270.2,471.8 270.6,471.8 271.0,471.8 271.5,471.8 271.9,471.8 272.4,471.8 272.8,471.8 273.2,471.8 273.7,471.8 274.1,471.8 274.6,471.8 275.0,471.8 275.4,471.8 275.9,471.8 276.3,471.8 276.8,471.8 277.2,471.8 277.6,471.8 278.1,471.8 278.5,471.8 279.0,471.8 279.4,471.8 279.8,471.8 280.3,471.8 280.7,471.8 281.2,471.8 281.6,471.8 282.0,471.8 282.5,471.8 282.9,471.8 283.4,471.8 283.8,471.8 284.2,471.8 284.7,471.8 285.1,471.8 285.6,471.8 286.0,471.8 286.4,471.8 286.9,471.8 287.3,471.8 287.8,471.8 288.2,471.8 288.6,471.8 289.1,471.8 289.5,471.8 290.0,471.8 290.4,471.8 290.8,471.8 291.3,471.8 291.7,471.8 292.2,472.3 292.6,472.7 293.0,473.0 293.5,473.3 293.9,473.6 294.4,473.8 294.8,474.0 295.2,474.1 295.7,474.2 296.1,474.3 296.6,474.4 297.0,474.5 297.4,474.6 297.9,474.6 298.3,474.7 298.8,474.7 299.2,474.8 299.6,474.8 300.1,474.8 300.5,474.8 301.0,474.8 301.4,474.9 301.8,474.9 302.3,474.9 302.7,474.9 303.2,474.9 303.6,474.9 304.0,474.9 304.5,474.9 304.9,474.9 305.4,474.9 305.8,474.9 306.2,474.9 306.7,474.9 307.1,474.9 307.6,474.9 308.0,474.9 308.4,474.9 308.9,474.9 309.3,474.9 309.8,474.9 310.2,474.9 310.6,474.9 311.1,474.9 311.5,474.9 312.0,474.9 312.4,474.9 312.8,474.9 313.3,474.9 313.7,474.9 314.2,474.9 314.6,474.9 315.0,474.9 315.5,474.9 315.9,474.9 316.4,474.9 316.8,474.9 317.2,474.9 317.7,474.9 318.1,474.9 318.6,474.9 319.0,474.9" fill="none" stroke="#e6b422" stroke-width="0.8" stroke-linejoin="round" />
<path d="M257.4 474.9h0M258.7 474.9h0M260.0 474.9h0M261.4 474.9h0M262.7 474.9h0M264.0 474.9h0M265.3 474.9h0M266.6 473.4h0M268.0 472.0h0M269.3 471.8h0M270.6 471.8h0M271.9 471.8h0M273.2 471.8h0M274.6 471.8h0M275.9 471.8h0M277.2 471.8h0M278.5 471.8h0M279.8 471.8h0M281.2 471.8h0M282.5 471.8h0M283.8 471.8h0M285.1 471.8h0M286.4 471.8h0M287.8 471.8h0M289.1 471.8h0M290.4 471.8h0M291.7 471.8h0M293.0 473.0h0M294.4 473.8h0M295.7 474.2h0M297.0 474.5h0M298.3 474.7h0M299.6 474.8h0M301.0 474.8h0M302.3 474.9h0M303.6 474.9h0M304.9 474.9h0M306.2 474.9h0M307.6 474.9h0M308.9 474.9h0M310.2 474.9h0M311.5 474.9h0M312.8 474.9h0M314.2 474.9h0M315.5 474.9h0M316.8 474.9h0M318.1 474.9h0" stroke="#e6b422" stroke-width="1.20" stroke-linecap="round" fill="none" />
<text x="281.0" y="442.3" font-size="4.8" font-weight="normal" fill="#3030c0" text-anchor="middle" >50 ppm</text>
<line x1="300.50" y1="433.60" x2="306.50" y2="433.60" stroke="#2fa27e" stroke-width="0.7" />
<text x="307.8" y="435.1" font-size="4.4" font-weight="normal" fill="#444" text-anchor="start" >NC0</text>
<line x1="300.50" y1="437.90" x2="306.50" y2="437.90" stroke="#d2682a" stroke-width="0.7" />
<text x="307.8" y="439.4" font-size="4.4" font-weight="normal" fill="#444" text-anchor="start" >NC1</text>
<line x1="300.50" y1="442.20" x2="306.50" y2="442.20" stroke="#7b78b8" stroke-width="0.7" />
<text x="307.8" y="443.7" font-size="4.4" font-weight="normal" fill="#444" text-anchor="start" >NC2</text>
<line x1="300.50" y1="446.50" x2="306.50" y2="446.50" stroke="#e0409c" stroke-width="0.7" />
<text x="307.8" y="448.0" font-size="4.4" font-weight="normal" fill="#444" text-anchor="start" >NC3</text>
<line x1="300.50" y1="450.80" x2="306.50" y2="450.80" stroke="#56b048" stroke-width="0.7" />
<text x="307.8" y="452.3" font-size="4.4" font-weight="normal" fill="#444" text-anchor="start" >NC4</text>
<line x1="300.50" y1="455.10" x2="306.50" y2="455.10" stroke="#e6b422" stroke-width="0.7" />
<text x="307.8" y="456.6" font-size="4.4" font-weight="normal" fill="#444" text-anchor="start" >NC5</text>
<rect x="243.50" y="423.70" width="197.50" height="157.90" fill="none" stroke="#222" stroke-width="1.1" />
<text x="451.8" y="426.8" font-size="14" font-weight="bold" fill="#000" text-anchor="start" >k</text>
<line x1="481.80" y1="561.50" x2="484.30" y2="561.50" stroke="#333" stroke-width="1" />
<text x="476.6" y="564.5" font-size="8.3" font-weight="bold" fill="#111" text-anchor="end" >1.00</text>
<line x1="481.80" y1="522.30" x2="484.30" y2="522.30" stroke="#333" stroke-width="1" />
<text x="476.6" y="525.3" font-size="8.3" font-weight="bold" fill="#111" text-anchor="end" >1.05</text>
<line x1="481.80" y1="483.10" x2="484.30" y2="483.10" stroke="#333" stroke-width="1" />
<text x="476.6" y="486.1" font-size="8.3" font-weight="bold" fill="#111" text-anchor="end" >1.10</text>
<line x1="481.80" y1="443.90" x2="484.30" y2="443.90" stroke="#333" stroke-width="1" />
<text x="476.6" y="446.9" font-size="8.3" font-weight="bold" fill="#111" text-anchor="end" >1.15</text>
<line x1="481.80" y1="582.20" x2="481.80" y2="579.70" stroke="#333" stroke-width="1" />
<text x="481.8" y="594.4" font-size="8.3" font-weight="bold" fill="#111" text-anchor="middle" >0</text>
<line x1="560.30" y1="582.20" x2="560.30" y2="579.70" stroke="#333" stroke-width="1" />
<text x="560.3" y="594.4" font-size="8.3" font-weight="bold" fill="#111" text-anchor="middle" >200</text>
<line x1="638.80" y1="582.20" x2="638.80" y2="579.70" stroke="#333" stroke-width="1" />
<text x="638.8" y="594.4" font-size="8.3" font-weight="bold" fill="#111" text-anchor="middle" >400</text>
<line x1="521.05" y1="582.20" x2="521.05" y2="580.70" stroke="#333" stroke-width="0.8" />
<line x1="599.55" y1="582.20" x2="599.55" y2="580.70" stroke="#333" stroke-width="0.8" />
<text x="579.9" y="606.6" font-size="9" font-weight="bold" fill="#111" text-anchor="middle" >Time/s</text>
<text transform="translate(454.6,503.4) rotate(-90)" font-size="9" font-weight="bold" fill="#111" text-anchor="middle">Response</text>
<line x1="481.80" y1="456.30" x2="678.00" y2="456.30" stroke="#8088d0" stroke-width="1.1" stroke-dasharray="2.7 2.5"/>
<line x1="481.80" y1="548.50" x2="678.00" y2="548.50" stroke="#8088d0" stroke-width="1.1" stroke-dasharray="2.7 2.5"/>
<line x1="481.80" y1="566.60" x2="678.00" y2="566.60" stroke="#8088d0" stroke-width="1.1" stroke-dasharray="2.7 2.5"/>
<polyline points="481.8,550.9 482.2,563.9 482.5,550.4 482.9,557.6 483.3,547.6 483.7,556.0 484.0,545.5 484.4,559.4 484.8,550.3 485.2,555.7 485.5,552.3 485.9,563.6 486.3,550.9 486.6,557.7 487.0,550.7 487.4,567.4 487.8,549.0 488.1,561.9 488.5,546.2 488.9,557.2 489.3,551.1 489.6,561.8 490.0,549.3 490.4,560.8 490.7,550.3 491.1,562.7 491.5,549.1 491.9,561.0 492.2,552.3 492.6,556.3 493.0,550.9 493.4,564.9 493.7,552.1 494.1,567.2 494.5,549.6 494.9,563.1 495.2,549.5 495.6,556.0 496.0,551.7 496.3,562.4 496.7,546.7 497.1,556.6 497.5,551.2 497.8,564.4 498.2,549.4 498.6,556.2 499.0,549.6 499.3,556.4 499.7,549.2 500.1,559.3 500.4,550.4 500.8,567.1 501.2,551.6 501.6,556.6 501.9,550.4 502.3,556.3 502.7,552.2 503.1,557.8 503.4,550.3 503.8,560.4 504.2,551.5 504.5,562.9 504.9,550.5 505.3,557.0 505.7,549.0 506.0,558.3 506.4,548.5 506.8,559.2 507.2,546.6 507.5,557.5 507.9,551.4 508.3,555.9 508.6,549.9 509.0,558.5 509.4,549.7 509.8,557.0 510.1,549.3 510.5,557.3 510.9,549.4 511.3,564.4 511.6,546.6 512.0,559.5 512.4,549.9 512.7,558.5 513.1,550.9 513.5,555.9 513.9,552.4 514.2,565.3 514.6,550.7 515.0,560.4 515.4,551.4 515.7,566.4 516.1,549.2 516.5,563.4 516.9,549.5 517.2,555.8 517.6,545.7 518.0,557.0 518.3,545.8 518.7,553.3 519.1,542.9 519.5,555.4 519.8,544.2 520.2,554.4 520.6,540.7 521.0,551.1 521.3,536.3 521.7,555.3 522.1,541.1 522.4,554.3 522.8,539.2 523.2,542.7 523.6,537.2 523.9,543.9 524.3,534.2 524.7,546.1 525.1,536.4 525.4,545.6 525.8,534.0 526.2,539.8 526.5,531.4 526.9,539.8 527.3,532.6 527.7,543.4 528.0,529.6 528.4,535.9 528.8,527.6 529.2,542.6 529.5,528.9 529.9,535.4 530.3,526.0 530.6,534.6 531.0,524.0 531.4,541.2 531.8,523.3 532.1,537.6 532.5,522.6 532.9,528.0 533.3,524.0 533.6,537.2 534.0,522.7 534.4,527.9 534.7,519.3 535.1,536.3 535.5,520.9 535.9,533.7 536.2,518.0 536.6,526.2 537.0,518.1 537.4,525.2 537.7,517.5 538.1,524.7 538.5,515.3 538.8,522.1 539.2,509.4 539.6,529.4 540.0,513.4 540.3,526.6 540.7,513.0 541.1,525.2 541.5,513.1 541.8,519.4 542.2,511.0 542.6,516.1 543.0,508.5 543.3,520.5 543.7,510.0 544.1,522.6 544.4,509.6 544.8,513.1 545.2,508.2 545.6,519.2 545.9,506.8 546.3,520.1 546.7,505.1 547.1,513.4 547.4,503.5 547.8,512.2 548.2,502.5 548.5,509.7 548.9,504.1 549.3,514.0 549.7,501.5 550.0,507.2 550.4,501.8 550.8,515.5 551.2,502.4 551.5,507.9 551.9,498.3 552.3,506.4 552.6,499.1 553.0,509.1 553.4,500.0 553.8,504.9 554.1,498.9 554.5,502.9 554.9,495.1 555.3,512.8 555.6,496.3 556.0,509.0 556.4,495.6 556.7,500.0 557.1,493.4 557.5,501.0 557.9,494.3 558.2,499.1 558.6,494.9 559.0,500.9 559.4,491.3 559.7,498.7 560.1,491.8 560.5,507.5 560.8,490.3 561.2,506.7 561.6,489.1 562.0,498.0 562.3,490.1 562.7,502.4 563.1,490.9 563.5,496.2 563.8,489.4 564.2,502.4 564.6,487.6 565.0,493.9 565.3,486.7 565.7,494.7 566.1,488.2 566.4,498.7 566.8,487.5 567.2,497.0 567.6,483.9 567.9,491.9 568.3,484.4 568.7,491.8 569.1,485.6 569.4,499.9 569.8,484.7 570.2,497.1 570.5,484.4 570.9,489.1 571.3,481.9 571.7,488.0 572.0,481.5 572.4,491.1 572.8,478.5 573.2,496.8 573.5,475.3 573.9,496.3 574.3,480.3 574.6,493.0 575.0,477.9 575.4,485.9 575.8,477.8 576.1,484.0 576.5,478.5 576.9,483.2 577.3,479.2 577.6,489.0 578.0,477.0 578.4,485.0 578.7,475.0 579.1,486.9 579.5,474.9 579.9,487.5 580.2,475.1 580.6,482.7 581.0,474.3 581.4,480.9 581.7,473.3 582.1,486.0 582.5,474.5 582.8,479.3 583.2,469.5 583.6,480.6 584.0,473.7 584.3,487.9 584.7,470.3 585.1,480.6 585.5,471.4 585.8,487.4 586.2,472.3 586.6,485.1 587.0,470.5 587.3,481.4 587.7,468.5 588.1,485.1 588.4,471.2 588.8,484.5 589.2,471.5 589.6,477.5 589.9,470.3 590.3,475.7 590.7,469.6 591.1,476.6 591.4,467.2 591.8,483.8 592.2,469.0 592.5,474.5 592.9,466.5 593.3,479.8 593.7,467.8 594.0,472.9 594.4,466.0 594.8,475.0 595.2,467.8 595.5,476.2 595.9,466.2 596.3,473.1 596.6,465.3 597.0,470.8 597.4,463.0 597.8,473.0 598.1,466.5 598.5,470.3 598.9,464.1 599.3,470.2 599.6,464.2 600.0,480.5 600.4,463.3 600.7,470.7 601.1,462.8 601.5,469.8 601.9,462.6 602.2,471.0 602.6,461.4 603.0,470.0 603.4,461.7 603.7,472.9 604.1,461.2 604.5,472.9 604.8,462.0 605.2,473.3 605.6,462.7 606.0,471.2 606.3,461.2 606.7,471.2 607.1,461.8 607.5,466.3 607.8,460.0 608.2,471.3 608.6,465.0 609.0,478.2 609.3,476.0 609.7,488.9 610.1,485.4 610.4,500.1 610.8,494.4 611.2,509.7 611.6,499.7 611.9,511.8 612.3,502.4 612.7,515.2 613.1,510.8 613.4,526.0 613.8,517.3 614.2,525.6 614.5,519.1 614.9,537.9 615.3,526.5 615.7,534.7 616.0,529.6 616.4,542.7 616.8,531.3 617.2,539.8 617.5,534.6 617.9,541.7 618.3,537.8 618.6,543.2 619.0,538.4 619.4,551.3 619.8,541.9 620.1,548.0 620.5,542.6 620.9,555.7 621.3,541.9 621.6,556.5 622.0,544.2 622.4,555.2 622.7,544.4 623.1,552.3 623.5,547.9 623.9,559.6 624.2,548.5 624.6,563.3 625.0,549.5 625.4,556.4 625.7,550.2 626.1,560.2 626.5,549.7 626.8,566.1 627.2,547.9 627.6,563.2 628.0,552.2 628.3,557.3 628.7,550.2 629.1,562.7 629.5,547.3 629.8,558.4 630.2,549.7 630.6,562.7 630.9,551.3 631.3,563.9 631.7,549.7 632.1,565.7 632.4,549.3 632.8,557.0 633.2,552.0 633.6,559.5 633.9,550.0 634.3,556.4 634.7,550.3 635.1,564.4 635.4,550.0 635.8,563.6 636.2,552.0 636.5,556.2 636.9,550.6 637.3,566.7 637.7,549.0 638.0,566.1 638.4,551.5 638.8,556.6 639.2,549.6 639.5,560.5 639.9,551.8 640.3,559.3 640.6,551.4 641.0,564.5 641.4,547.9 641.8,563.1 642.1,550.5 642.5,564.3 642.9,551.3 643.3,555.8 643.6,552.0 644.0,563.2 644.4,550.3 644.7,558.6 645.1,550.8 645.5,558.9 645.9,551.0 646.2,557.8 646.6,550.6 647.0,557.3 647.4,546.3 647.7,559.1 648.1,550.4 648.5,556.8 648.8,552.2 649.2,557.4 649.6,546.4 650.0,562.5 650.3,551.1 650.7,555.9 651.1,549.1 651.5,566.0 651.8,551.7 652.2,557.8 652.6,552.1 652.9,556.1 653.3,547.8 653.7,560.8 654.1,549.3 654.4,564.5 654.8,545.7 655.2,566.9 655.6,549.0 655.9,566.8 656.3,549.3 656.7,563.7 657.1,551.9 657.4,564.8 657.8,551.8 658.2,565.4 658.5,551.4 658.9,559.0 659.3,552.0 659.7,560.9 660.0,551.7 660.4,561.6 660.8,551.7 661.2,565.0 661.5,549.4 661.9,566.9 662.3,550.1 662.6,567.3 663.0,550.9 663.4,564.6 663.8,551.5 664.1,562.3 664.5,549.8 664.9,556.7 665.3,551.8 665.6,563.6 666.0,549.8 666.4,561.6 666.7,550.5 667.1,557.0 667.5,549.7 667.9,557.6 668.2,550.1 668.6,565.8 669.0,551.9 669.4,565.8 669.7,549.7 670.1,561.9 670.5,550.4 670.8,555.8 671.2,550.0 671.6,561.4 672.0,552.4 672.3,562.2 672.7,545.7 673.1,557.9 673.5,549.7 673.8,560.6 674.2,551.4 674.6,564.5 674.9,552.2 675.3,561.5 675.7,550.0 676.1,563.2 676.4,551.2 676.8,563.8 677.2,549.8 677.6,565.6 677.9,552.3" fill="none" stroke="#111" stroke-width="0.85" stroke-linejoin="round" />
<text x="486.4" y="435.5" font-size="7.2" font-weight="bold" fill="#ee1c24" text-anchor="start" >50 ppb H<tspan font-size="4.5" dy="1.5">2</tspan><tspan dy="-1.5"> @380 °C</tspan></text>
<line x1="636.00" y1="432.20" x2="653.50" y2="432.20" stroke="#444" stroke-width="0.8" />
<text x="657.0" y="434.8" font-size="7.2" font-weight="bold" fill="#111" text-anchor="start" >NC3</text>
<text x="628.9" y="464.1" font-size="7.5" font-weight="bold" fill="#111" text-anchor="start" >Gas out</text>
<line x1="627.80" y1="461.30" x2="614.50" y2="463.00" stroke="#111" stroke-width="0.7" />
<polygon points="612.50,463.30 616.00,461.50 616.30,464.50" fill="#111" stroke="none" stroke-width="1" />
<text x="486.4" y="534.8" font-size="7.5" font-weight="bold" fill="#111" text-anchor="start" >Gas in</text>
<line x1="505.00" y1="538.00" x2="510.00" y2="544.50" stroke="#111" stroke-width="0.7" />
<polygon points="511.20,546.30 508.20,544.60 510.80,542.90" fill="#111" stroke="none" stroke-width="1" />
<text x="556.3" y="523.0" font-size="7.5" font-weight="bold" font-style="italic" fill="#3a4a98">D<tspan font-size="4.3" dy="1.5">L</tspan><tspan dy="-1.5"> = 3</tspan></text>
<text x="576.4" y="517.8" font-size="7.2" font-weight="bold" font-style="italic" fill="#3a4a98">RMS<tspan font-size="4.3" dy="1.5">noise</tspan></text>
<line x1="576.40" y1="520.90" x2="600.00" y2="520.90" stroke="#3a4a98" stroke-width="0.7" />
<text x="580.5" y="527.8" font-size="7.2" font-weight="bold" font-style="italic" fill="#3a4a98">Slope</text>
<text x="551.0" y="561.2" font-size="7.2" font-weight="bold" font-style="italic" fill="#3a4a98">RMS<tspan font-size="4.3" dy="1.5">noise</tspan><tspan dy="-1.5"> =</tspan></text>
<polyline points="589.0,558.0 590.5,556.8 592.2,563.3 594.8,550.2 601.0,550.2" fill="none" stroke="#3a4a98" stroke-width="0.7" stroke-linejoin="round" />
<text x="595.5" y="556.2" font-size="5.8" font-weight="bold" font-style="italic" fill="#3a4a98">S<tspan font-size="3.5" dy="-2">2</tspan></text>
<line x1="595.00" y1="557.20" x2="600.50" y2="557.20" stroke="#3a4a98" stroke-width="0.5" />
<text x="595.5" y="562.8" font-size="5.8" font-weight="bold" font-style="italic" fill="#3a4a98">N</text>
<rect x="481.80" y="423.80" width="196.20" height="158.40" fill="none" stroke="#333" stroke-width="1.2" />
<rect x="16.00" y="48.20" width="115.50" height="4.00" fill="url(#shadow)" stroke="none" stroke-width="1" />
<polygon points="24.00,19.40 123.00,19.40 130.50,38.30 15.00,38.30" fill="url(#slabtop)" stroke="none" stroke-width="1" filter="url(#nzl)"/>
<rect x="15.00" y="38.30" width="115.50" height="2.60" fill="#c48ad0" stroke="none" stroke-width="1" />
<rect x="15.00" y="40.90" width="115.50" height="7.30" fill="url(#blueface)" stroke="none" stroke-width="1" />
<line x1="71.50" y1="0.00" x2="71.50" y2="22.00" stroke="#aaa" stroke-width="0.5" />
<line x1="31.50" y1="9.00" x2="31.50" y2="16.50" stroke="#3c3c3c" stroke-width="0.75" />
<line x1="33.50" y1="9.00" x2="33.50" y2="16.50" stroke="#3c3c3c" stroke-width="0.75" />
<line x1="35.50" y1="9.00" x2="35.50" y2="16.50" stroke="#3c3c3c" stroke-width="0.75" />
<line x1="33.50" y1="13.00" x2="33.50" y2="25.50" stroke="#3c3c3c" stroke-width="0.9" />
<line x1="47.50" y1="18.20" x2="47.50" y2="25.70" stroke="#3c3c3c" stroke-width="0.75" />
<line x1="49.50" y1="18.20" x2="49.50" y2="25.70" stroke="#3c3c3c" stroke-width="0.75" />
<line x1="51.50" y1="18.20" x2="51.50" y2="25.70" stroke="#3c3c3c" stroke-width="0.75" />
<line x1="49.50" y1="22.20" x2="49.50" y2="34.00" stroke="#3c3c3c" stroke-width="0.9" />
<line x1="63.60" y1="13.50" x2="63.60" y2="21.00" stroke="#3c3c3c" stroke-width="0.75" />
<line x1="65.60" y1="13.50" x2="65.60" y2="21.00" stroke="#3c3c3c" stroke-width="0.75" />
<line x1="67.60" y1="13.50" x2="67.60" y2="21.00" stroke="#3c3c3c" stroke-width="0.75" />
<line x1="65.60" y1="17.50" x2="65.60" y2="31.00" stroke="#3c3c3c" stroke-width="0.9" />
<line x1="82.50" y1="15.50" x2="82.50" y2="23.00" stroke="#3c3c3c" stroke-width="0.75" />
<line x1="84.50" y1="15.50" x2="84.50" y2="23.00" stroke="#3c3c3c" stroke-width="0.75" />
<line x1="86.50" y1="15.50" x2="86.50" y2="23.00" stroke="#3c3c3c" stroke-width="0.75" />
<line x1="84.50" y1="19.50" x2="84.50" y2="32.50" stroke="#3c3c3c" stroke-width="0.9" />
<line x1="96.50" y1="8.50" x2="96.50" y2="16.00" stroke="#3c3c3c" stroke-width="0.75" />
<line x1="98.50" y1="8.50" x2="98.50" y2="16.00" stroke="#3c3c3c" stroke-width="0.75" />
<line x1="100.50" y1="8.50" x2="100.50" y2="16.00" stroke="#3c3c3c" stroke-width="0.75" />
<line x1="98.50" y1="12.50" x2="98.50" y2="22.50" stroke="#3c3c3c" stroke-width="0.9" />
<line x1="109.50" y1="18.50" x2="109.50" y2="26.00" stroke="#3c3c3c" stroke-width="0.75" />
<line x1="111.50" y1="18.50" x2="111.50" y2="26.00" stroke="#3c3c3c" stroke-width="0.75" />
<line x1="113.50" y1="18.50" x2="113.50" y2="26.00" stroke="#3c3c3c" stroke-width="0.75" />
<line x1="111.50" y1="22.50" x2="111.50" y2="33.00" stroke="#3c3c3c" stroke-width="0.9" />
<circle cx="71.50" cy="22.50" r="1.40" fill="#000" stroke="none" stroke-width="1" />
<text x="34.3" y="62.3" font-size="8.5" font-weight="bold" fill="#111" text-anchor="start" >SWCNT</text>
<text x="78.7" y="62.3" font-size="8.5" font-weight="bold" fill="#111" text-anchor="start" >click reaction</text>
<rect x="70.60" y="57.00" width="6.10" height="14.50" fill="url(#arrowg)" stroke="none" stroke-width="1" />
<polygon points="66.30,71.50 82.10,71.50 74.20,78.60" fill="#1a1a1a" stroke="none" stroke-width="1" />
<rect x="16.30" y="109.80" width="115.50" height="4.00" fill="url(#shadow)" stroke="none" stroke-width="1" />
<polygon points="24.30,76.50 123.30,76.50 130.80,97.50 15.30,97.50" fill="url(#slabtop)" stroke="none" stroke-width="1" filter="url(#nzl)"/>
<rect x="15.30" y="97.50" width="115.50" height="2.60" fill="#c48ad0" stroke="none" stroke-width="1" />
<rect x="15.30" y="100.10" width="115.50" height="9.70" fill="url(#blueface)" stroke="none" stroke-width="1" />
<ellipse cx="39.1" cy="79.1" rx="1.1" ry="1.65" fill="#262a84" transform="rotate(20 39.1 79.1)"/>
<ellipse cx="41.4" cy="79.0" rx="1.1" ry="1.65" fill="#262a84" transform="rotate(20 41.4 79.0)"/>
<ellipse cx="43.7" cy="79.1" rx="1.1" ry="1.65" fill="#262a84" transform="rotate(20 43.7 79.1)"/>
<ellipse cx="46.0" cy="79.2" rx="1.1" ry="1.65" fill="#262a84" transform="rotate(20 46.0 79.2)"/>
<ellipse cx="48.3" cy="79.4" rx="1.1" ry="1.65" fill="#262a84" transform="rotate(20 48.3 79.4)"/>
<ellipse cx="50.6" cy="79.6" rx="1.1" ry="1.65" fill="#262a84" transform="rotate(20 50.6 79.6)"/>
<ellipse cx="52.9" cy="79.9" rx="1.1" ry="1.65" fill="#262a84" transform="rotate(20 52.9 79.9)"/>
<ellipse cx="55.2" cy="80.2" rx="1.1" ry="1.65" fill="#262a84" transform="rotate(20 55.2 80.2)"/>
<ellipse cx="57.5" cy="80.6" rx="1.1" ry="1.65" fill="#262a84" transform="rotate(20 57.5 80.6)"/>
<ellipse cx="59.8" cy="80.9" rx="1.1" ry="1.65" fill="#262a84" transform="rotate(20 59.8 80.9)"/>
<ellipse cx="62.1" cy="81.2" rx="1.1" ry="1.65" fill="#262a84" transform="rotate(20 62.1 81.2)"/>
<ellipse cx="66.7" cy="81.6" rx="1.1" ry="1.65" fill="#262a84" transform="rotate(20 66.7 81.6)"/>
<ellipse cx="69.0" cy="81.8" rx="1.1" ry="1.65" fill="#262a84" transform="rotate(20 69.0 81.8)"/>
<ellipse cx="71.3" cy="81.8" rx="1.1" ry="1.65" fill="#262a84" transform="rotate(20 71.3 81.8)"/>
<ellipse cx="73.6" cy="81.8" rx="1.1" ry="1.65" fill="#262a84" transform="rotate(20 73.6 81.8)"/>
<ellipse cx="75.9" cy="81.7" rx="1.1" ry="1.65" fill="#262a84" transform="rotate(20 75.9 81.7)"/>
<ellipse cx="78.2" cy="81.6" rx="1.1" ry="1.65" fill="#262a84" transform="rotate(20 78.2 81.6)"/>
<ellipse cx="80.5" cy="81.4" rx="1.1" ry="1.65" fill="#262a84" transform="rotate(20 80.5 81.4)"/>
<ellipse cx="82.8" cy="81.2" rx="1.1" ry="1.65" fill="#262a84" transform="rotate(20 82.8 81.2)"/>
<ellipse cx="85.1" cy="81.0" rx="1.1" ry="1.65" fill="#262a84" transform="rotate(20 85.1 81.0)"/>
<ellipse cx="87.4" cy="80.7" rx="1.1" ry="1.65" fill="#262a84" transform="rotate(20 87.4 80.7)"/>
<ellipse cx="89.7" cy="80.5" rx="1.1" ry="1.65" fill="#262a84" transform="rotate(20 89.7 80.5)"/>
<ellipse cx="94.3" cy="80.2" rx="1.1" ry="1.65" fill="#262a84" transform="rotate(20 94.3 80.2)"/>
<ellipse cx="96.6" cy="80.1" rx="1.1" ry="1.65" fill="#262a84" transform="rotate(20 96.6 80.1)"/>
<ellipse cx="98.9" cy="80.2" rx="1.1" ry="1.65" fill="#262a84" transform="rotate(20 98.9 80.2)"/>
<ellipse cx="101.2" cy="80.2" rx="1.1" ry="1.65" fill="#262a84" transform="rotate(20 101.2 80.2)"/>
<ellipse cx="103.5" cy="80.4" rx="1.1" ry="1.65" fill="#262a84" transform="rotate(20 103.5 80.4)"/>
<ellipse cx="105.8" cy="80.6" rx="1.1" ry="1.65" fill="#262a84" transform="rotate(20 105.8 80.6)"/>
<ellipse cx="108.1" cy="80.9" rx="1.1" ry="1.65" fill="#262a84" transform="rotate(20 108.1 80.9)"/>
<ellipse cx="110.4" cy="81.2" rx="1.1" ry="1.65" fill="#262a84" transform="rotate(20 110.4 81.2)"/>
<ellipse cx="34.5" cy="83.6" rx="1.1" ry="1.65" fill="#262a84" transform="rotate(20 34.5 83.6)"/>
<ellipse cx="36.8" cy="83.8" rx="1.1" ry="1.65" fill="#262a84" transform="rotate(20 36.8 83.8)"/>
<ellipse cx="39.1" cy="84.1" rx="1.1" ry="1.65" fill="#262a84" transform="rotate(20 39.1 84.1)"/>
<ellipse cx="41.4" cy="84.4" rx="1.1" ry="1.65" fill="#262a84" transform="rotate(20 41.4 84.4)"/>
<ellipse cx="43.7" cy="84.7" rx="1.1" ry="1.65" fill="#262a84" transform="rotate(20 43.7 84.7)"/>
<ellipse cx="46.0" cy="85.0" rx="1.1" ry="1.65" fill="#262a84" transform="rotate(20 46.0 85.0)"/>
<ellipse cx="48.3" cy="85.3" rx="1.1" ry="1.65" fill="#262a84" transform="rotate(20 48.3 85.3)"/>
<ellipse cx="50.6" cy="85.5" rx="1.1" ry="1.65" fill="#262a84" transform="rotate(20 50.6 85.5)"/>
<ellipse cx="55.2" cy="85.7" rx="1.1" ry="1.65" fill="#262a84" transform="rotate(20 55.2 85.7)"/>
<ellipse cx="57.5" cy="85.7" rx="1.1" ry="1.65" fill="#262a84" transform="rotate(20 57.5 85.7)"/>
<ellipse cx="59.8" cy="85.7" rx="1.1" ry="1.65" fill="#262a84" transform="rotate(20 59.8 85.7)"/>
<ellipse cx="62.1" cy="85.5" rx="1.1" ry="1.65" fill="#262a84" transform="rotate(20 62.1 85.5)"/>
<ellipse cx="64.4" cy="85.4" rx="1.1" ry="1.65" fill="#262a84" transform="rotate(20 64.4 85.4)"/>
<ellipse cx="66.7" cy="85.1" rx="1.1" ry="1.65" fill="#262a84" transform="rotate(20 66.7 85.1)"/>
<ellipse cx="69.0" cy="84.9" rx="1.1" ry="1.65" fill="#262a84" transform="rotate(20 69.0 84.9)"/>
<ellipse cx="71.3" cy="84.7" rx="1.1" ry="1.65" fill="#262a84" transform="rotate(20 71.3 84.7)"/>
<ellipse cx="73.6" cy="84.4" rx="1.1" ry="1.65" fill="#262a84" transform="rotate(20 73.6 84.4)"/>
<ellipse cx="75.9" cy="84.2" rx="1.1" ry="1.65" fill="#262a84" transform="rotate(20 75.9 84.2)"/>
<ellipse cx="78.2" cy="84.1" rx="1.1" ry="1.65" fill="#262a84" transform="rotate(20 78.2 84.1)"/>
<ellipse cx="82.8" cy="84.0" rx="1.1" ry="1.65" fill="#262a84" transform="rotate(20 82.8 84.0)"/>
<ellipse cx="85.1" cy="84.0" rx="1.1" ry="1.65" fill="#262a84" transform="rotate(20 85.1 84.0)"/>
<ellipse cx="87.4" cy="84.1" rx="1.1" ry="1.65" fill="#262a84" transform="rotate(20 87.4 84.1)"/>
<ellipse cx="89.7" cy="84.3" rx="1.1" ry="1.65" fill="#262a84" transform="rotate(20 89.7 84.3)"/>
<ellipse cx="92.0" cy="84.5" rx="1.1" ry="1.65" fill="#262a84" transform="rotate(20 92.0 84.5)"/>
<ellipse cx="94.3" cy="84.8" rx="1.1" ry="1.65" fill="#262a84" transform="rotate(20 94.3 84.8)"/>
<ellipse cx="96.6" cy="85.1" rx="1.1" ry="1.65" fill="#262a84" transform="rotate(20 96.6 85.1)"/>
<ellipse cx="98.9" cy="85.4" rx="1.1" ry="1.65" fill="#262a84" transform="rotate(20 98.9 85.4)"/>
<ellipse cx="101.2" cy="85.7" rx="1.1" ry="1.65" fill="#262a84" transform="rotate(20 101.2 85.7)"/>
<ellipse cx="103.5" cy="86.0" rx="1.1" ry="1.65" fill="#262a84" transform="rotate(20 103.5 86.0)"/>
<ellipse cx="105.8" cy="86.3" rx="1.1" ry="1.65" fill="#262a84" transform="rotate(20 105.8 86.3)"/>
<ellipse cx="110.4" cy="86.6" rx="1.1" ry="1.65" fill="#262a84" transform="rotate(20 110.4 86.6)"/>
<ellipse cx="34.5" cy="89.5" rx="1.1" ry="1.65" fill="#262a84" transform="rotate(20 34.5 89.5)"/>
<ellipse cx="36.8" cy="89.7" rx="1.1" ry="1.65" fill="#262a84" transform="rotate(20 36.8 89.7)"/>
<ellipse cx="39.1" cy="89.8" rx="1.1" ry="1.65" fill="#262a84" transform="rotate(20 39.1 89.8)"/>
<ellipse cx="43.7" cy="89.7" rx="1.1" ry="1.65" fill="#262a84" transform="rotate(20 43.7 89.7)"/>
<ellipse cx="46.0" cy="89.6" rx="1.1" ry="1.65" fill="#262a84" transform="rotate(20 46.0 89.6)"/>
<ellipse cx="48.3" cy="89.5" rx="1.1" ry="1.65" fill="#262a84" transform="rotate(20 48.3 89.5)"/>
<ellipse cx="50.6" cy="89.2" rx="1.1" ry="1.65" fill="#262a84" transform="rotate(20 50.6 89.2)"/>
<ellipse cx="52.9" cy="89.0" rx="1.1" ry="1.65" fill="#262a84" transform="rotate(20 52.9 89.0)"/>
<ellipse cx="55.2" cy="88.7" rx="1.1" ry="1.65" fill="#262a84" transform="rotate(20 55.2 88.7)"/>
<ellipse cx="57.5" cy="88.5" rx="1.1" ry="1.65" fill="#262a84" transform="rotate(20 57.5 88.5)"/>
<ellipse cx="59.8" cy="88.3" rx="1.1" ry="1.65" fill="#262a84" transform="rotate(20 59.8 88.3)"/>
<ellipse cx="62.1" cy="88.1" rx="1.1" ry="1.65" fill="#262a84" transform="rotate(20 62.1 88.1)"/>
<ellipse cx="64.4" cy="88.0" rx="1.1" ry="1.65" fill="#262a84" transform="rotate(20 64.4 88.0)"/>
<ellipse cx="66.7" cy="87.9" rx="1.1" ry="1.65" fill="#262a84" transform="rotate(20 66.7 87.9)"/>
<ellipse cx="71.3" cy="88.0" rx="1.1" ry="1.65" fill="#262a84" transform="rotate(20 71.3 88.0)"/>
<ellipse cx="73.6" cy="88.2" rx="1.1" ry="1.65" fill="#262a84" transform="rotate(20 73.6 88.2)"/>
<ellipse cx="75.9" cy="88.4" rx="1.1" ry="1.65" fill="#262a84" transform="rotate(20 75.9 88.4)"/>
<ellipse cx="78.2" cy="88.7" rx="1.1" ry="1.65" fill="#262a84" transform="rotate(20 78.2 88.7)"/>
<ellipse cx="80.5" cy="89.0" rx="1.1" ry="1.65" fill="#262a84" transform="rotate(20 80.5 89.0)"/>
<ellipse cx="82.8" cy="89.3" rx="1.1" ry="1.65" fill="#262a84" transform="rotate(20 82.8 89.3)"/>
<ellipse cx="85.1" cy="89.6" rx="1.1" ry="1.65" fill="#262a84" transform="rotate(20 85.1 89.6)"/>
<ellipse cx="87.4" cy="89.9" rx="1.1" ry="1.65" fill="#262a84" transform="rotate(20 87.4 89.9)"/>
<ellipse cx="89.7" cy="90.1" rx="1.1" ry="1.65" fill="#262a84" transform="rotate(20 89.7 90.1)"/>
<ellipse cx="92.0" cy="90.3" rx="1.1" ry="1.65" fill="#262a84" transform="rotate(20 92.0 90.3)"/>
<ellipse cx="94.3" cy="90.4" rx="1.1" ry="1.65" fill="#262a84" transform="rotate(20 94.3 90.4)"/>
<ellipse cx="98.9" cy="90.5" rx="1.1" ry="1.65" fill="#262a84" transform="rotate(20 98.9 90.5)"/>
<ellipse cx="101.2" cy="90.4" rx="1.1" ry="1.65" fill="#262a84" transform="rotate(20 101.2 90.4)"/>
<ellipse cx="103.5" cy="90.3" rx="1.1" ry="1.65" fill="#262a84" transform="rotate(20 103.5 90.3)"/>
<ellipse cx="105.8" cy="90.1" rx="1.1" ry="1.65" fill="#262a84" transform="rotate(20 105.8 90.1)"/>
<ellipse cx="108.1" cy="89.9" rx="1.1" ry="1.65" fill="#262a84" transform="rotate(20 108.1 89.9)"/>
<ellipse cx="110.4" cy="89.6" rx="1.1" ry="1.65" fill="#262a84" transform="rotate(20 110.4 89.6)"/>
<ellipse cx="34.5" cy="93.5" rx="1.1" ry="1.65" fill="#262a84" transform="rotate(20 34.5 93.5)"/>
<ellipse cx="36.8" cy="93.3" rx="1.1" ry="1.65" fill="#262a84" transform="rotate(20 36.8 93.3)"/>
<ellipse cx="39.1" cy="93.0" rx="1.1" ry="1.65" fill="#262a84" transform="rotate(20 39.1 93.0)"/>
<ellipse cx="41.4" cy="92.7" rx="1.1" ry="1.65" fill="#262a84" transform="rotate(20 41.4 92.7)"/>
<ellipse cx="43.7" cy="92.5" rx="1.1" ry="1.65" fill="#262a84" transform="rotate(20 43.7 92.5)"/>
<ellipse cx="46.0" cy="92.3" rx="1.1" ry="1.65" fill="#262a84" transform="rotate(20 46.0 92.3)"/>
<ellipse cx="48.3" cy="92.1" rx="1.1" ry="1.65" fill="#262a84" transform="rotate(20 48.3 92.1)"/>
<ellipse cx="50.6" cy="92.0" rx="1.1" ry="1.65" fill="#262a84" transform="rotate(20 50.6 92.0)"/>
<ellipse cx="52.9" cy="91.9" rx="1.1" ry="1.65" fill="#262a84" transform="rotate(20 52.9 91.9)"/>
<ellipse cx="55.2" cy="92.0" rx="1.1" ry="1.65" fill="#262a84" transform="rotate(20 55.2 92.0)"/>
<ellipse cx="59.8" cy="92.3" rx="1.1" ry="1.65" fill="#262a84" transform="rotate(20 59.8 92.3)"/>
<ellipse cx="62.1" cy="92.5" rx="1.1" ry="1.65" fill="#262a84" transform="rotate(20 62.1 92.5)"/>
<ellipse cx="64.4" cy="92.7" rx="1.1" ry="1.65" fill="#262a84" transform="rotate(20 64.4 92.7)"/>
<ellipse cx="66.7" cy="93.0" rx="1.1" ry="1.65" fill="#262a84" transform="rotate(20 66.7 93.0)"/>
<ellipse cx="69.0" cy="93.3" rx="1.1" ry="1.65" fill="#262a84" transform="rotate(20 69.0 93.3)"/>
<ellipse cx="71.3" cy="93.6" rx="1.1" ry="1.65" fill="#262a84" transform="rotate(20 71.3 93.6)"/>
<ellipse cx="73.6" cy="93.8" rx="1.1" ry="1.65" fill="#262a84" transform="rotate(20 73.6 93.8)"/>
<ellipse cx="75.9" cy="94.0" rx="1.1" ry="1.65" fill="#262a84" transform="rotate(20 75.9 94.0)"/>
<ellipse cx="78.2" cy="94.1" rx="1.1" ry="1.65" fill="#262a84" transform="rotate(20 78.2 94.1)"/>
<ellipse cx="80.5" cy="94.2" rx="1.1" ry="1.65" fill="#262a84" transform="rotate(20 80.5 94.2)"/>
<ellipse cx="82.8" cy="94.2" rx="1.1" ry="1.65" fill="#262a84" transform="rotate(20 82.8 94.2)"/>
<ellipse cx="87.4" cy="94.0" rx="1.1" ry="1.65" fill="#262a84" transform="rotate(20 87.4 94.0)"/>
<ellipse cx="89.7" cy="93.8" rx="1.1" ry="1.65" fill="#262a84" transform="rotate(20 89.7 93.8)"/>
<ellipse cx="92.0" cy="93.6" rx="1.1" ry="1.65" fill="#262a84" transform="rotate(20 92.0 93.6)"/>
<ellipse cx="94.3" cy="93.3" rx="1.1" ry="1.65" fill="#262a84" transform="rotate(20 94.3 93.3)"/>
<ellipse cx="96.6" cy="93.0" rx="1.1" ry="1.65" fill="#262a84" transform="rotate(20 96.6 93.0)"/>
<ellipse cx="98.9" cy="92.8" rx="1.1" ry="1.65" fill="#262a84" transform="rotate(20 98.9 92.8)"/>
<ellipse cx="101.2" cy="92.5" rx="1.1" ry="1.65" fill="#262a84" transform="rotate(20 101.2 92.5)"/>
<ellipse cx="103.5" cy="92.3" rx="1.1" ry="1.65" fill="#262a84" transform="rotate(20 103.5 92.3)"/>
<ellipse cx="105.8" cy="92.2" rx="1.1" ry="1.65" fill="#262a84" transform="rotate(20 105.8 92.2)"/>
<ellipse cx="108.1" cy="92.1" rx="1.1" ry="1.65" fill="#262a84" transform="rotate(20 108.1 92.1)"/>
<ellipse cx="110.4" cy="92.1" rx="1.1" ry="1.65" fill="#262a84" transform="rotate(20 110.4 92.1)"/>
<polygon points="24.50,77.20 34.60,77.20 29.90,97.60 15.80,97.60" fill="url(#goldg)" stroke="none" stroke-width="1" />
<polygon points="111.40,77.20 121.60,77.20 130.20,97.60 117.50,97.60" fill="url(#goldg)" stroke="none" stroke-width="1" />
<text x="37.8" y="126.2" font-size="8.5" font-weight="bold" fill="#111" text-anchor="start" >Pd</text>
<circle cx="55.60" cy="128.60" r="5.40" fill="url(#pdball)" stroke="none" stroke-width="1" />
<text x="80.7" y="126.0" font-size="8.5" font-weight="bold" fill="#111" text-anchor="start" >Evaporation</text>
<rect x="70.60" y="119.40" width="6.10" height="13.30" fill="url(#arrowg)" stroke="none" stroke-width="1" />
<polygon points="66.30,132.70 82.10,132.70 74.20,139.90" fill="#1a1a1a" stroke="none" stroke-width="1" />
<rect x="17.00" y="170.50" width="114.80" height="4.00" fill="url(#shadow)" stroke="none" stroke-width="1" />
<polygon points="24.50,138.50 123.30,138.50 130.80,159.40 16.00,159.40" fill="url(#slabtop)" stroke="none" stroke-width="1" filter="url(#nzl)"/>
<rect x="16.00" y="159.40" width="114.80" height="2.60" fill="#c48ad0" stroke="none" stroke-width="1" />
<rect x="16.00" y="162.00" width="114.80" height="8.50" fill="url(#blueface)" stroke="none" stroke-width="1" />
<ellipse cx="40.1" cy="140.5" rx="1.1" ry="1.65" fill="#262a84" transform="rotate(20 40.1 140.5)"/>
<ellipse cx="42.4" cy="140.5" rx="1.1" ry="1.65" fill="#262a84" transform="rotate(20 42.4 140.5)"/>
<ellipse cx="44.7" cy="140.6" rx="1.1" ry="1.65" fill="#262a84" transform="rotate(20 44.7 140.6)"/>
<ellipse cx="47.0" cy="140.7" rx="1.1" ry="1.65" fill="#262a84" transform="rotate(20 47.0 140.7)"/>
<ellipse cx="49.3" cy="140.9" rx="1.1" ry="1.65" fill="#262a84" transform="rotate(20 49.3 140.9)"/>
<circle cx="49.23" cy="142.66" r="0.95" fill="#2ac8a8" stroke="none" stroke-width="1" />
<ellipse cx="51.6" cy="141.1" rx="1.1" ry="1.65" fill="#262a84" transform="rotate(20 51.6 141.1)"/>
<ellipse cx="53.9" cy="141.4" rx="1.1" ry="1.65" fill="#262a84" transform="rotate(20 53.9 141.4)"/>
<ellipse cx="56.2" cy="141.7" rx="1.1" ry="1.65" fill="#262a84" transform="rotate(20 56.2 141.7)"/>
<circle cx="56.14" cy="140.71" r="0.95" fill="#2ac8a8" stroke="none" stroke-width="1" />
<ellipse cx="58.5" cy="142.0" rx="1.1" ry="1.65" fill="#262a84" transform="rotate(20 58.5 142.0)"/>
<ellipse cx="60.8" cy="142.3" rx="1.1" ry="1.65" fill="#262a84" transform="rotate(20 60.8 142.3)"/>
<ellipse cx="63.1" cy="142.6" rx="1.1" ry="1.65" fill="#262a84" transform="rotate(20 63.1 142.6)"/>
<circle cx="62.53" cy="141.71" r="0.95" fill="#2ac8a8" stroke="none" stroke-width="1" />
<ellipse cx="67.7" cy="143.0" rx="1.1" ry="1.65" fill="#262a84" transform="rotate(20 67.7 143.0)"/>
<ellipse cx="70.0" cy="143.0" rx="1.1" ry="1.65" fill="#262a84" transform="rotate(20 70.0 143.0)"/>
<circle cx="70.59" cy="141.60" r="0.95" fill="#2ac8a8" stroke="none" stroke-width="1" />
<ellipse cx="72.3" cy="143.1" rx="1.1" ry="1.65" fill="#262a84" transform="rotate(20 72.3 143.1)"/>
<ellipse cx="74.6" cy="143.0" rx="1.1" ry="1.65" fill="#262a84" transform="rotate(20 74.6 143.0)"/>
<circle cx="73.60" cy="144.49" r="0.95" fill="#2ac8a8" stroke="none" stroke-width="1" />
<ellipse cx="76.9" cy="142.9" rx="1.1" ry="1.65" fill="#262a84" transform="rotate(20 76.9 142.9)"/>
<circle cx="76.33" cy="144.82" r="0.95" fill="#2ac8a8" stroke="none" stroke-width="1" />
<ellipse cx="79.2" cy="142.7" rx="1.1" ry="1.65" fill="#262a84" transform="rotate(20 79.2 142.7)"/>
<ellipse cx="81.5" cy="142.5" rx="1.1" ry="1.65" fill="#262a84" transform="rotate(20 81.5 142.5)"/>
<circle cx="82.42" cy="142.65" r="0.95" fill="#2ac8a8" stroke="none" stroke-width="1" />
<ellipse cx="83.8" cy="142.3" rx="1.1" ry="1.65" fill="#262a84" transform="rotate(20 83.8 142.3)"/>
<ellipse cx="86.1" cy="142.0" rx="1.1" ry="1.65" fill="#262a84" transform="rotate(20 86.1 142.0)"/>
<circle cx="86.98" cy="142.76" r="0.95" fill="#2ac8a8" stroke="none" stroke-width="1" />
<ellipse cx="88.4" cy="141.8" rx="1.1" ry="1.65" fill="#262a84" transform="rotate(20 88.4 141.8)"/>
<ellipse cx="90.7" cy="141.5" rx="1.1" ry="1.65" fill="#262a84" transform="rotate(20 90.7 141.5)"/>
<circle cx="92.72" cy="140.04" r="0.95" fill="#2ac8a8" stroke="none" stroke-width="1" />
<ellipse cx="95.3" cy="141.3" rx="1.1" ry="1.65" fill="#262a84" transform="rotate(20 95.3 141.3)"/>
<circle cx="94.43" cy="140.47" r="0.95" fill="#2ac8a8" stroke="none" stroke-width="1" />
<ellipse cx="97.6" cy="141.2" rx="1.1" ry="1.65" fill="#262a84" transform="rotate(20 97.6 141.2)"/>
<ellipse cx="99.9" cy="141.2" rx="1.1" ry="1.65" fill="#262a84" transform="rotate(20 99.9 141.2)"/>
<circle cx="100.26" cy="140.59" r="0.95" fill="#2ac8a8" stroke="none" stroke-width="1" />
<ellipse cx="102.2" cy="141.3" rx="1.1" ry="1.65" fill="#262a84" transform="rotate(20 102.2 141.3)"/>
<circle cx="102.84" cy="141.26" r="0.95" fill="#2ac8a8" stroke="none" stroke-width="1" />
<ellipse cx="104.5" cy="141.5" rx="1.1" ry="1.65" fill="#262a84" transform="rotate(20 104.5 141.5)"/>
<circle cx="104.46" cy="142.32" r="0.95" fill="#2ac8a8" stroke="none" stroke-width="1" />
<ellipse cx="106.8" cy="141.7" rx="1.1" ry="1.65" fill="#262a84" transform="rotate(20 106.8 141.7)"/>
<circle cx="107.75" cy="139.81" r="0.95" fill="#2ac8a8" stroke="none" stroke-width="1" />
<ellipse cx="109.1" cy="142.0" rx="1.1" ry="1.65" fill="#262a84" transform="rotate(20 109.1 142.0)"/>
<ellipse cx="111.4" cy="142.3" rx="1.1" ry="1.65" fill="#262a84" transform="rotate(20 111.4 142.3)"/>
<ellipse cx="35.5" cy="145.1" rx="1.1" ry="1.65" fill="#262a84" transform="rotate(20 35.5 145.1)"/>
<circle cx="36.08" cy="144.61" r="0.95" fill="#2ac8a8" stroke="none" stroke-width="1" />
<ellipse cx="37.8" cy="145.4" rx="1.1" ry="1.65" fill="#262a84" transform="rotate(20 37.8 145.4)"/>
<ellipse cx="40.1" cy="145.7" rx="1.1" ry="1.65" fill="#262a84" transform="rotate(20 40.1 145.7)"/>
<circle cx="39.19" cy="144.43" r="0.95" fill="#2ac8a8" stroke="none" stroke-width="1" />
<ellipse cx="42.4" cy="146.0" rx="1.1" ry="1.65" fill="#262a84" transform="rotate(20 42.4 146.0)"/>
<ellipse cx="44.7" cy="146.3" rx="1.1" ry="1.65" fill="#262a84" transform="rotate(20 44.7 146.3)"/>
<circle cx="45.21" cy="148.01" r="0.95" fill="#2ac8a8" stroke="none" stroke-width="1" />
<ellipse cx="47.0" cy="146.6" rx="1.1" ry="1.65" fill="#262a84" transform="rotate(20 47.0 146.6)"/>
<ellipse cx="49.3" cy="146.8" rx="1.1" ry="1.65" fill="#262a84" transform="rotate(20 49.3 146.8)"/>
<circle cx="49.01" cy="146.88" r="0.95" fill="#2ac8a8" stroke="none" stroke-width="1" />
<ellipse cx="51.6" cy="147.0" rx="1.1" ry="1.65" fill="#262a84" transform="rotate(20 51.6 147.0)"/>
<circle cx="54.40" cy="148.24" r="0.95" fill="#2ac8a8" stroke="none" stroke-width="1" />
<ellipse cx="56.2" cy="147.1" rx="1.1" ry="1.65" fill="#262a84" transform="rotate(20 56.2 147.1)"/>
<ellipse cx="58.5" cy="147.0" rx="1.1" ry="1.65" fill="#262a84" transform="rotate(20 58.5 147.0)"/>
<circle cx="59.39" cy="145.41" r="0.95" fill="#2ac8a8" stroke="none" stroke-width="1" />
<ellipse cx="60.8" cy="146.9" rx="1.1" ry="1.65" fill="#262a84" transform="rotate(20 60.8 146.9)"/>
<circle cx="61.02" cy="148.61" r="0.95" fill="#2ac8a8" stroke="none" stroke-width="1" />
<ellipse cx="63.1" cy="146.8" rx="1.1" ry="1.65" fill="#262a84" transform="rotate(20 63.1 146.8)"/>
<circle cx="63.95" cy="146.95" r="0.95" fill="#2ac8a8" stroke="none" stroke-width="1" />
<ellipse cx="65.4" cy="146.6" rx="1.1" ry="1.65" fill="#262a84" transform="rotate(20 65.4 146.6)"/>
<circle cx="65.03" cy="145.27" r="0.95" fill="#2ac8a8" stroke="none" stroke-width="1" />
<ellipse cx="67.7" cy="146.3" rx="1.1" ry="1.65" fill="#262a84" transform="rotate(20 67.7 146.3)"/>
<circle cx="67.00" cy="147.07" r="0.95" fill="#2ac8a8" stroke="none" stroke-width="1" />
<ellipse cx="70.0" cy="146.1" rx="1.1" ry="1.65" fill="#262a84" transform="rotate(20 70.0 146.1)"/>
<ellipse cx="72.3" cy="145.8" rx="1.1" ry="1.65" fill="#262a84" transform="rotate(20 72.3 145.8)"/>
<circle cx="71.40" cy="147.75" r="0.95" fill="#2ac8a8" stroke="none" stroke-width="1" />
<ellipse cx="74.6" cy="145.6" rx="1.1" ry="1.65" fill="#262a84" transform="rotate(20 74.6 145.6)"/>
<ellipse cx="76.9" cy="145.4" rx="1.1" ry="1.65" fill="#262a84" transform="rotate(20 76.9 145.4)"/>
<circle cx="76.37" cy="145.75" r="0.95" fill="#2ac8a8" stroke="none" stroke-width="1" />
<ellipse cx="79.2" cy="145.2" rx="1.1" ry="1.65" fill="#262a84" transform="rotate(20 79.2 145.2)"/>
<circle cx="81.34" cy="143.37" r="0.95" fill="#2ac8a8" stroke="none" stroke-width="1" />
<ellipse cx="83.8" cy="145.1" rx="1.1" ry="1.65" fill="#262a84" transform="rotate(20 83.8 145.1)"/>
<ellipse cx="86.1" cy="145.2" rx="1.1" ry="1.65" fill="#262a84" transform="rotate(20 86.1 145.2)"/>
<circle cx="86.09" cy="146.55" r="0.95" fill="#2ac8a8" stroke="none" stroke-width="1" />
<ellipse cx="88.4" cy="145.3" rx="1.1" ry="1.65" fill="#262a84" transform="rotate(20 88.4 145.3)"/>
<circle cx="88.86" cy="147.13" r="0.95" fill="#2ac8a8" stroke="none" stroke-width="1" />
<ellipse cx="90.7" cy="145.5" rx="1.1" ry="1.65" fill="#262a84" transform="rotate(20 90.7 145.5)"/>
<ellipse cx="93.0" cy="145.8" rx="1.1" ry="1.65" fill="#262a84" transform="rotate(20 93.0 145.8)"/>
<ellipse cx="95.3" cy="146.0" rx="1.1" ry="1.65" fill="#262a84" transform="rotate(20 95.3 146.0)"/>
<circle cx="95.17" cy="144.64" r="0.95" fill="#2ac8a8" stroke="none" stroke-width="1" />
<ellipse cx="97.6" cy="146.3" rx="1.1" ry="1.65" fill="#262a84" transform="rotate(20 97.6 146.3)"/>
<ellipse cx="99.9" cy="146.6" rx="1.1" ry="1.65" fill="#262a84" transform="rotate(20 99.9 146.6)"/>
<circle cx="99.81" cy="148.64" r="0.95" fill="#2ac8a8" stroke="none" stroke-width="1" />
<ellipse cx="102.2" cy="146.9" rx="1.1" ry="1.65" fill="#262a84" transform="rotate(20 102.2 146.9)"/>
<ellipse cx="104.5" cy="147.2" rx="1.1" ry="1.65" fill="#262a84" transform="rotate(20 104.5 147.2)"/>
<ellipse cx="106.8" cy="147.4" rx="1.1" ry="1.65" fill="#262a84" transform="rotate(20 106.8 147.4)"/>
<circle cx="106.78" cy="148.29" r="0.95" fill="#2ac8a8" stroke="none" stroke-width="1" />
<circle cx="108.68" cy="147.13" r="0.95" fill="#2ac8a8" stroke="none" stroke-width="1" />
<ellipse cx="111.4" cy="147.6" rx="1.1" ry="1.65" fill="#262a84" transform="rotate(20 111.4 147.6)"/>
<circle cx="111.15" cy="149.54" r="0.95" fill="#2ac8a8" stroke="none" stroke-width="1" />
<ellipse cx="35.5" cy="151.1" rx="1.1" ry="1.65" fill="#262a84" transform="rotate(20 35.5 151.1)"/>
<ellipse cx="37.8" cy="151.2" rx="1.1" ry="1.65" fill="#262a84" transform="rotate(20 37.8 151.2)"/>
<ellipse cx="40.1" cy="151.2" rx="1.1" ry="1.65" fill="#262a84" transform="rotate(20 40.1 151.2)"/>
<circle cx="39.78" cy="149.58" r="0.95" fill="#2ac8a8" stroke="none" stroke-width="1" />
<circle cx="42.96" cy="152.67" r="0.95" fill="#2ac8a8" stroke="none" stroke-width="1" />
<ellipse cx="44.7" cy="151.1" rx="1.1" ry="1.65" fill="#262a84" transform="rotate(20 44.7 151.1)"/>
<circle cx="45.27" cy="152.21" r="0.95" fill="#2ac8a8" stroke="none" stroke-width="1" />
<ellipse cx="47.0" cy="151.0" rx="1.1" ry="1.65" fill="#262a84" transform="rotate(20 47.0 151.0)"/>
<ellipse cx="49.3" cy="150.7" rx="1.1" ry="1.65" fill="#262a84" transform="rotate(20 49.3 150.7)"/>
<ellipse cx="51.6" cy="150.5" rx="1.1" ry="1.65" fill="#262a84" transform="rotate(20 51.6 150.5)"/>
<ellipse cx="53.9" cy="150.2" rx="1.1" ry="1.65" fill="#262a84" transform="rotate(20 53.9 150.2)"/>
<circle cx="54.31" cy="149.36" r="0.95" fill="#2ac8a8" stroke="none" stroke-width="1" />
<ellipse cx="56.2" cy="150.0" rx="1.1" ry="1.65" fill="#262a84" transform="rotate(20 56.2 150.0)"/>
<circle cx="56.74" cy="150.73" r="0.95" fill="#2ac8a8" stroke="none" stroke-width="1" />
<ellipse cx="58.5" cy="149.7" rx="1.1" ry="1.65" fill="#262a84" transform="rotate(20 58.5 149.7)"/>
<circle cx="59.39" cy="150.31" r="0.95" fill="#2ac8a8" stroke="none" stroke-width="1" />
<ellipse cx="60.8" cy="149.5" rx="1.1" ry="1.65" fill="#262a84" transform="rotate(20 60.8 149.5)"/>
<ellipse cx="63.1" cy="149.3" rx="1.1" ry="1.65" fill="#262a84" transform="rotate(20 63.1 149.3)"/>
<circle cx="63.19" cy="148.33" r="0.95" fill="#2ac8a8" stroke="none" stroke-width="1" />
<ellipse cx="65.4" cy="149.2" rx="1.1" ry="1.65" fill="#262a84" transform="rotate(20 65.4 149.2)"/>
<ellipse cx="67.7" cy="149.2" rx="1.1" ry="1.65" fill="#262a84" transform="rotate(20 67.7 149.2)"/>
<circle cx="68.33" cy="149.76" r="0.95" fill="#2ac8a8" stroke="none" stroke-width="1" />
<ellipse cx="72.3" cy="149.3" rx="1.1" ry="1.65" fill="#262a84" transform="rotate(20 72.3 149.3)"/>
<circle cx="72.59" cy="150.25" r="0.95" fill="#2ac8a8" stroke="none" stroke-width="1" />
<ellipse cx="74.6" cy="149.5" rx="1.1" ry="1.65" fill="#262a84" transform="rotate(20 74.6 149.5)"/>
<ellipse cx="76.9" cy="149.7" rx="1.1" ry="1.65" fill="#262a84" transform="rotate(20 76.9 149.7)"/>
<circle cx="77.59" cy="151.15" r="0.95" fill="#2ac8a8" stroke="none" stroke-width="1" />
<ellipse cx="79.2" cy="149.9" rx="1.1" ry="1.65" fill="#262a84" transform="rotate(20 79.2 149.9)"/>
<ellipse cx="81.5" cy="150.2" rx="1.1" ry="1.65" fill="#262a84" transform="rotate(20 81.5 150.2)"/>
<ellipse cx="83.8" cy="150.5" rx="1.1" ry="1.65" fill="#262a84" transform="rotate(20 83.8 150.5)"/>
<ellipse cx="86.1" cy="150.8" rx="1.1" ry="1.65" fill="#262a84" transform="rotate(20 86.1 150.8)"/>
<ellipse cx="88.4" cy="151.0" rx="1.1" ry="1.65" fill="#262a84" transform="rotate(20 88.4 151.0)"/>
<ellipse cx="90.7" cy="151.3" rx="1.1" ry="1.65" fill="#262a84" transform="rotate(20 90.7 151.3)"/>
<circle cx="91.37" cy="153.01" r="0.95" fill="#2ac8a8" stroke="none" stroke-width="1" />
<ellipse cx="93.0" cy="151.4" rx="1.1" ry="1.65" fill="#262a84" transform="rotate(20 93.0 151.4)"/>
<circle cx="93.38" cy="152.29" r="0.95" fill="#2ac8a8" stroke="none" stroke-width="1" />
<ellipse cx="95.3" cy="151.5" rx="1.1" ry="1.65" fill="#262a84" transform="rotate(20 95.3 151.5)"/>
<circle cx="98.16" cy="151.84" r="0.95" fill="#2ac8a8" stroke="none" stroke-width="1" />
<ellipse cx="99.9" cy="151.5" rx="1.1" ry="1.65" fill="#262a84" transform="rotate(20 99.9 151.5)"/>
<ellipse cx="102.2" cy="151.3" rx="1.1" ry="1.65" fill="#262a84" transform="rotate(20 102.2 151.3)"/>
<circle cx="102.45" cy="152.44" r="0.95" fill="#2ac8a8" stroke="none" stroke-width="1" />
<ellipse cx="104.5" cy="151.2" rx="1.1" ry="1.65" fill="#262a84" transform="rotate(20 104.5 151.2)"/>
<ellipse cx="106.8" cy="150.9" rx="1.1" ry="1.65" fill="#262a84" transform="rotate(20 106.8 150.9)"/>
<ellipse cx="109.1" cy="150.7" rx="1.1" ry="1.65" fill="#262a84" transform="rotate(20 109.1 150.7)"/>
<circle cx="108.42" cy="150.45" r="0.95" fill="#2ac8a8" stroke="none" stroke-width="1" />
<ellipse cx="111.4" cy="150.4" rx="1.1" ry="1.65" fill="#262a84" transform="rotate(20 111.4 150.4)"/>
<ellipse cx="35.5" cy="154.8" rx="1.1" ry="1.65" fill="#262a84" transform="rotate(20 35.5 154.8)"/>
<circle cx="35.87" cy="155.33" r="0.95" fill="#2ac8a8" stroke="none" stroke-width="1" />
<ellipse cx="37.8" cy="154.5" rx="1.1" ry="1.65" fill="#262a84" transform="rotate(20 37.8 154.5)"/>
<circle cx="37.74" cy="153.44" r="0.95" fill="#2ac8a8" stroke="none" stroke-width="1" />
<ellipse cx="40.1" cy="154.3" rx="1.1" ry="1.65" fill="#262a84" transform="rotate(20 40.1 154.3)"/>
<circle cx="39.37" cy="153.52" r="0.95" fill="#2ac8a8" stroke="none" stroke-width="1" />
<ellipse cx="42.4" cy="154.0" rx="1.1" ry="1.65" fill="#262a84" transform="rotate(20 42.4 154.0)"/>
<circle cx="41.79" cy="152.12" r="0.95" fill="#2ac8a8" stroke="none" stroke-width="1" />
<ellipse cx="44.7" cy="153.7" rx="1.1" ry="1.65" fill="#262a84" transform="rotate(20 44.7 153.7)"/>
<circle cx="44.46" cy="154.18" r="0.95" fill="#2ac8a8" stroke="none" stroke-width="1" />
<ellipse cx="47.0" cy="153.5" rx="1.1" ry="1.65" fill="#262a84" transform="rotate(20 47.0 153.5)"/>
<ellipse cx="49.3" cy="153.4" rx="1.1" ry="1.65" fill="#262a84" transform="rotate(20 49.3 153.4)"/>
<circle cx="50.11" cy="151.38" r="0.95" fill="#2ac8a8" stroke="none" stroke-width="1" />
<ellipse cx="51.6" cy="153.3" rx="1.1" ry="1.65" fill="#262a84" transform="rotate(20 51.6 153.3)"/>
<circle cx="51.16" cy="152.93" r="0.95" fill="#2ac8a8" stroke="none" stroke-width="1" />
<ellipse cx="53.9" cy="153.3" rx="1.1" ry="1.65" fill="#262a84" transform="rotate(20 53.9 153.3)"/>
<circle cx="54.56" cy="152.78" r="0.95" fill="#2ac8a8" stroke="none" stroke-width="1" />
<ellipse cx="56.2" cy="153.3" rx="1.1" ry="1.65" fill="#262a84" transform="rotate(20 56.2 153.3)"/>
<circle cx="56.43" cy="151.72" r="0.95" fill="#2ac8a8" stroke="none" stroke-width="1" />
<ellipse cx="60.8" cy="153.6" rx="1.1" ry="1.65" fill="#262a84" transform="rotate(20 60.8 153.6)"/>
<circle cx="60.96" cy="155.48" r="0.95" fill="#2ac8a8" stroke="none" stroke-width="1" />
<ellipse cx="63.1" cy="153.9" rx="1.1" ry="1.65" fill="#262a84" transform="rotate(20 63.1 153.9)"/>
<ellipse cx="65.4" cy="154.1" rx="1.1" ry="1.65" fill="#262a84" transform="rotate(20 65.4 154.1)"/>
<circle cx="66.03" cy="154.71" r="0.95" fill="#2ac8a8" stroke="none" stroke-width="1" />
<ellipse cx="67.7" cy="154.4" rx="1.1" ry="1.65" fill="#262a84" transform="rotate(20 67.7 154.4)"/>
<circle cx="66.98" cy="154.80" r="0.95" fill="#2ac8a8" stroke="none" stroke-width="1" />
<ellipse cx="70.0" cy="154.7" rx="1.1" ry="1.65" fill="#262a84" transform="rotate(20 70.0 154.7)"/>
<ellipse cx="72.3" cy="154.9" rx="1.1" ry="1.65" fill="#262a84" transform="rotate(20 72.3 154.9)"/>
<ellipse cx="74.6" cy="155.2" rx="1.1" ry="1.65" fill="#262a84" transform="rotate(20 74.6 155.2)"/>
<ellipse cx="76.9" cy="155.3" rx="1.1" ry="1.65" fill="#262a84" transform="rotate(20 76.9 155.3)"/>
<ellipse cx="79.2" cy="155.4" rx="1.1" ry="1.65" fill="#262a84" transform="rotate(20 79.2 155.4)"/>
<circle cx="79.99" cy="153.42" r="0.95" fill="#2ac8a8" stroke="none" stroke-width="1" />
<ellipse cx="81.5" cy="155.4" rx="1.1" ry="1.65" fill="#262a84" transform="rotate(20 81.5 155.4)"/>
<circle cx="81.63" cy="155.90" r="0.95" fill="#2ac8a8" stroke="none" stroke-width="1" />
<ellipse cx="83.8" cy="155.4" rx="1.1" ry="1.65" fill="#262a84" transform="rotate(20 83.8 155.4)"/>
<circle cx="84.06" cy="156.96" r="0.95" fill="#2ac8a8" stroke="none" stroke-width="1" />
<circle cx="85.96" cy="154.19" r="0.95" fill="#2ac8a8" stroke="none" stroke-width="1" />
<ellipse cx="88.4" cy="155.1" rx="1.1" ry="1.65" fill="#262a84" transform="rotate(20 88.4 155.1)"/>
<circle cx="89.34" cy="154.63" r="0.95" fill="#2ac8a8" stroke="none" stroke-width="1" />
<ellipse cx="90.7" cy="154.9" rx="1.1" ry="1.65" fill="#262a84" transform="rotate(20 90.7 154.9)"/>
<ellipse cx="93.0" cy="154.6" rx="1.1" ry="1.65" fill="#262a84" transform="rotate(20 93.0 154.6)"/>
<ellipse cx="95.3" cy="154.3" rx="1.1" ry="1.65" fill="#262a84" transform="rotate(20 95.3 154.3)"/>
<ellipse cx="97.6" cy="154.1" rx="1.1" ry="1.65" fill="#262a84" transform="rotate(20 97.6 154.1)"/>
<circle cx="98.56" cy="154.05" r="0.95" fill="#2ac8a8" stroke="none" stroke-width="1" />
<ellipse cx="99.9" cy="153.8" rx="1.1" ry="1.65" fill="#262a84" transform="rotate(20 99.9 153.8)"/>
<circle cx="99.54" cy="155.73" r="0.95" fill="#2ac8a8" stroke="none" stroke-width="1" />
<ellipse cx="102.2" cy="153.6" rx="1.1" ry="1.65" fill="#262a84" transform="rotate(20 102.2 153.6)"/>
<circle cx="101.77" cy="153.47" r="0.95" fill="#2ac8a8" stroke="none" stroke-width="1" />
<ellipse cx="104.5" cy="153.4" rx="1.1" ry="1.65" fill="#262a84" transform="rotate(20 104.5 153.4)"/>
<circle cx="104.74" cy="153.16" r="0.95" fill="#2ac8a8" stroke="none" stroke-width="1" />
<ellipse cx="106.8" cy="153.3" rx="1.1" ry="1.65" fill="#262a84" transform="rotate(20 106.8 153.3)"/>
<circle cx="107.36" cy="154.57" r="0.95" fill="#2ac8a8" stroke="none" stroke-width="1" />
<ellipse cx="109.1" cy="153.2" rx="1.1" ry="1.65" fill="#262a84" transform="rotate(20 109.1 153.2)"/>
<circle cx="109.17" cy="152.30" r="0.95" fill="#2ac8a8" stroke="none" stroke-width="1" />
<ellipse cx="111.4" cy="153.2" rx="1.1" ry="1.65" fill="#262a84" transform="rotate(20 111.4 153.2)"/>
<polygon points="24.50,137.80 35.80,137.80 29.50,159.30 16.20,159.30" fill="url(#goldg)" stroke="none" stroke-width="1" />
<polygon points="111.40,137.80 122.00,137.80 130.20,159.30 117.50,159.30" fill="url(#goldg)" stroke="none" stroke-width="1" />
<text x="2.2" y="24.2" font-size="14" font-weight="bold" fill="#000" text-anchor="start" >a</text>
<rect x="134.00" y="15.80" width="75.40" height="75.10" fill="#474747" stroke="none" stroke-width="1" />
<rect x="134.00" y="46.30" width="75.40" height="9.80" fill="#6a6a6a" stroke="none" stroke-width="1" />
<rect x="134.00" y="56.10" width="75.40" height="17.60" fill="#2c2c2c" stroke="none" stroke-width="1" />
<rect x="134.00" y="73.70" width="75.40" height="17.20" fill="#4a4a4a" stroke="none" stroke-width="1" />
<rect x="134.00" y="15.80" width="75.40" height="30.50" fill="url(#bgr)" stroke="none" stroke-width="1" />
<rect x="134.00" y="46.30" width="75.40" height="9.80" fill="#5e5e5e" stroke="none" stroke-width="1" />
<rect x="134.00" y="56.10" width="75.40" height="17.60" fill="#2b2b2b" stroke="none" stroke-width="1" />
<rect x="134.00" y="73.70" width="75.40" height="17.20" fill="#474747" stroke="none" stroke-width="1" />
<line x1="134.00" y1="46.30" x2="209.40" y2="46.30" stroke="#e0a828" stroke-width="1.3" stroke-dasharray="3.2 2.2"/>
<line x1="134.00" y1="55.90" x2="209.40" y2="55.90" stroke="#e0a828" stroke-width="1.3" stroke-dasharray="3.2 2.2"/>
<text x="162.6" y="55.3" font-size="8.3" font-weight="bold" fill="#000" text-anchor="start" >Pd</text>
<text x="135.4" y="80.8" font-size="7.2" font-weight="bold" fill="#fff" text-anchor="start" >100 nm</text>
<rect x="135.20" y="83.20" width="26.40" height="2.70" fill="#fff" stroke="none" stroke-width="1" />
<rect x="133.50" y="14.00" width="16.00" height="13.80" fill="#fff" stroke="none" stroke-width="1" />
<text x="138.3" y="24.3" font-size="14" font-weight="bold" fill="#000" text-anchor="start" >b</text>
<rect x="135.20" y="96.30" width="73.10" height="72.50" fill="#5e2008" stroke="none" stroke-width="1" filter="url(#nzs)"/>
<g filter="url(#soft)">
<line x1="136.40" y1="119.40" x2="167.00" y2="151.20" stroke="#8c4410" stroke-width="3.2" stroke-linecap="round" opacity="0.55"/>
<line x1="136.40" y1="119.40" x2="167.00" y2="151.20" stroke="#dca24a" stroke-width="1.6" stroke-linecap="round"/>
<line x1="167.00" y1="110.30" x2="175.60" y2="106.00" stroke="#8c4410" stroke-width="3.1" stroke-linecap="round" opacity="0.55"/>
<line x1="167.00" y1="110.30" x2="175.60" y2="106.00" stroke="#dca24a" stroke-width="1.5" stroke-linecap="round"/>
<line x1="176.80" y1="102.30" x2="180.50" y2="117.00" stroke="#8c4410" stroke-width="2.9000000000000004" stroke-linecap="round" opacity="0.55"/>
<line x1="176.80" y1="102.30" x2="180.50" y2="117.00" stroke="#dca24a" stroke-width="1.3" stroke-linecap="round"/>
<line x1="180.50" y1="98.70" x2="179.20" y2="102.30" stroke="#8c4410" stroke-width="2.9000000000000004" stroke-linecap="round" opacity="0.55"/>
<line x1="180.50" y1="98.70" x2="179.20" y2="102.30" stroke="#dca24a" stroke-width="1.3" stroke-linecap="round"/>
<line x1="184.20" y1="102.30" x2="189.00" y2="104.80" stroke="#8c4410" stroke-width="3.4000000000000004" stroke-linecap="round" opacity="0.55"/>
<line x1="184.20" y1="102.30" x2="189.00" y2="104.80" stroke="#dca24a" stroke-width="1.8" stroke-linecap="round"/>
<line x1="195.10" y1="107.20" x2="207.30" y2="110.90" stroke="#8c4410" stroke-width="3.1" stroke-linecap="round" opacity="0.55"/>
<line x1="195.10" y1="107.20" x2="207.30" y2="110.90" stroke="#dca24a" stroke-width="1.5" stroke-linecap="round"/>
<line x1="195.10" y1="112.10" x2="185.30" y2="129.20" stroke="#8c4410" stroke-width="2.8" stroke-linecap="round" opacity="0.55"/>
<line x1="195.10" y1="112.10" x2="185.30" y2="129.20" stroke="#dca24a" stroke-width="1.2" stroke-linecap="round"/>
<line x1="207.30" y1="115.80" x2="195.10" y2="128.00" stroke="#8c4410" stroke-width="2.9000000000000004" stroke-linecap="round" opacity="0.55"/>
<line x1="207.30" y1="115.80" x2="195.10" y2="128.00" stroke="#dca24a" stroke-width="1.3" stroke-linecap="round"/>
<line x1="202.50" y1="137.80" x2="196.30" y2="156.10" stroke="#8c4410" stroke-width="3.5" stroke-linecap="round" opacity="0.55"/>
<line x1="202.50" y1="137.80" x2="196.30" y2="156.10" stroke="#dca24a" stroke-width="1.9" stroke-linecap="round"/>
<line x1="173.10" y1="123.10" x2="176.80" y2="134.10" stroke="#8c4410" stroke-width="2.9000000000000004" stroke-linecap="round" opacity="0.55"/>
<line x1="173.10" y1="123.10" x2="176.80" y2="134.10" stroke="#dca24a" stroke-width="1.3" stroke-linecap="round"/>
<line x1="145.00" y1="143.90" x2="149.90" y2="153.70" stroke="#8c4410" stroke-width="3.0" stroke-linecap="round" opacity="0.55"/>
<line x1="145.00" y1="143.90" x2="149.90" y2="153.70" stroke="#dca24a" stroke-width="1.4" stroke-linecap="round"/>
<line x1="164.60" y1="154.90" x2="173.10" y2="153.70" stroke="#8c4410" stroke-width="3.0" stroke-linecap="round" opacity="0.55"/>
<line x1="164.60" y1="154.90" x2="173.10" y2="153.70" stroke="#dca24a" stroke-width="1.4" stroke-linecap="round"/>
<line x1="156.00" y1="112.10" x2="160.90" y2="110.90" stroke="#8c4410" stroke-width="2.6" stroke-linecap="round" opacity="0.55"/>
<line x1="156.00" y1="112.10" x2="160.90" y2="110.90" stroke="#dca24a" stroke-width="1.0" stroke-linecap="round"/>
<line x1="149.90" y1="119.40" x2="158.40" y2="112.10" stroke="#8c4410" stroke-width="2.6" stroke-linecap="round" opacity="0.55"/>
<line x1="149.90" y1="119.40" x2="158.40" y2="112.10" stroke="#dca24a" stroke-width="1.0" stroke-linecap="round"/>
<line x1="153.60" y1="135.30" x2="159.70" y2="140.20" stroke="#8c4410" stroke-width="2.6" stroke-linecap="round" opacity="0.55"/>
<line x1="153.60" y1="135.30" x2="159.70" y2="140.20" stroke="#dca24a" stroke-width="1.0" stroke-linecap="round"/>
<line x1="183.00" y1="140.00" x2="190.00" y2="150.00" stroke="#8c4410" stroke-width="2.6" stroke-linecap="round" opacity="0.55"/>
<line x1="183.00" y1="140.00" x2="190.00" y2="150.00" stroke="#dca24a" stroke-width="1.0" stroke-linecap="round"/>
<line x1="140.00" y1="160.00" x2="150.00" y2="163.00" stroke="#8c4410" stroke-width="2.6" stroke-linecap="round" opacity="0.55"/>
<line x1="140.00" y1="160.00" x2="150.00" y2="163.00" stroke="#dca24a" stroke-width="1.0" stroke-linecap="round"/>
<line x1="190.00" y1="160.00" x2="200.00" y2="166.00" stroke="#8c4410" stroke-width="2.6" stroke-linecap="round" opacity="0.55"/>
<line x1="190.00" y1="160.00" x2="200.00" y2="166.00" stroke="#dca24a" stroke-width="1.0" stroke-linecap="round"/>
<circle cx="159.70" cy="99.30" r="2.00" fill="#f0cc78" stroke="none" stroke-width="1" />
<circle cx="148.70" cy="116.80" r="1.50" fill="#f0cc78" stroke="none" stroke-width="1" />
<circle cx="167.60" cy="130.50" r="2.00" fill="#f0cc78" stroke="none" stroke-width="1" />
<circle cx="145.00" cy="137.20" r="2.20" fill="#f0cc78" stroke="none" stroke-width="1" />
<circle cx="203.10" cy="132.90" r="1.80" fill="#f0cc78" stroke="none" stroke-width="1" />
<circle cx="135.80" cy="157.30" r="2.00" fill="#f0cc78" stroke="none" stroke-width="1" />
<circle cx="182.30" cy="159.20" r="1.50" fill="#f0cc78" stroke="none" stroke-width="1" />
<circle cx="150.50" cy="161.00" r="1.50" fill="#f0cc78" stroke="none" stroke-width="1" />
<circle cx="164.00" cy="115.80" r="1.20" fill="#f0cc78" stroke="none" stroke-width="1" />
<circle cx="160.90" cy="135.30" r="1.20" fill="#f0cc78" stroke="none" stroke-width="1" />
<circle cx="174.50" cy="99.50" r="1.20" fill="#f0cc78" stroke="none" stroke-width="1" />
<circle cx="201.00" cy="96.80" r="1.20" fill="#f0cc78" stroke="none" stroke-width="1" />
</g>
<rect x="134.70" y="95.50" width="14.80" height="11.40" fill="#fff" stroke="none" stroke-width="1" />
<text x="138.2" y="103.6" font-size="14.5" font-weight="bold" fill="#000" text-anchor="start" >c</text>
<line x1="135.20" y1="170.20" x2="208.30" y2="170.20" stroke="#222" stroke-width="0.6" />
<line x1="135.20" y1="168.80" x2="135.20" y2="171.60" stroke="#222" stroke-width="0.6" />
<line x1="208.30" y1="168.80" x2="208.30" y2="171.60" stroke="#222" stroke-width="0.6" />
<text x="128.8" y="181.8" font-size="8.6" font-weight="bold" fill="#111" text-anchor="start" >0.0</text>
<text x="193.8" y="181.8" font-size="8.6" font-weight="bold" fill="#111" text-anchor="start" >1.0 μm</text>
<text x="1.5" y="219.8" font-size="14" font-weight="bold" fill="#000" text-anchor="start" >f</text>
<rect x="10.10" y="216.00" width="191.80" height="82.30" fill="url(#fsky)" stroke="none" stroke-width="1" />
<polygon points="29.00,289.40 201.90,289.40 201.90,298.30 24.00,298.30" fill="#6c6c6e" stroke="none" stroke-width="1" />
<rect x="29.00" y="289.40" width="172.90" height="1.20" fill="#8a8a8c" stroke="none" stroke-width="1" />
<polygon points="31.00,278.60 37.10,278.60 37.10,298.30 26.90,298.30" fill="#8a5a18" stroke="none" stroke-width="1" />
<polygon points="168.50,280.00 181.00,280.00 184.60,298.30 170.00,298.30" fill="#8c6218" stroke="none" stroke-width="1" />
<line x1="37.17" y1="276.66" x2="35.16" y2="288.73" stroke="#3e7c32" stroke-width="0.85" opacity="0.9"/>
<line x1="52.71" y1="273.67" x2="55.39" y2="261.46" stroke="#3e7c32" stroke-width="0.85" opacity="0.9"/>
<line x1="69.40" y1="275.82" x2="64.55" y2="285.94" stroke="#3e7c32" stroke-width="0.85" opacity="0.9"/>
<line x1="93.06" y1="272.78" x2="89.79" y2="251.53" stroke="#3e7c32" stroke-width="0.85" opacity="0.9"/>
<line x1="49.28" y1="278.26" x2="50.14" y2="258.06" stroke="#3e7c32" stroke-width="0.85" opacity="0.9"/>
<line x1="57.79" y1="280.59" x2="49.66" y2="297.85" stroke="#3e7c32" stroke-width="0.85" opacity="0.9"/>
<line x1="89.84" y1="273.13" x2="93.30" y2="260.47" stroke="#3e7c32" stroke-width="0.85" opacity="0.9"/>
<line x1="74.69" y1="271.75" x2="72.43" y2="256.56" stroke="#3e7c32" stroke-width="0.85" opacity="0.9"/>
<line x1="77.50" y1="281.30" x2="85.69" y2="263.40" stroke="#3e7c32" stroke-width="0.85" opacity="0.9"/>
<line x1="54.78" y1="278.47" x2="55.27" y2="266.46" stroke="#3e7c32" stroke-width="0.85" opacity="0.9"/>
<line x1="51.06" y1="278.47" x2="48.37" y2="293.62" stroke="#3e7c32" stroke-width="0.85" opacity="0.9"/>
<line x1="92.29" y1="281.09" x2="86.96" y2="262.02" stroke="#3e7c32" stroke-width="0.85" opacity="0.9"/>
<line x1="65.39" y1="277.55" x2="72.74" y2="298.09" stroke="#3e7c32" stroke-width="0.85" opacity="0.9"/>
<line x1="43.82" y1="275.85" x2="46.92" y2="259.91" stroke="#3e7c32" stroke-width="0.85" opacity="0.9"/>
<line x1="68.54" y1="274.49" x2="66.48" y2="256.62" stroke="#3e7c32" stroke-width="0.85" opacity="0.9"/>
<line x1="38.69" y1="273.96" x2="43.06" y2="252.70" stroke="#3e7c32" stroke-width="0.85" opacity="0.9"/>
<line x1="82.30" y1="279.03" x2="87.01" y2="268.95" stroke="#3e7c32" stroke-width="0.85" opacity="0.9"/>
<line x1="59.27" y1="273.68" x2="67.43" y2="292.50" stroke="#3e7c32" stroke-width="0.85" opacity="0.9"/>
<line x1="41.41" y1="274.65" x2="37.51" y2="260.90" stroke="#3e7c32" stroke-width="0.85" opacity="0.9"/>
<line x1="48.67" y1="279.46" x2="49.00" y2="264.05" stroke="#3e7c32" stroke-width="0.85" opacity="0.9"/>
<line x1="69.79" y1="276.35" x2="72.21" y2="264.12" stroke="#3e7c32" stroke-width="0.85" opacity="0.9"/>
<line x1="46.42" y1="280.10" x2="53.16" y2="264.08" stroke="#3e7c32" stroke-width="0.85" opacity="0.9"/>
<line x1="49.22" y1="273.50" x2="50.24" y2="288.66" stroke="#3e7c32" stroke-width="0.85" opacity="0.9"/>
<line x1="55.83" y1="279.38" x2="56.56" y2="259.83" stroke="#3e7c32" stroke-width="0.85" opacity="0.9"/>
<line x1="82.68" y1="271.47" x2="84.11" y2="257.70" stroke="#3e7c32" stroke-width="0.85" opacity="0.9"/>
<line x1="51.18" y1="275.98" x2="49.83" y2="260.81" stroke="#3e7c32" stroke-width="0.85" opacity="0.9"/>
<line x1="48.57" y1="275.80" x2="52.02" y2="256.62" stroke="#3e7c32" stroke-width="0.85" opacity="0.9"/>
<line x1="40.89" y1="278.97" x2="40.50" y2="257.68" stroke="#3e7c32" stroke-width="0.85" opacity="0.9"/>
<line x1="53.09" y1="272.40" x2="52.83" y2="256.19" stroke="#3e7c32" stroke-width="0.85" opacity="0.9"/>
<line x1="36.33" y1="276.54" x2="41.16" y2="256.06" stroke="#3e7c32" stroke-width="0.85" opacity="0.9"/>
<line x1="71.80" y1="279.52" x2="66.97" y2="259.79" stroke="#3e7c32" stroke-width="0.85" opacity="0.9"/>
<line x1="69.19" y1="272.52" x2="68.19" y2="287.59" stroke="#3e7c32" stroke-width="0.85" opacity="0.9"/>
<line x1="71.77" y1="278.52" x2="72.02" y2="264.13" stroke="#3e7c32" stroke-width="0.85" opacity="0.9"/>
<line x1="61.58" y1="277.59" x2="56.61" y2="258.16" stroke="#3e7c32" stroke-width="0.85" opacity="0.9"/>
<line x1="53.12" y1="272.62" x2="58.91" y2="259.26" stroke="#3e7c32" stroke-width="0.85" opacity="0.9"/>
<line x1="97.20" y1="271.28" x2="92.26" y2="249.86" stroke="#3e7c32" stroke-width="0.85" opacity="0.9"/>
<line x1="44.49" y1="275.57" x2="37.75" y2="260.05" stroke="#3e7c32" stroke-width="0.85" opacity="0.9"/>
<line x1="62.55" y1="271.96" x2="66.93" y2="256.28" stroke="#3e7c32" stroke-width="0.85" opacity="0.9"/>
<line x1="66.95" y1="281.01" x2="71.22" y2="266.92" stroke="#3e7c32" stroke-width="0.85" opacity="0.9"/>
<line x1="46.32" y1="281.20" x2="38.16" y2="261.84" stroke="#3e7c32" stroke-width="0.85" opacity="0.9"/>
<line x1="56.57" y1="276.30" x2="64.45" y2="257.67" stroke="#3e7c32" stroke-width="0.85" opacity="0.9"/>
<line x1="41.21" y1="277.21" x2="39.52" y2="258.20" stroke="#3e7c32" stroke-width="0.85" opacity="0.9"/>
<line x1="92.67" y1="280.24" x2="91.40" y2="260.65" stroke="#3e7c32" stroke-width="0.85" opacity="0.9"/>
<line x1="63.31" y1="277.78" x2="67.37" y2="266.09" stroke="#3e7c32" stroke-width="0.85" opacity="0.9"/>
<line x1="59.40" y1="275.38" x2="65.20" y2="262.16" stroke="#3e7c32" stroke-width="0.85" opacity="0.9"/>
<line x1="53.84" y1="279.02" x2="55.75" y2="292.37" stroke="#3e7c32" stroke-width="0.85" opacity="0.9"/>
<line x1="54.96" y1="273.84" x2="50.51" y2="292.98" stroke="#3e7c32" stroke-width="0.85" opacity="0.9"/>
<line x1="54.81" y1="276.56" x2="62.15" y2="294.95" stroke="#3e7c32" stroke-width="0.85" opacity="0.9"/>
<line x1="69.92" y1="275.18" x2="71.92" y2="263.67" stroke="#3e7c32" stroke-width="0.85" opacity="0.9"/>
<line x1="72.71" y1="280.20" x2="73.26" y2="267.89" stroke="#3e7c32" stroke-width="0.85" opacity="0.9"/>
<line x1="80.16" y1="280.04" x2="86.09" y2="263.56" stroke="#3e7c32" stroke-width="0.85" opacity="0.9"/>
<line x1="82.31" y1="276.73" x2="86.64" y2="260.33" stroke="#3e7c32" stroke-width="0.85" opacity="0.9"/>
<line x1="90.39" y1="273.58" x2="85.68" y2="261.86" stroke="#3e7c32" stroke-width="0.85" opacity="0.9"/>
<line x1="95.11" y1="276.22" x2="98.65" y2="264.16" stroke="#3e7c32" stroke-width="0.85" opacity="0.9"/>
<line x1="63.47" y1="276.48" x2="58.64" y2="262.37" stroke="#3e7c32" stroke-width="0.85" opacity="0.9"/>
<line x1="62.56" y1="280.38" x2="59.86" y2="262.29" stroke="#3e7c32" stroke-width="0.85" opacity="0.9"/>
<line x1="47.63" y1="281.14" x2="41.90" y2="262.90" stroke="#3e7c32" stroke-width="0.85" opacity="0.9"/>
<line x1="72.29" y1="280.34" x2="66.96" y2="300.52" stroke="#3e7c32" stroke-width="0.85" opacity="0.9"/>
<line x1="74.72" y1="273.08" x2="67.53" y2="254.07" stroke="#3e7c32" stroke-width="0.85" opacity="0.9"/>
<line x1="57.24" y1="272.67" x2="56.34" y2="261.13" stroke="#3e7c32" stroke-width="0.85" opacity="0.9"/>
<line x1="56.85" y1="272.68" x2="55.75" y2="259.95" stroke="#3e7c32" stroke-width="0.85" opacity="0.9"/>
<line x1="38.45" y1="274.02" x2="46.22" y2="256.95" stroke="#3e7c32" stroke-width="0.85" opacity="0.9"/>
<line x1="90.38" y1="273.39" x2="97.29" y2="253.40" stroke="#3e7c32" stroke-width="0.85" opacity="0.9"/>
<line x1="58.83" y1="279.35" x2="54.15" y2="292.43" stroke="#3e7c32" stroke-width="0.85" opacity="0.9"/>
<line x1="39.05" y1="282.18" x2="37.91" y2="300.75" stroke="#3e7c32" stroke-width="0.85" opacity="0.9"/>
<line x1="74.76" y1="280.81" x2="76.88" y2="266.18" stroke="#3e7c32" stroke-width="0.85" opacity="0.9"/>
<line x1="47.34" y1="276.08" x2="42.99" y2="258.33" stroke="#3e7c32" stroke-width="0.85" opacity="0.9"/>
<line x1="96.18" y1="275.54" x2="99.23" y2="260.07" stroke="#3e7c32" stroke-width="0.85" opacity="0.9"/>
<line x1="73.38" y1="271.90" x2="72.72" y2="252.06" stroke="#3e7c32" stroke-width="0.85" opacity="0.9"/>
<line x1="93.97" y1="271.53" x2="95.54" y2="253.11" stroke="#3e7c32" stroke-width="0.85" opacity="0.9"/>
<line x1="83.67" y1="276.76" x2="80.42" y2="290.01" stroke="#3e7c32" stroke-width="0.85" opacity="0.9"/>
<line x1="80.48" y1="281.03" x2="77.74" y2="267.24" stroke="#3e7c32" stroke-width="0.85" opacity="0.9"/>
<line x1="63.35" y1="277.96" x2="61.25" y2="256.54" stroke="#3e7c32" stroke-width="0.85" opacity="0.9"/>
<line x1="46.17" y1="278.60" x2="50.47" y2="299.49" stroke="#3e7c32" stroke-width="0.85" opacity="0.9"/>
<line x1="79.51" y1="272.27" x2="85.19" y2="257.19" stroke="#3e7c32" stroke-width="0.85" opacity="0.9"/>
<line x1="103.04" y1="260.22" x2="116.01" y2="245.66" stroke="#3e7c32" stroke-width="0.85" opacity="0.9"/>
<line x1="117.00" y1="268.94" x2="130.85" y2="262.94" stroke="#3e7c32" stroke-width="0.85" opacity="0.9"/>
<line x1="114.73" y1="266.20" x2="120.64" y2="250.95" stroke="#3e7c32" stroke-width="0.85" opacity="0.9"/>
<line x1="92.94" y1="244.27" x2="105.26" y2="235.38" stroke="#3e7c32" stroke-width="0.85" opacity="0.9"/>
<line x1="113.93" y1="268.56" x2="106.54" y2="284.03" stroke="#3e7c32" stroke-width="0.85" opacity="0.9"/>
<line x1="82.78" y1="234.93" x2="91.31" y2="223.60" stroke="#3e7c32" stroke-width="0.85" opacity="0.9"/>
<line x1="86.96" y1="242.48" x2="75.00" y2="247.08" stroke="#3e7c32" stroke-width="0.85" opacity="0.9"/>
<line x1="100.31" y1="251.79" x2="114.74" y2="244.48" stroke="#3e7c32" stroke-width="0.85" opacity="0.9"/>
<line x1="107.38" y1="261.25" x2="123.57" y2="251.96" stroke="#3e7c32" stroke-width="0.85" opacity="0.9"/>
<line x1="116.14" y1="267.40" x2="122.03" y2="257.38" stroke="#3e7c32" stroke-width="0.85" opacity="0.9"/>
<line x1="118.04" y1="270.80" x2="131.64" y2="263.75" stroke="#3e7c32" stroke-width="0.85" opacity="0.9"/>
<line x1="102.76" y1="254.96" x2="113.32" y2="240.05" stroke="#3e7c32" stroke-width="0.85" opacity="0.9"/>
<line x1="104.73" y1="256.55" x2="95.64" y2="268.43" stroke="#3e7c32" stroke-width="0.85" opacity="0.9"/>
<line x1="118.63" y1="267.22" x2="127.69" y2="257.62" stroke="#3e7c32" stroke-width="0.85" opacity="0.9"/>
<line x1="95.59" y1="245.64" x2="76.92" y2="254.55" stroke="#3e7c32" stroke-width="0.85" opacity="0.9"/>
<line x1="107.36" y1="258.45" x2="119.15" y2="252.28" stroke="#3e7c32" stroke-width="0.85" opacity="0.9"/>
<line x1="92.07" y1="248.18" x2="103.98" y2="233.71" stroke="#3e7c32" stroke-width="0.85" opacity="0.9"/>
<line x1="89.73" y1="247.30" x2="105.05" y2="239.60" stroke="#3e7c32" stroke-width="0.85" opacity="0.9"/>
<line x1="111.14" y1="258.01" x2="121.54" y2="242.02" stroke="#3e7c32" stroke-width="0.85" opacity="0.9"/>
<line x1="95.50" y1="245.51" x2="111.53" y2="238.51" stroke="#3e7c32" stroke-width="0.85" opacity="0.9"/>
<line x1="107.42" y1="259.41" x2="115.63" y2="244.30" stroke="#3e7c32" stroke-width="0.85" opacity="0.9"/>
<line x1="85.22" y1="235.95" x2="104.68" y2="226.91" stroke="#3e7c32" stroke-width="0.85" opacity="0.9"/>
<line x1="109.45" y1="264.22" x2="104.18" y2="280.82" stroke="#3e7c32" stroke-width="0.85" opacity="0.9"/>
<line x1="92.93" y1="248.51" x2="105.75" y2="234.27" stroke="#3e7c32" stroke-width="0.85" opacity="0.9"/>
<line x1="112.84" y1="269.69" x2="122.72" y2="263.01" stroke="#3e7c32" stroke-width="0.85" opacity="0.9"/>
<line x1="87.08" y1="242.93" x2="100.18" y2="237.88" stroke="#3e7c32" stroke-width="0.85" opacity="0.9"/>
<line x1="89.71" y1="241.85" x2="97.48" y2="228.32" stroke="#3e7c32" stroke-width="0.85" opacity="0.9"/>
<line x1="120.43" y1="270.13" x2="111.30" y2="287.87" stroke="#3e7c32" stroke-width="0.85" opacity="0.9"/>
<line x1="95.02" y1="250.51" x2="106.77" y2="235.66" stroke="#3e7c32" stroke-width="0.85" opacity="0.9"/>
<line x1="106.15" y1="256.62" x2="96.54" y2="271.83" stroke="#3e7c32" stroke-width="0.85" opacity="0.9"/>
<line x1="107.73" y1="258.75" x2="124.48" y2="247.16" stroke="#3e7c32" stroke-width="0.85" opacity="0.9"/>
<line x1="103.71" y1="256.77" x2="94.29" y2="274.44" stroke="#3e7c32" stroke-width="0.85" opacity="0.9"/>
<line x1="108.73" y1="265.02" x2="116.24" y2="250.29" stroke="#3e7c32" stroke-width="0.85" opacity="0.9"/>
<line x1="83.73" y1="234.64" x2="91.20" y2="220.20" stroke="#3e7c32" stroke-width="0.85" opacity="0.9"/>
<line x1="82.87" y1="241.05" x2="96.74" y2="232.45" stroke="#3e7c32" stroke-width="0.85" opacity="0.9"/>
<line x1="94.61" y1="250.34" x2="101.44" y2="230.26" stroke="#3e7c32" stroke-width="0.85" opacity="0.9"/>
<line x1="111.88" y1="266.72" x2="131.54" y2="258.25" stroke="#3e7c32" stroke-width="0.85" opacity="0.9"/>
<line x1="116.73" y1="265.59" x2="132.27" y2="250.09" stroke="#3e7c32" stroke-width="0.85" opacity="0.9"/>
<line x1="91.70" y1="246.64" x2="107.43" y2="232.78" stroke="#3e7c32" stroke-width="0.85" opacity="0.9"/>
<line x1="92.64" y1="248.18" x2="82.74" y2="258.08" stroke="#3e7c32" stroke-width="0.85" opacity="0.9"/>
<line x1="82.40" y1="236.16" x2="90.85" y2="228.34" stroke="#3e7c32" stroke-width="0.85" opacity="0.9"/>
<line x1="109.22" y1="265.18" x2="115.82" y2="245.03" stroke="#3e7c32" stroke-width="0.85" opacity="0.9"/>
<line x1="114.20" y1="267.17" x2="99.69" y2="274.01" stroke="#3e7c32" stroke-width="0.85" opacity="0.9"/>
<line x1="90.64" y1="244.79" x2="81.54" y2="264.52" stroke="#3e7c32" stroke-width="0.85" opacity="0.9"/>
<line x1="111.89" y1="260.61" x2="119.24" y2="244.44" stroke="#3e7c32" stroke-width="0.85" opacity="0.9"/>
<line x1="83.27" y1="234.21" x2="94.26" y2="216.25" stroke="#3e7c32" stroke-width="0.85" opacity="0.9"/>
<line x1="95.03" y1="244.13" x2="109.22" y2="228.19" stroke="#3e7c32" stroke-width="0.85" opacity="0.9"/>
<line x1="96.44" y1="252.75" x2="104.16" y2="240.97" stroke="#3e7c32" stroke-width="0.85" opacity="0.9"/>
<line x1="121.19" y1="275.90" x2="132.90" y2="261.25" stroke="#3e7c32" stroke-width="0.85" opacity="0.9"/>
<line x1="102.50" y1="258.60" x2="120.45" y2="247.82" stroke="#3e7c32" stroke-width="0.85" opacity="0.9"/>
<line x1="120.10" y1="270.26" x2="110.80" y2="279.97" stroke="#3e7c32" stroke-width="0.85" opacity="0.9"/>
<line x1="119.92" y1="271.85" x2="130.19" y2="266.70" stroke="#3e7c32" stroke-width="0.85" opacity="0.9"/>
<line x1="97.62" y1="248.22" x2="114.68" y2="237.16" stroke="#3e7c32" stroke-width="0.85" opacity="0.9"/>
<line x1="85.14" y1="238.30" x2="96.77" y2="226.38" stroke="#3e7c32" stroke-width="0.85" opacity="0.9"/>
<line x1="93.10" y1="251.07" x2="105.03" y2="239.36" stroke="#3e7c32" stroke-width="0.85" opacity="0.9"/>
<line x1="115.83" y1="267.59" x2="135.71" y2="258.75" stroke="#3e7c32" stroke-width="0.85" opacity="0.9"/>
<line x1="106.33" y1="253.61" x2="120.58" y2="239.57" stroke="#3e7c32" stroke-width="0.85" opacity="0.9"/>
<line x1="118.88" y1="268.54" x2="123.71" y2="256.19" stroke="#3e7c32" stroke-width="0.85" opacity="0.9"/>
<line x1="114.41" y1="268.44" x2="126.75" y2="259.50" stroke="#3e7c32" stroke-width="0.85" opacity="0.9"/>
<line x1="97.19" y1="251.20" x2="111.02" y2="245.80" stroke="#3e7c32" stroke-width="0.85" opacity="0.9"/>
<line x1="85.57" y1="240.38" x2="75.04" y2="248.29" stroke="#3e7c32" stroke-width="0.85" opacity="0.9"/>
<line x1="107.59" y1="263.15" x2="114.26" y2="248.68" stroke="#3e7c32" stroke-width="0.85" opacity="0.9"/>
<line x1="105.37" y1="256.55" x2="113.83" y2="249.16" stroke="#3e7c32" stroke-width="0.85" opacity="0.9"/>
<line x1="105.03" y1="259.30" x2="115.72" y2="241.17" stroke="#3e7c32" stroke-width="0.85" opacity="0.9"/>
<line x1="97.58" y1="248.64" x2="80.10" y2="255.34" stroke="#3e7c32" stroke-width="0.85" opacity="0.9"/>
<line x1="122.50" y1="275.77" x2="135.63" y2="260.11" stroke="#3e7c32" stroke-width="0.85" opacity="0.9"/>
<line x1="97.32" y1="249.37" x2="106.11" y2="236.51" stroke="#3e7c32" stroke-width="0.85" opacity="0.9"/>
<line x1="117.35" y1="272.33" x2="131.40" y2="255.46" stroke="#3e7c32" stroke-width="0.85" opacity="0.9"/>
<line x1="110.47" y1="260.98" x2="126.54" y2="249.13" stroke="#3e7c32" stroke-width="0.85" opacity="0.9"/>
<line x1="102.91" y1="254.16" x2="114.10" y2="239.66" stroke="#3e7c32" stroke-width="0.85" opacity="0.9"/>
<line x1="97.70" y1="251.00" x2="111.59" y2="235.00" stroke="#3e7c32" stroke-width="0.85" opacity="0.9"/>
<line x1="107.50" y1="255.18" x2="100.96" y2="267.35" stroke="#3e7c32" stroke-width="0.85" opacity="0.9"/>
<line x1="92.38" y1="249.13" x2="101.85" y2="236.00" stroke="#3e7c32" stroke-width="0.85" opacity="0.9"/>
<line x1="118.97" y1="275.39" x2="128.86" y2="260.44" stroke="#3e7c32" stroke-width="0.85" opacity="0.9"/>
<line x1="111.14" y1="258.83" x2="101.90" y2="276.03" stroke="#3e7c32" stroke-width="0.85" opacity="0.9"/>
<line x1="160.14" y1="268.51" x2="158.19" y2="257.52" stroke="#3e7c32" stroke-width="0.85" opacity="0.9"/>
<line x1="187.28" y1="256.46" x2="172.14" y2="243.68" stroke="#3e7c32" stroke-width="0.85" opacity="0.9"/>
<line x1="157.03" y1="270.37" x2="158.51" y2="283.33" stroke="#3e7c32" stroke-width="0.85" opacity="0.9"/>
<line x1="150.78" y1="281.04" x2="142.26" y2="263.02" stroke="#3e7c32" stroke-width="0.85" opacity="0.9"/>
<line x1="155.99" y1="273.15" x2="148.31" y2="253.42" stroke="#3e7c32" stroke-width="0.85" opacity="0.9"/>
<line x1="133.73" y1="287.21" x2="124.47" y2="268.01" stroke="#3e7c32" stroke-width="0.85" opacity="0.9"/>
<line x1="136.30" y1="282.16" x2="140.11" y2="294.11" stroke="#3e7c32" stroke-width="0.85" opacity="0.9"/>
<line x1="180.26" y1="265.18" x2="174.56" y2="254.97" stroke="#3e7c32" stroke-width="0.85" opacity="0.9"/>
<line x1="186.36" y1="263.67" x2="198.22" y2="274.62" stroke="#3e7c32" stroke-width="0.85" opacity="0.9"/>
<line x1="138.99" y1="281.38" x2="142.19" y2="297.55" stroke="#3e7c32" stroke-width="0.85" opacity="0.9"/>
<line x1="154.57" y1="273.52" x2="144.07" y2="261.64" stroke="#3e7c32" stroke-width="0.85" opacity="0.9"/>
<line x1="155.20" y1="279.38" x2="162.29" y2="294.40" stroke="#3e7c32" stroke-width="0.85" opacity="0.9"/>
<line x1="142.65" y1="277.23" x2="132.24" y2="263.29" stroke="#3e7c32" stroke-width="0.85" opacity="0.9"/>
<line x1="149.96" y1="273.85" x2="152.60" y2="292.31" stroke="#3e7c32" stroke-width="0.85" opacity="0.9"/>
<line x1="142.99" y1="277.87" x2="158.06" y2="293.15" stroke="#3e7c32" stroke-width="0.85" opacity="0.9"/>
<line x1="133.89" y1="289.39" x2="139.07" y2="306.94" stroke="#3e7c32" stroke-width="0.85" opacity="0.9"/>
<line x1="148.90" y1="274.26" x2="135.13" y2="260.72" stroke="#3e7c32" stroke-width="0.85" opacity="0.9"/>
<line x1="183.03" y1="261.88" x2="184.59" y2="282.98" stroke="#3e7c32" stroke-width="0.85" opacity="0.9"/>
<line x1="187.18" y1="262.73" x2="181.01" y2="245.31" stroke="#3e7c32" stroke-width="0.85" opacity="0.9"/>
<line x1="171.67" y1="267.77" x2="161.99" y2="256.86" stroke="#3e7c32" stroke-width="0.85" opacity="0.9"/>
<line x1="169.33" y1="269.88" x2="162.23" y2="255.94" stroke="#3e7c32" stroke-width="0.85" opacity="0.9"/>
<line x1="172.68" y1="262.96" x2="170.92" y2="249.39" stroke="#3e7c32" stroke-width="0.85" opacity="0.9"/>
<line x1="157.21" y1="270.86" x2="151.26" y2="250.25" stroke="#3e7c32" stroke-width="0.85" opacity="0.9"/>
<line x1="188.95" y1="256.21" x2="191.19" y2="270.10" stroke="#3e7c32" stroke-width="0.85" opacity="0.9"/>
<line x1="177.83" y1="263.93" x2="176.43" y2="249.72" stroke="#3e7c32" stroke-width="0.85" opacity="0.9"/>
<line x1="181.02" y1="265.89" x2="170.00" y2="252.73" stroke="#3e7c32" stroke-width="0.85" opacity="0.9"/>
<line x1="149.64" y1="274.75" x2="139.69" y2="263.90" stroke="#3e7c32" stroke-width="0.85" opacity="0.9"/>
<line x1="142.28" y1="284.96" x2="136.96" y2="275.21" stroke="#3e7c32" stroke-width="0.85" opacity="0.9"/>
<line x1="135.44" y1="289.88" x2="131.62" y2="274.92" stroke="#3e7c32" stroke-width="0.85" opacity="0.9"/>
<line x1="150.60" y1="280.82" x2="159.21" y2="288.83" stroke="#3e7c32" stroke-width="0.85" opacity="0.9"/>
<line x1="171.71" y1="263.40" x2="163.36" y2="245.84" stroke="#3e7c32" stroke-width="0.85" opacity="0.9"/>
<line x1="173.78" y1="263.91" x2="165.37" y2="244.32" stroke="#3e7c32" stroke-width="0.85" opacity="0.9"/>
<line x1="132.46" y1="280.66" x2="119.16" y2="268.49" stroke="#3e7c32" stroke-width="0.85" opacity="0.9"/>
<line x1="175.67" y1="262.20" x2="168.34" y2="249.45" stroke="#3e7c32" stroke-width="0.85" opacity="0.9"/>
<line x1="146.66" y1="277.30" x2="132.96" y2="264.19" stroke="#3e7c32" stroke-width="0.85" opacity="0.9"/>
<line x1="183.43" y1="257.43" x2="178.76" y2="242.73" stroke="#3e7c32" stroke-width="0.85" opacity="0.9"/>
<line x1="149.82" y1="272.89" x2="158.06" y2="282.41" stroke="#3e7c32" stroke-width="0.85" opacity="0.9"/>
<line x1="187.14" y1="263.80" x2="179.75" y2="250.72" stroke="#3e7c32" stroke-width="0.85" opacity="0.9"/>
<line x1="159.69" y1="275.56" x2="147.21" y2="262.32" stroke="#3e7c32" stroke-width="0.85" opacity="0.9"/>
<line x1="161.11" y1="268.23" x2="148.65" y2="251.43" stroke="#3e7c32" stroke-width="0.85" opacity="0.9"/>
<line x1="184.89" y1="259.85" x2="173.20" y2="246.71" stroke="#3e7c32" stroke-width="0.85" opacity="0.9"/>
<line x1="173.83" y1="267.92" x2="178.48" y2="280.15" stroke="#3e7c32" stroke-width="0.85" opacity="0.9"/>
<line x1="158.47" y1="271.85" x2="151.36" y2="251.33" stroke="#3e7c32" stroke-width="0.85" opacity="0.9"/>
<line x1="163.25" y1="271.59" x2="168.88" y2="290.90" stroke="#3e7c32" stroke-width="0.85" opacity="0.9"/>
<line x1="144.15" y1="285.25" x2="142.31" y2="271.16" stroke="#3e7c32" stroke-width="0.85" opacity="0.9"/>
<line x1="157.42" y1="274.98" x2="149.71" y2="266.06" stroke="#3e7c32" stroke-width="0.85" opacity="0.9"/>
<line x1="185.16" y1="260.81" x2="175.68" y2="252.33" stroke="#3e7c32" stroke-width="0.85" opacity="0.9"/>
<line x1="145.23" y1="280.44" x2="140.70" y2="269.53" stroke="#3e7c32" stroke-width="0.85" opacity="0.9"/>
<line x1="150.85" y1="281.05" x2="146.61" y2="264.52" stroke="#3e7c32" stroke-width="0.85" opacity="0.9"/>
<line x1="172.73" y1="270.08" x2="164.30" y2="258.72" stroke="#3e7c32" stroke-width="0.85" opacity="0.9"/>
<line x1="155.05" y1="275.58" x2="143.93" y2="265.89" stroke="#3e7c32" stroke-width="0.85" opacity="0.9"/>
<line x1="173.83" y1="271.29" x2="181.80" y2="290.70" stroke="#3e7c32" stroke-width="0.85" opacity="0.9"/>
<line x1="135.78" y1="280.07" x2="122.10" y2="267.64" stroke="#3e7c32" stroke-width="0.85" opacity="0.9"/>
<line x1="165.61" y1="267.39" x2="157.68" y2="256.39" stroke="#3e7c32" stroke-width="0.85" opacity="0.9"/>
<line x1="166.54" y1="266.74" x2="157.69" y2="251.71" stroke="#3e7c32" stroke-width="0.85" opacity="0.9"/>
<line x1="152.93" y1="275.67" x2="150.96" y2="259.31" stroke="#3e7c32" stroke-width="0.85" opacity="0.9"/>
<line x1="175.03" y1="267.98" x2="167.53" y2="258.84" stroke="#3e7c32" stroke-width="0.85" opacity="0.9"/>
<line x1="145.01" y1="283.93" x2="142.83" y2="265.14" stroke="#3e7c32" stroke-width="0.85" opacity="0.9"/>
<line x1="187.93" y1="263.84" x2="179.57" y2="248.19" stroke="#3e7c32" stroke-width="0.85" opacity="0.9"/>
<line x1="162.73" y1="272.59" x2="157.86" y2="262.21" stroke="#3e7c32" stroke-width="0.85" opacity="0.9"/>
<line x1="171.17" y1="263.43" x2="169.45" y2="243.69" stroke="#3e7c32" stroke-width="0.85" opacity="0.9"/>
<line x1="155.01" y1="273.60" x2="145.31" y2="263.83" stroke="#3e7c32" stroke-width="0.85" opacity="0.9"/>
<line x1="158.27" y1="279.00" x2="144.22" y2="264.11" stroke="#3e7c32" stroke-width="0.85" opacity="0.9"/>
<line x1="187.07" y1="262.85" x2="173.52" y2="249.48" stroke="#3e7c32" stroke-width="0.85" opacity="0.9"/>
<line x1="179.87" y1="266.53" x2="182.29" y2="284.26" stroke="#3e7c32" stroke-width="0.85" opacity="0.9"/>
<line x1="150.60" y1="277.02" x2="149.38" y2="263.21" stroke="#3e7c32" stroke-width="0.85" opacity="0.9"/>
<line x1="160.31" y1="272.25" x2="163.24" y2="292.79" stroke="#3e7c32" stroke-width="0.85" opacity="0.9"/>
<line x1="183.35" y1="263.45" x2="179.21" y2="251.26" stroke="#3e7c32" stroke-width="0.85" opacity="0.9"/>
<line x1="181.04" y1="266.06" x2="176.09" y2="256.05" stroke="#3e7c32" stroke-width="0.85" opacity="0.9"/>
<line x1="140.71" y1="286.45" x2="143.61" y2="300.66" stroke="#3e7c32" stroke-width="0.85" opacity="0.9"/>
<line x1="164.22" y1="274.31" x2="158.41" y2="254.59" stroke="#3e7c32" stroke-width="0.85" opacity="0.9"/>
<line x1="176.46" y1="270.27" x2="162.75" y2="254.37" stroke="#3e7c32" stroke-width="0.85" opacity="0.9"/>
<line x1="150.68" y1="273.24" x2="146.92" y2="260.76" stroke="#3e7c32" stroke-width="0.85" opacity="0.9"/>
<line x1="144.82" y1="282.92" x2="130.90" y2="266.63" stroke="#3e7c32" stroke-width="0.85" opacity="0.9"/>
<line x1="170.58" y1="272.61" x2="165.17" y2="261.30" stroke="#3e7c32" stroke-width="0.85" opacity="0.9"/>
<polygon points="38.30,287.99 97.30,285.99 97.37,287.99 38.37,289.99" fill="#20203a" stroke="none" stroke-width="1" />
<circle cx="92.09" cy="269.33" r="2.30" fill="url(#grball)" stroke="none" stroke-width="1" />
<circle cx="82.75" cy="269.50" r="3.10" fill="url(#orball)" stroke="none" stroke-width="1" />
<circle cx="86.71" cy="269.87" r="3.10" fill="url(#orball)" stroke="none" stroke-width="1" />
<circle cx="52.05" cy="270.52" r="3.10" fill="url(#orball)" stroke="none" stroke-width="1" />
<circle cx="92.71" cy="270.61" r="3.10" fill="url(#orball)" stroke="none" stroke-width="1" />
<circle cx="72.85" cy="270.74" r="3.10" fill="url(#orball)" stroke="none" stroke-width="1" />
<circle cx="72.92" cy="270.98" r="3.10" fill="url(#orball)" stroke="none" stroke-width="1" />
<circle cx="61.03" cy="271.05" r="3.10" fill="url(#orball)" stroke="none" stroke-width="1" />
<circle cx="78.16" cy="271.14" r="3.10" fill="url(#orball)" stroke="none" stroke-width="1" />
<circle cx="94.63" cy="271.14" r="2.30" fill="url(#grball)" stroke="none" stroke-width="1" />
<circle cx="59.84" cy="271.18" r="3.10" fill="url(#orball)" stroke="none" stroke-width="1" />
<circle cx="57.93" cy="271.34" r="2.30" fill="url(#grball)" stroke="none" stroke-width="1" />
<circle cx="43.75" cy="271.46" r="3.10" fill="url(#orball)" stroke="none" stroke-width="1" />
<circle cx="95.26" cy="271.61" r="2.30" fill="url(#grball)" stroke="none" stroke-width="1" />
<circle cx="50.23" cy="272.10" r="3.10" fill="url(#orball)" stroke="none" stroke-width="1" />
<circle cx="52.21" cy="272.16" r="3.10" fill="url(#orball)" stroke="none" stroke-width="1" />
<circle cx="58.41" cy="272.25" r="2.30" fill="url(#grball)" stroke="none" stroke-width="1" />
<circle cx="89.64" cy="272.45" r="3.10" fill="url(#orball)" stroke="none" stroke-width="1" />
<circle cx="52.99" cy="272.67" r="2.30" fill="url(#grball)" stroke="none" stroke-width="1" />
<circle cx="93.75" cy="272.71" r="3.10" fill="url(#orball)" stroke="none" stroke-width="1" />
<circle cx="46.75" cy="272.73" r="3.10" fill="url(#orball)" stroke="none" stroke-width="1" />
<circle cx="56.39" cy="272.96" r="3.10" fill="url(#orball)" stroke="none" stroke-width="1" />
<circle cx="88.43" cy="273.36" r="2.30" fill="url(#grball)" stroke="none" stroke-width="1" />
<circle cx="81.49" cy="273.40" r="3.10" fill="url(#orball)" stroke="none" stroke-width="1" />
<circle cx="83.32" cy="273.42" r="3.10" fill="url(#orball)" stroke="none" stroke-width="1" />
<circle cx="46.14" cy="273.57" r="3.10" fill="url(#orball)" stroke="none" stroke-width="1" />
<circle cx="40.22" cy="273.77" r="3.10" fill="url(#orball)" stroke="none" stroke-width="1" />
<circle cx="92.69" cy="274.00" r="3.10" fill="url(#orball)" stroke="none" stroke-width="1" />
<circle cx="73.75" cy="274.14" r="2.30" fill="url(#grball)" stroke="none" stroke-width="1" />
<circle cx="71.89" cy="274.20" r="2.30" fill="url(#grball)" stroke="none" stroke-width="1" />
<circle cx="94.57" cy="274.25" r="3.10" fill="url(#orball)" stroke="none" stroke-width="1" />
<circle cx="52.29" cy="274.57" r="2.30" fill="url(#grball)" stroke="none" stroke-width="1" />
<circle cx="43.64" cy="274.75" r="3.10" fill="url(#orball)" stroke="none" stroke-width="1" />
<circle cx="62.53" cy="275.02" r="3.10" fill="url(#orball)" stroke="none" stroke-width="1" />
<circle cx="74.18" cy="275.25" r="3.10" fill="url(#orball)" stroke="none" stroke-width="1" />
<circle cx="92.36" cy="275.43" r="2.30" fill="url(#grball)" stroke="none" stroke-width="1" />
<circle cx="51.32" cy="275.68" r="3.10" fill="url(#orball)" stroke="none" stroke-width="1" />
<circle cx="84.85" cy="275.78" r="3.10" fill="url(#orball)" stroke="none" stroke-width="1" />
<circle cx="44.59" cy="275.94" r="3.10" fill="url(#orball)" stroke="none" stroke-width="1" />
<circle cx="47.70" cy="277.26" r="3.10" fill="url(#orball)" stroke="none" stroke-width="1" />
<circle cx="93.74" cy="277.71" r="3.10" fill="url(#orball)" stroke="none" stroke-width="1" />
<circle cx="39.52" cy="277.80" r="3.10" fill="url(#orball)" stroke="none" stroke-width="1" />
<circle cx="73.33" cy="277.84" r="3.10" fill="url(#orball)" stroke="none" stroke-width="1" />
<circle cx="90.97" cy="277.95" r="3.10" fill="url(#orball)" stroke="none" stroke-width="1" />
<circle cx="63.55" cy="278.27" r="3.10" fill="url(#orball)" stroke="none" stroke-width="1" />
<circle cx="82.37" cy="278.42" r="3.10" fill="url(#orball)" stroke="none" stroke-width="1" />
<circle cx="56.25" cy="278.69" r="3.10" fill="url(#orball)" stroke="none" stroke-width="1" />
<circle cx="94.04" cy="278.75" r="3.10" fill="url(#orball)" stroke="none" stroke-width="1" />
<circle cx="90.54" cy="278.80" r="3.10" fill="url(#orball)" stroke="none" stroke-width="1" />
<circle cx="51.21" cy="279.06" r="3.10" fill="url(#orball)" stroke="none" stroke-width="1" />
<circle cx="63.03" cy="279.10" r="2.30" fill="url(#grball)" stroke="none" stroke-width="1" />
<circle cx="81.96" cy="279.22" r="3.10" fill="url(#orball)" stroke="none" stroke-width="1" />
<circle cx="45.80" cy="279.29" r="3.10" fill="url(#orball)" stroke="none" stroke-width="1" />
<circle cx="52.55" cy="279.33" r="3.10" fill="url(#orball)" stroke="none" stroke-width="1" />
<circle cx="53.99" cy="279.36" r="3.10" fill="url(#orball)" stroke="none" stroke-width="1" />
<circle cx="55.94" cy="279.49" r="3.10" fill="url(#orball)" stroke="none" stroke-width="1" />
<circle cx="51.25" cy="279.71" r="2.30" fill="url(#grball)" stroke="none" stroke-width="1" />
<circle cx="65.94" cy="279.83" r="2.30" fill="url(#grball)" stroke="none" stroke-width="1" />
<circle cx="58.69" cy="280.00" r="3.10" fill="url(#orball)" stroke="none" stroke-width="1" />
<circle cx="84.65" cy="280.04" r="3.10" fill="url(#orball)" stroke="none" stroke-width="1" />
<circle cx="95.18" cy="280.23" r="3.10" fill="url(#orball)" stroke="none" stroke-width="1" />
<circle cx="85.90" cy="280.30" r="2.30" fill="url(#grball)" stroke="none" stroke-width="1" />
<circle cx="60.84" cy="280.31" r="3.10" fill="url(#orball)" stroke="none" stroke-width="1" />
<circle cx="50.88" cy="280.92" r="3.10" fill="url(#orball)" stroke="none" stroke-width="1" />
<circle cx="73.21" cy="280.97" r="3.10" fill="url(#orball)" stroke="none" stroke-width="1" />
<circle cx="91.35" cy="281.65" r="3.10" fill="url(#orball)" stroke="none" stroke-width="1" />
<circle cx="55.95" cy="282.08" r="3.10" fill="url(#orball)" stroke="none" stroke-width="1" />
<circle cx="38.96" cy="282.13" r="2.30" fill="url(#grball)" stroke="none" stroke-width="1" />
<circle cx="90.74" cy="282.41" r="3.10" fill="url(#orball)" stroke="none" stroke-width="1" />
<circle cx="69.31" cy="282.51" r="2.30" fill="url(#grball)" stroke="none" stroke-width="1" />
<circle cx="70.11" cy="283.03" r="3.10" fill="url(#orball)" stroke="none" stroke-width="1" />
<circle cx="65.92" cy="283.10" r="3.10" fill="url(#orball)" stroke="none" stroke-width="1" />
<circle cx="81.26" cy="283.62" r="2.30" fill="url(#grball)" stroke="none" stroke-width="1" />
<circle cx="90.56" cy="283.62" r="3.10" fill="url(#orball)" stroke="none" stroke-width="1" />
<circle cx="67.24" cy="283.69" r="3.10" fill="url(#orball)" stroke="none" stroke-width="1" />
<circle cx="83.88" cy="283.83" r="3.10" fill="url(#orball)" stroke="none" stroke-width="1" />
<circle cx="91.09" cy="284.09" r="2.30" fill="url(#grball)" stroke="none" stroke-width="1" />
<circle cx="74.16" cy="284.17" r="2.30" fill="url(#grball)" stroke="none" stroke-width="1" />
<circle cx="52.20" cy="284.57" r="3.10" fill="url(#orball)" stroke="none" stroke-width="1" />
<circle cx="72.96" cy="284.58" r="3.10" fill="url(#orball)" stroke="none" stroke-width="1" />
<circle cx="94.03" cy="284.63" r="3.10" fill="url(#orball)" stroke="none" stroke-width="1" />
<circle cx="87.81" cy="284.92" r="3.10" fill="url(#orball)" stroke="none" stroke-width="1" />
<circle cx="78.11" cy="284.93" r="3.10" fill="url(#orball)" stroke="none" stroke-width="1" />
<circle cx="46.05" cy="285.11" r="2.30" fill="url(#grball)" stroke="none" stroke-width="1" />
<circle cx="50.01" cy="285.63" r="3.10" fill="url(#orball)" stroke="none" stroke-width="1" />
<polygon points="75.49,241.80 115.49,279.80 114.11,281.25 74.11,243.25" fill="#20203a" stroke="none" stroke-width="1" />
<circle cx="88.05" cy="234.24" r="3.10" fill="url(#orball)" stroke="none" stroke-width="1" />
<circle cx="85.84" cy="235.59" r="3.10" fill="url(#orball)" stroke="none" stroke-width="1" />
<circle cx="81.66" cy="236.64" r="3.10" fill="url(#orball)" stroke="none" stroke-width="1" />
<circle cx="84.71" cy="237.08" r="3.10" fill="url(#orball)" stroke="none" stroke-width="1" />
<circle cx="92.46" cy="237.45" r="3.10" fill="url(#orball)" stroke="none" stroke-width="1" />
<circle cx="77.56" cy="240.09" r="3.10" fill="url(#orball)" stroke="none" stroke-width="1" />
<circle cx="86.22" cy="240.34" r="3.10" fill="url(#orball)" stroke="none" stroke-width="1" />
<circle cx="91.16" cy="241.51" r="2.30" fill="url(#grball)" stroke="none" stroke-width="1" />
<circle cx="93.37" cy="244.56" r="3.10" fill="url(#orball)" stroke="none" stroke-width="1" />
<circle cx="90.59" cy="244.89" r="3.10" fill="url(#orball)" stroke="none" stroke-width="1" />
<circle cx="95.58" cy="245.31" r="3.10" fill="url(#orball)" stroke="none" stroke-width="1" />
<circle cx="97.46" cy="245.65" r="3.10" fill="url(#orball)" stroke="none" stroke-width="1" />
<circle cx="84.54" cy="246.60" r="3.10" fill="url(#orball)" stroke="none" stroke-width="1" />
<circle cx="95.69" cy="247.33" r="2.30" fill="url(#grball)" stroke="none" stroke-width="1" />
<circle cx="97.45" cy="247.54" r="2.30" fill="url(#grball)" stroke="none" stroke-width="1" />
<circle cx="96.56" cy="247.55" r="3.10" fill="url(#orball)" stroke="none" stroke-width="1" />
<circle cx="102.95" cy="248.18" r="3.10" fill="url(#orball)" stroke="none" stroke-width="1" />
<circle cx="86.13" cy="248.59" r="3.10" fill="url(#orball)" stroke="none" stroke-width="1" />
<circle cx="103.21" cy="248.79" r="3.10" fill="url(#orball)" stroke="none" stroke-width="1" />
<circle cx="90.10" cy="249.11" r="3.10" fill="url(#orball)" stroke="none" stroke-width="1" />
<circle cx="99.43" cy="249.24" r="3.10" fill="url(#orball)" stroke="none" stroke-width="1" />
<circle cx="101.98" cy="249.55" r="3.10" fill="url(#orball)" stroke="none" stroke-width="1" />
<circle cx="95.56" cy="249.77" r="3.10" fill="url(#orball)" stroke="none" stroke-width="1" />
<circle cx="105.61" cy="251.42" r="3.10" fill="url(#orball)" stroke="none" stroke-width="1" />
<circle cx="96.24" cy="252.74" r="3.10" fill="url(#orball)" stroke="none" stroke-width="1" />
<circle cx="98.60" cy="252.77" r="3.10" fill="url(#orball)" stroke="none" stroke-width="1" />
<circle cx="106.70" cy="252.97" r="3.10" fill="url(#orball)" stroke="none" stroke-width="1" />
<circle cx="106.54" cy="253.65" r="3.10" fill="url(#orball)" stroke="none" stroke-width="1" />
<circle cx="92.38" cy="253.75" r="3.10" fill="url(#orball)" stroke="none" stroke-width="1" />
<circle cx="102.25" cy="254.19" r="3.10" fill="url(#orball)" stroke="none" stroke-width="1" />
<circle cx="96.98" cy="254.27" r="3.10" fill="url(#orball)" stroke="none" stroke-width="1" />
<circle cx="103.75" cy="254.86" r="2.30" fill="url(#grball)" stroke="none" stroke-width="1" />
<circle cx="105.19" cy="255.11" r="3.10" fill="url(#orball)" stroke="none" stroke-width="1" />
<circle cx="93.34" cy="256.18" r="3.10" fill="url(#orball)" stroke="none" stroke-width="1" />
<circle cx="100.65" cy="256.26" r="3.10" fill="url(#orball)" stroke="none" stroke-width="1" />
<circle cx="94.36" cy="256.66" r="3.10" fill="url(#orball)" stroke="none" stroke-width="1" />
<circle cx="107.67" cy="256.68" r="3.10" fill="url(#orball)" stroke="none" stroke-width="1" />
<circle cx="107.19" cy="257.20" r="3.10" fill="url(#orball)" stroke="none" stroke-width="1" />
<circle cx="103.68" cy="258.18" r="3.10" fill="url(#orball)" stroke="none" stroke-width="1" />
<circle cx="107.17" cy="258.19" r="3.10" fill="url(#orball)" stroke="none" stroke-width="1" />
<circle cx="103.43" cy="258.64" r="2.30" fill="url(#grball)" stroke="none" stroke-width="1" />
<circle cx="103.89" cy="259.60" r="3.10" fill="url(#orball)" stroke="none" stroke-width="1" />
<circle cx="102.64" cy="259.79" r="3.10" fill="url(#orball)" stroke="none" stroke-width="1" />
<circle cx="97.19" cy="259.79" r="3.10" fill="url(#orball)" stroke="none" stroke-width="1" />
<circle cx="96.13" cy="259.88" r="3.10" fill="url(#orball)" stroke="none" stroke-width="1" />
<circle cx="114.63" cy="260.42" r="3.10" fill="url(#orball)" stroke="none" stroke-width="1" />
<circle cx="113.60" cy="260.68" r="3.10" fill="url(#orball)" stroke="none" stroke-width="1" />
<circle cx="115.18" cy="260.86" r="3.10" fill="url(#orball)" stroke="none" stroke-width="1" />
<circle cx="102.72" cy="261.11" r="3.10" fill="url(#orball)" stroke="none" stroke-width="1" />
<circle cx="114.66" cy="261.79" r="2.30" fill="url(#grball)" stroke="none" stroke-width="1" />
<circle cx="117.12" cy="261.90" r="3.10" fill="url(#orball)" stroke="none" stroke-width="1" />
<circle cx="105.91" cy="261.90" r="2.30" fill="url(#grball)" stroke="none" stroke-width="1" />
<circle cx="108.38" cy="262.20" r="3.10" fill="url(#orball)" stroke="none" stroke-width="1" />
<circle cx="100.70" cy="263.50" r="2.30" fill="url(#grball)" stroke="none" stroke-width="1" />
<circle cx="112.36" cy="263.81" r="3.10" fill="url(#orball)" stroke="none" stroke-width="1" />
<circle cx="114.86" cy="263.88" r="3.10" fill="url(#orball)" stroke="none" stroke-width="1" />
<circle cx="111.62" cy="264.20" r="3.10" fill="url(#orball)" stroke="none" stroke-width="1" />
<circle cx="115.78" cy="264.41" r="2.30" fill="url(#grball)" stroke="none" stroke-width="1" />
<circle cx="111.62" cy="265.70" r="2.30" fill="url(#grball)" stroke="none" stroke-width="1" />
<circle cx="107.09" cy="266.13" r="2.30" fill="url(#grball)" stroke="none" stroke-width="1" />
<circle cx="115.45" cy="266.15" r="2.30" fill="url(#grball)" stroke="none" stroke-width="1" />
<circle cx="105.13" cy="267.59" r="3.10" fill="url(#orball)" stroke="none" stroke-width="1" />
<circle cx="113.11" cy="268.45" r="3.10" fill="url(#orball)" stroke="none" stroke-width="1" />
<circle cx="118.45" cy="270.09" r="3.10" fill="url(#orball)" stroke="none" stroke-width="1" />
<circle cx="115.27" cy="270.20" r="3.10" fill="url(#orball)" stroke="none" stroke-width="1" />
<circle cx="109.63" cy="270.27" r="2.30" fill="url(#grball)" stroke="none" stroke-width="1" />
<circle cx="112.74" cy="271.10" r="2.30" fill="url(#grball)" stroke="none" stroke-width="1" />
<circle cx="122.68" cy="271.94" r="2.30" fill="url(#grball)" stroke="none" stroke-width="1" />
<circle cx="114.77" cy="272.71" r="3.10" fill="url(#orball)" stroke="none" stroke-width="1" />
<circle cx="117.85" cy="273.54" r="3.10" fill="url(#orball)" stroke="none" stroke-width="1" />
<polygon points="136.63,294.68 191.63,268.68 192.49,270.49 137.49,296.49" fill="#20203a" stroke="none" stroke-width="1" />
<circle cx="182.13" cy="255.82" r="2.30" fill="url(#grball)" stroke="none" stroke-width="1" />
<circle cx="185.29" cy="256.80" r="3.10" fill="url(#orball)" stroke="none" stroke-width="1" />
<circle cx="180.24" cy="257.47" r="3.10" fill="url(#orball)" stroke="none" stroke-width="1" />
<circle cx="180.03" cy="260.38" r="2.30" fill="url(#grball)" stroke="none" stroke-width="1" />
<circle cx="172.80" cy="260.94" r="3.10" fill="url(#orball)" stroke="none" stroke-width="1" />
<circle cx="187.68" cy="260.95" r="3.10" fill="url(#orball)" stroke="none" stroke-width="1" />
<circle cx="183.14" cy="262.51" r="3.10" fill="url(#orball)" stroke="none" stroke-width="1" />
<circle cx="173.83" cy="262.74" r="3.10" fill="url(#orball)" stroke="none" stroke-width="1" />
<circle cx="172.01" cy="264.37" r="2.30" fill="url(#grball)" stroke="none" stroke-width="1" />
<circle cx="163.82" cy="264.80" r="2.30" fill="url(#grball)" stroke="none" stroke-width="1" />
<circle cx="178.44" cy="264.90" r="2.30" fill="url(#grball)" stroke="none" stroke-width="1" />
<circle cx="183.08" cy="265.42" r="2.30" fill="url(#grball)" stroke="none" stroke-width="1" />
<circle cx="175.09" cy="266.14" r="3.10" fill="url(#orball)" stroke="none" stroke-width="1" />
<circle cx="178.77" cy="267.38" r="3.10" fill="url(#orball)" stroke="none" stroke-width="1" />
<circle cx="190.99" cy="267.42" r="3.10" fill="url(#orball)" stroke="none" stroke-width="1" />
<circle cx="172.68" cy="267.56" r="3.10" fill="url(#orball)" stroke="none" stroke-width="1" />
<circle cx="177.14" cy="267.81" r="3.10" fill="url(#orball)" stroke="none" stroke-width="1" />
<circle cx="157.76" cy="267.86" r="3.10" fill="url(#orball)" stroke="none" stroke-width="1" />
<circle cx="172.13" cy="267.96" r="3.10" fill="url(#orball)" stroke="none" stroke-width="1" />
<circle cx="153.98" cy="268.90" r="3.10" fill="url(#orball)" stroke="none" stroke-width="1" />
<circle cx="165.16" cy="269.34" r="3.10" fill="url(#orball)" stroke="none" stroke-width="1" />
<circle cx="168.36" cy="269.54" r="2.30" fill="url(#grball)" stroke="none" stroke-width="1" />
<circle cx="185.11" cy="269.60" r="3.10" fill="url(#orball)" stroke="none" stroke-width="1" />
<circle cx="184.51" cy="269.70" r="3.10" fill="url(#orball)" stroke="none" stroke-width="1" />
<circle cx="183.49" cy="269.89" r="3.10" fill="url(#orball)" stroke="none" stroke-width="1" />
<circle cx="177.19" cy="270.11" r="3.10" fill="url(#orball)" stroke="none" stroke-width="1" />
<circle cx="181.48" cy="270.42" r="2.30" fill="url(#grball)" stroke="none" stroke-width="1" />
<circle cx="157.81" cy="270.49" r="3.10" fill="url(#orball)" stroke="none" stroke-width="1" />
<circle cx="153.49" cy="270.91" r="3.10" fill="url(#orball)" stroke="none" stroke-width="1" />
<circle cx="166.90" cy="270.96" r="3.10" fill="url(#orball)" stroke="none" stroke-width="1" />
<circle cx="177.33" cy="270.98" r="3.10" fill="url(#orball)" stroke="none" stroke-width="1" />
<circle cx="163.83" cy="271.03" r="3.10" fill="url(#orball)" stroke="none" stroke-width="1" />
<circle cx="183.54" cy="271.30" r="3.10" fill="url(#orball)" stroke="none" stroke-width="1" />
<circle cx="180.32" cy="271.58" r="3.10" fill="url(#orball)" stroke="none" stroke-width="1" />
<circle cx="150.01" cy="271.83" r="3.10" fill="url(#orball)" stroke="none" stroke-width="1" />
<circle cx="169.78" cy="271.87" r="3.10" fill="url(#orball)" stroke="none" stroke-width="1" />
<circle cx="181.96" cy="271.92" r="3.10" fill="url(#orball)" stroke="none" stroke-width="1" />
<circle cx="158.18" cy="272.98" r="3.10" fill="url(#orball)" stroke="none" stroke-width="1" />
<circle cx="164.50" cy="273.71" r="3.10" fill="url(#orball)" stroke="none" stroke-width="1" />
<circle cx="169.18" cy="274.07" r="3.10" fill="url(#orball)" stroke="none" stroke-width="1" />
<circle cx="146.08" cy="274.13" r="3.10" fill="url(#orball)" stroke="none" stroke-width="1" />
<circle cx="159.10" cy="274.79" r="3.10" fill="url(#orball)" stroke="none" stroke-width="1" />
<circle cx="161.45" cy="274.96" r="3.10" fill="url(#orball)" stroke="none" stroke-width="1" />
<circle cx="143.20" cy="275.05" r="3.10" fill="url(#orball)" stroke="none" stroke-width="1" />
<circle cx="169.55" cy="275.21" r="3.10" fill="url(#orball)" stroke="none" stroke-width="1" />
<circle cx="155.47" cy="275.86" r="3.10" fill="url(#orball)" stroke="none" stroke-width="1" />
<circle cx="166.68" cy="275.87" r="2.30" fill="url(#grball)" stroke="none" stroke-width="1" />
<circle cx="149.68" cy="275.99" r="3.10" fill="url(#orball)" stroke="none" stroke-width="1" />
<circle cx="141.19" cy="276.58" r="3.10" fill="url(#orball)" stroke="none" stroke-width="1" />
<circle cx="146.30" cy="276.70" r="3.10" fill="url(#orball)" stroke="none" stroke-width="1" />
<circle cx="156.96" cy="277.25" r="3.10" fill="url(#orball)" stroke="none" stroke-width="1" />
<circle cx="162.12" cy="277.38" r="3.10" fill="url(#orball)" stroke="none" stroke-width="1" />
<circle cx="146.47" cy="277.65" r="3.10" fill="url(#orball)" stroke="none" stroke-width="1" />
<circle cx="154.43" cy="277.98" r="2.30" fill="url(#grball)" stroke="none" stroke-width="1" />
<circle cx="161.68" cy="278.12" r="3.10" fill="url(#orball)" stroke="none" stroke-width="1" />
<circle cx="145.57" cy="278.27" r="3.10" fill="url(#orball)" stroke="none" stroke-width="1" />
<circle cx="163.13" cy="278.43" r="3.10" fill="url(#orball)" stroke="none" stroke-width="1" />
<circle cx="163.85" cy="278.53" r="2.30" fill="url(#grball)" stroke="none" stroke-width="1" />
<circle cx="135.41" cy="278.77" r="3.10" fill="url(#orball)" stroke="none" stroke-width="1" />
<circle cx="131.87" cy="279.68" r="3.10" fill="url(#orball)" stroke="none" stroke-width="1" />
<circle cx="145.13" cy="279.71" r="2.30" fill="url(#grball)" stroke="none" stroke-width="1" />
<circle cx="161.49" cy="279.76" r="2.30" fill="url(#grball)" stroke="none" stroke-width="1" />
<circle cx="145.63" cy="281.00" r="3.10" fill="url(#orball)" stroke="none" stroke-width="1" />
<circle cx="157.43" cy="281.15" r="3.10" fill="url(#orball)" stroke="none" stroke-width="1" />
<circle cx="160.88" cy="281.30" r="2.30" fill="url(#grball)" stroke="none" stroke-width="1" />
<circle cx="155.33" cy="281.41" r="3.10" fill="url(#orball)" stroke="none" stroke-width="1" />
<circle cx="161.32" cy="281.47" r="3.10" fill="url(#orball)" stroke="none" stroke-width="1" />
<circle cx="138.89" cy="281.73" r="3.10" fill="url(#orball)" stroke="none" stroke-width="1" />
<circle cx="142.33" cy="282.07" r="3.10" fill="url(#orball)" stroke="none" stroke-width="1" />
<circle cx="149.92" cy="282.52" r="3.10" fill="url(#orball)" stroke="none" stroke-width="1" />
<circle cx="154.47" cy="282.94" r="3.10" fill="url(#orball)" stroke="none" stroke-width="1" />
<circle cx="154.93" cy="282.95" r="3.10" fill="url(#orball)" stroke="none" stroke-width="1" />
<circle cx="155.77" cy="283.65" r="3.10" fill="url(#orball)" stroke="none" stroke-width="1" />
<circle cx="146.88" cy="284.73" r="3.10" fill="url(#orball)" stroke="none" stroke-width="1" />
<circle cx="134.90" cy="285.12" r="2.30" fill="url(#grball)" stroke="none" stroke-width="1" />
<circle cx="135.55" cy="286.21" r="3.10" fill="url(#orball)" stroke="none" stroke-width="1" />
<circle cx="149.14" cy="286.30" r="2.30" fill="url(#grball)" stroke="none" stroke-width="1" />
<circle cx="137.73" cy="286.43" r="2.30" fill="url(#grball)" stroke="none" stroke-width="1" />
<circle cx="151.21" cy="286.55" r="2.30" fill="url(#grball)" stroke="none" stroke-width="1" />
<circle cx="139.27" cy="287.36" r="3.10" fill="url(#orball)" stroke="none" stroke-width="1" />
<circle cx="140.82" cy="287.76" r="2.30" fill="url(#grball)" stroke="none" stroke-width="1" />
<circle cx="137.05" cy="290.76" r="3.10" fill="url(#orball)" stroke="none" stroke-width="1" />
<polyline points="37.0,280.0 56.0,272.0 76.5,261.0 95.5,251.0 107.0,252.0 120.0,254.0 133.5,258.0 148.0,264.0 162.7,268.4 171.4,280.0" fill="none" stroke="#e8f0ff" stroke-width="4.5" stroke-linejoin="round" opacity="0.3"/>
<polyline points="37.0,280.0 56.0,272.0 76.5,261.0 95.5,251.0 107.0,252.0 120.0,254.0 133.5,258.0 148.0,264.0 162.7,268.4 171.4,280.0" fill="none" stroke="#ffffff" stroke-width="1.1" stroke-linejoin="round" />
<polyline points="37.5,283.8 57.5,275.1 75.5,264.4 96.4,255.2 108.3,256.7 120.8,258.1 133.1,262.7 147.7,268.8 161.9,271.1 169.6,283.2" fill="none" stroke="#ffffff" stroke-width="0.6" stroke-linejoin="round" opacity="0.8"/>
<g filter="url(#nzh)">
<rect x="11.00" y="299.80" width="94.50" height="94.00" fill="#d8d8d8" stroke="none" stroke-width="1" />
<polygon points="44.00,300.00 105.50,300.00 105.50,393.80 72.00,393.80 50.00,381.00 30.00,368.00 25.00,345.00 35.00,335.00 30.00,330.00 38.00,318.00" fill="#929292" stroke="none" stroke-width="1" />
<polygon points="60.00,300.00 105.50,300.00 105.50,350.00 80.00,360.00 70.00,330.00" fill="#828282" stroke="none" stroke-width="1" />
<polygon points="30.00,350.00 45.00,345.00 55.00,370.00 45.00,385.00 32.00,372.00" fill="#6a6a6a" stroke="none" stroke-width="1" />
<polygon points="20.00,325.00 30.00,318.00 38.00,326.00 30.00,338.00 18.00,336.00" fill="#7c7c7c" stroke="none" stroke-width="1" />
<polygon points="75.00,318.00 92.00,310.00 97.00,330.00 82.00,342.00" fill="#707070" stroke="none" stroke-width="1" />
<polygon points="25.00,345.00 35.00,335.00 45.00,350.00 40.00,372.00 30.00,368.00" fill="#6e6e6e" stroke="none" stroke-width="1" />
</g>
<rect x="62.30" y="351.10" width="43.20" height="42.70" fill="#8a8a8a" stroke="none" stroke-width="1" filter="url(#nzh)"/>
<line x1="70.00" y1="392.00" x2="95.00" y2="360.00" stroke="#4a4a4a" stroke-width="2.0" opacity="0.7"/>
<rect x="62.30" y="351.10" width="43.20" height="42.70" fill="none" stroke="#e2a42c" stroke-width="0.9" />
<rect x="48.30" y="336.90" width="9.40" height="8.90" fill="none" stroke="#e2a42c" stroke-width="0.8" />
<line x1="57.70" y1="336.90" x2="105.50" y2="351.10" stroke="#e2a42c" stroke-width="0.8" />
<line x1="48.30" y1="345.80" x2="62.30" y2="393.80" stroke="#e2a42c" stroke-width="0.8" />
<rect x="13.00" y="388.50" width="8.00" height="2.00" fill="#555" stroke="none" stroke-width="1" />
<rect x="65.00" y="390.50" width="7.00" height="1.00" fill="#fff" stroke="none" stroke-width="1" />
<rect x="107.20" y="300.10" width="94.50" height="93.70" fill="#505050" stroke="none" stroke-width="1" filter="url(#nzh)"/>
<circle cx="153.00" cy="332.00" r="8.50" fill="#3a3a3a" stroke="none" stroke-width="1" opacity="0.7"/>
<circle cx="131.00" cy="355.00" r="6.00" fill="#3e3e3e" stroke="none" stroke-width="1" opacity="0.5"/>
<polygon points="117.40,393.80 142.50,393.80 201.70,318.00 201.70,300.10 181.00,300.10" fill="#9a8a68" stroke="none" stroke-width="1" opacity="0.5"/>
<text x="127.6" y="314.0" font-size="4.6" font-weight="normal" fill="#e6c81e" text-anchor="start" >d=0.26 nm</text>
<text x="128.6" y="320.2" font-size="4.6" font-weight="normal" fill="#e6c81e" text-anchor="start" >ZnO (002)</text>
<ellipse cx="136.3" cy="329.2" rx="3.7" ry="4.6" fill="none" stroke="#e6c81e" stroke-width="0.6" stroke-dasharray="1 0.8"/>
<line x1="135.50" y1="326.50" x2="137.00" y2="332.00" stroke="#e6c81e" stroke-width="0.6" />
<text x="136.2" y="366.8" font-size="4.6" font-weight="normal" fill="#e6c81e" text-anchor="start" >d=0.26 nm</text>
<text x="137.2" y="373.0" font-size="4.6" font-weight="normal" fill="#e6c81e" text-anchor="start" >ZnO (002)</text>
<line x1="134.20" y1="375.40" x2="141.90" y2="381.40" stroke="#e6c81e" stroke-width="0.8" />
<circle cx="182.90" cy="364.30" r="6.00" fill="none" stroke="#22a8b8" stroke-width="0.6" stroke-dasharray="1 0.8"/>
<line x1="180.00" y1="362.00" x2="186.00" y2="367.00" stroke="#22a8b8" stroke-width="0.7" />
<text x="176.6" y="378.4" font-size="4.6" font-weight="normal" fill="#22a8b8" text-anchor="start" >d=0.33 nm</text>
<text x="176.6" y="384.8" font-size="4.6" font-weight="normal" fill="#22a8b8" text-anchor="start" >SnO2 (110)</text>
<rect x="109.00" y="392.00" width="14.00" height="0.80" fill="#ddd" stroke="none" stroke-width="1" />
<text x="2.0" y="427.0" font-size="14" font-weight="bold" fill="#000" text-anchor="start" >i</text>
<rect x="7.80" y="413.00" width="199.00" height="95.40" fill="#fff" stroke="#eaa848" stroke-width="1.5" />
<rect x="13.30" y="433.10" width="70.70" height="20.00" fill="#a4552a" stroke="none" stroke-width="1" />
<rect x="13.30" y="453.10" width="70.70" height="37.60" fill="#8c9fcb" stroke="none" stroke-width="1" />
<text x="48.7" y="447.0" font-size="7.7" font-weight="normal" fill="#0a0a0a" text-anchor="middle" >Depletion layer</text>
<polygon points="24.20,456.60 27.80,456.60 26.00,453.40" fill="#111" stroke="none" stroke-width="1" />
<line x1="26.00" y1="456.30" x2="26.00" y2="458.60" stroke="#111" stroke-width="1.3" />
<text x="26.0" y="466.2" font-size="7.6" font-weight="normal" fill="#111" text-anchor="middle" >e<tspan font-size="4.5" dy="-2.6">−</tspan></text>
<polygon points="39.60,456.60 43.20,456.60 41.40,453.40" fill="#111" stroke="none" stroke-width="1" />
<line x1="41.40" y1="456.30" x2="41.40" y2="458.60" stroke="#111" stroke-width="1.3" />
<text x="41.4" y="466.2" font-size="7.6" font-weight="normal" fill="#111" text-anchor="middle" >e<tspan font-size="4.5" dy="-2.6">−</tspan></text>
<polygon points="54.90,456.60 58.50,456.60 56.70,453.40" fill="#111" stroke="none" stroke-width="1" />
<line x1="56.70" y1="456.30" x2="56.70" y2="458.60" stroke="#111" stroke-width="1.3" />
<text x="56.7" y="466.2" font-size="7.6" font-weight="normal" fill="#111" text-anchor="middle" >e<tspan font-size="4.5" dy="-2.6">−</tspan></text>
<polygon points="69.50,456.60 73.10,456.60 71.30,453.40" fill="#111" stroke="none" stroke-width="1" />
<line x1="71.30" y1="456.30" x2="71.30" y2="458.60" stroke="#111" stroke-width="1.3" />
<text x="71.3" y="466.2" font-size="7.6" font-weight="normal" fill="#111" text-anchor="middle" >e<tspan font-size="4.5" dy="-2.6">−</tspan></text>
<text x="48.8" y="480.6" font-size="7.4" font-weight="normal" fill="#ffffff" text-anchor="middle" >ZnO-SnO2</text>
<circle cx="29.30" cy="432.20" r="4.20" fill="url(#grball)" stroke="none" stroke-width="1" />
<circle cx="69.40" cy="432.20" r="4.20" fill="url(#grball)" stroke="none" stroke-width="1" />
<circle cx="23.40" cy="428.60" r="4.30" fill="url(#oxball)" stroke="none" stroke-width="1" />
<circle cx="35.20" cy="428.60" r="4.30" fill="url(#oxball)" stroke="none" stroke-width="1" />
<circle cx="48.00" cy="432.00" r="4.30" fill="url(#oxball)" stroke="none" stroke-width="1" />
<circle cx="63.50" cy="429.00" r="4.30" fill="url(#oxball)" stroke="none" stroke-width="1" />
<circle cx="72.70" cy="428.00" r="4.30" fill="url(#oxball)" stroke="none" stroke-width="1" />
<text x="47.9" y="503.2" font-size="8.3" font-weight="bold" fill="#111" text-anchor="middle" >In air</text>
<line x1="88.40" y1="465.00" x2="104.50" y2="465.00" stroke="#e0242c" stroke-width="1.2" />
<polygon points="107.20,465.00 103.80,463.30 103.80,466.70" fill="#e0242c" stroke="none" stroke-width="1" />
<rect x="111.00" y="443.90" width="71.00" height="9.10" fill="#e8a282" stroke="none" stroke-width="1" />
<rect x="111.00" y="453.00" width="71.00" height="37.80" fill="#8c9fcb" stroke="none" stroke-width="1" />
<line x1="122.80" y1="453.60" x2="122.80" y2="456.50" stroke="#111" stroke-width="1.3" />
<polygon points="121.00,455.80 124.60,455.80 122.80,459.00" fill="#111" stroke="none" stroke-width="1" />
<text x="122.8" y="466.2" font-size="7.6" font-weight="normal" fill="#111" text-anchor="middle" >e<tspan font-size="4.5" dy="-2.6">−</tspan></text>
<line x1="138.50" y1="453.60" x2="138.50" y2="456.50" stroke="#111" stroke-width="1.3" />
<polygon points="136.70,455.80 140.30,455.80 138.50,459.00" fill="#111" stroke="none" stroke-width="1" />
<text x="138.5" y="466.2" font-size="7.6" font-weight="normal" fill="#111" text-anchor="middle" >e<tspan font-size="4.5" dy="-2.6">−</tspan></text>
<line x1="153.80" y1="453.60" x2="153.80" y2="456.50" stroke="#111" stroke-width="1.3" />
<polygon points="152.00,455.80 155.60,455.80 153.80,459.00" fill="#111" stroke="none" stroke-width="1" />
<text x="153.8" y="466.2" font-size="7.6" font-weight="normal" fill="#111" text-anchor="middle" >e<tspan font-size="4.5" dy="-2.6">−</tspan></text>
<line x1="168.80" y1="453.60" x2="168.80" y2="456.50" stroke="#111" stroke-width="1.3" />
<polygon points="167.00,455.80 170.60,455.80 168.80,459.00" fill="#111" stroke="none" stroke-width="1" />
<text x="168.8" y="466.2" font-size="7.6" font-weight="normal" fill="#111" text-anchor="middle" >e<tspan font-size="4.5" dy="-2.6">−</tspan></text>
<text x="148.3" y="481.4" font-size="7.4" font-weight="normal" fill="#ffffff" text-anchor="middle" >ZnO-SnO2</text>
<circle cx="128.20" cy="441.90" r="4.20" fill="url(#grball)" stroke="none" stroke-width="1" />
<circle cx="134.70" cy="439.60" r="4.30" fill="url(#oxball)" stroke="none" stroke-width="1" />
<circle cx="162.40" cy="439.60" r="4.30" fill="url(#oxball)" stroke="none" stroke-width="1" />
<circle cx="168.90" cy="442.00" r="4.20" fill="url(#grball)" stroke="none" stroke-width="1" />
<text x="148.7" y="503.3" font-size="8.3" font-weight="bold" fill="#111" text-anchor="middle">In H<tspan font-size="5.5" dy="2">2</tspan></text>
<text x="97.0" y="424.3" font-size="8.3" font-weight="bold" fill="#111">H<tspan font-size="5.5" dy="2">2</tspan></text>
<text x="187.8" y="424.3" font-size="8.3" font-weight="bold" fill="#111">H<tspan font-size="5.5" dy="2">2</tspan><tspan dy="-2">O</tspan></text>
<path d="M111.6 421.4 C120 415, 132 414, 140 420 S152 431, 162 429 S176 426, 179 426" fill="none" stroke="#70a0d0" stroke-width="0.9" stroke-dasharray="2 1.6"/>
<polygon points="182.00,425.50 178.00,424.00 178.80,428.00" fill="#70a0d0" stroke="none" stroke-width="1" />
<line x1="7.40" y1="508.40" x2="113.90" y2="529.70" stroke="#eaa848" stroke-width="1.0" />
<line x1="206.80" y1="508.40" x2="141.20" y2="529.70" stroke="#eaa848" stroke-width="1.0" />
<polygon points="42.00,522.00 60.00,521.00 75.00,524.00 88.00,528.00 100.00,529.00 115.00,531.00 140.00,531.00 165.00,537.00 155.00,555.00 145.00,572.00 133.00,598.00 115.00,590.00 104.00,587.00 90.00,584.00 78.00,580.00 60.00,581.00 46.00,582.00 25.00,579.00 8.00,575.00 5.60,570.00 15.00,560.00 25.00,548.00 35.00,533.00" fill="url(#hex)" stroke="none" stroke-width="1" />
<polygon points="85.00,532.00 140.00,533.00 150.00,545.00 130.00,560.00 95.00,560.00" fill="url(#hex)" stroke="none" stroke-width="1" transform="translate(1.2,1.5)" opacity="0.6"/>
<polygon points="29.50,549.00 47.50,553.00 52.50,549.00 34.50,545.00" fill="#b8d4ec" stroke="none" stroke-width="1" />
<polygon points="30.50,547.00 47.50,551.00 51.50,546.00 34.50,542.00" fill="#d8a428" stroke="none" stroke-width="1" />
<polygon points="30.50,547.00 47.50,551.00 47.50,552.50 30.50,548.50" fill="#a87818" stroke="none" stroke-width="1" />
<line x1="35.50" y1="543.00" x2="32.50" y2="548.00" stroke="#b88a20" stroke-width="0.8" />
<line x1="40.50" y1="544.00" x2="38.00" y2="549.00" stroke="#b88a20" stroke-width="0.8" />
<line x1="45.50" y1="545.00" x2="43.50" y2="550.00" stroke="#b88a20" stroke-width="0.8" />
<circle cx="36.50" cy="544.50" r="1.70" fill="url(#grball)" stroke="none" stroke-width="1" />
<circle cx="43.50" cy="545.80" r="1.70" fill="url(#grball)" stroke="none" stroke-width="1" />
<circle cx="39.50" cy="548.20" r="1.70" fill="url(#grball)" stroke="none" stroke-width="1" />
<circle cx="46.50" cy="548.50" r="1.70" fill="url(#grball)" stroke="none" stroke-width="1" />
<polygon points="63.00,540.00 81.00,544.00 86.00,540.00 68.00,536.00" fill="#b8d4ec" stroke="none" stroke-width="1" />
<polygon points="64.00,538.00 81.00,542.00 85.00,537.00 68.00,533.00" fill="#d8a428" stroke="none" stroke-width="1" />
<polygon points="64.00,538.00 81.00,542.00 81.00,543.50 64.00,539.50" fill="#a87818" stroke="none" stroke-width="1" />
<line x1="69.00" y1="534.00" x2="66.00" y2="539.00" stroke="#b88a20" stroke-width="0.8" />
<line x1="74.00" y1="535.00" x2="71.50" y2="540.00" stroke="#b88a20" stroke-width="0.8" />
<line x1="79.00" y1="536.00" x2="77.00" y2="541.00" stroke="#b88a20" stroke-width="0.8" />
<circle cx="70.00" cy="535.50" r="1.70" fill="url(#grball)" stroke="none" stroke-width="1" />
<circle cx="77.00" cy="536.80" r="1.70" fill="url(#grball)" stroke="none" stroke-width="1" />
<circle cx="73.00" cy="539.20" r="1.70" fill="url(#grball)" stroke="none" stroke-width="1" />
<circle cx="80.00" cy="539.50" r="1.70" fill="url(#grball)" stroke="none" stroke-width="1" />
<polygon points="48.50,569.50 66.50,573.50 71.50,569.50 53.50,565.50" fill="#b8d4ec" stroke="none" stroke-width="1" />
<polygon points="49.50,567.50 66.50,571.50 70.50,566.50 53.50,562.50" fill="#d8a428" stroke="none" stroke-width="1" />
<polygon points="49.50,567.50 66.50,571.50 66.50,573.00 49.50,569.00" fill="#a87818" stroke="none" stroke-width="1" />
<line x1="54.50" y1="563.50" x2="51.50" y2="568.50" stroke="#b88a20" stroke-width="0.8" />
<line x1="59.50" y1="564.50" x2="57.00" y2="569.50" stroke="#b88a20" stroke-width="0.8" />
<line x1="64.50" y1="565.50" x2="62.50" y2="570.50" stroke="#b88a20" stroke-width="0.8" />
<circle cx="55.50" cy="565.00" r="1.70" fill="url(#grball)" stroke="none" stroke-width="1" />
<circle cx="62.50" cy="566.30" r="1.70" fill="url(#grball)" stroke="none" stroke-width="1" />
<circle cx="58.50" cy="568.70" r="1.70" fill="url(#grball)" stroke="none" stroke-width="1" />
<circle cx="65.50" cy="569.00" r="1.70" fill="url(#grball)" stroke="none" stroke-width="1" />
<polygon points="81.00,562.00 99.00,566.00 104.00,562.00 86.00,558.00" fill="#b8d4ec" stroke="none" stroke-width="1" />
<polygon points="82.00,560.00 99.00,564.00 103.00,559.00 86.00,555.00" fill="#d8a428" stroke="none" stroke-width="1" />
<polygon points="82.00,560.00 99.00,564.00 99.00,565.50 82.00,561.50" fill="#a87818" stroke="none" stroke-width="1" />
<line x1="87.00" y1="556.00" x2="84.00" y2="561.00" stroke="#b88a20" stroke-width="0.8" />
<line x1="92.00" y1="557.00" x2="89.50" y2="562.00" stroke="#b88a20" stroke-width="0.8" />
<line x1="97.00" y1="558.00" x2="95.00" y2="563.00" stroke="#b88a20" stroke-width="0.8" />
<circle cx="88.00" cy="557.50" r="1.70" fill="url(#grball)" stroke="none" stroke-width="1" />
<circle cx="95.00" cy="558.80" r="1.70" fill="url(#grball)" stroke="none" stroke-width="1" />
<circle cx="91.00" cy="561.20" r="1.70" fill="url(#grball)" stroke="none" stroke-width="1" />
<circle cx="98.00" cy="561.50" r="1.70" fill="url(#grball)" stroke="none" stroke-width="1" />
<polygon points="117.00,546.00 135.00,550.00 140.00,546.00 122.00,542.00" fill="#b8d4ec" stroke="none" stroke-width="1" />
<polygon points="118.00,544.00 135.00,548.00 139.00,543.00 122.00,539.00" fill="#d8a428" stroke="none" stroke-width="1" />
<polygon points="118.00,544.00 135.00,548.00 135.00,549.50 118.00,545.50" fill="#a87818" stroke="none" stroke-width="1" />
<line x1="123.00" y1="540.00" x2="120.00" y2="545.00" stroke="#b88a20" stroke-width="0.8" />
<line x1="128.00" y1="541.00" x2="125.50" y2="546.00" stroke="#b88a20" stroke-width="0.8" />
<line x1="133.00" y1="542.00" x2="131.00" y2="547.00" stroke="#b88a20" stroke-width="0.8" />
<circle cx="124.00" cy="541.50" r="1.70" fill="url(#grball)" stroke="none" stroke-width="1" />
<circle cx="131.00" cy="542.80" r="1.70" fill="url(#grball)" stroke="none" stroke-width="1" />
<circle cx="127.00" cy="545.20" r="1.70" fill="url(#grball)" stroke="none" stroke-width="1" />
<circle cx="134.00" cy="545.50" r="1.70" fill="url(#grball)" stroke="none" stroke-width="1" />
<polygon points="108.50,579.00 126.50,583.00 131.50,579.00 113.50,575.00" fill="#b8d4ec" stroke="none" stroke-width="1" />
<polygon points="109.50,577.00 126.50,581.00 130.50,576.00 113.50,572.00" fill="#d8a428" stroke="none" stroke-width="1" />
<polygon points="109.50,577.00 126.50,581.00 126.50,582.50 109.50,578.50" fill="#a87818" stroke="none" stroke-width="1" />
<line x1="114.50" y1="573.00" x2="111.50" y2="578.00" stroke="#b88a20" stroke-width="0.8" />
<line x1="119.50" y1="574.00" x2="117.00" y2="579.00" stroke="#b88a20" stroke-width="0.8" />
<line x1="124.50" y1="575.00" x2="122.50" y2="580.00" stroke="#b88a20" stroke-width="0.8" />
<circle cx="115.50" cy="574.50" r="1.70" fill="url(#grball)" stroke="none" stroke-width="1" />
<circle cx="122.50" cy="575.80" r="1.70" fill="url(#grball)" stroke="none" stroke-width="1" />
<circle cx="118.50" cy="578.20" r="1.70" fill="url(#grball)" stroke="none" stroke-width="1" />
<circle cx="125.50" cy="578.50" r="1.70" fill="url(#grball)" stroke="none" stroke-width="1" />
<circle cx="54.80" cy="533.00" r="1.70" fill="url(#grball)" stroke="none" stroke-width="1" />
<circle cx="31.60" cy="556.70" r="1.70" fill="url(#grball)" stroke="none" stroke-width="1" />
<circle cx="27.90" cy="570.60" r="1.70" fill="url(#grball)" stroke="none" stroke-width="1" />
<circle cx="56.70" cy="555.40" r="1.70" fill="url(#grball)" stroke="none" stroke-width="1" />
<circle cx="76.20" cy="549.20" r="1.70" fill="url(#grball)" stroke="none" stroke-width="1" />
<circle cx="84.50" cy="568.70" r="1.70" fill="url(#grball)" stroke="none" stroke-width="1" />
<circle cx="100.30" cy="541.80" r="1.70" fill="url(#grball)" stroke="none" stroke-width="1" />
<circle cx="101.30" cy="573.40" r="1.70" fill="url(#grball)" stroke="none" stroke-width="1" />
<circle cx="107.80" cy="550.00" r="1.70" fill="url(#grball)" stroke="none" stroke-width="1" />
<circle cx="118.60" cy="559.40" r="1.70" fill="url(#grball)" stroke="none" stroke-width="1" />
<circle cx="136.20" cy="568.40" r="1.70" fill="url(#grball)" stroke="none" stroke-width="1" />
<circle cx="145.50" cy="548.70" r="1.70" fill="url(#grball)" stroke="none" stroke-width="1" />
<rect x="113.90" y="529.70" width="27.30" height="25.10" fill="none" stroke="#eaa848" stroke-width="0.9" />
<text x="57.5" y="598.0" font-size="8.5" font-weight="bold" fill="#d8202c" text-anchor="middle" >rGO</text>
<line x1="78.00" y1="582.70" x2="69.50" y2="589.50" stroke="#d8202c" stroke-width="1.0" />
<polygon points="67.80,591.00 69.20,587.80 71.20,590.30" fill="#d8202c" stroke="none" stroke-width="1" />
<circle cx="172.50" cy="548.70" r="2.40" fill="url(#oxball)" stroke="none" stroke-width="1" />
<text x="177.1" y="550.0" font-size="4.4" font-weight="normal" fill="#222" text-anchor="start" >Adsorbed oxygen</text>
<polygon points="164.00,561.00 176.00,559.00 180.00,563.00 168.00,566.00" fill="#b4cce8" stroke="none" stroke-width="1" />
<text x="185.5" y="562.5" font-size="4.4" font-weight="normal" fill="#222" text-anchor="start" >SnO<tspan font-size="3" dy="0.9">2</tspan></text>
<circle cx="172.50" cy="576.20" r="2.40" fill="url(#grball)" stroke="none" stroke-width="1" />
<text x="182.7" y="577.5" font-size="4.4" font-weight="normal" fill="#222" text-anchor="start" >Pd NPS</text>
<polygon points="163.00,590.00 168.00,585.50 180.80,589.00 176.00,594.00" fill="#d4a030" stroke="none" stroke-width="1" />
<line x1="165.50" y1="588.00" x2="168.00" y2="592.50" stroke="#a87a18" stroke-width="0.7" />
<line x1="168.70" y1="588.60" x2="171.20" y2="593.10" stroke="#a87a18" stroke-width="0.7" />
<line x1="171.90" y1="589.20" x2="174.40" y2="593.70" stroke="#a87a18" stroke-width="0.7" />
<line x1="175.10" y1="589.80" x2="177.60" y2="594.30" stroke="#a87a18" stroke-width="0.7" />
<text x="185.8" y="590.5" font-size="4.4" font-weight="normal" fill="#222" text-anchor="start" >ZnO</text>
<line x1="-1.85" y1="204.45" x2="683.30" y2="204.45" stroke="#1b6c3c" stroke-width="1.6" stroke-dasharray="3.65 3.248"/>
<line x1="-1.75" y1="407.50" x2="683.30" y2="407.50" stroke="#1b6c3c" stroke-width="1.6" stroke-dasharray="3.65 3.248"/>
<rect x="683.80" y="0.00" width="1.20" height="614.00" fill="#ebebeb" stroke="none" stroke-width="1" />
<rect x="0.00" y="0.00" width="685.00" height="1.10" fill="#1a0c0c" stroke="none" stroke-width="1" />
<rect x="1.50" y="0.00" width="1.50" height="614.00" fill="#2a1c1c" stroke="none" stroke-width="1" />
<rect x="0.00" y="612.20" width="685.00" height="1.80" fill="#1a0c0c" stroke="none" stroke-width="1" />
</svg></body></html>
